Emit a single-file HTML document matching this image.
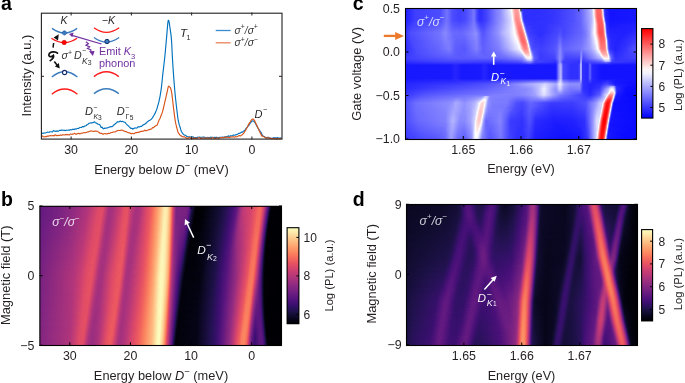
<!DOCTYPE html>
<html><head><meta charset="utf-8"><style>
html,body{margin:0;padding:0;background:#fff;width:685px;height:383px;overflow:hidden}
body{position:relative}
.hm{position:absolute;overflow:hidden}
.hm div{position:absolute;left:0;width:100%}
svg{position:absolute;left:0;top:0;display:block;font-family:'Liberation Sans', sans-serif;will-change:transform}
</style></head><body>
<div class="hm" style="left:40px;top:206px;width:242px;height:139px"><div style="top:0px;height:2px;background:linear-gradient(90deg,#641a80 0.5px,#752181 16.5px,#8c2981 32.5px,#a6317d 43.5px,#b5367a 48.5px,#e04c67 59.5px,#e24d66 62.5px,#de4968 63.5px,#aa337d 68.5px,#a1307e 70.5px,#ad347c 74.5px,#d2426f 81.5px,#e44f64 84.5px,#e85362 87.5px,#d9466b 89.5px,#b2357b 93.5px,#a5317e 96.5px,#ae347b 100.5px,#db476a 106.5px,#eb5760 110.5px,#f97b5d 114.5px,#feb078 119.5px,#fde0a1 123.5px,#fcecae 124.5px,#fcf0b2 125.5px,#fde3a5 127.5px,#febf84 129.5px,#fea36f 130.5px,#fa7e5e 131.5px,#e85362 132.5px,#ca3e72 133.5px,#aa337c 134.5px,#902a81 135.5px,#7e2482 136.5px,#782281 137.5px,#7c2382 145.5px,#6b1d81 148.5px,#60187f 149.5px,#491078 150.5px,#2c115f 151.5px,#19103f 152.5px,#02020c 155.5px,#000004 156.5px,#010106 163.5px,#07061b 170.5px,#160f3b 181.5px,#281159 187.5px,#491079 194.5px,#651a80 197.5px,#872781 199.5px,#a7327d 201.5px,#bd3977 203.5px,#cc3f71 207.5px,#d6446d 211.5px,#ed595f 216.5px,#f4675c 218.5px,#f4695c 220.5px,#e75263 222.5px,#d8456c 223.5px,#c03a76 224.5px,#7f2482 226.5px,#60187f 227.5px,#481078 228.5px,#20114b 229.5px,#0a0821 230.5px,#02020b 231.5px,#000004 232.5px,#000004 241.5px)"></div><div style="top:2px;height:2px;background:linear-gradient(90deg,#641a80 0.5px,#762181 17.5px,#932b80 34.5px,#ad347c 46.5px,#de4a68 58.5px,#e14c66 62.5px,#db486a 63.5px,#af347b 67.5px,#a3307e 69.5px,#a5317e 72.5px,#cc3f71 80.5px,#e24d66 83.5px,#e75263 87.5px,#cc3f71 90.5px,#b0357b 93.5px,#a5317e 96.5px,#aa337d 99.5px,#db486a 106.5px,#f05f5e 111.5px,#fa7c5e 114.5px,#feb179 119.5px,#fcecae 124.5px,#fcf0b2 125.5px,#fde2a4 127.5px,#febc82 129.5px,#fea06e 130.5px,#f97a5d 131.5px,#e65163 132.5px,#c83d73 133.5px,#8e2a81 135.5px,#7c2382 136.5px,#782281 138.5px,#7c2382 145.5px,#691c81 148.5px,#5c167f 149.5px,#410f74 150.5px,#241153 151.5px,#150e38 152.5px,#010108 155.5px,#000004 158.5px,#010108 163.5px,#08071e 171.5px,#19103f 182.5px,#3b0f70 191.5px,#55147d 195.5px,#6a1c81 197.5px,#9f2f7f 200.5px,#c03a76 203.5px,#cc3f71 207.5px,#db476a 212.5px,#ee5b5e 216.5px,#f4675c 218.5px,#f4685c 220.5px,#e55064 222.5px,#d2426f 223.5px,#b73779 224.5px,#752181 226.5px,#57157e 227.5px,#3d0f71 228.5px,#170f3b 229.5px,#060518 230.5px,#010107 231.5px,#000004 241.5px)"></div><div style="top:4px;height:2px;background:linear-gradient(90deg,#641a80 0.5px,#792282 19.5px,#932b80 34.5px,#ae347b 46.5px,#df4a68 58.5px,#e04b67 62.5px,#ad347c 67.5px,#a1307e 69.5px,#a6317d 72.5px,#ce4070 80.5px,#e34e65 83.5px,#e75263 87.5px,#bf3a77 91.5px,#aa337d 94.5px,#a6317d 97.5px,#b2357b 100.5px,#dc4869 106.5px,#ed595f 110.5px,#fa7e5e 114.5px,#feb37a 119.5px,#fceeb0 124.5px,#fdebac 126.5px,#fde2a3 127.5px,#feba80 129.5px,#fe9d6c 130.5px,#f9785d 131.5px,#e55064 132.5px,#c53c74 133.5px,#8c2981 135.5px,#7b2382 136.5px,#792282 142.5px,#7b2382 145.5px,#6f1e81 147.5px,#661b80 148.5px,#56147d 149.5px,#39106d 150.5px,#1e1149 151.5px,#120d31 152.5px,#000004 155.5px,#010106 162.5px,#140e36 179.5px,#271258 186.5px,#430f75 192.5px,#621980 196.5px,#6e1e81 197.5px,#a4317e 200.5px,#bb3878 202.5px,#cc3f71 206.5px,#d3436e 210.5px,#ea5661 215.5px,#f3655c 217.5px,#f4695c 219.5px,#f3665c 220.5px,#e14c66 222.5px,#cc3f71 223.5px,#af347b 224.5px,#8c2981 225.5px,#6b1c81 226.5px,#51127c 227.5px,#2d1161 228.5px,#0f0b2c 229.5px,#030311 230.5px,#000004 231.5px,#000004 241.5px)"></div><div style="top:6px;height:2px;background:linear-gradient(90deg,#651a80 0.5px,#732081 14.5px,#912b81 33.5px,#a5317e 42.5px,#b4367a 47.5px,#e04c67 58.5px,#de4a68 62.5px,#aa337c 67.5px,#a1307e 69.5px,#ad347c 73.5px,#d04170 80.5px,#e44f64 83.5px,#e55064 87.5px,#bc3977 91.5px,#a8327d 94.5px,#a6317d 97.5px,#b4367a 100.5px,#de4968 106.5px,#ed5a5f 110.5px,#f8765c 113.5px,#fea16e 117.5px,#fec085 120.5px,#fceeb0 124.5px,#fde9aa 126.5px,#fde0a1 127.5px,#feb87f 129.5px,#fd9b6b 130.5px,#f8755c 131.5px,#e34e65 132.5px,#c43c75 133.5px,#8b2981 135.5px,#7b2382 136.5px,#792282 145.5px,#6c1d81 147.5px,#611980 148.5px,#4d117a 149.5px,#2e1162 150.5px,#19103f 151.5px,#02020c 154.5px,#000004 155.5px,#010107 162.5px,#07061b 169.5px,#160f3b 180.5px,#311165 188.5px,#52137c 194.5px,#661b80 196.5px,#a7327d 200.5px,#bc3978 202.5px,#ca3e72 206.5px,#d9466b 211.5px,#ec5860 215.5px,#f3665c 217.5px,#f4695c 219.5px,#f3655c 220.5px,#eb5661 221.5px,#dc4869 222.5px,#c43c74 223.5px,#822581 225.5px,#611980 226.5px,#491078 227.5px,#20114b 228.5px,#090720 229.5px,#02010a 230.5px,#000004 231.5px,#000004 241.5px)"></div><div style="top:8px;height:2px;background:linear-gradient(90deg,#651a80 0.5px,#792282 18.5px,#932b80 33.5px,#b2357b 46.5px,#df4a68 57.5px,#e24d66 61.5px,#d1426f 63.5px,#a9327d 67.5px,#a1307e 69.5px,#b3357a 74.5px,#d3426e 80.5px,#e44f64 83.5px,#e85362 86.5px,#e55064 87.5px,#c53c74 90.5px,#ac337c 93.5px,#a5317e 95.5px,#ae347b 99.5px,#de4a68 106.5px,#ee5b5e 110.5px,#f9785d 113.5px,#fea36f 117.5px,#fec186 120.5px,#fcf0b2 124.5px,#fde9aa 126.5px,#fde0a1 127.5px,#feb77e 129.5px,#fd9a6a 130.5px,#f7725c 131.5px,#e14c66 132.5px,#c13b76 133.5px,#a2307e 134.5px,#8b2981 135.5px,#7b2382 136.5px,#772181 145.5px,#5c167f 148.5px,#430f75 149.5px,#251255 150.5px,#150e38 151.5px,#010107 154.5px,#000004 160.5px,#120d31 177.5px,#221150 184.5px,#410f74 191.5px,#5f187f 195.5px,#7b2382 197.5px,#a9327d 200.5px,#bc3978 202.5px,#ca3e72 206.5px,#d5446d 210.5px,#ed595f 215.5px,#f4675c 217.5px,#f4695c 219.5px,#f1615d 220.5px,#e85362 221.5px,#d6456c 222.5px,#bd3977 223.5px,#9b2e7f 224.5px,#59157e 226.5px,#3f0f72 227.5px,#170f3c 228.5px,#060518 229.5px,#010107 230.5px,#000004 240.5px,#000004 241.5px)"></div><div style="top:10px;height:2px;background:linear-gradient(90deg,#661b80 0.5px,#792282 17.5px,#912b81 32.5px,#af347b 45.5px,#e04b67 57.5px,#e04c67 61.5px,#ae347c 66.5px,#a1307e 69.5px,#b83779 75.5px,#dc4869 81.5px,#e75263 84.5px,#e85362 86.5px,#e44e65 87.5px,#b83779 91.5px,#a6317d 94.5px,#aa337c 98.5px,#db476a 105.5px,#ef5d5e 110.5px,#f9795d 113.5px,#fead76 118.5px,#fddd9f 122.5px,#fcf0b2 124.5px,#fde9aa 126.5px,#fddea0 127.5px,#feb67c 129.5px,#fd9869 130.5px,#f66f5c 131.5px,#e04b67 132.5px,#c03a76 133.5px,#a1307e 134.5px,#892881 135.5px,#7b2382 136.5px,#742081 145.5px,#631980 147.5px,#56147d 148.5px,#39106d 149.5px,#20114b 150.5px,#120d31 151.5px,#010005 154.5px,#010106 161.5px,#08071e 170.5px,#1a1042 181.5px,#3e0f72 190.5px,#58157e 194.5px,#6f1e81 196.5px,#9f2f7f 199.5px,#b5367a 201.5px,#c73d73 205.5px,#d6456c 210.5px,#e95462 214.5px,#f4685c 217.5px,#f4695c 219.5px,#e55064 221.5px,#d0416f 222.5px,#b4367a 223.5px,#902a81 224.5px,#52137c 226.5px,#301164 227.5px,#100c2e 228.5px,#030311 229.5px,#000004 230.5px,#000004 241.5px)"></div><div style="top:12px;height:2px;background:linear-gradient(90deg,#671b80 0.5px,#792282 16.5px,#922b80 32.5px,#b1357b 45.5px,#de4968 56.5px,#e24d66 60.5px,#df4a68 61.5px,#ac337c 66.5px,#a1307e 68.5px,#ac337c 72.5px,#d7456c 80.5px,#e55064 83.5px,#e85362 86.5px,#cc3f71 89.5px,#ae347b 92.5px,#a5317e 95.5px,#ab337c 98.5px,#db486a 105.5px,#eb5760 109.5px,#f97a5d 113.5px,#feae77 118.5px,#fddfa1 122.5px,#fdebac 123.5px,#fcf0b2 124.5px,#fde9aa 126.5px,#fddd9f 127.5px,#feb47b 129.5px,#fd9668 130.5px,#f66c5c 131.5px,#de4968 132.5px,#be3977 133.5px,#9f2f7f 134.5px,#882881 135.5px,#7b2382 136.5px,#752181 144.5px,#681c81 146.5px,#5e177f 147.5px,#4d117a 148.5px,#2f1163 149.5px,#1a1041 150.5px,#08061d 152.5px,#02020c 153.5px,#000004 154.5px,#010108 161.5px,#110c30 176.5px,#22114f 183.5px,#3f0f73 190.5px,#5b167f 194.5px,#742081 196.5px,#a2307e 199.5px,#bc3978 202.5px,#d7456c 210.5px,#ea5661 214.5px,#f3665c 216.5px,#f4695c 219.5px,#ee5b5f 220.5px,#e04c67 221.5px,#ca3e72 222.5px,#872781 224.5px,#661b80 225.5px,#4b117a 226.5px,#231150 227.5px,#0a0822 228.5px,#02010a 229.5px,#000004 230.5px,#000004 241.5px)"></div><div style="top:14px;height:2px;background:linear-gradient(90deg,#671b80 0.5px,#862781 25.5px,#b3357a 45.5px,#df4a68 56.5px,#e24d66 60.5px,#d3426e 62.5px,#aa337d 66.5px,#a1307e 68.5px,#ae347c 72.5px,#d9466b 80.5px,#e75263 83.5px,#e75263 86.5px,#be3977 90.5px,#a8327d 93.5px,#a6317d 96.5px,#b4367a 99.5px,#dc4869 105.5px,#ec5860 109.5px,#fa7c5e 113.5px,#feb078 118.5px,#fdecad 123.5px,#fcf2b4 124.5px,#fde9aa 126.5px,#fddc9e 127.5px,#feb27a 129.5px,#fd9467 130.5px,#f56a5c 131.5px,#db486a 132.5px,#bc3978 133.5px,#9d2f7f 134.5px,#882781 135.5px,#7c2382 136.5px,#722081 144.5px,#641a80 146.5px,#59157e 147.5px,#430f75 148.5px,#261156 149.5px,#150e38 150.5px,#010108 153.5px,#000004 156.5px,#02020b 162.5px,#120d31 176.5px,#221150 183.5px,#420f75 190.5px,#5e177f 194.5px,#a4317e 199.5px,#bc3978 202.5px,#dd4969 211.5px,#ec5860 214.5px,#f4675c 216.5px,#f56b5c 218.5px,#f3665c 219.5px,#ec5860 220.5px,#dc4869 221.5px,#c23b75 222.5px,#a1307e 223.5px,#5d177f 225.5px,#430f75 226.5px,#180f3e 227.5px,#06051a 228.5px,#010107 229.5px,#000004 239.5px,#000004 241.5px)"></div><div style="top:16px;height:2px;background:linear-gradient(90deg,#681c81 0.5px,#7a2382 16.5px,#972d80 33.5px,#b4367a 45.5px,#e04c67 56.5px,#e14c66 60.5px,#c43c74 63.5px,#a8327d 66.5px,#a1307e 68.5px,#b4367a 73.5px,#db486a 80.5px,#e75263 83.5px,#e75263 86.5px,#bc3978 90.5px,#a7327d 93.5px,#a8327d 96.5px,#ae347b 98.5px,#dd4969 105.5px,#ed5a5f 109.5px,#fa7e5e 113.5px,#feb27a 118.5px,#fcedaf 123.5px,#fcf2b4 124.5px,#fde7a9 126.5px,#fec88c 128.5px,#feb078 129.5px,#fd9165 130.5px,#f4675c 131.5px,#da476a 132.5px,#ba3878 133.5px,#9c2e7f 134.5px,#872781 135.5px,#7c2382 136.5px,#6f1e81 144.5px,#54137d 147.5px,#3a0f6f 148.5px,#20114b 149.5px,#120d31 150.5px,#010005 153.5px,#010107 160.5px,#060519 167.5px,#180f3d 179.5px,#390f6e 188.5px,#58157e 193.5px,#6e1e81 195.5px,#8f2a81 197.5px,#af347b 200.5px,#c43c75 204.5px,#d9466b 210.5px,#ed595f 214.5px,#f4695c 216.5px,#f56b5c 218.5px,#f3655c 219.5px,#e85362 220.5px,#d6456c 221.5px,#bb3878 222.5px,#972d80 223.5px,#56147d 225.5px,#36106b 226.5px,#120d31 227.5px,#040313 228.5px,#010005 229.5px,#000004 241.5px)"></div><div style="top:18px;height:2px;background:linear-gradient(90deg,#681c81 0.5px,#892881 26.5px,#b2357b 44.5px,#de4a68 55.5px,#e34e65 59.5px,#d7456c 61.5px,#ac337c 65.5px,#a1307e 68.5px,#c03a76 75.5px,#e55064 82.5px,#e95462 85.5px,#e55064 86.5px,#b93878 90.5px,#a6317d 93.5px,#ab337c 97.5px,#de4968 105.5px,#ee5b5f 109.5px,#fa805f 113.5px,#feb37a 118.5px,#fceeb0 123.5px,#fcf2b4 124.5px,#fde7a9 126.5px,#fec68a 128.5px,#feae77 129.5px,#fc8f64 130.5px,#f3655c 131.5px,#d8456c 132.5px,#b73779 133.5px,#9a2e7f 134.5px,#862781 135.5px,#7c2382 136.5px,#6c1d81 144.5px,#5b167f 146.5px,#4d117a 147.5px,#301164 148.5px,#1a1042 149.5px,#0e0b2b 150.5px,#02020c 152.5px,#010005 153.5px,#010108 160.5px,#100b2d 174.5px,#1e1149 181.5px,#400f74 189.5px,#5b167f 193.5px,#722081 195.5px,#9c2e7f 198.5px,#b0357b 200.5px,#c53c74 205.5px,#df4a68 211.5px,#ef5c5e 214.5px,#f56a5c 216.5px,#f56c5c 218.5px,#f1615d 219.5px,#e55064 220.5px,#d0416f 221.5px,#b3357a 222.5px,#8e2a81 223.5px,#6b1d81 224.5px,#4f127b 225.5px,#29115a 226.5px,#0c0926 227.5px,#02020c 228.5px,#000004 229.5px,#000004 241.5px)"></div><div style="top:20px;height:2px;background:linear-gradient(90deg,#691c81 0.5px,#842681 22.5px,#a1307e 36.5px,#b3357a 44.5px,#e04b67 55.5px,#e24d66 59.5px,#d4436d 61.5px,#aa337c 65.5px,#a1307e 67.5px,#ae347c 71.5px,#d9466b 79.5px,#e75263 82.5px,#e95462 85.5px,#da476a 87.5px,#ae347b 91.5px,#a5317e 94.5px,#b2357b 98.5px,#df4a68 105.5px,#ef5c5e 109.5px,#f9785d 112.5px,#fea16e 116.5px,#fec185 119.5px,#fcf0b2 123.5px,#fceeb0 125.5px,#fde7a9 126.5px,#fec589 128.5px,#feac76 129.5px,#fc8d63 130.5px,#f1615d 131.5px,#d6446d 132.5px,#b63779 133.5px,#982d80 134.5px,#842681 135.5px,#722081 140.5px,#6e1e81 143.5px,#611980 145.5px,#56147d 146.5px,#440f76 147.5px,#281159 148.5px,#150e38 149.5px,#050417 151.5px,#010109 152.5px,#010005 156.5px,#02020b 161.5px,#0d0a29 172.5px,#1c1145 180.5px,#3d0f71 188.5px,#55147d 192.5px,#772181 195.5px,#9e2f7f 198.5px,#b5367a 201.5px,#db486a 210.5px,#ea5661 213.5px,#f4675c 215.5px,#f56b5c 218.5px,#ef5e5e 219.5px,#e14c66 220.5px,#c93e72 221.5px,#852781 223.5px,#631980 224.5px,#481078 225.5px,#1e1148 226.5px,#08071e 227.5px,#010109 228.5px,#000004 230.5px,#000004 241.5px)"></div><div style="top:22px;height:2px;background:linear-gradient(90deg,#6a1c81 0.5px,#842681 21.5px,#9c2e7f 34.5px,#b4367a 44.5px,#de4968 54.5px,#e34e65 58.5px,#db486a 60.5px,#b0357b 64.5px,#a1307e 67.5px,#af347b 71.5px,#da476a 79.5px,#e75263 82.5px,#e85362 85.5px,#d7456c 87.5px,#b4367a 90.5px,#a5317e 93.5px,#ae347c 97.5px,#db476a 104.5px,#ef5e5e 109.5px,#fb835f 113.5px,#feb67d 118.5px,#fde8aa 122.5px,#fcf1b3 123.5px,#fcf2b4 124.5px,#fde5a7 126.5px,#fec388 128.5px,#feaa74 129.5px,#fc8a62 130.5px,#f05f5d 131.5px,#d4436d 132.5px,#b3367a 133.5px,#972d80 134.5px,#842681 135.5px,#721f81 140.5px,#6c1d81 143.5px,#51127c 146.5px,#3a0f6f 147.5px,#20114d 148.5px,#120d31 149.5px,#010005 152.5px,#010108 159.5px,#0c0926 171.5px,#1d1147 180.5px,#3f0f72 188.5px,#58157e 192.5px,#6c1d81 194.5px,#952c80 197.5px,#b0357b 200.5px,#d8456c 209.5px,#ec5860 213.5px,#f4695c 215.5px,#f66c5c 217.5px,#f4695c 218.5px,#ed595f 219.5px,#dc4869 220.5px,#c23b75 221.5px,#a1307e 222.5px,#7c2382 223.5px,#5b167e 224.5px,#3f0f73 225.5px,#160f39 226.5px,#050416 227.5px,#010005 228.5px,#000004 241.5px)"></div><div style="top:24px;height:2px;background:linear-gradient(90deg,#6a1c81 0.5px,#922b80 29.5px,#b63779 44.5px,#df4a68 54.5px,#e34e65 58.5px,#d9466b 60.5px,#ae347c 64.5px,#a3307e 66.5px,#a7327d 69.5px,#d6446d 78.5px,#e55064 81.5px,#e85362 85.5px,#c93e72 88.5px,#ab337c 91.5px,#a5317e 93.5px,#ae347b 97.5px,#dc4869 104.5px,#f05f5e 109.5px,#fb8560 113.5px,#feb87f 118.5px,#fdeaab 122.5px,#fcf2b4 123.5px,#fcecae 125.5px,#fde5a7 126.5px,#fec287 128.5px,#fea974 129.5px,#fc8961 130.5px,#ef5c5e 131.5px,#d2426f 132.5px,#b1357b 133.5px,#962c80 134.5px,#842681 135.5px,#701f81 140.5px,#691c81 143.5px,#4b117a 146.5px,#321066 147.5px,#1a1042 148.5px,#0e0b2b 149.5px,#02020c 151.5px,#010005 152.5px,#010109 159.5px,#090720 169.5px,#1c1044 179.5px,#400f74 188.5px,#5b167f 192.5px,#7f2482 195.5px,#a1307e 198.5px,#bf3a77 203.5px,#de4968 210.5px,#ed5a5f 213.5px,#f56b5c 215.5px,#f66d5c 217.5px,#f3665c 218.5px,#e95561 219.5px,#d6456c 220.5px,#bb3878 221.5px,#972d80 222.5px,#732081 223.5px,#54137d 224.5px,#331067 225.5px,#100c2e 226.5px,#030311 227.5px,#000004 228.5px,#000004 241.5px)"></div><div style="top:26px;height:2px;background:linear-gradient(90deg,#6b1d81 0.5px,#802582 17.5px,#9c2e7f 33.5px,#b73779 44.5px,#dd4969 53.5px,#e34e65 58.5px,#d6446d 60.5px,#ab337c 64.5px,#a3307e 66.5px,#a8327d 69.5px,#d8456c 78.5px,#e65163 81.5px,#e75263 85.5px,#ba3878 89.5px,#aa337d 91.5px,#a6317d 94.5px,#b0357b 97.5px,#dd4969 104.5px,#ed595f 108.5px,#fa7c5e 112.5px,#feaf78 117.5px,#fdecad 122.5px,#fcf2b4 123.5px,#fcecae 125.5px,#fde3a5 126.5px,#fec185 128.5px,#fea872 129.5px,#fb8660 130.5px,#ed5a5f 131.5px,#d04170 132.5px,#af347b 133.5px,#942c80 134.5px,#832681 135.5px,#6f1e81 140.5px,#661b80 143.5px,#53137d 145.5px,#440f76 146.5px,#29115a 147.5px,#150e38 148.5px,#050417 150.5px,#010109 151.5px,#010005 155.5px,#08071e 168.5px,#1c1145 179.5px,#3d0f71 187.5px,#5d177f 192.5px,#992d80 197.5px,#b5367a 201.5px,#da476a 209.5px,#e85362 212.5px,#f56c5c 215.5px,#f66e5c 217.5px,#f2635d 218.5px,#e65163 219.5px,#d0416f 220.5px,#b3357a 221.5px,#8d2981 222.5px,#6b1c81 223.5px,#4e117b 224.5px,#271158 225.5px,#0b0924 226.5px,#02020c 227.5px,#000004 228.5px,#000004 241.5px)"></div><div style="top:28px;height:2px;background:linear-gradient(90deg,#6b1d81 0.5px,#922b80 28.5px,#b5367a 43.5px,#de4a68 53.5px,#e44e65 57.5px,#dd4969 59.5px,#b1357b 63.5px,#a5317e 65.5px,#a5317e 68.5px,#da476a 78.5px,#e75263 81.5px,#e95462 84.5px,#e65163 85.5px,#b73779 89.5px,#a9327d 91.5px,#a6317d 94.5px,#b2357b 97.5px,#de4968 104.5px,#ee5b5f 108.5px,#fa7e5e 112.5px,#fea772 116.5px,#feca8d 119.5px,#fcecae 122.5px,#fcf4b6 123.5px,#fcecae 125.5px,#fde3a5 126.5px,#febf84 128.5px,#fea671 129.5px,#fb8460 130.5px,#ec5860 131.5px,#cd4071 132.5px,#ae347c 133.5px,#942b80 134.5px,#832681 135.5px,#6e1e81 140.5px,#631980 143.5px,#4e117b 145.5px,#3b0f70 146.5px,#21114e 147.5px,#120d31 148.5px,#010106 151.5px,#010108 158.5px,#08071e 168.5px,#1d1147 179.5px,#3f0f72 187.5px,#57157e 191.5px,#792282 194.5px,#a3307e 198.5px,#c23b75 204.5px,#e55064 211.5px,#f4685c 214.5px,#f66e5c 216.5px,#f66c5c 217.5px,#f05f5d 218.5px,#e24d66 219.5px,#ca3e72 220.5px,#852781 222.5px,#631980 223.5px,#471078 224.5px,#1c1145 225.5px,#08061d 226.5px,#010109 227.5px,#000004 229.5px,#000004 241.5px)"></div><div style="top:30px;height:2px;background:linear-gradient(90deg,#6c1d81 0.5px,#852781 19.5px,#a1307e 34.5px,#bb3878 44.5px,#dc4869 52.5px,#e34e65 57.5px,#da476a 59.5px,#af347b 63.5px,#a4317e 65.5px,#a6317d 68.5px,#db486a 78.5px,#e75263 81.5px,#e95462 84.5px,#da476a 86.5px,#b5367a 89.5px,#a5317e 92.5px,#ae347c 96.5px,#de4a68 104.5px,#ee5b5e 108.5px,#fa7f5e 112.5px,#feb27a 117.5px,#fceeb0 122.5px,#fcf4b6 123.5px,#fcecae 125.5px,#fed194 127.5px,#febe83 128.5px,#fea470 129.5px,#fa805f 130.5px,#ea5661 131.5px,#cb3f72 132.5px,#ab337c 133.5px,#932b80 134.5px,#832681 135.5px,#6c1d81 140.5px,#5f187f 143.5px,#491078 145.5px,#331067 146.5px,#1c1044 147.5px,#0f0b2c 148.5px,#02020c 150.5px,#010106 151.5px,#020109 158.5px,#09071f 168.5px,#1e1149 179.5px,#400f74 187.5px,#59157e 191.5px,#9b2e7f 197.5px,#ba3878 202.5px,#dc4869 209.5px,#ec5860 212.5px,#f56b5c 214.5px,#f66e5c 216.5px,#f56c5c 217.5px,#ef5c5e 218.5px,#de4968 219.5px,#c43c75 220.5px,#a1307e 221.5px,#5c167f 223.5px,#3f0f73 224.5px,#160f3b 225.5px,#050417 226.5px,#010005 227.5px,#000004 241.5px)"></div><div style="top:32px;height:2px;background:linear-gradient(90deg,#6d1d81 0.5px,#922b80 27.5px,#b83779 43.5px,#de4968 52.5px,#e44f64 56.5px,#e04b67 58.5px,#ac337c 63.5px,#a3307e 65.5px,#a8327d 68.5px,#dd4969 78.5px,#e85362 81.5px,#e95462 84.5px,#d7456c 86.5px,#b3357a 89.5px,#a6317d 91.5px,#aa337c 95.5px,#df4a68 104.5px,#ef5d5e 108.5px,#fa815f 112.5px,#feb47b 117.5px,#fde6a8 121.5px,#fcf0b2 122.5px,#fcf4b6 123.5px,#fdecad 125.5px,#fed093 127.5px,#fea26f 129.5px,#fa7e5e 130.5px,#e85362 131.5px,#c93e72 132.5px,#a9327d 133.5px,#912b81 134.5px,#832681 135.5px,#6b1c81 140.5px,#5b167f 143.5px,#430f75 145.5px,#2a115c 146.5px,#160f3b 147.5px,#0c0925 148.5px,#010109 150.5px,#010108 157.5px,#090720 168.5px,#1c1044 178.5px,#3d0f71 186.5px,#54137d 190.5px,#711f81 193.5px,#932b80 196.5px,#b5367a 201.5px,#de4968 209.5px,#ee5b5f 212.5px,#f66c5c 214.5px,#f7705c 216.5px,#f4695c 217.5px,#eb5760 218.5px,#d8456c 219.5px,#bc3978 220.5px,#982d80 221.5px,#56147d 223.5px,#35106a 224.5px,#110c2f 225.5px,#040313 226.5px,#000004 227.5px,#000004 241.5px)"></div><div style="top:34px;height:2px;background:linear-gradient(90deg,#6d1d81 0.5px,#992d80 30.5px,#ba3878 43.5px,#df4a68 52.5px,#e34e65 57.5px,#d4436d 59.5px,#aa337c 63.5px,#a3307e 66.5px,#b93878 71.5px,#e75263 80.5px,#e85362 84.5px,#d6446d 86.5px,#b1357b 89.5px,#a6317d 91.5px,#ab337c 95.5px,#e04b67 104.5px,#f05f5e 108.5px,#fb835f 112.5px,#feb67c 117.5px,#fde8aa 121.5px,#fcf1b3 122.5px,#fcf4b6 123.5px,#fdebac 125.5px,#fecf92 127.5px,#febb81 128.5px,#fea06e 129.5px,#f97a5d 130.5px,#e65163 131.5px,#c63d74 132.5px,#a7327d 133.5px,#902a81 134.5px,#832681 135.5px,#6c1d81 139.5px,#60187f 142.5px,#4b117a 144.5px,#3b0f70 145.5px,#221150 146.5px,#120d33 147.5px,#010107 150.5px,#010109 157.5px,#08071e 167.5px,#1d1147 178.5px,#3f0f72 186.5px,#56147d 190.5px,#942c80 196.5px,#ba3878 202.5px,#df4a68 209.5px,#ef5c5e 212.5px,#f66d5c 214.5px,#f7705c 216.5px,#f3665c 217.5px,#e85362 218.5px,#d2426f 219.5px,#b5367a 220.5px,#902a81 221.5px,#50127b 223.5px,#2b115d 224.5px,#0d0a29 225.5px,#03020e 226.5px,#000004 227.5px,#000004 241.5px)"></div><div style="top:36px;height:2px;background:linear-gradient(90deg,#6e1e81 0.5px,#982d80 29.5px,#b73779 42.5px,#dd4969 51.5px,#e44f64 56.5px,#db486a 58.5px,#af347b 62.5px,#a3307e 65.5px,#aa337c 68.5px,#e04c67 78.5px,#e95462 82.5px,#e75263 84.5px,#b83779 88.5px,#a9327d 90.5px,#a6317d 93.5px,#b93878 97.5px,#e04c67 104.5px,#f05f5d 108.5px,#fb8460 112.5px,#feac76 116.5px,#fdeaab 121.5px,#fcf2b4 122.5px,#fcf0b2 124.5px,#fdebac 125.5px,#fecd90 127.5px,#feb97f 128.5px,#fe9d6c 129.5px,#f9785d 130.5px,#e55064 131.5px,#c43c74 132.5px,#a5317e 133.5px,#902a81 134.5px,#832681 135.5px,#6b1c81 139.5px,#5d177f 142.5px,#461077 144.5px,#331068 145.5px,#1c1044 146.5px,#0f0b2c 147.5px,#02020d 149.5px,#010106 150.5px,#020109 157.5px,#08071e 167.5px,#1e1148 178.5px,#3b0f70 185.5px,#58157e 190.5px,#942c80 196.5px,#ba3878 202.5px,#e55064 210.5px,#f56a5c 213.5px,#f66f5c 216.5px,#f2635d 217.5px,#e44e65 218.5px,#cc3f71 219.5px,#ad347c 220.5px,#882781 221.5px,#671b80 222.5px,#4a1079 223.5px,#20114d 224.5px,#0a0821 225.5px,#02010a 226.5px,#000004 227.5px,#000004 241.5px)"></div><div style="top:38px;height:2px;background:linear-gradient(90deg,#6e1e81 0.5px,#9b2e7f 30.5px,#bd3977 43.5px,#de4968 51.5px,#e44f64 56.5px,#d9466b 58.5px,#ae347c 62.5px,#a4317e 64.5px,#a7327d 67.5px,#dd4969 77.5px,#e95462 81.5px,#ea5661 83.5px,#e65163 84.5px,#b63779 88.5px,#a8327d 90.5px,#a5317e 92.5px,#b3367a 96.5px,#de4968 103.5px,#ed5a5f 107.5px,#fa7c5e 111.5px,#fea36f 115.5px,#fec78b 118.5px,#fdebac 121.5px,#fcf4b6 122.5px,#fcf0b2 124.5px,#fdebac 125.5px,#fecc90 127.5px,#feb77e 128.5px,#fd9b6b 129.5px,#f8755c 130.5px,#e24d66 131.5px,#c23b75 132.5px,#a3307e 133.5px,#8e2a81 134.5px,#742081 137.5px,#58157e 142.5px,#400f74 144.5px,#2b115d 145.5px,#160f3b 146.5px,#0c0925 147.5px,#02010a 149.5px,#010106 152.5px,#02020d 159.5px,#07061c 166.5px,#1c1044 177.5px,#3d0f71 185.5px,#5a167e 190.5px,#962c80 196.5px,#bf3a77 203.5px,#e65163 210.5px,#f56c5c 213.5px,#f7715c 215.5px,#f66d5c 216.5px,#f05f5d 217.5px,#df4a68 218.5px,#c53c74 219.5px,#802581 221.5px,#5f187f 222.5px,#440f76 223.5px,#1a1042 224.5px,#07061c 225.5px,#010107 226.5px,#000004 236.5px,#000004 241.5px)"></div><div style="top:40px;height:2px;background:linear-gradient(90deg,#6e1e81 0.5px,#9e2f7f 31.5px,#bb3878 42.5px,#df4a68 51.5px,#e44f64 55.5px,#de4a68 57.5px,#ab337c 62.5px,#a3307e 65.5px,#b3367a 69.5px,#e34e65 78.5px,#ea5661 83.5px,#da476a 85.5px,#b3357a 88.5px,#a6317d 90.5px,#ab337c 94.5px,#e24d66 104.5px,#f2635d 108.5px,#fb8761 112.5px,#feaf78 116.5px,#fcecae 121.5px,#fcf4b6 122.5px,#fcf0b2 124.5px,#fddc9e 126.5px,#feb67c 128.5px,#fd9a6a 129.5px,#f7715c 130.5px,#e04b67 131.5px,#c03a76 132.5px,#a1307e 133.5px,#8d2981 134.5px,#6c1d81 138.5px,#55147d 142.5px,#3b0f70 144.5px,#241153 145.5px,#130d34 146.5px,#040313 148.5px,#010108 149.5px,#020109 156.5px,#07061c 166.5px,#1c1145 177.5px,#3e0f72 185.5px,#5d177f 190.5px,#962c80 196.5px,#d2426f 206.5px,#e75263 210.5px,#f66d5c 213.5px,#f7725c 215.5px,#f56c5c 216.5px,#ee5b5f 217.5px,#da476a 218.5px,#bf3a77 219.5px,#9c2e7f 220.5px,#5a167e 222.5px,#3d0f71 223.5px,#150e38 224.5px,#050417 225.5px,#010005 226.5px,#000004 241.5px)"></div><div style="top:42px;height:2px;background:linear-gradient(90deg,#701f81 0.5px,#9b2e7f 29.5px,#bc3977 42.5px,#de4968 50.5px,#e44f64 55.5px,#dc4869 57.5px,#b1357b 61.5px,#a5317e 63.5px,#a5317e 66.5px,#e04c67 77.5px,#e95561 81.5px,#e95462 83.5px,#d7456c 85.5px,#b1357b 88.5px,#a6317d 90.5px,#a9327d 93.5px,#df4a68 103.5px,#ef5c5e 107.5px,#fa7f5e 111.5px,#fea772 115.5px,#fecc8f 118.5px,#fceeb0 121.5px,#fcf5b7 122.5px,#fcf0b2 124.5px,#fde9aa 125.5px,#feca8d 127.5px,#feb57c 128.5px,#fd9869 129.5px,#f66f5c 130.5px,#de4a68 131.5px,#bd3977 132.5px,#a02f7f 133.5px,#8c2981 134.5px,#6b1c81 138.5px,#59157e 141.5px,#440f76 143.5px,#331068 144.5px,#1d1147 145.5px,#0f0b2c 146.5px,#03020e 148.5px,#010108 149.5px,#02020b 157.5px,#06051a 165.5px,#1d1147 177.5px,#3f0f73 185.5px,#56147d 189.5px,#962c80 196.5px,#cc3f71 205.5px,#e85362 210.5px,#f66e5c 213.5px,#f7725c 215.5px,#f4695c 216.5px,#ea5661 217.5px,#d5446d 218.5px,#b83779 219.5px,#942c80 220.5px,#55147d 222.5px,#341069 223.5px,#110c30 224.5px,#040313 225.5px,#000004 226.5px,#000004 241.5px)"></div><div style="top:44px;height:2px;background:linear-gradient(90deg,#701f81 0.5px,#a1307e 31.5px,#bd3977 42.5px,#db486a 49.5px,#e55064 54.5px,#e14c66 56.5px,#d04170 58.5px,#ae347b 61.5px,#a3307e 64.5px,#ac337c 67.5px,#e55064 78.5px,#ea5661 82.5px,#e85362 83.5px,#d5446d 85.5px,#ae347b 88.5px,#a5317e 91.5px,#b3357a 95.5px,#df4a68 103.5px,#ef5e5e 107.5px,#fa815f 111.5px,#fea872 115.5px,#fecd90 118.5px,#fcf0b2 121.5px,#fcf6b8 122.5px,#fcf0b2 124.5px,#fdda9c 126.5px,#feb37a 128.5px,#fd9668 129.5px,#f56c5c 130.5px,#db486a 131.5px,#bb3878 132.5px,#9e2f7f 133.5px,#8c2981 134.5px,#691c81 138.5px,#56147d 141.5px,#3e0f72 143.5px,#2c115f 144.5px,#180f3d 145.5px,#0c0926 146.5px,#02010a 148.5px,#02010a 156.5px,#06051a 165.5px,#120d31 171.5px,#21114e 178.5px,#3c0f70 184.5px,#59157e 189.5px,#902a81 195.5px,#ce4070 205.5px,#ea5661 210.5px,#f56c5c 212.5px,#f7725c 215.5px,#f3665c 216.5px,#e65163 217.5px,#b2357b 219.5px,#8e2a81 220.5px,#50127b 222.5px,#2c115f 223.5px,#0e0a2a 224.5px,#03030f 225.5px,#000004 226.5px,#000004 241.5px)"></div><div style="top:46px;height:2px;background:linear-gradient(90deg,#711f81 0.5px,#a4317e 32.5px,#bf3a77 42.5px,#dd4969 49.5px,#e55064 54.5px,#e04b67 56.5px,#ac337c 61.5px,#a3307e 64.5px,#ae347c 67.5px,#e34e65 77.5px,#ea5661 82.5px,#e75263 83.5px,#d3426e 85.5px,#b63779 87.5px,#a8327d 89.5px,#a5317e 91.5px,#b3367a 95.5px,#e04c67 103.5px,#f05f5e 107.5px,#fb825f 111.5px,#fea974 115.5px,#fed093 118.5px,#fcf1b3 121.5px,#fcf6b8 122.5px,#fcf0b2 124.5px,#fed89a 126.5px,#fec88c 127.5px,#feb179 128.5px,#fd9366 129.5px,#f4685c 130.5px,#da476a 131.5px,#b83779 132.5px,#9c2e7f 133.5px,#8b2981 134.5px,#671b80 138.5px,#52137c 141.5px,#38106c 143.5px,#140e35 145.5px,#040313 147.5px,#010109 148.5px,#020109 155.5px,#060518 164.5px,#120d31 171.5px,#1e1149 177.5px,#39106d 183.5px,#5b167f 189.5px,#962c80 196.5px,#d04170 205.5px,#ec5860 210.5px,#f66d5c 212.5px,#f8735c 214.5px,#f7705c 215.5px,#f2635d 216.5px,#e24d66 217.5px,#ca3e72 218.5px,#862781 220.5px,#4b117a 222.5px,#241153 223.5px,#0c0925 224.5px,#02020c 225.5px,#000004 226.5px,#000004 241.5px)"></div><div style="top:48px;height:2px;background:linear-gradient(90deg,#721f81 0.5px,#a5317e 32.5px,#c03a76 42.5px,#de4a68 49.5px,#e55064 54.5px,#dd4969 56.5px,#b3357a 60.5px,#a5317e 62.5px,#a5317e 65.5px,#e04c67 76.5px,#ea5661 80.5px,#ea5661 82.5px,#e65163 83.5px,#c03a76 86.5px,#aa337c 88.5px,#a5317e 90.5px,#b0357b 94.5px,#e14c66 103.5px,#f1605d 107.5px,#fb8460 111.5px,#feab75 115.5px,#fed295 118.5px,#fcf3b5 121.5px,#fcf4b6 123.5px,#fde6a8 125.5px,#fec68a 127.5px,#feaf78 128.5px,#fd9165 129.5px,#f3655c 130.5px,#d7456c 131.5px,#b63779 132.5px,#9c2e7f 133.5px,#8b2981 134.5px,#651a80 138.5px,#4e117b 141.5px,#410f74 142.5px,#331067 143.5px,#1e1149 144.5px,#100b2d 145.5px,#03020e 147.5px,#010108 148.5px,#02020b 156.5px,#07061c 165.5px,#100b2d 169.5px,#1d1147 176.5px,#3a0f6f 183.5px,#55147d 188.5px,#962c80 196.5px,#d1426f 205.5px,#e75263 209.5px,#f66f5c 212.5px,#f8745c 214.5px,#f66e5c 215.5px,#ef5e5e 216.5px,#de4968 217.5px,#c43c75 218.5px,#802582 220.5px,#601880 221.5px,#461077 222.5px,#1d1147 223.5px,#0a0821 224.5px,#010109 225.5px,#000004 227.5px,#000004 241.5px)"></div><div style="top:50px;height:2px;background:linear-gradient(90deg,#721f81 0.5px,#a3307e 31.5px,#c23b75 42.5px,#dc4869 48.5px,#e55064 53.5px,#e24d66 55.5px,#d1426f 57.5px,#af347b 60.5px,#a5317e 62.5px,#a6317d 65.5px,#e24d66 76.5px,#ea5661 81.5px,#ea5661 82.5px,#d9466b 84.5px,#b1357b 87.5px,#a6317d 89.5px,#aa337d 92.5px,#c33b75 97.5px,#e55064 104.5px,#f56b5c 108.5px,#fc8e64 112.5px,#feb87f 116.5px,#fde1a2 119.5px,#fcf4b6 121.5px,#fcf4b6 123.5px,#fde5a7 125.5px,#fec589 127.5px,#fead76 128.5px,#fc8f64 129.5px,#f1615d 130.5px,#d5446d 131.5px,#b4367a 132.5px,#9b2e7f 133.5px,#802582 135.5px,#631980 138.5px,#491079 141.5px,#3b0f70 142.5px,#2c115f 143.5px,#19103f 144.5px,#0d0a27 145.5px,#02020b 147.5px,#010108 151.5px,#050416 163.5px,#130d34 171.5px,#20114d 177.5px,#3b0f70 183.5px,#56147d 188.5px,#902a81 195.5px,#cc3f71 204.5px,#e85362 209.5px,#f56a5c 211.5px,#f8745c 213.5px,#f8745c 214.5px,#f56c5c 215.5px,#ed595f 216.5px,#d8456c 217.5px,#bd3977 218.5px,#7b2382 220.5px,#5c167f 221.5px,#410f74 222.5px,#19103f 223.5px,#08061d 224.5px,#010106 225.5px,#000004 241.5px)"></div><div style="top:52px;height:2px;background:linear-gradient(90deg,#732081 0.5px,#a6317d 32.5px,#c43c75 42.5px,#de4968 48.5px,#e55064 53.5px,#e04c67 55.5px,#ae347c 60.5px,#a5317e 62.5px,#a8327d 65.5px,#e34e65 76.5px,#eb5760 81.5px,#e95561 82.5px,#d7456c 84.5px,#ae347b 87.5px,#a6317d 89.5px,#aa337d 92.5px,#e24d66 103.5px,#f2645c 107.5px,#fb8761 111.5px,#feae77 115.5px,#fde2a4 119.5px,#fcf5b7 121.5px,#fcf4b6 123.5px,#fde3a5 125.5px,#fec388 127.5px,#feab75 128.5px,#fc8b63 129.5px,#f05f5e 130.5px,#d3426e 131.5px,#b1357b 132.5px,#992d80 133.5px,#681c81 137.5px,#50127b 140.5px,#450f76 141.5px,#36106b 142.5px,#251255 143.5px,#140e36 144.5px,#0a0822 145.5px,#020109 147.5px,#02020b 155.5px,#050416 163.5px,#110c2f 169.5px,#1c1044 175.5px,#3d0f71 183.5px,#59157e 188.5px,#962c80 196.5px,#cd4071 204.5px,#eb5661 209.5px,#f66c5c 211.5px,#f8745c 213.5px,#f8745c 214.5px,#f4685c 215.5px,#e95462 216.5px,#b83779 218.5px,#952c80 219.5px,#58157e 221.5px,#3b0f70 222.5px,#150e38 223.5px,#06051a 224.5px,#010005 225.5px,#000004 241.5px)"></div><div style="top:54px;height:2px;background:linear-gradient(90deg,#732081 0.5px,#aa337d 33.5px,#c63d74 42.5px,#e24d66 49.5px,#e65163 53.5px,#d6456c 56.5px,#b3367a 59.5px,#a6317d 61.5px,#a5317e 64.5px,#e04c67 75.5px,#ea5661 79.5px,#e85362 82.5px,#d3436e 84.5px,#b63779 86.5px,#a8327d 88.5px,#a6317d 90.5px,#b4367a 94.5px,#df4a68 102.5px,#ef5d5e 106.5px,#fa7f5e 110.5px,#fea571 114.5px,#fecb8e 117.5px,#fceeb0 120.5px,#fcf6b8 121.5px,#fcf4b6 123.5px,#fde3a5 125.5px,#fec287 127.5px,#fea974 128.5px,#fc8a62 129.5px,#ef5c5e 130.5px,#d04170 131.5px,#af347b 132.5px,#982d80 133.5px,#661b80 137.5px,#4d117a 140.5px,#3f0f73 141.5px,#301164 142.5px,#110c2f 144.5px,#08061d 145.5px,#020109 147.5px,#02020d 157.5px,#050416 163.5px,#100b2d 168.5px,#1e1149 176.5px,#3e0f72 183.5px,#5a167e 188.5px,#9e2f7f 197.5px,#d5446d 205.5px,#ec5860 209.5px,#f66f5c 211.5px,#f8765c 213.5px,#f7725c 214.5px,#f3665c 215.5px,#e55064 216.5px,#b2357b 218.5px,#6f1e81 220.5px,#53137d 221.5px,#36106b 222.5px,#120d33 223.5px,#050417 224.5px,#000004 225.5px,#000004 241.5px)"></div><div style="top:56px;height:2px;background:linear-gradient(90deg,#742081 0.5px,#a9327d 32.5px,#c33b75 41.5px,#dd4969 47.5px,#e75263 52.5px,#dc4869 55.5px,#b1357b 59.5px,#a5317e 61.5px,#aa337c 65.5px,#d9466b 73.5px,#e95462 78.5px,#eb5760 81.5px,#e75263 82.5px,#b3357a 86.5px,#a6317d 88.5px,#ab337c 92.5px,#e44e65 103.5px,#f3665c 107.5px,#fc8961 111.5px,#feb27a 115.5px,#fde6a8 119.5px,#fcf6b8 121.5px,#fcf4b6 123.5px,#fde2a3 125.5px,#fec185 127.5px,#fea872 128.5px,#fb8660 129.5px,#ed595f 130.5px,#cd4071 131.5px,#ad347c 132.5px,#982d80 133.5px,#641a80 137.5px,#481078 140.5px,#390f6e 141.5px,#2a115c 142.5px,#19103f 143.5px,#0d0a29 144.5px,#02020c 146.5px,#02020b 155.5px,#040414 162.5px,#110c30 169.5px,#20114b 176.5px,#3a0f6f 182.5px,#55147d 187.5px,#902a81 195.5px,#c83e73 203.5px,#e75263 208.5px,#f7715c 211.5px,#f8765c 213.5px,#f7715c 214.5px,#f2635d 215.5px,#e04c67 216.5px,#ab337c 218.5px,#6b1c81 220.5px,#50127b 221.5px,#2f1163 222.5px,#100c2e 223.5px,#040415 224.5px,#000004 225.5px,#000004 241.5px)"></div><div style="top:58px;height:2px;background:linear-gradient(90deg,#752181 0.5px,#ac337c 33.5px,#c43c74 41.5px,#de4a68 47.5px,#e55064 53.5px,#da476a 55.5px,#ae347b 59.5px,#a5317e 61.5px,#a7327d 64.5px,#db476a 73.5px,#ea5661 78.5px,#eb5760 81.5px,#da476a 83.5px,#b1357b 86.5px,#a6317d 88.5px,#aa337d 91.5px,#e04c67 102.5px,#f05f5d 106.5px,#fb825f 110.5px,#fea973 114.5px,#fecf92 117.5px,#fcf2b4 120.5px,#fcf7b9 122.5px,#fcecae 124.5px,#fed295 126.5px,#fea671 128.5px,#fb8460 129.5px,#eb5661 130.5px,#cb3f72 131.5px,#ab337c 132.5px,#962c80 133.5px,#611980 137.5px,#430f75 140.5px,#341069 141.5px,#251254 142.5px,#150e38 143.5px,#0b0823 144.5px,#02010a 146.5px,#02020d 157.5px,#040414 162.5px,#0e0b2b 167.5px,#1d1147 175.5px,#37106c 181.5px,#56147d 187.5px,#982d80 196.5px,#d1426f 204.5px,#e85362 208.5px,#f56c5c 210.5px,#f8765c 212.5px,#f8765c 213.5px,#f66e5c 214.5px,#ef5e5e 215.5px,#dc4869 216.5px,#c43c75 217.5px,#842681 219.5px,#4d117a 221.5px,#29115b 222.5px,#0f0b2c 223.5px,#040313 224.5px,#000004 225.5px,#000004 241.5px)"></div><div style="top:60px;height:2px;background:linear-gradient(90deg,#752181 0.5px,#ad347c 33.5px,#cb3f72 42.5px,#df4a68 47.5px,#e75263 52.5px,#d8456c 55.5px,#b4367a 58.5px,#a6317d 60.5px,#a5317e 63.5px,#dd4969 73.5px,#ea5661 78.5px,#ea5661 81.5px,#d8456c 83.5px,#ae347c 86.5px,#a5317e 89.5px,#b83779 94.5px,#e55064 103.5px,#f4695c 107.5px,#fc8b63 111.5px,#feb67c 115.5px,#fdeaab 119.5px,#fcf7b9 121.5px,#fcf4b6 123.5px,#fde0a1 125.5px,#febe83 127.5px,#fea470 128.5px,#fa805f 129.5px,#e85362 130.5px,#c83d73 131.5px,#aa337d 132.5px,#872781 134.5px,#691c81 136.5px,#4b117a 139.5px,#3e0f72 140.5px,#2e1162 141.5px,#110c30 143.5px,#030311 145.5px,#020109 146.5px,#02020d 157.5px,#050416 162.5px,#110c2f 168.5px,#1e1148 175.5px,#3d0f71 182.5px,#57157e 187.5px,#982d80 196.5px,#d3426e 204.5px,#eb5661 208.5px,#f66d5c 210.5px,#f8765c 212.5px,#f8765c 213.5px,#f56c5c 214.5px,#ec5860 215.5px,#d8456c 216.5px,#bf3a77 217.5px,#7f2482 219.5px,#491079 221.5px,#241153 222.5px,#0d0a29 223.5px,#03030f 224.5px,#000004 225.5px,#000004 241.5px)"></div><div style="top:62px;height:2px;background:linear-gradient(90deg,#762181 0.5px,#ab337c 32.5px,#c83d73 41.5px,#de4968 46.5px,#e75263 52.5px,#d6446d 55.5px,#b2357b 58.5px,#a6317d 60.5px,#a5317e 63.5px,#de4a68 73.5px,#ea5661 78.5px,#e95561 81.5px,#d4436d 83.5px,#b63779 85.5px,#a8327d 87.5px,#a6317d 89.5px,#b93878 94.5px,#e65163 103.5px,#f56b5c 107.5px,#fc8c63 111.5px,#feb77e 115.5px,#fdecad 119.5px,#fcf7b9 121.5px,#fcf3b5 123.5px,#fddfa1 125.5px,#febc82 127.5px,#fea26f 128.5px,#fa7c5e 129.5px,#e65163 130.5px,#c53c74 131.5px,#a8327d 132.5px,#752181 135.5px,#471078 139.5px,#38106c 140.5px,#1a1042 142.5px,#0e0a2a 143.5px,#02020c 145.5px,#02020b 154.5px,#050416 162.5px,#100b2d 167.5px,#1e1149 175.5px,#390f6e 181.5px,#59157e 187.5px,#982d80 196.5px,#d4436d 204.5px,#ec5860 208.5px,#f7715c 210.5px,#f9785d 212.5px,#f8755c 213.5px,#f4695c 214.5px,#e85362 215.5px,#b93878 217.5px,#7a2382 219.5px,#461077 221.5px,#20114d 222.5px,#0c0925 223.5px,#02020d 224.5px,#000004 225.5px,#000004 241.5px)"></div><div style="top:64px;height:2px;background:linear-gradient(90deg,#762181 0.5px,#b2357b 34.5px,#c93e72 41.5px,#df4a68 46.5px,#e65163 52.5px,#d3426e 55.5px,#b73779 57.5px,#a5317e 60.5px,#a6317d 63.5px,#db486a 72.5px,#eb5760 78.5px,#e85362 81.5px,#d1426f 83.5px,#b3357a 85.5px,#a6317d 87.5px,#a9327d 90.5px,#df4a68 101.5px,#ef5c5e 105.5px,#fa7d5e 109.5px,#fea26f 113.5px,#fec78b 116.5px,#fcedaf 119.5px,#fcf8ba 121.5px,#fdebac 124.5px,#fece91 126.5px,#febb81 127.5px,#fea06e 128.5px,#f9785d 129.5px,#e44e65 130.5px,#c33b75 131.5px,#a6317d 132.5px,#722081 135.5px,#4f127b 138.5px,#420f75 139.5px,#331067 140.5px,#241153 141.5px,#0b0823 143.5px,#02020b 145.5px,#02020b 154.5px,#050417 162.5px,#0e0b2b 166.5px,#1c1145 174.5px,#3a0f6f 181.5px,#53137d 186.5px,#902a81 195.5px,#c73d73 202.5px,#e75263 207.5px,#f8735c 210.5px,#f9785d 212.5px,#f8735c 213.5px,#f3665c 214.5px,#e44f64 215.5px,#b4367a 217.5px,#752181 219.5px,#5b167f 220.5px,#430f75 221.5px,#1c1145 222.5px,#0b0924 223.5px,#02020b 224.5px,#000004 225.5px,#000004 241.5px)"></div><div style="top:66px;height:2px;background:linear-gradient(90deg,#772181 0.5px,#b0357b 33.5px,#cb3f72 41.5px,#e04c67 46.5px,#e85362 51.5px,#d9466b 54.5px,#b63779 57.5px,#a7327d 59.5px,#a5317e 62.5px,#dd4969 72.5px,#ea5661 77.5px,#eb5760 80.5px,#db486a 82.5px,#b0357b 85.5px,#a6317d 87.5px,#aa337d 90.5px,#df4a68 101.5px,#ef5e5e 105.5px,#fa7f5e 109.5px,#fea36f 113.5px,#feca8d 116.5px,#fceeb0 119.5px,#fcf9bb 121.5px,#fcf2b4 123.5px,#fddc9e 125.5px,#feb97f 127.5px,#fe9e6c 128.5px,#f8755c 129.5px,#e14c66 130.5px,#c03a76 131.5px,#a5317e 132.5px,#611980 136.5px,#4b117a 138.5px,#3d0f71 139.5px,#1e1149 141.5px,#09071f 143.5px,#030311 144.5px,#020109 145.5px,#030312 160.5px,#08071e 163.5px,#120d31 168.5px,#1d1147 174.5px,#37106c 180.5px,#55147d 186.5px,#982d80 196.5px,#d7456c 204.5px,#e85362 207.5px,#f8745c 210.5px,#f9785d 212.5px,#f7715c 213.5px,#f2635d 214.5px,#e04c67 215.5px,#ae347b 217.5px,#722081 219.5px,#58157e 220.5px,#3f0f73 221.5px,#1a1041 222.5px,#0a0822 223.5px,#02010a 224.5px,#000004 225.5px,#000004 241.5px)"></div><div style="top:68px;height:2px;background:linear-gradient(90deg,#782281 0.5px,#b3367a 34.5px,#cd4071 41.5px,#e34e65 47.5px,#e75263 51.5px,#d7456c 54.5px,#b3357a 57.5px,#a6317d 59.5px,#a5317e 62.5px,#df4a68 72.5px,#eb5760 78.5px,#eb5760 80.5px,#d9466b 82.5px,#ae347c 85.5px,#a5317e 88.5px,#bd3977 94.5px,#e85362 103.5px,#f9785d 108.5px,#fd9b6a 112.5px,#febd82 115.5px,#fde6a8 118.5px,#fcf7b9 120.5px,#fcf6b8 122.5px,#fde9aa 124.5px,#fecc8f 126.5px,#feb77e 127.5px,#fd9c6b 128.5px,#f7715c 129.5px,#df4a68 130.5px,#bd3977 131.5px,#a3307e 132.5px,#5f187f 136.5px,#471078 138.5px,#38106c 139.5px,#1a1042 141.5px,#0e0b2b 142.5px,#03020e 144.5px,#02020d 157.5px,#040414 161.5px,#100b2d 166.5px,#1d1147 174.5px,#38106c 180.5px,#56147d 186.5px,#982d80 196.5px,#d9466b 204.5px,#eb5661 207.5px,#f66f5c 209.5px,#f9785d 211.5px,#f9785d 212.5px,#f66f5c 213.5px,#ef5e5e 214.5px,#dc4869 215.5px,#aa337d 217.5px,#6f1e81 219.5px,#56147d 220.5px,#3c0f70 221.5px,#180f3e 222.5px,#090720 223.5px,#010109 224.5px,#000004 226.5px,#000004 241.5px)"></div><div style="top:70px;height:2px;background:linear-gradient(90deg,#782281 0.5px,#b2357b 33.5px,#c93e72 40.5px,#df4a68 45.5px,#e75263 51.5px,#d4436d 54.5px,#b93878 56.5px,#a5317e 59.5px,#a6317d 62.5px,#e04c67 72.5px,#ec5860 79.5px,#ea5661 80.5px,#d6446d 82.5px,#b63779 84.5px,#ab337c 85.5px,#a5317e 87.5px,#b4367a 92.5px,#e55064 102.5px,#f4695c 106.5px,#fd9266 111.5px,#febf84 115.5px,#fde7a9 118.5px,#fcf7b9 120.5px,#fcf6b8 122.5px,#fcf2b4 123.5px,#fdda9c 125.5px,#fecb8e 126.5px,#fd9969 128.5px,#f66d5c 129.5px,#dc4869 130.5px,#bb3878 131.5px,#a1307e 132.5px,#6b1c81 135.5px,#430f75 138.5px,#331068 139.5px,#160f39 141.5px,#050417 143.5px,#02020b 144.5px,#03030f 159.5px,#0a0821 163.5px,#110c2f 167.5px,#1e1149 174.5px,#390f6e 180.5px,#57157e 186.5px,#912b81 195.5px,#cc3f71 202.5px,#e55064 206.5px,#f7725c 209.5px,#f9795d 211.5px,#f8775c 212.5px,#f56c5c 213.5px,#ec5860 214.5px,#d7456c 215.5px,#a3307e 217.5px,#6b1c81 219.5px,#53137d 220.5px,#390f6e 221.5px,#170f3c 222.5px,#090720 223.5px,#010108 224.5px,#000004 227.5px,#000004 241.5px)"></div><div style="top:72px;height:2px;background:linear-gradient(90deg,#782281 0.5px,#b2357b 33.5px,#d04170 41.5px,#e44f64 47.5px,#e55064 51.5px,#da476a 53.5px,#ae347c 57.5px,#a5317e 59.5px,#a6317d 62.5px,#d8456c 70.5px,#ea5661 76.5px,#ec5860 79.5px,#e04b67 81.5px,#b3357a 84.5px,#a6317d 86.5px,#a9327d 89.5px,#de4968 100.5px,#f2625d 105.5px,#fc8a62 110.5px,#feb47b 114.5px,#fde9aa 118.5px,#fcf9bb 120.5px,#fcf6b8 122.5px,#fde6a8 124.5px,#fec88c 126.5px,#feb27a 127.5px,#fd9567 128.5px,#f4685c 129.5px,#d9466b 130.5px,#b73779 131.5px,#9f2f7f 132.5px,#5b167f 136.5px,#3f0f73 138.5px,#2f1163 139.5px,#140e35 141.5px,#040313 143.5px,#02020b 144.5px,#03030f 159.5px,#100b2d 166.5px,#1c1044 173.5px,#390f6e 180.5px,#59157e 186.5px,#942b80 195.5px,#ce4070 202.5px,#e75263 206.5px,#f8755c 209.5px,#f9795d 211.5px,#f8755c 212.5px,#f4685c 213.5px,#e75263 214.5px,#d0416f 215.5px,#9b2e7f 217.5px,#671b80 219.5px,#52137c 220.5px,#38106c 221.5px,#160f3b 222.5px,#08071e 223.5px,#010107 224.5px,#000004 234.5px,#000004 241.5px)"></div><div style="top:74px;height:2px;background:linear-gradient(90deg,#792282 0.5px,#b2357b 33.5px,#d0416f 41.5px,#e34e65 46.5px,#e55064 51.5px,#d7456c 53.5px,#b3367a 56.5px,#a6317d 58.5px,#a8327d 62.5px,#de4968 71.5px,#eb5760 77.5px,#ec5860 79.5px,#dd4969 81.5px,#bc3977 83.5px,#aa337d 85.5px,#a6317d 88.5px,#d1426f 97.5px,#eb5661 103.5px,#f8745c 107.5px,#fd9668 111.5px,#feb67c 114.5px,#fde9aa 118.5px,#fcf9bb 120.5px,#fcf6b8 122.5px,#fde5a7 124.5px,#fec589 126.5px,#feaf78 127.5px,#fc9065 128.5px,#f2635d 129.5px,#d6446d 130.5px,#b4367a 131.5px,#8c2981 133.5px,#671b80 135.5px,#4d117a 137.5px,#3c0f70 138.5px,#1c1145 140.5px,#100c2e 141.5px,#03030f 143.5px,#02020b 146.5px,#030311 159.5px,#120d31 167.5px,#1d1147 173.5px,#3a0f6f 180.5px,#5a167e 186.5px,#952c80 195.5px,#d1426f 202.5px,#e95561 206.5px,#f8765c 209.5px,#f9795d 211.5px,#f8735c 212.5px,#f3655c 213.5px,#e04c67 214.5px,#af347b 216.5px,#7b2382 218.5px,#50127b 220.5px,#37106c 221.5px,#160f3b 222.5px,#08071e 223.5px,#010106 224.5px,#000004 241.5px)"></div><div style="top:76px;height:2px;background:linear-gradient(90deg,#792282 0.5px,#b5367a 34.5px,#cc3f71 40.5px,#e04c67 45.5px,#e75263 50.5px,#dd4969 52.5px,#c83d73 54.5px,#b93878 55.5px,#a5317e 58.5px,#a5317e 61.5px,#de4968 71.5px,#eb5760 76.5px,#eb5760 79.5px,#d9466b 81.5px,#ae347c 84.5px,#a5317e 87.5px,#bd3977 93.5px,#e85362 102.5px,#f8765c 107.5px,#fd9768 111.5px,#feb67d 114.5px,#fdebac 118.5px,#fcf9bb 120.5px,#fcf6b8 122.5px,#fde3a5 124.5px,#fec388 126.5px,#feab75 127.5px,#fc8b63 128.5px,#ef5e5e 129.5px,#d3426e 130.5px,#b1357b 131.5px,#752181 134.5px,#4a1079 137.5px,#39106d 138.5px,#1a1041 140.5px,#060519 142.5px,#02020c 143.5px,#03030f 158.5px,#09071f 162.5px,#1d1147 173.5px,#37106c 179.5px,#56147d 185.5px,#8f2a81 194.5px,#cb3f72 201.5px,#e55064 205.5px,#f3655c 207.5px,#f7715c 208.5px,#f9795d 210.5px,#f9795d 211.5px,#f7715c 212.5px,#f05f5e 213.5px,#da476a 214.5px,#a8327d 216.5px,#8c2981 217.5px,#4f127b 220.5px,#36106b 221.5px,#160f3b 222.5px,#08061d 223.5px,#010106 224.5px,#000004 241.5px)"></div><div style="top:78px;height:2px;background:linear-gradient(90deg,#792282 0.5px,#b5367a 34.5px,#d3426e 41.5px,#e55064 47.5px,#e65163 50.5px,#d0416f 53.5px,#b63779 55.5px,#a3307e 58.5px,#a5317e 61.5px,#df4a68 71.5px,#ec5860 77.5px,#ea5661 79.5px,#d5446d 81.5px,#ac337c 84.5px,#a5317e 86.5px,#b3367a 91.5px,#e14c66 100.5px,#f05f5d 104.5px,#fb8761 109.5px,#feac76 113.5px,#fdebac 118.5px,#fcf9bb 120.5px,#fcf6b8 122.5px,#fde2a3 124.5px,#fec085 126.5px,#fea872 127.5px,#fb8761 128.5px,#ed5a5f 129.5px,#cf4070 130.5px,#af347b 131.5px,#732081 134.5px,#481078 137.5px,#35106a 138.5px,#160f3b 140.5px,#040415 142.5px,#02020b 143.5px,#030312 159.5px,#110c2f 166.5px,#1e1149 173.5px,#38106c 179.5px,#56147d 185.5px,#902a81 194.5px,#cc3f71 201.5px,#e75263 205.5px,#f8745c 208.5px,#f97b5d 210.5px,#f9785d 211.5px,#f66d5c 212.5px,#ec5860 213.5px,#d3426e 214.5px,#a02f7f 216.5px,#722081 218.5px,#4e127b 220.5px,#341069 221.5px,#160f3b 222.5px,#07061c 223.5px,#010106 224.5px,#000004 241.5px)"></div><div style="top:80px;height:2px;background:linear-gradient(90deg,#792282 0.5px,#b3367a 33.5px,#c83e73 39.5px,#e24d66 45.5px,#e75263 49.5px,#e04b67 51.5px,#cc3f71 53.5px,#b3367a 55.5px,#a5317e 57.5px,#a3307e 60.5px,#c43c74 66.5px,#e34e65 72.5px,#ec5860 78.5px,#e04b67 80.5px,#b4367a 83.5px,#a6317d 85.5px,#a8327d 88.5px,#de4968 99.5px,#f1605d 104.5px,#fa815f 108.5px,#fea470 112.5px,#fec78b 115.5px,#fdecad 118.5px,#fcf6b8 119.5px,#fcf9bb 121.5px,#fcecae 123.5px,#febe83 126.5px,#fea470 127.5px,#fb825f 128.5px,#eb5661 129.5px,#cb3f72 130.5px,#ac337c 131.5px,#711f81 134.5px,#450f76 137.5px,#321066 138.5px,#140e35 140.5px,#030311 142.5px,#02020b 144.5px,#040313 159.5px,#100b2d 165.5px,#1c1044 172.5px,#38106c 179.5px,#58157e 185.5px,#922b80 194.5px,#c63d74 200.5px,#e34e65 204.5px,#ef5e5e 206.5px,#f8775c 208.5px,#f97b5d 210.5px,#f8775c 211.5px,#f4695c 212.5px,#e75263 213.5px,#cc3f71 214.5px,#992d80 216.5px,#6f1e81 218.5px,#4e117b 220.5px,#341069 221.5px,#160f3b 222.5px,#07061c 223.5px,#010106 224.5px,#000004 241.5px)"></div><div style="top:82px;height:2px;background:linear-gradient(90deg,#792282 0.5px,#b3367a 33.5px,#ca3e72 39.5px,#e04b67 44.5px,#e75263 49.5px,#dd4969 51.5px,#b1357b 55.5px,#a4317e 57.5px,#a6317d 61.5px,#e04c67 71.5px,#ec5860 76.5px,#ec5860 78.5px,#dd4969 80.5px,#b1357b 83.5px,#a6317d 85.5px,#aa337d 88.5px,#df4a68 99.5px,#f2625d 104.5px,#fb825f 108.5px,#fea571 112.5px,#fec88c 115.5px,#fcecae 118.5px,#fcf9bb 120.5px,#fcf5b7 122.5px,#fddea0 124.5px,#feba80 126.5px,#fea06e 127.5px,#fa7c5e 128.5px,#e75263 129.5px,#c83d73 130.5px,#aa337d 131.5px,#6e1e81 134.5px,#52137c 136.5px,#410f74 137.5px,#2e1162 138.5px,#100c2e 140.5px,#03020e 142.5px,#02020d 153.5px,#040414 159.5px,#100b2d 165.5px,#1d1147 172.5px,#390f6e 179.5px,#59157e 185.5px,#942b80 194.5px,#c93e72 200.5px,#eb5661 205.5px,#f9785d 208.5px,#f97b5d 210.5px,#f8755c 211.5px,#f3655c 212.5px,#e04c67 213.5px,#c43c75 214.5px,#932b80 216.5px,#6c1d81 218.5px,#4e117b 220.5px,#341069 221.5px,#160f3b 222.5px,#07061c 223.5px,#010106 224.5px,#000004 241.5px)"></div><div style="top:84px;height:2px;background:linear-gradient(90deg,#7b2382 0.5px,#b3367a 33.5px,#d0416f 40.5px,#e34e65 45.5px,#e65163 49.5px,#db476a 51.5px,#ae347c 55.5px,#a1307e 58.5px,#a8327d 61.5px,#e14c66 71.5px,#ec5860 76.5px,#eb5760 78.5px,#d9466b 80.5px,#ae347b 83.5px,#a5317e 85.5px,#b2357b 90.5px,#e04b67 99.5px,#f2645c 104.5px,#fc8b63 109.5px,#feb179 113.5px,#fcedaf 118.5px,#fcf9bb 120.5px,#fcf4b6 122.5px,#fddc9e 124.5px,#fecc90 125.5px,#fd9c6b 127.5px,#f8775c 128.5px,#e44f64 129.5px,#c43c74 130.5px,#a7327d 131.5px,#6c1d81 134.5px,#4e127b 136.5px,#3e0f72 137.5px,#1a1042 139.5px,#0e0a2a 140.5px,#02020b 142.5px,#030312 158.5px,#1d1147 172.5px,#390f6e 179.5px,#5a167e 185.5px,#952c80 194.5px,#cb3f72 200.5px,#e65163 204.5px,#f3665c 206.5px,#f8735c 207.5px,#f97b5d 209.5px,#f97b5d 210.5px,#f8735c 211.5px,#f05f5d 212.5px,#d9466b 213.5px,#bc3978 214.5px,#8c2981 216.5px,#6b1c81 218.5px,#4e117b 220.5px,#341069 221.5px,#170f3c 222.5px,#07061c 223.5px,#010106 224.5px,#000004 241.5px)"></div><div style="top:86px;height:2px;background:linear-gradient(90deg,#7b2382 0.5px,#ae347b 31.5px,#c73d73 38.5px,#e04c67 44.5px,#e55064 49.5px,#d9466b 51.5px,#ac337c 55.5px,#a1307e 57.5px,#a5317e 60.5px,#d9466b 69.5px,#ea5661 74.5px,#ea5661 78.5px,#d5446d 80.5px,#b73779 82.5px,#a8327d 84.5px,#a5317e 86.5px,#be3977 92.5px,#e04c67 99.5px,#f3655c 104.5px,#fc8d63 109.5px,#feb27a 113.5px,#fceeb0 118.5px,#fcf7b9 119.5px,#fcf9bb 121.5px,#fde9aa 123.5px,#feca8d 125.5px,#feb57c 126.5px,#fd9969 127.5px,#f7725c 128.5px,#e14c66 129.5px,#c13b76 130.5px,#a5317e 131.5px,#691c81 134.5px,#4d117a 136.5px,#39106d 137.5px,#170f3c 139.5px,#040415 141.5px,#02020b 142.5px,#040313 158.5px,#1e1149 172.5px,#3a0f6f 179.5px,#5c167f 185.5px,#972d80 194.5px,#ce4070 200.5px,#e85362 204.5px,#f8775c 207.5px,#fa7d5e 209.5px,#f97a5d 210.5px,#f66f5c 211.5px,#ed5a5f 212.5px,#d1426f 213.5px,#9c2e7f 215.5px,#752181 217.5px,#4e117b 220.5px,#341069 221.5px,#180f3d 222.5px,#07061c 223.5px,#010106 224.5px,#000004 241.5px)"></div><div style="top:88px;height:2px;background:linear-gradient(90deg,#7b2382 0.5px,#ae347b 31.5px,#c83d73 38.5px,#e24d66 44.5px,#e75263 48.5px,#de4a68 50.5px,#c93e72 52.5px,#b1357b 54.5px,#a1307e 57.5px,#a5317e 60.5px,#df4a68 70.5px,#ec5860 75.5px,#ec5860 77.5px,#e04b67 79.5px,#b4367a 82.5px,#a6317d 84.5px,#ab337c 88.5px,#e24d66 99.5px,#f05f5d 103.5px,#fa7f5e 107.5px,#fea06e 111.5px,#febf84 114.5px,#fcefb1 118.5px,#fcf7b9 119.5px,#fcf9bb 121.5px,#fde7a9 123.5px,#fec78b 125.5px,#fd9567 127.5px,#f66c5c 128.5px,#de4a68 129.5px,#be3977 130.5px,#a2307e 131.5px,#671b80 134.5px,#491079 136.5px,#35106a 137.5px,#140e35 139.5px,#030311 141.5px,#02020b 143.5px,#040414 158.5px,#1e1149 172.5px,#3b0f70 179.5px,#5d177f 185.5px,#912b81 193.5px,#c73d73 199.5px,#e44f64 203.5px,#f05f5d 205.5px,#f9785d 207.5px,#fa7d5e 209.5px,#f9785d 210.5px,#f56b5c 211.5px,#e85462 212.5px,#c93e72 213.5px,#962c80 215.5px,#802582 216.5px,#4e117b 220.5px,#35106a 221.5px,#19103f 222.5px,#08071e 223.5px,#010106 224.5px,#000004 241.5px)"></div><div style="top:90px;height:2px;background:linear-gradient(90deg,#7b2382 0.5px,#b2357b 32.5px,#c83e73 38.5px,#e24d66 44.5px,#e65163 48.5px,#db486a 50.5px,#ae347c 54.5px,#a2307e 56.5px,#a2307e 59.5px,#c33b75 65.5px,#e44e65 71.5px,#ec5860 76.5px,#ec5860 77.5px,#db486a 79.5px,#b1357b 82.5px,#a6317d 84.5px,#aa337d 87.5px,#c03a76 92.5px,#e34e65 99.5px,#f4685c 104.5px,#fc9065 109.5px,#feb57c 113.5px,#fcf0b2 118.5px,#fcf9bb 120.5px,#fcf2b4 122.5px,#fec589 125.5px,#fead76 126.5px,#fc8f64 127.5px,#f4675c 128.5px,#da476a 129.5px,#bb3878 130.5px,#8c2981 132.5px,#56147d 135.5px,#461077 136.5px,#311165 137.5px,#110c2f 139.5px,#07061b 140.5px,#02020c 141.5px,#03030f 154.5px,#060518 159.5px,#20114b 172.5px,#3b0f70 179.5px,#5d177f 185.5px,#932b80 193.5px,#c93e72 199.5px,#e65163 203.5px,#f3655c 205.5px,#f9795d 207.5px,#fa7d5e 209.5px,#f8775c 210.5px,#f3665c 211.5px,#e24d66 212.5px,#c13b76 213.5px,#902a81 215.5px,#7b2382 216.5px,#4e117b 220.5px,#36106b 221.5px,#1a1041 222.5px,#08071e 223.5px,#010108 224.5px,#000004 227.5px,#000004 241.5px)"></div><div style="top:92px;height:2px;background:linear-gradient(90deg,#7c2382 0.5px,#af347b 31.5px,#c43c75 37.5px,#e04b67 43.5px,#e55064 48.5px,#d9466b 50.5px,#ac337c 54.5px,#a02f7f 57.5px,#ab337c 61.5px,#e04c67 70.5px,#ec5860 75.5px,#eb5760 77.5px,#d9466b 79.5px,#af347b 82.5px,#a5317e 84.5px,#ae347c 88.5px,#e04b67 98.5px,#ef5c5e 102.5px,#fa815f 107.5px,#feac76 112.5px,#fece91 115.5px,#fcf1b3 118.5px,#fcf9bb 120.5px,#fcf0b2 122.5px,#fed597 124.5px,#fea974 126.5px,#fc8b63 127.5px,#f2635d 128.5px,#d7456c 129.5px,#b73779 130.5px,#9d2f7f 131.5px,#631980 134.5px,#410f74 136.5px,#2d1160 137.5px,#0e0a2a 139.5px,#050417 140.5px,#02020b 141.5px,#030312 157.5px,#20114b 172.5px,#38106c 178.5px,#59157e 184.5px,#942c80 193.5px,#cc3f71 199.5px,#e75263 203.5px,#f8755c 206.5px,#fa7d5e 208.5px,#fa7d5e 209.5px,#f8755c 210.5px,#f1615d 211.5px,#da476a 212.5px,#b93878 213.5px,#892881 215.5px,#772181 216.5px,#4e127b 220.5px,#38106c 221.5px,#1b1043 222.5px,#090720 223.5px,#010108 224.5px,#000004 227.5px,#000004 241.5px)"></div><div style="top:94px;height:2px;background:linear-gradient(90deg,#7c2382 0.5px,#b2357b 32.5px,#cb3f72 38.5px,#e34e65 44.5px,#e55064 48.5px,#ca3e72 51.5px,#b1357b 53.5px,#a02f7f 56.5px,#a8327d 60.5px,#dd4969 69.5px,#ec5860 74.5px,#e95561 77.5px,#d4436d 79.5px,#ad347c 82.5px,#a5317e 85.5px,#bd3977 91.5px,#e04c67 98.5px,#f2645c 103.5px,#fc8a62 108.5px,#feb77e 113.5px,#fcf2b4 118.5px,#fcf9bb 120.5px,#fcf7b9 121.5px,#fde2a4 123.5px,#fec085 125.5px,#fb8861 127.5px,#ef5e5e 128.5px,#d4436d 129.5px,#b4367a 130.5px,#721f81 133.5px,#52137c 135.5px,#3e0f72 136.5px,#180f3d 138.5px,#040313 140.5px,#02020b 141.5px,#040414 157.5px,#1e1148 171.5px,#341069 177.5px,#54137d 183.5px,#8e2a81 192.5px,#c43c74 198.5px,#de4968 201.5px,#ef5e5e 204.5px,#f9785d 206.5px,#fa7f5e 208.5px,#fa7c5e 209.5px,#f7715c 210.5px,#ee5c5f 211.5px,#d3426e 212.5px,#b2357b 213.5px,#832681 215.5px,#722081 216.5px,#4f127b 220.5px,#390f6e 221.5px,#1c1145 222.5px,#0a0821 223.5px,#020109 224.5px,#000004 226.5px,#000004 241.5px)"></div><div style="top:96px;height:2px;background:linear-gradient(90deg,#7c2382 0.5px,#b2357b 32.5px,#cc3f71 38.5px,#e34e65 44.5px,#e44e65 48.5px,#c63d74 51.5px,#ae347b 53.5px,#a02f7f 56.5px,#a9327d 60.5px,#de4a68 69.5px,#ec5860 74.5px,#ec5860 76.5px,#e85362 77.5px,#c13b76 80.5px,#ab337c 82.5px,#a5317e 84.5px,#b4367a 89.5px,#de4968 97.5px,#f05f5e 102.5px,#fb8560 107.5px,#feae77 112.5px,#fddd9f 116.5px,#fcf3b5 118.5px,#fcf9bb 120.5px,#fcf7b9 121.5px,#fde1a2 123.5px,#febc82 125.5px,#fea26f 126.5px,#fb825f 127.5px,#ed5a5f 128.5px,#d1426f 129.5px,#b1357b 130.5px,#6f1e81 133.5px,#4e127b 135.5px,#390f6e 136.5px,#140e36 138.5px,#09071f 139.5px,#03020e 140.5px,#02020d 149.5px,#050416 158.5px,#21114e 172.5px,#390f6e 178.5px,#5b167f 184.5px,#902a81 192.5px,#c73d73 198.5px,#e55064 202.5px,#f2625d 204.5px,#f97a5d 206.5px,#fa7f5e 208.5px,#f97a5d 209.5px,#f66d5c 210.5px,#ea5661 211.5px,#cb3f72 212.5px,#aa337d 213.5px,#7d2482 215.5px,#6f1e81 216.5px,#5a167e 219.5px,#4f127b 220.5px,#3b0f70 221.5px,#1e1148 222.5px,#0b0823 223.5px,#02010a 224.5px,#000004 225.5px,#000004 241.5px)"></div><div style="top:98px;height:2px;background:linear-gradient(90deg,#7c2382 0.5px,#b3357a 32.5px,#c73d73 37.5px,#e24d66 43.5px,#e55064 47.5px,#d9466b 49.5px,#ac337c 53.5px,#a1307e 55.5px,#a5317e 59.5px,#ce4070 66.5px,#ea5661 72.5px,#ec5860 76.5px,#db486a 78.5px,#b3357a 81.5px,#a5317e 83.5px,#ad347c 87.5px,#df4a68 97.5px,#f1605d 102.5px,#fb8660 107.5px,#feb078 112.5px,#fddea0 116.5px,#fcf4b6 118.5px,#fcfabc 120.5px,#fcf7b9 121.5px,#fece91 124.5px,#fe9e6c 126.5px,#fa7d5e 127.5px,#eb5661 128.5px,#cd4071 129.5px,#ae347c 130.5px,#6c1d81 133.5px,#4b117a 135.5px,#35106a 136.5px,#20114d 137.5px,#110c30 138.5px,#07061b 139.5px,#02020c 140.5px,#030312 156.5px,#1e1149 171.5px,#390f6e 178.5px,#5c167f 184.5px,#912b81 192.5px,#c93e72 198.5px,#e75263 202.5px,#f3665c 204.5px,#f8755c 205.5px,#fa7f5e 207.5px,#fa7f5e 208.5px,#f9785d 209.5px,#f4685c 210.5px,#e55064 211.5px,#c23b75 212.5px,#a3307e 213.5px,#782281 215.5px,#6b1c81 216.5px,#5a167e 219.5px,#51127c 220.5px,#3d0f71 221.5px,#20114d 222.5px,#0c0925 223.5px,#02020b 224.5px,#000004 225.5px,#000004 241.5px)"></div><div style="top:100px;height:2px;background:linear-gradient(90deg,#7c2382 0.5px,#8f2a81 11.5px,#b0357b 31.5px,#c83e73 37.5px,#e24d66 43.5px,#e55064 47.5px,#d6446d 49.5px,#b1357b 52.5px,#a02f7f 55.5px,#a1307e 58.5px,#bc3978 63.5px,#e55064 70.5px,#ed5a5f 75.5px,#e44e65 77.5px,#bb3878 80.5px,#a9327d 82.5px,#a5317e 84.5px,#b73779 89.5px,#e04b67 97.5px,#f1615d 102.5px,#fb8861 107.5px,#feb179 112.5px,#fddfa1 116.5px,#fcf4b6 118.5px,#fcfbbd 120.5px,#fdebac 122.5px,#fecc8f 124.5px,#feb67d 125.5px,#fd9b6a 126.5px,#f9785d 127.5px,#e75263 128.5px,#c93e72 129.5px,#ab337c 130.5px,#6b1c81 133.5px,#481078 135.5px,#301164 136.5px,#1c1145 137.5px,#0e0a2a 138.5px,#050417 139.5px,#02020b 140.5px,#040415 157.5px,#20114b 171.5px,#3f0f72 179.5px,#641a80 185.5px,#932b80 192.5px,#c13b76 197.5px,#dd4969 200.5px,#ef5c5e 203.5px,#f9785d 205.5px,#fa7f5e 207.5px,#fa7f5e 208.5px,#f8775c 209.5px,#f2645c 210.5px,#de4a68 211.5px,#ba3878 212.5px,#9c2e7f 213.5px,#732081 215.5px,#671b80 216.5px,#5a167e 219.5px,#51127c 220.5px,#3f0f73 221.5px,#22114f 222.5px,#0d0a27 223.5px,#02020d 224.5px,#000004 225.5px,#000004 241.5px)"></div><div style="top:102px;height:2px;background:linear-gradient(90deg,#7e2482 0.5px,#b0357b 31.5px,#c93e72 37.5px,#e24d66 43.5px,#e44f64 47.5px,#c73d73 50.5px,#ae347b 52.5px,#9e2f7f 55.5px,#a6317d 59.5px,#dc4869 68.5px,#eb5760 72.5px,#ed595f 75.5px,#e14c66 77.5px,#b73779 80.5px,#a8327d 82.5px,#a5317e 84.5px,#bd3977 90.5px,#dd4969 96.5px,#ef5c5e 101.5px,#fa815f 106.5px,#fea974 111.5px,#fec88c 114.5px,#fcf6b8 118.5px,#fcfbbd 120.5px,#fcf6b8 121.5px,#fddb9d 123.5px,#feb37a 125.5px,#fd9768 126.5px,#f8735c 127.5px,#e44f64 128.5px,#c63d74 129.5px,#912b81 131.5px,#671b80 133.5px,#430f75 135.5px,#2c115f 136.5px,#0c0925 138.5px,#040313 139.5px,#02020b 140.5px,#050416 157.5px,#20114b 171.5px,#3a0f6f 178.5px,#5e177f 184.5px,#942c80 192.5px,#ce4070 198.5px,#ea5661 202.5px,#f97a5d 205.5px,#fa815f 207.5px,#fa7e5e 208.5px,#f8735c 209.5px,#ef5e5e 210.5px,#d6456c 211.5px,#b2357b 212.5px,#942c80 213.5px,#6e1e81 215.5px,#641a80 216.5px,#5a167e 219.5px,#52137c 220.5px,#410f74 221.5px,#251254 222.5px,#0f0b2c 223.5px,#03030f 224.5px,#000004 225.5px,#000004 241.5px)"></div><div style="top:104px;height:2px;background:linear-gradient(90deg,#7e2482 0.5px,#b0357b 31.5px,#ca3e72 37.5px,#e34e65 43.5px,#e24d66 47.5px,#c33b75 50.5px,#ac337c 52.5px,#a02f7f 54.5px,#a02f7f 57.5px,#b73779 62.5px,#e24d66 69.5px,#ed5a5f 74.5px,#e85362 76.5px,#d04170 78.5px,#ac337c 81.5px,#a5317e 83.5px,#b3367a 88.5px,#de4968 96.5px,#ef5e5e 101.5px,#fb835f 106.5px,#feaa74 111.5px,#fec88c 114.5px,#fcf6b8 118.5px,#fcfbbd 120.5px,#fcf5b7 121.5px,#fdd99b 123.5px,#feaf78 125.5px,#fd9366 126.5px,#f66e5c 127.5px,#e14c66 128.5px,#c33b75 129.5px,#a5317e 130.5px,#661b80 133.5px,#55147d 134.5px,#3f0f72 135.5px,#150e38 137.5px,#090720 138.5px,#03020e 139.5px,#02020d 147.5px,#060518 158.5px,#20114d 171.5px,#400f74 179.5px,#651a80 185.5px,#9e2f7f 193.5px,#da476a 199.5px,#ec5860 202.5px,#fa7c5e 205.5px,#fa815f 207.5px,#fa7c5e 208.5px,#f66f5c 209.5px,#ec5860 210.5px,#ce4070 211.5px,#aa337d 212.5px,#8e2a81 213.5px,#691c81 215.5px,#5a167e 219.5px,#53137d 220.5px,#450f76 221.5px,#281159 222.5px,#100c2e 223.5px,#030311 224.5px,#000004 225.5px,#000004 241.5px)"></div><div style="top:106px;height:2px;background:linear-gradient(90deg,#7e2482 0.5px,#b0357b 31.5px,#e14c66 42.5px,#e55064 46.5px,#d7456c 48.5px,#aa337d 52.5px,#9f2f7f 54.5px,#a02f7f 57.5px,#bf3a77 63.5px,#e44e65 69.5px,#ed5a5f 73.5px,#ec5860 75.5px,#e65163 76.5px,#be3977 79.5px,#aa337c 81.5px,#a5317e 83.5px,#b0357b 87.5px,#df4a68 96.5px,#f05f5e 101.5px,#fb8460 106.5px,#feb47b 112.5px,#fcf6b8 118.5px,#fcfbbd 120.5px,#fcf4b6 121.5px,#fed799 123.5px,#feab75 125.5px,#fc8e64 126.5px,#f4695c 127.5px,#de4a68 128.5px,#c03a76 129.5px,#8c2981 131.5px,#52137c 134.5px,#3a0f6f 135.5px,#231152 136.5px,#120d31 137.5px,#07061b 138.5px,#02020b 139.5px,#050416 157.5px,#21114e 171.5px,#400f74 179.5px,#661b80 185.5px,#982d80 192.5px,#c93e72 197.5px,#e85362 201.5px,#f4685c 203.5px,#f8775c 204.5px,#fa815f 206.5px,#fa815f 207.5px,#f97a5d 208.5px,#f56c5c 209.5px,#e85362 210.5px,#c63d74 211.5px,#a1307e 212.5px,#882781 213.5px,#651a80 215.5px,#5b167f 219.5px,#54137d 220.5px,#461077 221.5px,#29115b 222.5px,#120d33 223.5px,#040414 224.5px,#000004 225.5px,#000004 241.5px)"></div><div style="top:108px;height:2px;background:linear-gradient(90deg,#7e2482 0.5px,#8e2a81 9.5px,#ae347b 30.5px,#c13b76 35.5px,#e24d66 42.5px,#e44f64 46.5px,#d3436e 48.5px,#a7327d 52.5px,#9d2f7f 55.5px,#ad347c 60.5px,#e04c67 68.5px,#ed5a5f 73.5px,#eb5661 75.5px,#e44e65 76.5px,#bb3878 79.5px,#aa337d 81.5px,#a5317e 83.5px,#b63779 88.5px,#e04b67 96.5px,#f1605d 101.5px,#fb8560 106.5px,#feb67c 112.5px,#fde3a5 116.5px,#fcf7b9 118.5px,#fcfbbd 120.5px,#fde5a7 122.5px,#fec186 124.5px,#fc8a62 126.5px,#f3655c 127.5px,#da476a 128.5px,#a1307e 130.5px,#722081 132.5px,#4e127b 134.5px,#35106a 135.5px,#1f114a 136.5px,#0f0b2c 137.5px,#050417 138.5px,#02020b 139.5px,#050416 157.5px,#21114e 171.5px,#3c0f70 178.5px,#601880 184.5px,#992d80 192.5px,#cc3f71 197.5px,#e95561 201.5px,#f66c5c 203.5px,#f97a5d 204.5px,#fb825f 206.5px,#fa815f 207.5px,#f9785d 208.5px,#f3665c 209.5px,#e24d66 210.5px,#bd3977 211.5px,#9b2e7f 212.5px,#812581 213.5px,#611980 215.5px,#5d177f 217.5px,#5c167f 219.5px,#491079 221.5px,#2d1160 222.5px,#150e37 223.5px,#050417 224.5px,#010005 225.5px,#000004 241.5px)"></div><div style="top:110px;height:2px;background:linear-gradient(90deg,#7e2482 0.5px,#8e2a81 9.5px,#ae347b 30.5px,#c23b75 35.5px,#df4a68 41.5px,#e55064 45.5px,#e44e65 46.5px,#c43c75 49.5px,#ac337c 51.5px,#9c2e7f 54.5px,#a5317e 58.5px,#c13b76 63.5px,#e65163 69.5px,#ed5a5f 73.5px,#e95462 75.5px,#c43c74 78.5px,#ae347c 80.5px,#a4317e 82.5px,#ae347c 86.5px,#dd4969 95.5px,#f2625d 101.5px,#fb8761 106.5px,#feb67c 112.5px,#fde3a5 116.5px,#fcf7b9 118.5px,#fcfbbd 120.5px,#fde3a5 122.5px,#febe83 124.5px,#fb8660 126.5px,#f05f5d 127.5px,#d7456c 128.5px,#9d2f7f 130.5px,#701f81 132.5px,#491079 134.5px,#301164 135.5px,#1a1042 136.5px,#0c0925 137.5px,#030311 138.5px,#02020b 140.5px,#060518 157.5px,#1f114a 170.5px,#420f75 179.5px,#681c81 185.5px,#922b80 191.5px,#c43c74 196.5px,#e04b67 199.5px,#eb5760 201.5px,#fa7c5e 204.5px,#fb835f 206.5px,#fa805f 207.5px,#f8755c 208.5px,#f1615d 209.5px,#db486a 210.5px,#b5367a 211.5px,#932b80 212.5px,#6b1c81 214.5px,#5d177f 215.5px,#5c167f 219.5px,#4b117a 221.5px,#301164 222.5px,#170f3c 223.5px,#060519 224.5px,#010005 225.5px,#000004 241.5px)"></div><div style="top:112px;height:2px;background:linear-gradient(90deg,#802582 0.5px,#ae347b 30.5px,#c43c75 35.5px,#e04c67 41.5px,#e55064 45.5px,#d8456c 47.5px,#aa337d 51.5px,#9c2e7f 54.5px,#a1307e 57.5px,#bc3978 62.5px,#e34e65 68.5px,#ed5a5f 72.5px,#ec5860 74.5px,#dd4969 76.5px,#b63779 79.5px,#a6317d 81.5px,#a5317e 83.5px,#be3977 89.5px,#de4a68 95.5px,#f2635d 101.5px,#fc8961 106.5px,#feb77e 112.5px,#fde5a7 116.5px,#fcf7b9 118.5px,#fcf9bb 120.5px,#fde2a3 122.5px,#febb81 124.5px,#fa805f 126.5px,#ee5c5f 127.5px,#d4436d 128.5px,#9a2e7f 130.5px,#6e1e81 132.5px,#451077 134.5px,#2b115d 135.5px,#160f3b 136.5px,#0a0821 137.5px,#02020d 138.5px,#02020d 146.5px,#060518 157.5px,#20114b 170.5px,#3d0f71 178.5px,#5d177f 183.5px,#942b80 191.5px,#c63d74 196.5px,#e14c66 199.5px,#ed595f 201.5px,#fa7e5e 204.5px,#fb835f 206.5px,#fa7e5e 207.5px,#f8735c 208.5px,#ee5c5f 209.5px,#d4436d 210.5px,#ad347c 211.5px,#8c2981 212.5px,#651a80 214.5px,#59157e 215.5px,#5c167f 219.5px,#4e127b 221.5px,#35106a 222.5px,#1a1042 223.5px,#08061d 224.5px,#010108 225.5px,#000004 228.5px,#000004 241.5px)"></div><div style="top:114px;height:2px;background:linear-gradient(90deg,#802582 0.5px,#ae347b 30.5px,#d04170 37.5px,#e34e65 42.5px,#e55064 45.5px,#e04b67 46.5px,#af347b 50.5px,#9c2e7f 53.5px,#a02f7f 56.5px,#b63779 61.5px,#e44f64 68.5px,#ed5a5f 73.5px,#e55064 75.5px,#be3977 78.5px,#a5317e 81.5px,#a8327d 84.5px,#c53c74 90.5px,#df4a68 95.5px,#f05f5e 100.5px,#fb825f 105.5px,#feb078 111.5px,#fecd90 114.5px,#fcf2b4 117.5px,#fcfbbd 119.5px,#fcf9bb 120.5px,#fde0a1 122.5px,#feb87f 124.5px,#fa7c5e 126.5px,#ec5860 127.5px,#d1426f 128.5px,#b3357a 129.5px,#7f2482 131.5px,#59157e 133.5px,#400f74 134.5px,#261256 135.5px,#130d34 136.5px,#07061b 137.5px,#02020b 138.5px,#060518 157.5px,#221150 171.5px,#3e0f72 178.5px,#641a80 184.5px,#9e2f7f 192.5px,#dc4869 198.5px,#ef5c5e 201.5px,#f9785d 203.5px,#fb835f 205.5px,#fb835f 206.5px,#fa7c5e 207.5px,#f66d5c 208.5px,#eb5661 209.5px,#cb3f72 210.5px,#a5317e 211.5px,#862781 212.5px,#601880 214.5px,#56147d 215.5px,#5c167f 219.5px,#50127b 221.5px,#39106d 222.5px,#1e1148 223.5px,#0a0822 224.5px,#020109 225.5px,#000004 227.5px,#000004 241.5px)"></div><div style="top:116px;height:2px;background:linear-gradient(90deg,#802582 0.5px,#8e2a81 8.5px,#ae347b 30.5px,#c53c74 35.5px,#e24d66 41.5px,#e44e65 45.5px,#d1426f 47.5px,#ac337c 50.5px,#9c2e7f 53.5px,#a02f7f 56.5px,#b73779 61.5px,#e55064 68.5px,#ee5b5f 72.5px,#ea5661 74.5px,#d6446d 76.5px,#b0357b 79.5px,#a5317e 81.5px,#ad347c 85.5px,#e04c67 95.5px,#f3655c 101.5px,#fc8a62 106.5px,#feb97f 112.5px,#fcf2b4 117.5px,#fcfcbe 119.5px,#fcf9bb 120.5px,#fecb8e 123.5px,#fd9969 125.5px,#f8775c 126.5px,#e85362 127.5px,#cc3f71 128.5px,#952c80 130.5px,#7c2382 131.5px,#55147d 133.5px,#3b0f70 134.5px,#21114e 135.5px,#100b2d 136.5px,#050417 137.5px,#02020b 138.5px,#060518 157.5px,#231152 171.5px,#3f0f72 178.5px,#651a80 184.5px,#972d80 191.5px,#cc3f71 196.5px,#eb5661 200.5px,#f05f5d 201.5px,#fa7c5e 203.5px,#fb8460 205.5px,#fb835f 206.5px,#f97a5d 207.5px,#f4695c 208.5px,#e75263 209.5px,#c33b75 210.5px,#9c2e7f 211.5px,#802582 212.5px,#5d177f 214.5px,#53137d 215.5px,#5d177f 219.5px,#52137c 221.5px,#3c0f70 222.5px,#22114f 223.5px,#0d0a27 224.5px,#02020c 225.5px,#000004 226.5px,#000004 241.5px)"></div><div style="top:118px;height:2px;background:linear-gradient(90deg,#802582 0.5px,#8e2a81 8.5px,#ad347c 29.5px,#c03a76 34.5px,#df4a68 40.5px,#e55064 44.5px,#e24d66 45.5px,#b4367a 49.5px,#a3307e 51.5px,#9b2e7f 54.5px,#b2357b 60.5px,#e24d66 67.5px,#ed5a5f 71.5px,#e85362 74.5px,#c43c74 77.5px,#ae347b 79.5px,#a3307e 81.5px,#b2357b 86.5px,#de4968 94.5px,#ee5b5e 99.5px,#fa7d5e 104.5px,#feaa74 110.5px,#fec488 113.5px,#fcf4b6 117.5px,#fcfdbf 119.5px,#fcf7b9 120.5px,#fec98c 123.5px,#fd9567 125.5px,#f7725c 126.5px,#e55064 127.5px,#c93e72 128.5px,#922b80 130.5px,#792282 131.5px,#52137c 133.5px,#35106a 134.5px,#1d1147 135.5px,#0d0a27 136.5px,#030311 137.5px,#02020b 139.5px,#060518 157.5px,#271258 172.5px,#3f0f72 178.5px,#5f187f 183.5px,#902a81 190.5px,#c33b75 195.5px,#e04c67 198.5px,#ec5860 200.5px,#fa7e5e 203.5px,#fb8560 205.5px,#f9785d 207.5px,#f2645c 208.5px,#e14c66 209.5px,#bb3878 210.5px,#942c80 211.5px,#7a2382 212.5px,#58157e 214.5px,#50127b 215.5px,#5d177f 219.5px,#55147d 221.5px,#410f74 222.5px,#261256 223.5px,#100b2d 224.5px,#03020e 225.5px,#000004 226.5px,#000004 241.5px)"></div><div style="top:120px;height:2px;background:linear-gradient(90deg,#802582 0.5px,#a6317d 25.5px,#b3367a 31.5px,#e04b67 40.5px,#e44f64 44.5px,#d6446d 46.5px,#a7327d 50.5px,#9b2e7f 53.5px,#ad347c 59.5px,#de4968 66.5px,#ed595f 70.5px,#ec5860 73.5px,#db486a 75.5px,#b63779 78.5px,#a6317d 80.5px,#a5317e 82.5px,#be3977 88.5px,#de4a68 94.5px,#f2625d 100.5px,#fb8761 105.5px,#feba80 112.5px,#fcf4b6 117.5px,#fcfdbf 119.5px,#fcf6b8 120.5px,#fdd99b 122.5px,#fead76 124.5px,#fc8f64 125.5px,#f66d5c 126.5px,#e24d66 127.5px,#c63d74 128.5px,#8f2a81 130.5px,#631980 132.5px,#4d117a 133.5px,#301164 134.5px,#19103f 135.5px,#0a0822 136.5px,#02020d 137.5px,#02020d 144.5px,#060518 157.5px,#241253 171.5px,#390f6e 177.5px,#5a167e 182.5px,#912b81 190.5px,#b93878 194.5px,#db476a 197.5px,#ee5b5f 200.5px,#f8775c 202.5px,#fb8460 204.5px,#fa805f 206.5px,#f8755c 207.5px,#f05f5e 208.5px,#da476a 209.5px,#b3357a 210.5px,#8e2a81 211.5px,#752181 212.5px,#53137d 214.5px,#4d117a 215.5px,#5d177f 219.5px,#56147d 221.5px,#450f76 222.5px,#2b115d 223.5px,#120d33 224.5px,#040313 225.5px,#000004 226.5px,#000004 241.5px)"></div><div style="top:122px;height:2px;background:linear-gradient(90deg,#812581 0.5px,#a6317d 25.5px,#b3367a 31.5px,#e04c67 40.5px,#e44f64 44.5px,#d1426f 46.5px,#ad347c 49.5px,#9b2e7f 52.5px,#a5317e 57.5px,#bc3978 61.5px,#e44f64 67.5px,#ee5b5e 71.5px,#eb5760 73.5px,#d8456c 75.5px,#b3357a 78.5px,#a5317e 80.5px,#a8327d 83.5px,#cb3f72 90.5px,#e24d66 95.5px,#f2645c 100.5px,#fb8861 105.5px,#febb81 112.5px,#fcf5b7 117.5px,#fcfdbf 119.5px,#fcf6b8 120.5px,#fed79a 122.5px,#fea974 124.5px,#fc8b63 125.5px,#f4685c 126.5px,#e04b67 127.5px,#a5317e 129.5px,#742081 131.5px,#481078 133.5px,#2a115c 134.5px,#150e37 135.5px,#07061c 136.5px,#02020b 137.5px,#060518 157.5px,#241253 171.5px,#3a0f6f 177.5px,#5a167e 182.5px,#932b80 190.5px,#bc3977 194.5px,#dd4969 197.5px,#ef5e5e 200.5px,#f97a5d 202.5px,#fb8560 204.5px,#fb8560 205.5px,#fa7e5e 206.5px,#f7715c 207.5px,#ed5a5f 208.5px,#d3426e 209.5px,#aa337c 210.5px,#862781 211.5px,#6e1e81 212.5px,#4f127b 214.5px,#491079 215.5px,#5d177f 219.5px,#58157e 221.5px,#491078 222.5px,#301164 223.5px,#160f39 224.5px,#060518 225.5px,#010005 226.5px,#000004 241.5px)"></div><div style="top:124px;height:2px;background:linear-gradient(90deg,#812581 0.5px,#902a81 9.5px,#a6317d 25.5px,#b3367a 31.5px,#de4968 39.5px,#e44f64 43.5px,#e34e65 44.5px,#aa337c 49.5px,#9b2e7f 52.5px,#a5317e 57.5px,#c43c74 62.5px,#e55064 67.5px,#ee5b5e 71.5px,#e95561 73.5px,#c83d73 76.5px,#a9327d 79.5px,#a3307e 81.5px,#bb3878 87.5px,#e04c67 94.5px,#f3655c 100.5px,#fc8961 105.5px,#febc82 112.5px,#fcf6b8 117.5px,#fcfdbf 119.5px,#fde5a7 121.5px,#fec085 123.5px,#fb8861 125.5px,#f2645c 126.5px,#db486a 127.5px,#a2307e 129.5px,#711f81 131.5px,#5d177f 132.5px,#420f75 133.5px,#251255 134.5px,#110c30 135.5px,#050417 136.5px,#02020b 137.5px,#060518 157.5px,#251255 171.5px,#36106b 176.5px,#56147d 181.5px,#8c2981 189.5px,#b3357a 193.5px,#df4a68 197.5px,#f1615d 200.5px,#fa7e5e 202.5px,#fb8660 204.5px,#fb8560 205.5px,#f66c5c 207.5px,#e95462 208.5px,#ca3e72 209.5px,#a2307e 210.5px,#802582 211.5px,#59157e 213.5px,#4b117a 214.5px,#461077 215.5px,#5d177f 219.5px,#59157e 221.5px,#4d117a 222.5px,#35106a 223.5px,#1a1042 224.5px,#08061d 225.5px,#010108 226.5px,#000004 229.5px,#000004 241.5px)"></div><div style="top:126px;height:2px;background:linear-gradient(90deg,#812581 0.5px,#8e2a81 7.5px,#ad347c 29.5px,#d6446d 37.5px,#e34e65 41.5px,#e14c66 44.5px,#b1357b 48.5px,#a1307e 50.5px,#992d80 52.5px,#aa337d 58.5px,#dc4869 65.5px,#ed595f 69.5px,#ec5860 72.5px,#de4968 74.5px,#ae347b 78.5px,#a3307e 80.5px,#b2357b 85.5px,#e14c66 94.5px,#f3665c 100.5px,#fc8a62 105.5px,#febd82 112.5px,#fcedaf 116.5px,#fcfbbd 118.5px,#fcfdbf 119.5px,#fde3a5 121.5px,#febe83 123.5px,#fb825f 125.5px,#f05f5d 126.5px,#d9466b 127.5px,#9f2f7f 129.5px,#6e1e81 131.5px,#59157e 132.5px,#3d0f71 133.5px,#20114d 134.5px,#0e0a2a 135.5px,#040312 136.5px,#02020b 137.5px,#060518 157.5px,#221150 170.5px,#36106b 176.5px,#56147d 181.5px,#8d2981 189.5px,#b5367a 193.5px,#d9466b 196.5px,#ed595f 199.5px,#f8765c 201.5px,#fa815f 202.5px,#fb8761 204.5px,#f9795d 206.5px,#f4675c 207.5px,#e55064 208.5px,#c23b75 209.5px,#9a2e7f 210.5px,#7b2382 211.5px,#641a80 212.5px,#471078 214.5px,#430f75 215.5px,#5d177f 219.5px,#5a167e 221.5px,#50127b 222.5px,#390f6e 223.5px,#1e1149 224.5px,#0b0924 225.5px,#02010a 226.5px,#000004 227.5px,#000004 241.5px)"></div><div style="top:128px;height:2px;background:linear-gradient(90deg,#812581 0.5px,#8e2a81 7.5px,#b0357b 30.5px,#df4a68 39.5px,#e44f64 43.5px,#d3426e 45.5px,#ae347c 48.5px,#9b2e7f 51.5px,#a02f7f 55.5px,#b1357b 59.5px,#e44e65 66.5px,#ee5b5e 70.5px,#ec5860 72.5px,#e65163 73.5px,#c13b76 76.5px,#a6317d 79.5px,#a5317e 81.5px,#bd3977 87.5px,#de4a68 93.5px,#ef5c5e 98.5px,#fa7d5e 103.5px,#feae77 110.5px,#febd82 112.5px,#fcf7b9 117.5px,#fcfdbf 119.5px,#fde2a3 121.5px,#feba80 123.5px,#fa7e5e 125.5px,#ee5b5f 126.5px,#d6446d 127.5px,#9c2e7f 129.5px,#802582 130.5px,#56147d 132.5px,#36106b 133.5px,#1c1044 134.5px,#0b0823 135.5px,#02020d 136.5px,#02020d 143.5px,#060518 157.5px,#19103f 166.5px,#36106b 176.5px,#57157e 181.5px,#8f2a81 189.5px,#c43c74 194.5px,#db486a 196.5px,#ef5c5e 199.5px,#f97a5d 201.5px,#fb8660 203.5px,#fb825f 205.5px,#f8775c 206.5px,#f2625d 207.5px,#e04c67 208.5px,#b93878 209.5px,#932b80 210.5px,#752181 211.5px,#5f187f 212.5px,#430f75 214.5px,#410f74 215.5px,#5d177f 219.5px,#5c167f 221.5px,#53137d 222.5px,#3f0f72 223.5px,#241153 224.5px,#0e0b2b 225.5px,#03020e 226.5px,#000004 227.5px,#000004 241.5px)"></div><div style="top:130px;height:2px;background:linear-gradient(90deg,#812581 0.5px,#902a81 8.5px,#ae347b 29.5px,#c13b76 33.5px,#e04c67 39.5px,#e44e65 43.5px,#c33b75 46.5px,#aa337c 48.5px,#992d80 51.5px,#a6317d 57.5px,#c93e72 62.5px,#e55064 66.5px,#ee5b5e 70.5px,#eb5661 72.5px,#cb3f72 75.5px,#aa337c 78.5px,#a3307e 80.5px,#b3367a 85.5px,#db486a 92.5px,#ef5d5e 98.5px,#fa7e5e 103.5px,#feb67c 111.5px,#fed799 114.5px,#fcf7b9 117.5px,#fcfdbf 118.5px,#fcfcbe 119.5px,#fecd90 122.5px,#fd9b6a 124.5px,#f9785d 125.5px,#eb5760 126.5px,#d2426f 127.5px,#982d80 129.5px,#7d2482 130.5px,#51127c 132.5px,#311165 133.5px,#170f3c 134.5px,#08071e 135.5px,#02020b 136.5px,#060518 157.5px,#221150 170.5px,#36106b 176.5px,#51127c 180.5px,#902a81 189.5px,#bb3878 193.5px,#dd4969 196.5px,#f05f5d 199.5px,#fa7e5e 201.5px,#fb8761 204.5px,#fa805f 205.5px,#f8735c 206.5px,#ef5d5e 207.5px,#d9466b 208.5px,#b2357b 209.5px,#8b2981 210.5px,#6e1e81 211.5px,#4b117a 213.5px,#3f0f72 214.5px,#3e0f72 215.5px,#5d177f 219.5px,#5d177f 221.5px,#56147d 222.5px,#440f76 223.5px,#2a115c 224.5px,#120d33 225.5px,#040313 226.5px,#000004 227.5px,#000004 241.5px)"></div><div style="top:132px;height:2px;background:linear-gradient(90deg,#832681 0.5px,#ae347b 29.5px,#e04c67 39.5px,#e24d66 43.5px,#b3357a 47.5px,#a1307e 49.5px,#992d80 52.5px,#ad347c 58.5px,#e14c66 65.5px,#ee5b5e 69.5px,#e85362 72.5px,#c83d73 75.5px,#a9327d 78.5px,#a3307e 80.5px,#ba3878 86.5px,#e04c67 93.5px,#f2645c 99.5px,#fb8761 104.5px,#feb67d 111.5px,#fde4a6 115.5px,#fcf8ba 117.5px,#fcfdbf 118.5px,#fcfbbd 119.5px,#fddea0 121.5px,#feb37a 123.5px,#fd9668 124.5px,#f8755c 125.5px,#e85362 126.5px,#ce4070 127.5px,#952c80 129.5px,#7a2382 130.5px,#661b80 131.5px,#4b117a 132.5px,#2a115c 133.5px,#130d34 134.5px,#060518 135.5px,#02020b 136.5px,#050416 156.5px,#221150 170.5px,#3d0f71 177.5px,#5f187f 182.5px,#912b81 189.5px,#bd3977 193.5px,#e04b67 196.5px,#f2635d 199.5px,#fa805f 201.5px,#fb8660 204.5px,#f66f5c 206.5px,#ec5860 207.5px,#d3436e 208.5px,#ab337c 209.5px,#852781 210.5px,#6b1c81 211.5px,#491078 213.5px,#3d0f71 214.5px,#3b0f70 215.5px,#5d177f 219.5px,#59157e 222.5px,#481078 223.5px,#301164 224.5px,#160f3b 225.5px,#060519 226.5px,#010106 227.5px,#000004 241.5px)"></div><div style="top:134px;height:2px;background:linear-gradient(90deg,#832681 0.5px,#902a81 8.5px,#a4317e 23.5px,#b3357a 30.5px,#de4a68 38.5px,#e44f64 42.5px,#e04b67 43.5px,#af347b 47.5px,#a02f7f 49.5px,#992d80 52.5px,#ae347b 58.5px,#e34e65 65.5px,#ee5b5e 69.5px,#ec5860 71.5px,#db486a 73.5px,#ae347c 77.5px,#a3307e 79.5px,#b1357b 84.5px,#de4968 92.5px,#f05f5d 98.5px,#fa815f 103.5px,#feb77e 111.5px,#fdd99b 114.5px,#fcf2b4 116.5px,#fcfdbf 118.5px,#fcf9bb 119.5px,#fddc9e 121.5px,#feb179 123.5px,#fd9366 124.5px,#f7715c 125.5px,#e65163 126.5px,#cc3f71 127.5px,#912b81 129.5px,#621980 131.5px,#451077 132.5px,#251255 133.5px,#100b2d 134.5px,#040313 135.5px,#02020b 136.5px,#050416 156.5px,#180f3d 165.5px,#331067 175.5px,#52137c 180.5px,#8b2981 188.5px,#b3357a 192.5px,#d9466b 195.5px,#ee5b5f 198.5px,#fb825f 201.5px,#fb8761 203.5px,#fb8460 204.5px,#f56c5c 206.5px,#e95462 207.5px,#cd4071 208.5px,#a5317e 209.5px,#812581 210.5px,#681c81 211.5px,#471078 213.5px,#3d0f71 214.5px,#3b0f70 215.5px,#5c167f 219.5px,#5a167e 222.5px,#4b117a 223.5px,#35106a 224.5px,#1a1042 225.5px,#090720 226.5px,#010109 227.5px,#000004 229.5px,#000004 241.5px)"></div><div style="top:136px;height:2px;background:linear-gradient(90deg,#832681 0.5px,#8e2a81 6.5px,#a5317e 23.5px,#b0357b 29.5px,#df4a68 38.5px,#e44f64 42.5px,#d1426f 44.5px,#ac337c 47.5px,#9a2e7f 50.5px,#a02f7f 54.5px,#b1357b 58.5px,#e55064 65.5px,#ee5b5e 69.5px,#eb5661 71.5px,#d8456c 73.5px,#ac337c 77.5px,#a3307e 79.5px,#b2357b 84.5px,#de4a68 92.5px,#f1605d 98.5px,#fb825f 103.5px,#feb97f 111.5px,#fddb9d 114.5px,#fcf3b5 116.5px,#fcfdbf 118.5px,#fcf8ba 119.5px,#fec68a 122.5px,#fc8f64 124.5px,#f66d5c 125.5px,#e44e65 126.5px,#ac337c 128.5px,#742081 130.5px,#5e177f 131.5px,#3f0f72 132.5px,#20114b 133.5px,#0c0926 134.5px,#03020e 135.5px,#02020d 142.5px,#050416 154.5px,#06051a 157.5px,#241253 170.5px,#38106c 176.5px,#53137d 180.5px,#8c2981 188.5px,#b63779 192.5px,#db476a 195.5px,#ef5c5e 198.5px,#f97a5d 200.5px,#fb8761 202.5px,#fb825f 204.5px,#f9785d 205.5px,#f3665c 206.5px,#e55064 207.5px,#c63d74 208.5px,#a02f7f 209.5px,#7d2482 210.5px,#55147d 212.5px,#3d0f71 214.5px,#3b0f70 215.5px,#5c167f 219.5px,#5c167f 222.5px,#4e127b 223.5px,#3a0f6f 224.5px,#20114b 225.5px,#0c0926 226.5px,#02020c 227.5px,#000004 228.5px,#000004 241.5px)"></div><div style="top:138px;height:1px;background:linear-gradient(90deg,#832681 0.5px,#8e2a81 6.5px,#a5317e 23.5px,#b0357b 29.5px,#e04c67 38.5px,#e44f64 42.5px,#b5367a 46.5px,#a3307e 48.5px,#992d80 50.5px,#a3307e 55.5px,#b2357b 58.5px,#e55064 65.5px,#ee5b5e 69.5px,#ea5661 71.5px,#ca3e72 74.5px,#ab337c 77.5px,#a3307e 79.5px,#b83779 85.5px,#df4a68 92.5px,#ee5b5e 97.5px,#f97b5d 102.5px,#feac76 109.5px,#feb97f 111.5px,#fde9aa 115.5px,#fcfbbd 117.5px,#fcfdbf 118.5px,#fcf7b9 119.5px,#fed89a 121.5px,#feaa74 123.5px,#fc8c63 124.5px,#f56b5c 125.5px,#e24d66 126.5px,#aa337d 128.5px,#721f81 130.5px,#5a167e 131.5px,#390f6e 132.5px,#1c1044 133.5px,#0a0822 134.5px,#02020b 135.5px,#060518 156.5px,#241253 170.5px,#38106c 176.5px,#4e117b 179.5px,#842681 187.5px,#b73779 192.5px,#dc4869 195.5px,#f05f5e 198.5px,#fa7d5e 200.5px,#fb8761 202.5px,#fa815f 204.5px,#f8765c 205.5px,#f2645c 206.5px,#e34e65 207.5px,#c23b75 208.5px,#9c2e7f 209.5px,#7b2382 210.5px,#54137d 212.5px,#3d0f71 214.5px,#3b0f70 215.5px,#5c167f 219.5px,#5c167f 222.5px,#51127c 223.5px,#3d0f71 224.5px,#241253 225.5px,#100b2d 226.5px,#030312 227.5px,#000004 228.5px,#000004 241.5px)"></div></div><div class="hm" style="left:406px;top:9px;width:230px;height:130px"><div style="top:0px;height:1px;background:linear-gradient(90deg,#2323ff 0.5px,#3f3fff 9.5px,#4d4dff 34.5px,#7070ff 40.5px,#7070ff 41.5px,#4c4cff 46.5px,#4040ff 53.5px,#4949ff 59.5px,#6666ff 65.5px,#7575ff 67.5px,#6f6fff 68.5px,#3f3fff 71.5px,#2f2fff 73.5px,#3030ff 75.5px,#4444ff 80.5px,#7e7eff 90.5px,#9191ff 94.5px,#c0c0ff 99.5px,#e0e0ff 103.5px,#fffefe 105.5px,#ffbdbd 107.5px,#ffa8a8 108.5px,#ff9d9d 109.5px,#ff9f9f 111.5px,#ffb6b6 112.5px,#ffeaea 113.5px,#c9c9ff 114.5px,#7171ff 115.5px,#3838ff 116.5px,#2f2fff 117.5px,#2f2fff 138.5px,#3e3eff 155.5px,#5353ff 168.5px,#6464ff 174.5px,#b2b2ff 184.5px,#c1c1ff 185.5px,#d7d7ff 186.5px,#fafaff 187.5px,#ffd0d0 188.5px,#ff9b9b 189.5px,#ff7676 190.5px,#ff6767 191.5px,#ff6c6c 194.5px,#ff9292 195.5px,#ffe6e6 196.5px,#a6a6ff 197.5px,#3d3dff 198.5px,#2626ff 199.5px,#1313ff 204.5px,#1818ff 229.5px)"></div><div style="top:1px;height:1px;background:linear-gradient(90deg,#2323ff 0.5px,#3f3fff 9.5px,#4d4dff 34.5px,#7070ff 40.5px,#7070ff 41.5px,#4c4cff 46.5px,#4040ff 53.5px,#4949ff 59.5px,#6666ff 65.5px,#7575ff 67.5px,#6f6fff 68.5px,#3f3fff 71.5px,#2f2fff 73.5px,#3030ff 75.5px,#4444ff 80.5px,#7e7eff 90.5px,#9090ff 94.5px,#c5c5ff 100.5px,#eaeaff 104.5px,#fdfdff 105.5px,#ffbfbf 107.5px,#ffa8a8 108.5px,#ff9b9b 109.5px,#ff9d9d 111.5px,#ffb0b0 112.5px,#ffe1e1 113.5px,#d5d5ff 114.5px,#7d7dff 115.5px,#3c3cff 116.5px,#2f2fff 117.5px,#2e2eff 135.5px,#3838ff 150.5px,#5151ff 167.5px,#6464ff 174.5px,#b2b2ff 184.5px,#c0c0ff 185.5px,#d6d6ff 186.5px,#f8f8ff 187.5px,#ffd2d2 188.5px,#ff9d9d 189.5px,#ff7676 190.5px,#ff6666 191.5px,#ff6a6a 194.5px,#ff8e8e 195.5px,#ffdfdf 196.5px,#adadff 197.5px,#4141ff 198.5px,#2727ff 199.5px,#1313ff 204.5px,#1818ff 229.5px)"></div><div style="top:2px;height:1px;background:linear-gradient(90deg,#2323ff 0.5px,#3f3fff 9.5px,#4d4dff 34.5px,#7070ff 40.5px,#7070ff 41.5px,#4c4cff 46.5px,#4040ff 53.5px,#4949ff 59.5px,#6666ff 65.5px,#7575ff 67.5px,#6f6fff 68.5px,#3f3fff 71.5px,#2f2fff 73.5px,#3030ff 75.5px,#4444ff 80.5px,#7e7eff 90.5px,#9090ff 94.5px,#c4c4ff 100.5px,#e8e8ff 104.5px,#fafaff 105.5px,#ffe4e4 106.5px,#ffc2c2 107.5px,#ffa9a9 108.5px,#ff9a9a 109.5px,#ff9a9a 111.5px,#ffaaaa 112.5px,#ffd7d7 113.5px,#e0e0ff 114.5px,#8989ff 115.5px,#4141ff 116.5px,#3030ff 117.5px,#2e2eff 133.5px,#3737ff 149.5px,#5151ff 167.5px,#6464ff 174.5px,#a9a9ff 183.5px,#bfbfff 185.5px,#d5d5ff 186.5px,#f7f7ff 187.5px,#ffd4d4 188.5px,#ff9e9e 189.5px,#ff7676 190.5px,#ff6565 191.5px,#ff6868 194.5px,#ff8a8a 195.5px,#ffd9d9 196.5px,#b4b4ff 197.5px,#4545ff 198.5px,#2727ff 199.5px,#1313ff 204.5px,#1818ff 229.5px)"></div><div style="top:3px;height:1px;background:linear-gradient(90deg,#2323ff 0.5px,#3f3fff 9.5px,#4d4dff 34.5px,#7070ff 40.5px,#7070ff 41.5px,#4c4cff 46.5px,#4040ff 53.5px,#4949ff 59.5px,#6666ff 65.5px,#7575ff 67.5px,#6f6fff 68.5px,#3f3fff 71.5px,#2f2fff 73.5px,#3030ff 75.5px,#4444ff 80.5px,#7e7eff 90.5px,#9090ff 94.5px,#cacaff 101.5px,#e6e6ff 104.5px,#f7f7ff 105.5px,#ffe8e8 106.5px,#ffc5c5 107.5px,#ffaaaa 108.5px,#ff9999 109.5px,#ff9898 111.5px,#ffa4a4 112.5px,#ffcece 113.5px,#ebebff 114.5px,#4747ff 116.5px,#3030ff 117.5px,#2d2dff 131.5px,#3636ff 148.5px,#5151ff 167.5px,#6464ff 174.5px,#a8a8ff 183.5px,#bebeff 185.5px,#d4d4ff 186.5px,#f5f5ff 187.5px,#ffd6d6 188.5px,#ff9f9f 189.5px,#ff7777 190.5px,#ff6464 191.5px,#ff6767 194.5px,#ff8686 195.5px,#ffd3d3 196.5px,#bcbcff 197.5px,#4949ff 198.5px,#2727ff 199.5px,#1313ff 204.5px,#1818ff 229.5px)"></div><div style="top:4px;height:1px;background:linear-gradient(90deg,#2323ff 0.5px,#3f3fff 9.5px,#4d4dff 34.5px,#7070ff 40.5px,#7070ff 41.5px,#4c4cff 46.5px,#4040ff 53.5px,#4949ff 59.5px,#6666ff 65.5px,#7575ff 67.5px,#6f6fff 68.5px,#3f3fff 71.5px,#2f2fff 73.5px,#3030ff 75.5px,#4444ff 80.5px,#7e7eff 90.5px,#9090ff 94.5px,#e4e4ff 104.5px,#f5f5ff 105.5px,#ffebeb 106.5px,#ffabab 108.5px,#ff9898 109.5px,#ff9696 111.5px,#ff9f9f 112.5px,#ffc6c6 113.5px,#f5f5ff 114.5px,#4e4eff 116.5px,#3131ff 117.5px,#2d2dff 129.5px,#3636ff 148.5px,#5151ff 167.5px,#6464ff 174.5px,#a8a8ff 183.5px,#bdbdff 185.5px,#d2d2ff 186.5px,#f3f3ff 187.5px,#ffd7d7 188.5px,#ffa1a1 189.5px,#ff7777 190.5px,#ff6363 191.5px,#ff6565 194.5px,#ff8282 195.5px,#ffcccc 196.5px,#c3c3ff 197.5px,#4e4eff 198.5px,#2828ff 199.5px,#1313ff 204.5px,#1818ff 229.5px)"></div><div style="top:5px;height:1px;background:linear-gradient(90deg,#2323ff 0.5px,#3f3fff 9.5px,#4d4dff 34.5px,#7070ff 40.5px,#7070ff 41.5px,#4c4cff 46.5px,#4040ff 53.5px,#4949ff 59.5px,#6666ff 65.5px,#7575ff 67.5px,#6f6fff 68.5px,#3f3fff 71.5px,#2f2fff 73.5px,#3030ff 75.5px,#4444ff 80.5px,#7e7eff 90.5px,#9090ff 94.5px,#e2e2ff 104.5px,#f2f2ff 105.5px,#ffefef 106.5px,#ffacac 108.5px,#ff9797 109.5px,#ff9494 111.5px,#ff9b9b 112.5px,#ffbebe 113.5px,#ffffff 114.5px,#aeaeff 115.5px,#5656ff 116.5px,#3232ff 117.5px,#2c2cff 127.5px,#3636ff 148.5px,#5151ff 167.5px,#6464ff 174.5px,#a7a7ff 183.5px,#bcbcff 185.5px,#d1d1ff 186.5px,#f1f1ff 187.5px,#ffd9d9 188.5px,#ffa2a2 189.5px,#ff7777 190.5px,#ff6262 191.5px,#ff6363 194.5px,#ff7e7e 195.5px,#ffc6c6 196.5px,#cacaff 197.5px,#5353ff 198.5px,#2828ff 199.5px,#1313ff 204.5px,#1818ff 229.5px)"></div><div style="top:6px;height:1px;background:linear-gradient(90deg,#2323ff 0.5px,#3f3fff 9.5px,#4d4dff 34.5px,#7070ff 40.5px,#7070ff 41.5px,#4c4cff 46.5px,#4040ff 53.5px,#4949ff 59.5px,#6666ff 65.5px,#7575ff 67.5px,#6f6fff 68.5px,#3f3fff 71.5px,#2f2fff 73.5px,#3030ff 75.5px,#4444ff 80.5px,#7e7eff 90.5px,#9090ff 94.5px,#e0e0ff 104.5px,#efefff 105.5px,#fff3f3 106.5px,#ffadad 108.5px,#ff9797 109.5px,#ff9090 110.5px,#ff9797 112.5px,#ffb6b6 113.5px,#fff3f3 114.5px,#babaff 115.5px,#6060ff 116.5px,#3434ff 117.5px,#2d2dff 120.5px,#3434ff 147.5px,#5151ff 167.5px,#6464ff 174.5px,#a7a7ff 183.5px,#bbbbff 185.5px,#d0d0ff 186.5px,#efefff 187.5px,#ffdbdb 188.5px,#ffa4a4 189.5px,#ff7878 190.5px,#ff6262 191.5px,#ff6262 194.5px,#ff7a7a 195.5px,#ffc0c0 196.5px,#d1d1ff 197.5px,#5858ff 198.5px,#2929ff 199.5px,#1313ff 204.5px,#1818ff 229.5px)"></div><div style="top:7px;height:1px;background:linear-gradient(90deg,#2323ff 0.5px,#3f3fff 9.5px,#4d4dff 34.5px,#7070ff 40.5px,#7070ff 41.5px,#4c4cff 46.5px,#4040ff 53.5px,#4949ff 59.5px,#6666ff 65.5px,#7575ff 67.5px,#6f6fff 68.5px,#3f3fff 71.5px,#2f2fff 73.5px,#3030ff 75.5px,#4444ff 80.5px,#7e7eff 90.5px,#9090ff 94.5px,#dedeff 104.5px,#ededff 105.5px,#fff7f7 106.5px,#ffafaf 108.5px,#ff9696 109.5px,#ff8e8e 110.5px,#ff9393 112.5px,#ffafaf 113.5px,#ffe9e9 114.5px,#c6c6ff 115.5px,#6b6bff 116.5px,#3636ff 117.5px,#2e2eff 119.5px,#3333ff 146.5px,#5151ff 167.5px,#6464ff 174.5px,#9e9eff 182.5px,#babaff 185.5px,#ceceff 186.5px,#ececff 187.5px,#ffe1e1 188.5px,#ffa8a8 189.5px,#ff7b7b 190.5px,#ff6262 191.5px,#ff6161 194.5px,#ff7474 195.5px,#ffb5b5 196.5px,#dfdfff 197.5px,#6464ff 198.5px,#2a2aff 199.5px,#1313ff 204.5px,#1818ff 229.5px)"></div><div style="top:8px;height:1px;background:linear-gradient(90deg,#2323ff 0.5px,#3f3fff 9.5px,#4d4dff 34.5px,#7070ff 40.5px,#7070ff 41.5px,#4c4cff 46.5px,#4040ff 53.5px,#4949ff 59.5px,#6666ff 65.5px,#7575ff 67.5px,#6f6fff 68.5px,#3f3fff 71.5px,#2f2fff 73.5px,#3030ff 75.5px,#4444ff 80.5px,#7e7eff 90.5px,#8f8fff 94.5px,#dcdcff 104.5px,#fffbfb 106.5px,#ffb0b0 108.5px,#ff9696 109.5px,#ff8c8c 110.5px,#ff9090 112.5px,#ffa8a8 113.5px,#ffdede 114.5px,#d2d2ff 115.5px,#7676ff 116.5px,#3939ff 117.5px,#2f2fff 118.5px,#2f2fff 137.5px,#3a3aff 152.5px,#5151ff 167.5px,#6464ff 174.5px,#9d9dff 182.5px,#b8b8ff 185.5px,#ccccff 186.5px,#e8e8ff 187.5px,#ffe8e8 188.5px,#ffb0b0 189.5px,#ff8080 190.5px,#ff6363 191.5px,#ff5f5f 193.5px,#ff6060 194.5px,#ff6d6d 195.5px,#ffa6a6 196.5px,#f2f2ff 197.5px,#7878ff 198.5px,#2d2dff 199.5px,#1e1eff 201.5px,#1414ff 205.5px,#1818ff 229.5px)"></div><div style="top:9px;height:1px;background:linear-gradient(90deg,#2323ff 0.5px,#3f3fff 9.5px,#4d4dff 34.5px,#7070ff 40.5px,#7070ff 41.5px,#4c4cff 46.5px,#4040ff 53.5px,#4949ff 59.5px,#6666ff 65.5px,#7575ff 67.5px,#6f6fff 68.5px,#3f3fff 71.5px,#2f2fff 73.5px,#3030ff 75.5px,#4444ff 80.5px,#7e7eff 90.5px,#9797ff 95.5px,#dadaff 104.5px,#e8e8ff 105.5px,#ffffff 106.5px,#ffb2b2 108.5px,#ff9696 109.5px,#ff8b8b 110.5px,#ff8d8d 112.5px,#ffa1a1 113.5px,#ffd4d4 114.5px,#dedeff 115.5px,#8282ff 116.5px,#3d3dff 117.5px,#2f2fff 118.5px,#2e2eff 135.5px,#3838ff 150.5px,#5151ff 167.5px,#6464ff 174.5px,#9d9dff 182.5px,#b7b7ff 185.5px,#e4e4ff 187.5px,#fff0f0 188.5px,#ff8686 190.5px,#ff6565 191.5px,#ff5d5d 192.5px,#ff5f5f 194.5px,#ff6767 195.5px,#ff9999 196.5px,#fff8f8 197.5px,#8e8eff 198.5px,#3232ff 199.5px,#2323ff 200.5px,#1313ff 204.5px,#1818ff 229.5px)"></div><div style="top:10px;height:1px;background:linear-gradient(90deg,#2323ff 0.5px,#3f3fff 9.5px,#4d4dff 34.5px,#7070ff 40.5px,#7070ff 41.5px,#4c4cff 46.5px,#4040ff 53.5px,#4949ff 59.5px,#6666ff 65.5px,#7575ff 67.5px,#6f6fff 68.5px,#3f3fff 71.5px,#2f2fff 73.5px,#3030ff 75.5px,#4444ff 80.5px,#7e7eff 90.5px,#9696ff 95.5px,#d8d8ff 104.5px,#e5e5ff 105.5px,#fbfbff 106.5px,#ffdddd 107.5px,#ffb4b4 108.5px,#ff9696 109.5px,#ff8989 110.5px,#ff8a8a 112.5px,#ff9b9b 113.5px,#ffcbcb 114.5px,#e9e9ff 115.5px,#8e8eff 116.5px,#4343ff 117.5px,#3030ff 118.5px,#2e2eff 133.5px,#3737ff 149.5px,#5151ff 167.5px,#6464ff 174.5px,#9c9cff 182.5px,#b6b6ff 185.5px,#e1e1ff 187.5px,#fff7f7 188.5px,#ff8c8c 190.5px,#ff6868 191.5px,#ff5c5c 192.5px,#ff6262 195.5px,#ff8c8c 196.5px,#ffe4e4 197.5px,#a4a4ff 198.5px,#3a3aff 199.5px,#2323ff 200.5px,#1313ff 204.5px,#1818ff 229.5px)"></div><div style="top:11px;height:1px;background:linear-gradient(90deg,#2424ff 0.5px,#4040ff 9.5px,#4e4eff 34.5px,#7171ff 40.5px,#6969ff 42.5px,#4d4dff 46.5px,#4141ff 53.5px,#4b4bff 59.5px,#6767ff 65.5px,#7575ff 67.5px,#7070ff 68.5px,#4242ff 71.5px,#3232ff 73.5px,#3131ff 75.5px,#3e3eff 79.5px,#7b7bff 89.5px,#9797ff 95.5px,#d7d7ff 104.5px,#e4e4ff 105.5px,#f7f7ff 106.5px,#ffe3e3 107.5px,#ffb9b9 108.5px,#ff9999 109.5px,#ff8989 110.5px,#ff8888 112.5px,#ff9494 113.5px,#ffbdbd 114.5px,#fafaff 115.5px,#4f4fff 117.5px,#3333ff 118.5px,#2d2dff 128.5px,#3636ff 148.5px,#5151ff 167.5px,#6363ff 174.5px,#9c9cff 182.5px,#b6b6ff 185.5px,#e0e0ff 187.5px,#fffcfc 188.5px,#ff9393 190.5px,#ff6c6c 191.5px,#ff5c5c 192.5px,#ff5e5e 195.5px,#ff8181 196.5px,#ffd1d1 197.5px,#babaff 198.5px,#4646ff 199.5px,#2525ff 200.5px,#1414ff 204.5px,#1919ff 229.5px)"></div><div style="top:12px;height:1px;background:linear-gradient(90deg,#2626ff 0.5px,#4141ff 9.5px,#5151ff 34.5px,#7373ff 40.5px,#6a6aff 42.5px,#4f4fff 46.5px,#4444ff 53.5px,#4e4eff 59.5px,#6969ff 65.5px,#7777ff 67.5px,#7373ff 68.5px,#4747ff 71.5px,#3333ff 74.5px,#4141ff 79.5px,#8080ff 90.5px,#9898ff 95.5px,#d8d8ff 104.5px,#f4f4ff 106.5px,#ffebeb 107.5px,#ffc1c1 108.5px,#ff9e9e 109.5px,#ff8a8a 110.5px,#ff8585 112.5px,#ff8b8b 113.5px,#ffadad 114.5px,#ffecec 115.5px,#bebeff 116.5px,#6464ff 117.5px,#3939ff 118.5px,#3030ff 120.5px,#3131ff 143.5px,#5151ff 167.5px,#6363ff 174.5px,#9b9bff 182.5px,#b7b7ff 185.5px,#e0e0ff 187.5px,#fefeff 188.5px,#ffd1d1 189.5px,#ff9a9a 190.5px,#ff7070 191.5px,#ff5c5c 192.5px,#ff5c5c 195.5px,#ff7777 196.5px,#ffc0c0 197.5px,#cfcfff 198.5px,#5656ff 199.5px,#2727ff 200.5px,#1515ff 204.5px,#1a1aff 229.5px)"></div><div style="top:13px;height:1px;background:linear-gradient(90deg,#2828ff 0.5px,#4343ff 9.5px,#5454ff 34.5px,#7474ff 40.5px,#6c6cff 42.5px,#5151ff 46.5px,#4747ff 53.5px,#5050ff 59.5px,#6b6bff 65.5px,#7878ff 67.5px,#7575ff 68.5px,#4c4cff 71.5px,#3737ff 74.5px,#4343ff 79.5px,#8080ff 90.5px,#9a9aff 95.5px,#d8d8ff 104.5px,#f1f1ff 106.5px,#fff2f2 107.5px,#ffa5a5 109.5px,#ff8d8d 110.5px,#ff8282 111.5px,#ff8585 113.5px,#ff9f9f 114.5px,#ffd6d6 115.5px,#d8d8ff 116.5px,#7d7dff 117.5px,#4242ff 118.5px,#3535ff 119.5px,#2e2eff 129.5px,#3838ff 148.5px,#5252ff 167.5px,#6363ff 174.5px,#9292ff 181.5px,#b8b8ff 185.5px,#e0e0ff 187.5px,#fcfcff 188.5px,#ffd8d8 189.5px,#ffa1a1 190.5px,#ff7474 191.5px,#ff5d5d 192.5px,#ff5b5b 195.5px,#ff6f6f 196.5px,#ffb0b0 197.5px,#e4e4ff 198.5px,#6969ff 199.5px,#2a2aff 200.5px,#1616ff 204.5px,#1c1cff 229.5px)"></div><div style="top:14px;height:1px;background:linear-gradient(90deg,#2929ff 0.5px,#4343ff 8.5px,#5858ff 34.5px,#7676ff 40.5px,#6666ff 43.5px,#5454ff 46.5px,#4a4aff 53.5px,#5353ff 59.5px,#6d6dff 65.5px,#7979ff 67.5px,#7777ff 68.5px,#4848ff 72.5px,#3b3bff 74.5px,#4141ff 78.5px,#8585ff 91.5px,#c9c9ff 102.5px,#efefff 106.5px,#fff9f9 107.5px,#ffacac 109.5px,#ff9090 110.5px,#ff8181 111.5px,#ff8181 113.5px,#ff9292 114.5px,#ffc2c2 115.5px,#f1f1ff 116.5px,#9898ff 117.5px,#4e4eff 118.5px,#3838ff 119.5px,#2f2fff 126.5px,#3333ff 144.5px,#4141ff 156.5px,#5f5fff 173.5px,#8888ff 180.5px,#b9b9ff 185.5px,#e1e1ff 187.5px,#fafaff 188.5px,#ffdede 189.5px,#ff7979 191.5px,#ff5f5f 192.5px,#ff5a5a 194.5px,#ff5a5a 195.5px,#ff6767 196.5px,#ffa1a1 197.5px,#f8f8ff 198.5px,#7d7dff 199.5px,#2e2eff 200.5px,#1f1fff 202.5px,#1717ff 205.5px,#1d1dff 229.5px)"></div><div style="top:15px;height:1px;background:linear-gradient(90deg,#2b2bff 0.5px,#4545ff 8.5px,#5b5bff 34.5px,#7777ff 40.5px,#6161ff 44.5px,#5454ff 47.5px,#4d4dff 53.5px,#5656ff 59.5px,#6f6fff 65.5px,#7b7bff 67.5px,#7979ff 68.5px,#4444ff 73.5px,#3e3eff 76.5px,#4e4eff 80.5px,#9d9dff 95.5px,#dadaff 104.5px,#eeeeff 106.5px,#fffefe 107.5px,#ffb4b4 109.5px,#ff9595 110.5px,#ff8181 111.5px,#ff7f7f 113.5px,#ff8989 114.5px,#ffb0b0 115.5px,#fff5f5 116.5px,#b3b3ff 117.5px,#5f5fff 118.5px,#3c3cff 119.5px,#3131ff 123.5px,#3030ff 138.5px,#4242ff 155.5px,#5555ff 168.5px,#6363ff 174.5px,#8888ff 180.5px,#aeaeff 184.5px,#ceceff 186.5px,#fafaff 188.5px,#ffe3e3 189.5px,#ff7f7f 191.5px,#ff6161 192.5px,#ff5858 193.5px,#ff5959 195.5px,#ff6161 196.5px,#ff9393 197.5px,#fff2f2 198.5px,#9393ff 199.5px,#3535ff 200.5px,#2525ff 201.5px,#1818ff 204.5px,#1e1eff 229.5px)"></div><div style="top:16px;height:1px;background:linear-gradient(90deg,#2d2dff 0.5px,#4444ff 7.5px,#5e5eff 34.5px,#7777ff 39.5px,#7676ff 41.5px,#5858ff 46.5px,#5050ff 53.5px,#5959ff 59.5px,#7070ff 65.5px,#7c7cff 67.5px,#7b7bff 68.5px,#4848ff 73.5px,#4141ff 76.5px,#5151ff 80.5px,#9898ff 94.5px,#dadaff 104.5px,#eeeeff 106.5px,#fdfdff 107.5px,#ffe2e2 108.5px,#ff9b9b 110.5px,#ff8383 111.5px,#ff7b7b 112.5px,#ff8181 114.5px,#ffa0a0 115.5px,#ffdede 116.5px,#cdcdff 117.5px,#7474ff 118.5px,#4242ff 119.5px,#3838ff 120.5px,#2d2dff 132.5px,#3e3eff 151.5px,#4343ff 155.5px,#4d4dff 164.5px,#6363ff 174.5px,#8787ff 180.5px,#aeaeff 184.5px,#cfcfff 186.5px,#fafaff 188.5px,#ffe6e6 189.5px,#ff8282 191.5px,#ff6262 192.5px,#ff5757 193.5px,#ff5d5d 196.5px,#ff8a8a 197.5px,#ffe4e4 198.5px,#a3a3ff 199.5px,#3b3bff 200.5px,#2727ff 201.5px,#1919ff 204.5px,#2020ff 229.5px)"></div><div style="top:17px;height:1px;background:linear-gradient(90deg,#2f2fff 0.5px,#4444ff 6.5px,#6161ff 34.5px,#7979ff 39.5px,#7878ff 41.5px,#5b5bff 46.5px,#5353ff 53.5px,#5f5fff 60.5px,#7878ff 66.5px,#7d7dff 68.5px,#4747ff 74.5px,#4545ff 77.5px,#9999ff 94.5px,#dbdbff 104.5px,#fbfbff 107.5px,#ffe9e9 108.5px,#ffa1a1 110.5px,#ff8686 111.5px,#ff7979 112.5px,#ff7b7b 114.5px,#ff9292 115.5px,#ffc8c8 116.5px,#e7e7ff 117.5px,#8d8dff 118.5px,#4b4bff 119.5px,#3b3bff 120.5px,#2f2fff 129.5px,#3131ff 139.5px,#4242ff 152.5px,#4444ff 155.5px,#4949ff 161.5px,#6363ff 174.5px,#8686ff 180.5px,#aeaeff 184.5px,#e4e4ff 187.5px,#fafaff 188.5px,#ffe6e6 189.5px,#ff8484 191.5px,#ff6363 192.5px,#ff5656 193.5px,#ff5b5b 196.5px,#ff8585 197.5px,#ffdcdc 198.5px,#acacff 199.5px,#4040ff 200.5px,#2828ff 201.5px,#1a1aff 204.5px,#1f1fff 227.5px,#2121ff 229.5px)"></div><div style="top:18px;height:1px;background:linear-gradient(90deg,#3030ff 0.5px,#4444ff 5.5px,#5656ff 22.5px,#6464ff 34.5px,#7c7cff 39.5px,#7373ff 42.5px,#5d5dff 46.5px,#5656ff 53.5px,#6161ff 60.5px,#7f7fff 67.5px,#7a7aff 69.5px,#4b4bff 74.5px,#4747ff 77.5px,#9b9bff 94.5px,#dcdcff 104.5px,#f9f9ff 107.5px,#ffefef 108.5px,#ff8a8a 111.5px,#ff7979 112.5px,#ff7878 114.5px,#ff8787 115.5px,#ffb4b4 116.5px,#ffffff 117.5px,#a7a7ff 118.5px,#5858ff 119.5px,#3d3dff 120.5px,#3131ff 127.5px,#3030ff 137.5px,#4444ff 152.5px,#4545ff 155.5px,#4646ff 159.5px,#6363ff 174.5px,#8686ff 180.5px,#aeaeff 184.5px,#e5e5ff 187.5px,#fbfbff 188.5px,#ffe7e7 189.5px,#ff8686 191.5px,#ff6363 192.5px,#ff5555 193.5px,#ff5959 196.5px,#ff8080 197.5px,#ffd4d4 198.5px,#b4b4ff 199.5px,#4545ff 200.5px,#2a2aff 201.5px,#1b1bff 204.5px,#1f1fff 225.5px,#2323ff 229.5px)"></div><div style="top:19px;height:1px;background:linear-gradient(90deg,#3232ff 0.5px,#4646ff 5.5px,#6868ff 34.5px,#7e7eff 39.5px,#7474ff 42.5px,#5f5fff 46.5px,#5a5aff 54.5px,#6767ff 61.5px,#8181ff 68.5px,#7575ff 70.5px,#4f4fff 74.5px,#4a4aff 77.5px,#9696ff 93.5px,#bbbbff 99.5px,#dcdcff 104.5px,#f8f8ff 107.5px,#fff4f4 108.5px,#ff8f8f 111.5px,#ff7979 112.5px,#ff7575 114.5px,#ff7e7e 115.5px,#ffa3a3 116.5px,#ffe6e6 117.5px,#c2c2ff 118.5px,#6a6aff 119.5px,#4141ff 120.5px,#3333ff 125.5px,#2f2fff 136.5px,#4545ff 152.5px,#4646ff 155.5px,#4747ff 159.5px,#6363ff 174.5px,#7c7cff 179.5px,#aeaeff 184.5px,#fcfcff 188.5px,#ffe7e7 189.5px,#ff8787 191.5px,#ff6464 192.5px,#ff5454 193.5px,#ff5757 196.5px,#ff7b7b 197.5px,#ffcdcd 198.5px,#bdbdff 199.5px,#4a4aff 200.5px,#2b2bff 201.5px,#1d1dff 204.5px,#1f1fff 224.5px,#2424ff 229.5px)"></div><div style="top:20px;height:1px;background:linear-gradient(90deg,#3434ff 0.5px,#4848ff 5.5px,#6b6bff 34.5px,#8181ff 39.5px,#6a6aff 44.5px,#5f5fff 48.5px,#5d5dff 55.5px,#6f6fff 63.5px,#8383ff 68.5px,#7a7aff 70.5px,#5454ff 74.5px,#4c4cff 77.5px,#9797ff 93.5px,#bdbdff 99.5px,#ddddff 104.5px,#f7f7ff 107.5px,#fff7f7 108.5px,#ffdcdc 109.5px,#ff9494 111.5px,#ff7b7b 112.5px,#ff7272 113.5px,#ff7777 115.5px,#ff9494 116.5px,#ffcfcf 117.5px,#dcdcff 118.5px,#8181ff 119.5px,#4747ff 120.5px,#3d3dff 121.5px,#2e2eff 131.5px,#3232ff 139.5px,#4646ff 152.5px,#4a4aff 154.5px,#4343ff 157.5px,#6363ff 174.5px,#7c7cff 179.5px,#aeaeff 184.5px,#fdfdff 188.5px,#ffe7e7 189.5px,#ffbcbc 190.5px,#ff8989 191.5px,#ff6464 192.5px,#ff5353 193.5px,#ff5555 196.5px,#ff7777 197.5px,#ffc5c5 198.5px,#c6c6ff 199.5px,#5050ff 200.5px,#2d2dff 201.5px,#1e1eff 204.5px,#1f1fff 223.5px,#2626ff 229.5px)"></div><div style="top:21px;height:1px;background:linear-gradient(90deg,#3535ff 0.5px,#4a4aff 5.5px,#6e6eff 34.5px,#8383ff 39.5px,#6464ff 46.5px,#6060ff 54.5px,#6f6fff 62.5px,#8585ff 68.5px,#7f7fff 70.5px,#5858ff 74.5px,#4e4eff 77.5px,#9898ff 93.5px,#b9b9ff 98.5px,#d5d5ff 103.5px,#f7f7ff 107.5px,#fffafa 108.5px,#ffe2e2 109.5px,#ff9b9b 111.5px,#ff7e7e 112.5px,#ff7070 113.5px,#ff7272 115.5px,#ff8787 116.5px,#ffbaba 117.5px,#f5f5ff 118.5px,#9a9aff 119.5px,#5151ff 120.5px,#3f3fff 121.5px,#3232ff 128.5px,#2e2eff 135.5px,#4343ff 151.5px,#4c4cff 154.5px,#4444ff 157.5px,#6767ff 175.5px,#7b7bff 179.5px,#a0a0ff 183.5px,#c0c0ff 185.5px,#fefeff 188.5px,#ffe7e7 189.5px,#ffbebe 190.5px,#ff8b8b 191.5px,#ff6565 192.5px,#ff5353 193.5px,#ff5454 196.5px,#ff7272 197.5px,#ffbebe 198.5px,#ceceff 199.5px,#5757ff 200.5px,#2e2eff 201.5px,#1f1fff 204.5px,#1f1fff 223.5px,#2727ff 229.5px)"></div><div style="top:22px;height:1px;background:linear-gradient(90deg,#3737ff 0.5px,#4a4aff 4.5px,#7171ff 34.5px,#8686ff 39.5px,#6666ff 46.5px,#6363ff 55.5px,#7777ff 64.5px,#8989ff 69.5px,#7979ff 71.5px,#5c5cff 74.5px,#5151ff 77.5px,#9393ff 92.5px,#bbbbff 98.5px,#cdcdff 102.5px,#fffcfc 108.5px,#ffe7e7 109.5px,#ff8282 112.5px,#ff7070 113.5px,#ff6f6f 115.5px,#ff7c7c 116.5px,#ffa7a7 117.5px,#ffefef 118.5px,#b6b6ff 119.5px,#6060ff 120.5px,#4242ff 121.5px,#3535ff 126.5px,#2e2eff 135.5px,#4444ff 151.5px,#4d4dff 154.5px,#4444ff 157.5px,#6666ff 175.5px,#7a7aff 179.5px,#9f9fff 183.5px,#c1c1ff 185.5px,#ffffff 188.5px,#ffe7e7 189.5px,#ffbfbf 190.5px,#ff8c8c 191.5px,#ff6666 192.5px,#ff5252 193.5px,#ff5353 196.5px,#ff6e6e 197.5px,#ffb7b7 198.5px,#d7d7ff 199.5px,#5e5eff 200.5px,#3030ff 201.5px,#2020ff 204.5px,#1f1fff 221.5px,#2828ff 229.5px)"></div><div style="top:23px;height:1px;background:linear-gradient(90deg,#3939ff 0.5px,#4d4dff 4.5px,#7474ff 34.5px,#8888ff 38.5px,#7f7fff 41.5px,#6868ff 46.5px,#6666ff 55.5px,#7979ff 64.5px,#8c8cff 69.5px,#7e7eff 71.5px,#5a5aff 75.5px,#5353ff 77.5px,#9494ff 92.5px,#b8b8ff 97.5px,#ceceff 102.5px,#fffdfd 108.5px,#ffebeb 109.5px,#ff8787 112.5px,#ff7171 113.5px,#ff6b6b 114.5px,#ff7373 116.5px,#ff9696 117.5px,#ffd7d7 118.5px,#d1d1ff 119.5px,#7575ff 120.5px,#4747ff 121.5px,#3838ff 124.5px,#2d2dff 135.5px,#4545ff 151.5px,#4f4fff 154.5px,#4444ff 157.5px,#6666ff 175.5px,#7979ff 179.5px,#9f9fff 183.5px,#c2c2ff 185.5px,#fffefe 188.5px,#ffe6e6 189.5px,#ffc1c1 190.5px,#ff8e8e 191.5px,#ff6666 192.5px,#ff5151 193.5px,#ff5151 196.5px,#ff6a6a 197.5px,#ffb0b0 198.5px,#dfdfff 199.5px,#6565ff 200.5px,#3232ff 201.5px,#2121ff 204.5px,#2020ff 220.5px,#2a2aff 229.5px)"></div><div style="top:24px;height:1px;background:linear-gradient(90deg,#3939ff 0.5px,#4d4dff 4.5px,#7575ff 34.5px,#8888ff 38.5px,#7b7bff 42.5px,#6969ff 47.5px,#6868ff 56.5px,#8282ff 66.5px,#8e8eff 69.5px,#8b8bff 70.5px,#6262ff 74.5px,#5555ff 76.5px,#5959ff 78.5px,#9393ff 92.5px,#b8b8ff 97.5px,#cdcdff 102.5px,#ffffff 108.5px,#ffefef 109.5px,#ffd4d4 110.5px,#ff8f8f 112.5px,#ff7474 113.5px,#ff6969 114.5px,#ff6e6e 116.5px,#ff8888 117.5px,#ffc1c1 118.5px,#eaeaff 119.5px,#8e8eff 120.5px,#5050ff 121.5px,#4242ff 122.5px,#3232ff 129.5px,#2e2eff 135.5px,#4747ff 151.5px,#5151ff 154.5px,#4545ff 157.5px,#6767ff 175.5px,#7979ff 179.5px,#9f9fff 183.5px,#c2c2ff 185.5px,#fefeff 188.5px,#ffe9e9 189.5px,#ffc6c6 190.5px,#ff9595 191.5px,#ff6b6b 192.5px,#ff5454 193.5px,#ff5252 196.5px,#ff6666 197.5px,#ffa7a7 198.5px,#ececff 199.5px,#7272ff 200.5px,#3535ff 201.5px,#2222ff 204.5px,#2020ff 219.5px,#2c2cff 229.5px)"></div><div style="top:25px;height:1px;background:linear-gradient(90deg,#3939ff 0.5px,#4c4cff 4.5px,#7575ff 34.5px,#8787ff 39.5px,#6868ff 47.5px,#6767ff 56.5px,#8181ff 66.5px,#8d8dff 69.5px,#8a8aff 70.5px,#5c5cff 75.5px,#5555ff 77.5px,#9292ff 92.5px,#b9b9ff 98.5px,#cbcbff 102.5px,#fbfbff 108.5px,#fff5f5 109.5px,#ffdddd 110.5px,#ff7979 113.5px,#ff6a6a 114.5px,#ff6b6b 116.5px,#ff7d7d 117.5px,#ffaeae 118.5px,#fffcfc 119.5px,#a8a8ff 120.5px,#5e5eff 121.5px,#4747ff 122.5px,#3c3cff 124.5px,#2e2eff 134.5px,#4848ff 151.5px,#5454ff 153.5px,#4e4eff 155.5px,#4747ff 157.5px,#6868ff 175.5px,#7a7aff 179.5px,#9f9fff 183.5px,#c1c1ff 185.5px,#fbfbff 188.5px,#ffefef 189.5px,#ffd0d0 190.5px,#ff7474 192.5px,#ff5959 193.5px,#ff5353 195.5px,#ff5555 196.5px,#ff6262 197.5px,#ff9b9b 198.5px,#fdfdff 199.5px,#8585ff 200.5px,#3b3bff 201.5px,#2727ff 203.5px,#1e1eff 214.5px,#2e2eff 229.5px)"></div><div style="top:26px;height:1px;background:linear-gradient(90deg,#3838ff 0.5px,#4b4bff 4.5px,#7474ff 34.5px,#8686ff 39.5px,#6868ff 47.5px,#6666ff 56.5px,#8080ff 66.5px,#8b8bff 69.5px,#8080ff 71.5px,#5d5dff 75.5px,#5656ff 77.5px,#9090ff 92.5px,#b7b7ff 98.5px,#d1d1ff 103.5px,#f8f8ff 108.5px,#fffafa 109.5px,#ffe6e6 110.5px,#ffc9c9 111.5px,#ff8080 113.5px,#ff6c6c 114.5px,#ff6a6a 116.5px,#ff7575 117.5px,#ff9d9d 118.5px,#ffe3e3 119.5px,#c3c3ff 120.5px,#6f6fff 121.5px,#4c4cff 122.5px,#4141ff 123.5px,#2f2fff 134.5px,#4a4aff 151.5px,#5757ff 153.5px,#5151ff 155.5px,#4949ff 157.5px,#6969ff 175.5px,#7b7bff 179.5px,#9e9eff 183.5px,#d2d2ff 186.5px,#f7f7ff 188.5px,#fff4f4 189.5px,#ffd9d9 190.5px,#ff7d7d 192.5px,#ff5f5f 193.5px,#ff5555 194.5px,#ff5757 196.5px,#ff5f5f 197.5px,#ff9191 198.5px,#ffefef 199.5px,#9898ff 200.5px,#4141ff 201.5px,#3030ff 202.5px,#2424ff 204.5px,#2222ff 218.5px,#3131ff 229.5px)"></div><div style="top:27px;height:1px;background:linear-gradient(90deg,#3737ff 0.5px,#4c4cff 5.5px,#7373ff 34.5px,#8585ff 39.5px,#6666ff 48.5px,#6666ff 58.5px,#8a8aff 69.5px,#7f7fff 71.5px,#5858ff 76.5px,#5f5fff 79.5px,#8f8fff 92.5px,#b4b4ff 98.5px,#cfcfff 103.5px,#ffffff 109.5px,#ffeded 110.5px,#ffd4d4 111.5px,#ff8888 113.5px,#ff6f6f 114.5px,#ff6868 115.5px,#ff6f6f 117.5px,#ff8e8e 118.5px,#ffcccc 119.5px,#ddddff 120.5px,#8585ff 121.5px,#5353ff 122.5px,#4444ff 123.5px,#3030ff 133.5px,#4848ff 150.5px,#5a5aff 153.5px,#5454ff 155.5px,#4b4bff 157.5px,#6a6aff 175.5px,#7c7cff 179.5px,#9e9eff 183.5px,#e1e1ff 187.5px,#f3f3ff 188.5px,#fff9f9 189.5px,#ffe0e0 190.5px,#ff8787 192.5px,#ff6565 193.5px,#ff5858 194.5px,#ff5e5e 197.5px,#ff8888 198.5px,#ffdede 199.5px,#ababff 200.5px,#4949ff 201.5px,#3333ff 202.5px,#2424ff 204.5px,#2121ff 216.5px,#3333ff 229.5px)"></div><div style="top:28px;height:1px;background:linear-gradient(90deg,#3636ff 0.5px,#4b4bff 5.5px,#7272ff 34.5px,#8484ff 39.5px,#6666ff 48.5px,#6565ff 58.5px,#8989ff 69.5px,#7f7fff 71.5px,#5858ff 76.5px,#5f5fff 79.5px,#8d8dff 92.5px,#b6b6ff 99.5px,#d5d5ff 104.5px,#fcfcff 109.5px,#fff3f3 110.5px,#ffdede 111.5px,#ff9191 113.5px,#ff7474 114.5px,#ff6868 115.5px,#ff6a6a 117.5px,#ff8282 118.5px,#ffb8b8 119.5px,#f5f5ff 120.5px,#9c9cff 121.5px,#5d5dff 122.5px,#4646ff 123.5px,#3434ff 131.5px,#3535ff 137.5px,#4e4eff 151.5px,#5d5dff 153.5px,#5d5dff 154.5px,#4c4cff 157.5px,#6b6bff 175.5px,#7d7dff 179.5px,#9e9eff 183.5px,#dedeff 187.5px,#fffefe 189.5px,#ffe8e8 190.5px,#ff9191 192.5px,#ff6c6c 193.5px,#ff5b5b 194.5px,#ff5e5e 197.5px,#ff8080 198.5px,#ffcfcf 199.5px,#bebeff 200.5px,#5454ff 201.5px,#3535ff 202.5px,#2525ff 204.5px,#2121ff 215.5px,#3535ff 229.5px)"></div><div style="top:29px;height:1px;background:linear-gradient(90deg,#3636ff 0.5px,#4a4aff 5.5px,#7272ff 34.5px,#8383ff 39.5px,#7373ff 44.5px,#6363ff 50.5px,#6464ff 58.5px,#8888ff 69.5px,#7f7fff 71.5px,#5959ff 76.5px,#6060ff 79.5px,#8c8cff 92.5px,#b9b9ff 100.5px,#efefff 108.5px,#f8f8ff 109.5px,#fff9f9 110.5px,#ffe7e7 111.5px,#ffc6c6 112.5px,#ff9c9c 113.5px,#ff7a7a 114.5px,#ff6969 115.5px,#ff6969 117.5px,#ff7878 118.5px,#ffa6a6 119.5px,#fff1f1 120.5px,#b5b5ff 121.5px,#6969ff 122.5px,#4a4aff 123.5px,#3838ff 129.5px,#3434ff 135.5px,#4b4bff 150.5px,#6060ff 153.5px,#6060ff 154.5px,#4e4eff 157.5px,#6d6dff 175.5px,#7e7eff 179.5px,#aaaaff 184.5px,#fcfcff 189.5px,#ffeeee 190.5px,#ffc9c9 191.5px,#ff7474 193.5px,#ff5f5f 194.5px,#ff6060 197.5px,#ff7a7a 198.5px,#ffc1c1 199.5px,#d1d1ff 200.5px,#6161ff 201.5px,#3838ff 202.5px,#2626ff 204.5px,#2121ff 213.5px,#3131ff 225.5px,#3838ff 229.5px)"></div><div style="top:30px;height:1px;background:linear-gradient(90deg,#3535ff 0.5px,#4949ff 5.5px,#7171ff 34.5px,#8181ff 39.5px,#7474ff 44.5px,#6262ff 50.5px,#6363ff 58.5px,#8787ff 69.5px,#7f7fff 71.5px,#5a5aff 76.5px,#6060ff 79.5px,#8a8aff 92.5px,#d0d0ff 104.5px,#fffefe 110.5px,#fff0f0 111.5px,#ffd2d2 112.5px,#ff8181 114.5px,#ff6c6c 115.5px,#ff6868 117.5px,#ff7070 118.5px,#ff9696 119.5px,#ffd9d9 120.5px,#ceceff 121.5px,#7a7aff 122.5px,#4e4eff 123.5px,#3c3cff 127.5px,#3535ff 135.5px,#4c4cff 150.5px,#6363ff 153.5px,#6363ff 154.5px,#5050ff 157.5px,#6e6eff 175.5px,#8787ff 180.5px,#aaaaff 184.5px,#f8f8ff 189.5px,#fff4f4 190.5px,#ffd3d3 191.5px,#ff7c7c 193.5px,#ff6464 194.5px,#ff6262 197.5px,#ff7575 198.5px,#ffb4b4 199.5px,#e2e2ff 200.5px,#7070ff 201.5px,#3b3bff 202.5px,#2d2dff 203.5px,#2424ff 206.5px,#2323ff 215.5px,#3a3aff 229.5px)"></div><div style="top:31px;height:1px;background:linear-gradient(90deg,#3434ff 0.5px,#4848ff 5.5px,#7070ff 34.5px,#8080ff 39.5px,#7979ff 43.5px,#6262ff 49.5px,#6161ff 58.5px,#8585ff 70.5px,#5a5aff 76.5px,#6060ff 79.5px,#8989ff 92.5px,#ceceff 104.5px,#fbfbff 110.5px,#fff7f7 111.5px,#ffdede 112.5px,#ff8a8a 114.5px,#ff7070 115.5px,#ff6767 116.5px,#ff6a6a 118.5px,#ff8787 119.5px,#ffc2c2 120.5px,#e8e8ff 121.5px,#8f8fff 122.5px,#5454ff 123.5px,#4444ff 125.5px,#3535ff 134.5px,#4e4eff 150.5px,#6666ff 153.5px,#6666ff 154.5px,#5252ff 157.5px,#6f6fff 175.5px,#8888ff 180.5px,#a9a9ff 184.5px,#f5f5ff 189.5px,#fff8f8 190.5px,#ffdada 191.5px,#ff8383 193.5px,#ff6969 194.5px,#ff6363 195.5px,#ff6565 197.5px,#ff7272 198.5px,#ffacac 199.5px,#eeeeff 200.5px,#7c7cff 201.5px,#3e3eff 202.5px,#2f2fff 203.5px,#2626ff 205.5px,#2222ff 212.5px,#3131ff 223.5px,#3d3dff 229.5px)"></div><div style="top:32px;height:1px;background:linear-gradient(90deg,#3333ff 0.5px,#4949ff 6.5px,#6f6fff 34.5px,#7f7fff 39.5px,#7979ff 43.5px,#6262ff 49.5px,#6060ff 58.5px,#8484ff 70.5px,#5b5bff 76.5px,#6161ff 79.5px,#8787ff 92.5px,#cbcbff 104.5px,#fffefe 111.5px,#ffe9e9 112.5px,#ff9494 114.5px,#ff7575 115.5px,#ff6767 116.5px,#ff6767 118.5px,#ff7b7b 119.5px,#ffaeae 120.5px,#fffdfd 121.5px,#a8a8ff 122.5px,#5e5eff 123.5px,#4b4bff 124.5px,#3c3cff 129.5px,#3737ff 135.5px,#4f4fff 150.5px,#6969ff 153.5px,#6969ff 154.5px,#5757ff 156.5px,#5555ff 158.5px,#7070ff 175.5px,#8888ff 180.5px,#a8a8ff 184.5px,#fffcfc 190.5px,#ffe0e0 191.5px,#ff8989 193.5px,#ff6d6d 194.5px,#ff6565 195.5px,#ff6868 197.5px,#ff7272 198.5px,#ffa8a8 199.5px,#f6f6ff 200.5px,#8484ff 201.5px,#4141ff 202.5px,#3030ff 203.5px,#2727ff 205.5px,#2222ff 212.5px,#3131ff 222.5px,#3f3fff 229.5px)"></div><div style="top:33px;height:1px;background:linear-gradient(90deg,#3333ff 0.5px,#4949ff 6.5px,#6e6eff 34.5px,#7e7eff 39.5px,#7a7aff 43.5px,#6161ff 49.5px,#5f5fff 58.5px,#8383ff 70.5px,#5c5cff 76.5px,#6464ff 80.5px,#8686ff 92.5px,#c9c9ff 104.5px,#fbfbff 111.5px,#fff3f3 112.5px,#ffcece 113.5px,#ffa1a1 114.5px,#ff7e7e 115.5px,#ff6b6b 116.5px,#ff6868 118.5px,#ff7474 119.5px,#ff9e9e 120.5px,#ffe5e5 121.5px,#c1c1ff 122.5px,#6c6cff 123.5px,#4f4fff 124.5px,#3e3eff 128.5px,#3838ff 135.5px,#4e4eff 149.5px,#5757ff 151.5px,#6c6cff 153.5px,#6c6cff 154.5px,#5959ff 156.5px,#5757ff 158.5px,#7171ff 175.5px,#8989ff 180.5px,#a7a7ff 184.5px,#fefeff 190.5px,#ffe5e5 191.5px,#ff8f8f 193.5px,#ff7171 194.5px,#ff6868 195.5px,#ff6a6a 197.5px,#ff7272 198.5px,#ffa4a4 199.5px,#fdfdff 200.5px,#8d8dff 201.5px,#4545ff 202.5px,#3131ff 203.5px,#2727ff 205.5px,#2222ff 211.5px,#3030ff 221.5px,#4141ff 229.5px)"></div><div style="top:34px;height:1px;background:linear-gradient(90deg,#3232ff 0.5px,#4a4aff 7.5px,#6e6eff 34.5px,#7d7dff 40.5px,#7a7aff 43.5px,#6161ff 49.5px,#5d5dff 58.5px,#8383ff 70.5px,#5d5dff 76.5px,#6464ff 80.5px,#8484ff 92.5px,#c7c7ff 104.5px,#fffcfc 112.5px,#ffdddd 113.5px,#ff8b8b 115.5px,#ff7373 116.5px,#ff6c6c 117.5px,#ff7272 119.5px,#ff9393 120.5px,#ffd2d2 121.5px,#d7d7ff 122.5px,#7e7eff 123.5px,#5353ff 124.5px,#4141ff 127.5px,#3a3aff 135.5px,#4d4dff 148.5px,#5959ff 151.5px,#6f6fff 153.5px,#6f6fff 154.5px,#5b5bff 156.5px,#5959ff 158.5px,#7373ff 175.5px,#9090ff 181.5px,#a7a7ff 184.5px,#ebebff 189.5px,#fbfbff 190.5px,#ffeaea 191.5px,#ff9595 193.5px,#ff7575 194.5px,#ff6a6a 195.5px,#ff7373 198.5px,#ffa0a0 199.5px,#fffafa 200.5px,#9595ff 201.5px,#4848ff 202.5px,#3333ff 203.5px,#2828ff 205.5px,#2222ff 210.5px,#2f2fff 220.5px,#4444ff 229.5px)"></div><div style="top:35px;height:1px;background:linear-gradient(90deg,#3131ff 0.5px,#4949ff 7.5px,#6a6aff 33.5px,#7c7cff 40.5px,#7b7bff 43.5px,#6060ff 49.5px,#5c5cff 58.5px,#8282ff 70.5px,#5d5dff 76.5px,#6767ff 81.5px,#8383ff 92.5px,#cbcbff 105.5px,#fbfbff 112.5px,#ffeaea 113.5px,#ff9999 115.5px,#ff7d7d 116.5px,#ff7171 117.5px,#ff7373 119.5px,#ff8b8b 120.5px,#ffc2c2 121.5px,#ececff 122.5px,#9292ff 123.5px,#5959ff 124.5px,#4c4cff 125.5px,#3f3fff 129.5px,#3b3bff 135.5px,#4c4cff 147.5px,#5353ff 150.5px,#7272ff 153.5px,#7373ff 154.5px,#5d5dff 156.5px,#5a5aff 158.5px,#7474ff 175.5px,#9797ff 182.5px,#b2b2ff 185.5px,#e7e7ff 189.5px,#f7f7ff 190.5px,#ffefef 191.5px,#ffc9c9 192.5px,#ff9b9b 193.5px,#ff7a7a 194.5px,#ff6d6d 195.5px,#ff7373 198.5px,#ff9d9d 199.5px,#fff3f3 200.5px,#9e9eff 201.5px,#4c4cff 202.5px,#3434ff 203.5px,#2929ff 205.5px,#2222ff 210.5px,#3030ff 220.5px,#4545ff 228.5px,#4646ff 229.5px)"></div><div style="top:36px;height:1px;background:linear-gradient(90deg,#3030ff 0.5px,#4b4bff 8.5px,#6a6aff 33.5px,#7d7dff 42.5px,#5f5fff 49.5px,#5b5bff 58.5px,#8181ff 70.5px,#5e5eff 76.5px,#6767ff 81.5px,#8181ff 92.5px,#c8c8ff 105.5px,#f7f7ff 112.5px,#fff4f4 113.5px,#ffa7a7 115.5px,#ff8787 116.5px,#ff7676 117.5px,#ff7575 119.5px,#ff8686 120.5px,#ffb4b4 121.5px,#fffefe 122.5px,#a8a8ff 123.5px,#6363ff 124.5px,#4e4eff 125.5px,#4242ff 128.5px,#3c3cff 135.5px,#4e4eff 147.5px,#5555ff 150.5px,#7575ff 153.5px,#7676ff 154.5px,#5f5fff 156.5px,#5c5cff 158.5px,#7575ff 175.5px,#9797ff 182.5px,#b1b1ff 185.5px,#d4d4ff 188.5px,#f4f4ff 190.5px,#fff4f4 191.5px,#ffcfcf 192.5px,#ffa1a1 193.5px,#ff7e7e 194.5px,#ff7070 195.5px,#ff7474 198.5px,#ff9a9a 199.5px,#ffecec 200.5px,#a6a6ff 201.5px,#5050ff 202.5px,#3535ff 203.5px,#2c2cff 204.5px,#2323ff 210.5px,#3131ff 220.5px,#4747ff 228.5px,#4949ff 229.5px)"></div><div style="top:37px;height:1px;background:linear-gradient(90deg,#3030ff 0.5px,#4d4dff 9.5px,#6969ff 33.5px,#7e7eff 42.5px,#5f5fff 49.5px,#5959ff 58.5px,#8080ff 70.5px,#5d5dff 77.5px,#8080ff 92.5px,#c0c0ff 104.5px,#f3f3ff 112.5px,#fffcfc 113.5px,#ffdcdc 114.5px,#ff9393 116.5px,#ff7d7d 117.5px,#ff7979 119.5px,#ff8383 120.5px,#ffa8a8 121.5px,#ffebeb 122.5px,#bebeff 123.5px,#7070ff 124.5px,#5151ff 125.5px,#4545ff 127.5px,#3d3dff 135.5px,#4f4fff 147.5px,#5656ff 150.5px,#7878ff 153.5px,#7979ff 154.5px,#6262ff 156.5px,#5e5eff 158.5px,#7676ff 175.5px,#9d9dff 183.5px,#d1d1ff 188.5px,#f1f1ff 190.5px,#fff9f9 191.5px,#ffd5d5 192.5px,#ffa7a7 193.5px,#ff8383 194.5px,#ff7373 195.5px,#ff7676 198.5px,#ff9797 199.5px,#ffe6e6 200.5px,#aeaeff 201.5px,#5555ff 202.5px,#3737ff 203.5px,#2d2dff 204.5px,#2222ff 209.5px,#3333ff 220.5px,#4949ff 227.5px,#4b4bff 229.5px)"></div><div style="top:38px;height:1px;background:linear-gradient(90deg,#2f2fff 0.5px,#4c4cff 9.5px,#6666ff 32.5px,#7e7eff 42.5px,#5e5eff 49.5px,#5858ff 58.5px,#7f7fff 70.5px,#5e5eff 77.5px,#7e7eff 92.5px,#b7b7ff 103.5px,#f1f1ff 112.5px,#fdfdff 113.5px,#ffe7e7 114.5px,#ff9e9e 116.5px,#ff8585 117.5px,#ff7c7c 118.5px,#ff8282 120.5px,#ff9f9f 121.5px,#ffd9d9 122.5px,#d4d4ff 123.5px,#8080ff 124.5px,#5555ff 125.5px,#4646ff 127.5px,#3e3eff 135.5px,#4d4dff 146.5px,#5858ff 150.5px,#6d6dff 152.5px,#7b7bff 153.5px,#7c7cff 154.5px,#6464ff 156.5px,#6060ff 158.5px,#7777ff 175.5px,#9d9dff 183.5px,#ceceff 188.5px,#fffdfd 191.5px,#ffdbdb 192.5px,#ffadad 193.5px,#ff8888 194.5px,#ff7676 195.5px,#ff7878 198.5px,#ff9595 199.5px,#ffdfdf 200.5px,#b6b6ff 201.5px,#5a5aff 202.5px,#3838ff 203.5px,#2d2dff 204.5px,#2222ff 209.5px,#3434ff 220.5px,#4b4bff 227.5px,#4e4eff 229.5px)"></div><div style="top:39px;height:1px;background:linear-gradient(90deg,#2e2eff 0.5px,#4c4cff 10.5px,#6565ff 32.5px,#7e7eff 42.5px,#5e5eff 49.5px,#5757ff 58.5px,#7f7fff 70.5px,#5f5fff 77.5px,#7d7dff 92.5px,#a9a9ff 101.5px,#eeeeff 112.5px,#f9f9ff 113.5px,#ffefef 114.5px,#ffaaaa 116.5px,#ff8e8e 117.5px,#ff8080 118.5px,#ff8383 120.5px,#ff9898 121.5px,#ffcaca 122.5px,#e8e8ff 123.5px,#9494ff 124.5px,#5b5bff 125.5px,#4c4cff 126.5px,#3f3fff 135.5px,#4e4eff 146.5px,#5959ff 150.5px,#7070ff 152.5px,#7e7eff 153.5px,#7f7fff 154.5px,#6666ff 156.5px,#6161ff 158.5px,#7575ff 174.5px,#a3a3ff 184.5px,#cacaff 188.5px,#fdfdff 191.5px,#ffe1e1 192.5px,#ffb3b3 193.5px,#ff8d8d 194.5px,#ff7979 195.5px,#ff7a7a 198.5px,#ff9393 199.5px,#ffdada 200.5px,#bebeff 201.5px,#5f5fff 202.5px,#3a3aff 203.5px,#2e2eff 204.5px,#2222ff 209.5px,#3636ff 220.5px,#4e4eff 227.5px,#5050ff 229.5px)"></div><div style="top:40px;height:1px;background:linear-gradient(90deg,#2f2fff 0.5px,#4c4cff 10.5px,#6464ff 32.5px,#7b7bff 43.5px,#5d5dff 49.5px,#5656ff 58.5px,#7c7cff 70.5px,#5f5fff 77.5px,#7b7bff 92.5px,#9f9fff 100.5px,#e8e8ff 112.5px,#fffcfc 114.5px,#ff9b9b 117.5px,#ff8989 118.5px,#ff8a8a 120.5px,#ff9696 121.5px,#ffbebe 122.5px,#fafaff 123.5px,#aaaaff 124.5px,#6868ff 125.5px,#5151ff 126.5px,#4646ff 129.5px,#4040ff 135.5px,#4e4eff 146.5px,#5a5aff 150.5px,#7272ff 152.5px,#8080ff 153.5px,#8181ff 154.5px,#6767ff 156.5px,#6161ff 158.5px,#7171ff 173.5px,#9a9aff 183.5px,#c5c5ff 188.5px,#f5f5ff 191.5px,#ffeeee 192.5px,#ff9999 194.5px,#ff8181 195.5px,#ff8080 198.5px,#ff9191 199.5px,#ffd0d0 200.5px,#cdcdff 201.5px,#6b6bff 202.5px,#3f3fff 203.5px,#3232ff 204.5px,#2323ff 209.5px,#3737ff 220.5px,#4e4eff 227.5px,#5050ff 229.5px)"></div><div style="top:41px;height:1px;background:linear-gradient(90deg,#3131ff 0.5px,#4b4bff 10.5px,#6464ff 33.5px,#7777ff 43.5px,#5d5dff 49.5px,#5757ff 58.5px,#7979ff 70.5px,#5f5fff 77.5px,#7878ff 92.5px,#9f9fff 101.5px,#dcdcff 112.5px,#f2f2ff 114.5px,#fff4f4 115.5px,#ffafaf 117.5px,#ff9797 118.5px,#ff9191 119.5px,#ff9898 121.5px,#ffb7b7 122.5px,#fff4f4 123.5px,#bfbfff 124.5px,#7a7aff 125.5px,#5a5aff 126.5px,#4a4aff 128.5px,#3f3fff 135.5px,#4f4fff 147.5px,#5a5aff 150.5px,#8181ff 153.5px,#8282ff 154.5px,#6767ff 156.5px,#5e5eff 158.5px,#6c6cff 173.5px,#7d7dff 175.5px,#7878ff 177.5px,#9b9bff 184.5px,#bfbfff 188.5px,#eaeaff 191.5px,#fefeff 192.5px,#ffadad 194.5px,#ff9090 195.5px,#ff8787 196.5px,#ff8989 198.5px,#ff9292 199.5px,#ffc4c4 200.5px,#e2e2ff 201.5px,#8080ff 202.5px,#4949ff 203.5px,#3a3aff 204.5px,#2525ff 209.5px,#3737ff 220.5px,#4d4dff 227.5px,#4f4fff 229.5px)"></div><div style="top:42px;height:1px;background:linear-gradient(90deg,#3333ff 0.5px,#4c4cff 11.5px,#6666ff 35.5px,#7373ff 43.5px,#5b5bff 50.5px,#5858ff 58.5px,#7676ff 70.5px,#5f5fff 77.5px,#7878ff 93.5px,#a2a2ff 103.5px,#d1d1ff 112.5px,#e3e3ff 114.5px,#f6f6ff 115.5px,#ffe8e8 116.5px,#ffc4c4 117.5px,#ffa7a7 118.5px,#ff9b9b 119.5px,#ff9e9e 121.5px,#ffb3b3 122.5px,#ffe6e6 123.5px,#d3d3ff 124.5px,#8d8dff 125.5px,#6464ff 126.5px,#5353ff 127.5px,#4141ff 132.5px,#4040ff 137.5px,#5050ff 148.5px,#6565ff 151.5px,#8282ff 153.5px,#8383ff 154.5px,#5f5fff 157.5px,#5d5dff 161.5px,#6767ff 173.5px,#8080ff 175.5px,#7575ff 176.5px,#7272ff 177.5px,#9e9eff 185.5px,#b8b8ff 188.5px,#f0f0ff 192.5px,#ffeded 193.5px,#ffc1c1 194.5px,#ffa0a0 195.5px,#ff9191 196.5px,#ff9696 199.5px,#ffbbbb 200.5px,#f4f4ff 201.5px,#9595ff 202.5px,#5555ff 203.5px,#4141ff 204.5px,#2626ff 209.5px,#3838ff 220.5px,#4c4cff 228.5px,#4d4dff 229.5px)"></div><div style="top:43px;height:1px;background:linear-gradient(90deg,#3434ff 0.5px,#4b4bff 11.5px,#6565ff 36.5px,#7070ff 43.5px,#5b5bff 50.5px,#5858ff 58.5px,#7272ff 70.5px,#5f5fff 77.5px,#7575ff 93.5px,#a3a3ff 105.5px,#ccccff 113.5px,#e4e4ff 115.5px,#ffffff 116.5px,#ffb9b9 118.5px,#ffa7a7 119.5px,#ffa6a6 121.5px,#ffb2b2 122.5px,#ffdbdb 123.5px,#e4e4ff 124.5px,#a0a0ff 125.5px,#6f6fff 126.5px,#5959ff 127.5px,#4c4cff 129.5px,#3d3dff 134.5px,#4e4eff 148.5px,#6565ff 151.5px,#8383ff 153.5px,#8484ff 154.5px,#5e5eff 157.5px,#5858ff 160.5px,#6262ff 173.5px,#7777ff 174.5px,#8282ff 175.5px,#7272ff 176.5px,#6c6cff 177.5px,#9999ff 185.5px,#b1b1ff 188.5px,#e3e3ff 192.5px,#fdfdff 193.5px,#ffb1b1 195.5px,#ff9c9c 196.5px,#ff9d9d 199.5px,#ffb6b6 200.5px,#fffafa 201.5px,#aaaaff 202.5px,#6161ff 203.5px,#4949ff 204.5px,#2b2bff 208.5px,#2d2dff 213.5px,#3e3eff 222.5px,#4c4cff 229.5px)"></div><div style="top:44px;height:1px;background:linear-gradient(90deg,#3636ff 0.5px,#4c4cff 12.5px,#6666ff 38.5px,#6c6cff 43.5px,#5959ff 51.5px,#5b5bff 59.5px,#6f6fff 70.5px,#6060ff 77.5px,#7575ff 94.5px,#ababff 109.5px,#c7c7ff 114.5px,#d2d2ff 115.5px,#e8e8ff 116.5px,#fff4f4 117.5px,#ffd0d0 118.5px,#ffb9b9 119.5px,#ffb2b2 120.5px,#ffb8b8 122.5px,#ffd6d6 123.5px,#f2f2ff 124.5px,#b2b2ff 125.5px,#7b7bff 126.5px,#5e5eff 127.5px,#5252ff 128.5px,#3d3dff 134.5px,#4c4cff 148.5px,#6666ff 151.5px,#8484ff 153.5px,#8484ff 154.5px,#5e5eff 157.5px,#5454ff 159.5px,#5e5eff 173.5px,#7777ff 174.5px,#8585ff 175.5px,#6f6fff 176.5px,#6666ff 177.5px,#9b9bff 186.5px,#ccccff 191.5px,#d6d6ff 192.5px,#ebebff 193.5px,#ffefef 194.5px,#ffc6c6 195.5px,#ffabab 196.5px,#ffa4a4 197.5px,#ffa6a6 199.5px,#ffb2b2 200.5px,#ffe8e8 201.5px,#c3c3ff 202.5px,#7272ff 203.5px,#5151ff 204.5px,#2d2dff 208.5px,#2c2cff 211.5px,#4040ff 223.5px,#4a4aff 229.5px)"></div><div style="top:45px;height:1px;background:linear-gradient(90deg,#3838ff 0.5px,#4d4dff 14.5px,#6868ff 43.5px,#5858ff 52.5px,#5b5bff 59.5px,#6c6cff 70.5px,#6060ff 78.5px,#7171ff 94.5px,#a6a6ff 110.5px,#c2c2ff 115.5px,#d2d2ff 116.5px,#eeeeff 117.5px,#ffeded 118.5px,#ffd1d1 119.5px,#ffc3c3 120.5px,#ffc4c4 122.5px,#ffd8d8 123.5px,#fafaff 124.5px,#8888ff 126.5px,#6464ff 127.5px,#5454ff 128.5px,#3c3cff 134.5px,#4a4aff 148.5px,#5a5aff 150.5px,#8585ff 153.5px,#8585ff 154.5px,#5d5dff 157.5px,#5050ff 159.5px,#5959ff 173.5px,#7777ff 174.5px,#8787ff 175.5px,#6b6bff 176.5px,#6060ff 177.5px,#9c9cff 187.5px,#cbcbff 192.5px,#dadaff 193.5px,#f6f6ff 194.5px,#ffdfdf 195.5px,#ffbdbd 196.5px,#ffaeae 197.5px,#ffb2b2 200.5px,#ffd6d6 201.5px,#dfdfff 202.5px,#8989ff 203.5px,#5a5aff 204.5px,#2f2fff 208.5px,#2c2cff 210.5px,#4848ff 229.5px)"></div><div style="top:46px;height:1px;background:linear-gradient(90deg,#3a3aff 0.5px,#4f4fff 17.5px,#6363ff 44.5px,#5757ff 54.5px,#6868ff 71.5px,#6161ff 79.5px,#7272ff 96.5px,#a3a3ff 112.5px,#b2b2ff 115.5px,#bebeff 116.5px,#d6d6ff 117.5px,#f6f6ff 118.5px,#ffeaea 119.5px,#ffd7d7 120.5px,#ffd3d3 122.5px,#ffdddd 123.5px,#fffefe 124.5px,#cfcfff 125.5px,#9595ff 126.5px,#6a6aff 127.5px,#5757ff 128.5px,#3b3bff 134.5px,#4848ff 148.5px,#5a5aff 150.5px,#8686ff 153.5px,#8686ff 154.5px,#5252ff 158.5px,#4d4dff 160.5px,#5454ff 173.5px,#7777ff 174.5px,#8a8aff 175.5px,#6868ff 176.5px,#5a5aff 177.5px,#9e9eff 188.5px,#ccccff 193.5px,#e0e0ff 194.5px,#fffdfd 195.5px,#ffd6d6 196.5px,#ffbfbf 197.5px,#ffbebe 200.5px,#ffd1d1 201.5px,#f1f1ff 202.5px,#a1a1ff 203.5px,#6565ff 204.5px,#4848ff 206.5px,#3232ff 208.5px,#2e2eff 210.5px,#4747ff 229.5px)"></div><div style="top:47px;height:1px;background:linear-gradient(90deg,#3c3cff 0.5px,#5555ff 27.5px,#6060ff 44.5px,#5858ff 56.5px,#6565ff 71.5px,#6262ff 82.5px,#7171ff 98.5px,#9b9bff 113.5px,#adadff 116.5px,#c0c0ff 117.5px,#fbfbff 119.5px,#ffebeb 120.5px,#ffe1e1 121.5px,#ffe5e5 123.5px,#fffbfb 124.5px,#dadaff 125.5px,#7272ff 127.5px,#5a5aff 128.5px,#3b3bff 134.5px,#4646ff 148.5px,#5a5aff 150.5px,#8787ff 153.5px,#8787ff 154.5px,#4f4fff 158.5px,#4949ff 160.5px,#4f4fff 173.5px,#7878ff 174.5px,#8c8cff 175.5px,#6565ff 176.5px,#5454ff 177.5px,#9f9fff 189.5px,#c0c0ff 193.5px,#cdcdff 194.5px,#e6e6ff 195.5px,#fff5f5 196.5px,#ffd9d9 197.5px,#ffcfcf 198.5px,#ffd0d0 200.5px,#ffd8d8 201.5px,#fafaff 202.5px,#7272ff 204.5px,#5a5aff 205.5px,#3434ff 208.5px,#2f2fff 210.5px,#4545ff 229.5px)"></div><div style="top:48px;height:1px;background:linear-gradient(90deg,#3e3eff 0.5px,#5d5dff 43.5px,#5959ff 56.5px,#6262ff 71.5px,#6666ff 93.5px,#8181ff 108.5px,#9696ff 115.5px,#9e9eff 116.5px,#adadff 117.5px,#f9f9ff 120.5px,#fff4f4 122.5px,#fff5f5 123.5px,#fdfdff 124.5px,#dcdcff 125.5px,#7878ff 127.5px,#5d5dff 128.5px,#3a3aff 134.5px,#4444ff 148.5px,#5a5aff 150.5px,#8888ff 153.5px,#8888ff 154.5px,#4c4cff 158.5px,#4545ff 159.5px,#4a4aff 173.5px,#7878ff 174.5px,#8f8fff 175.5px,#6262ff 176.5px,#4e4eff 177.5px,#a7a7ff 191.5px,#c0c0ff 194.5px,#d1d1ff 195.5px,#eeeeff 196.5px,#fff3f3 197.5px,#ffe2e2 198.5px,#ffe4e4 201.5px,#fdfdff 202.5px,#c3c3ff 203.5px,#8181ff 204.5px,#6161ff 205.5px,#3636ff 208.5px,#3030ff 209.5px,#4444ff 229.5px)"></div><div style="top:49px;height:1px;background:linear-gradient(90deg,#3d3dff 0.5px,#5858ff 43.5px,#5757ff 57.5px,#5c5cff 76.5px,#6565ff 99.5px,#8888ff 115.5px,#9b9bff 117.5px,#c5c5ff 119.5px,#ddddff 120.5px,#eeeeff 121.5px,#f3f3ff 123.5px,#eeeeff 124.5px,#d4d4ff 125.5px,#7878ff 127.5px,#5c5cff 128.5px,#3b3bff 134.5px,#4141ff 148.5px,#4848ff 149.5px,#8888ff 153.5px,#8888ff 154.5px,#4949ff 158.5px,#4242ff 160.5px,#4545ff 173.5px,#7c7cff 174.5px,#9191ff 175.5px,#5a5aff 176.5px,#4848ff 177.5px,#a6a6ff 193.5px,#bbbbff 195.5px,#efefff 197.5px,#fffafa 198.5px,#fff2f2 200.5px,#f9f9ff 202.5px,#ccccff 203.5px,#8b8bff 204.5px,#6262ff 205.5px,#3838ff 208.5px,#3232ff 210.5px,#4141ff 229.5px)"></div><div style="top:50px;height:1px;background:linear-gradient(90deg,#3a3aff 0.5px,#5252ff 43.5px,#5252ff 60.5px,#5757ff 95.5px,#7373ff 113.5px,#8181ff 116.5px,#9898ff 118.5px,#d2d2ff 121.5px,#dbdbff 123.5px,#d9d9ff 124.5px,#c3c3ff 125.5px,#7373ff 127.5px,#5858ff 128.5px,#3e3eff 133.5px,#3c3cff 148.5px,#4141ff 149.5px,#7474ff 152.5px,#8787ff 153.5px,#8686ff 154.5px,#5d5dff 156.5px,#4444ff 158.5px,#3f3fff 161.5px,#3f3fff 173.5px,#8484ff 174.5px,#9393ff 175.5px,#4e4eff 176.5px,#4242ff 177.5px,#9595ff 194.5px,#9f9fff 195.5px,#b1b1ff 196.5px,#e4e4ff 198.5px,#f0f0ff 199.5px,#eeeeff 201.5px,#e7e7ff 202.5px,#c7c7ff 203.5px,#8d8dff 204.5px,#5d5dff 205.5px,#4b4bff 206.5px,#3333ff 209.5px,#3c3cff 229.5px)"></div><div style="top:51px;height:1px;background:linear-gradient(90deg,#3636ff 0.5px,#4c4cff 42.5px,#4b4bff 92.5px,#5e5eff 110.5px,#6c6cff 115.5px,#8585ff 118.5px,#b7b7ff 121.5px,#c1c1ff 122.5px,#c2c2ff 124.5px,#b1b1ff 125.5px,#6d6dff 127.5px,#5454ff 128.5px,#4747ff 130.5px,#3c3cff 136.5px,#3b3bff 149.5px,#4848ff 150.5px,#8686ff 153.5px,#8484ff 154.5px,#5555ff 156.5px,#4646ff 157.5px,#3c3cff 160.5px,#3939ff 173.5px,#8b8bff 174.5px,#9494ff 175.5px,#4242ff 176.5px,#3c3cff 177.5px,#7d7dff 194.5px,#9191ff 196.5px,#c0c0ff 198.5px,#d0d0ff 199.5px,#d1d1ff 201.5px,#ccccff 202.5px,#b8b8ff 203.5px,#5858ff 205.5px,#4444ff 206.5px,#3535ff 209.5px,#3737ff 229.5px)"></div><div style="top:52px;height:1px;background:linear-gradient(90deg,#3232ff 0.5px,#4646ff 41.5px,#4141ff 91.5px,#5353ff 112.5px,#5e5eff 115.5px,#9595ff 123.5px,#9191ff 124.5px,#4d4dff 128.5px,#4444ff 130.5px,#3434ff 149.5px,#4040ff 150.5px,#8585ff 153.5px,#8383ff 154.5px,#4c4cff 156.5px,#3e3eff 157.5px,#3333ff 173.5px,#9393ff 174.5px,#9696ff 175.5px,#3636ff 176.5px,#6565ff 194.5px,#7474ff 196.5px,#afafff 199.5px,#b6b6ff 200.5px,#b0b0ff 202.5px,#a5a5ff 203.5px,#8080ff 204.5px,#5353ff 205.5px,#3e3eff 206.5px,#3737ff 212.5px,#3333ff 229.5px)"></div><div style="top:53px;height:1px;background:linear-gradient(90deg,#2c2cff 0.5px,#3d3dff 48.5px,#3636ff 91.5px,#4747ff 114.5px,#7979ff 123.5px,#7676ff 124.5px,#4343ff 128.5px,#3b3bff 130.5px,#2c2cff 149.5px,#3939ff 150.5px,#8888ff 153.5px,#8989ff 154.5px,#4d4dff 156.5px,#3c3cff 157.5px,#3232ff 172.5px,#3434ff 173.5px,#9b9bff 174.5px,#9999ff 175.5px,#3030ff 176.5px,#3c3cff 182.5px,#4545ff 184.5px,#4242ff 187.5px,#5151ff 195.5px,#6565ff 200.5px,#6262ff 201.5px,#3939ff 205.5px,#3232ff 208.5px,#2b2bff 229.5px)"></div><div style="top:54px;height:1px;background:linear-gradient(90deg,#2424ff 0.5px,#3232ff 47.5px,#2b2bff 69.5px,#2e2eff 79.5px,#2a2aff 88.5px,#3434ff 114.5px,#5353ff 123.5px,#4949ff 125.5px,#2d2dff 129.5px,#2424ff 149.5px,#3434ff 150.5px,#8f8fff 153.5px,#9898ff 154.5px,#8080ff 155.5px,#5656ff 156.5px,#4040ff 157.5px,#3232ff 166.5px,#3434ff 172.5px,#3c3cff 173.5px,#a3a3ff 174.5px,#9f9fff 175.5px,#3030ff 176.5px,#3131ff 181.5px,#3a3aff 182.5px,#4a4aff 183.5px,#4c4cff 184.5px,#3d3dff 185.5px,#3636ff 186.5px,#3939ff 195.5px,#4545ff 200.5px,#2626ff 206.5px,#2222ff 229.5px)"></div><div style="top:55px;height:1px;background:linear-gradient(90deg,#1c1cff 0.5px,#2323ff 45.5px,#2a2aff 49.5px,#1f1fff 56.5px,#2020ff 74.5px,#2828ff 78.5px,#1e1eff 83.5px,#2525ff 117.5px,#2b2bff 124.5px,#1f1fff 131.5px,#1c1cff 149.5px,#2f2fff 150.5px,#7a7aff 152.5px,#9696ff 153.5px,#a6a6ff 154.5px,#9292ff 155.5px,#5f5fff 156.5px,#4444ff 157.5px,#3131ff 165.5px,#3030ff 171.5px,#4444ff 173.5px,#ababff 174.5px,#a4a4ff 175.5px,#3030ff 176.5px,#2b2bff 181.5px,#3737ff 182.5px,#5252ff 183.5px,#5252ff 184.5px,#3838ff 185.5px,#2b2bff 186.5px,#2020ff 195.5px,#2121ff 202.5px,#1919ff 209.5px,#1818ff 229.5px)"></div><div style="top:56px;height:1px;background:linear-gradient(90deg,#1818ff 0.5px,#1a1aff 44.5px,#2525ff 49.5px,#1818ff 55.5px,#1a1aff 74.5px,#2525ff 78.5px,#1818ff 83.5px,#1818ff 149.5px,#2c2cff 150.5px,#7c7cff 152.5px,#9a9aff 153.5px,#adadff 154.5px,#9b9bff 155.5px,#6464ff 156.5px,#4646ff 157.5px,#3030ff 164.5px,#3030ff 171.5px,#3838ff 172.5px,#4848ff 173.5px,#afafff 174.5px,#a7a7ff 175.5px,#3030ff 176.5px,#2727ff 181.5px,#3636ff 182.5px,#5555ff 183.5px,#5555ff 184.5px,#3636ff 185.5px,#2525ff 186.5px,#1313ff 195.5px,#1313ff 229.5px)"></div><div style="top:57px;height:1px;background:linear-gradient(90deg,#1818ff 0.5px,#1919ff 44.5px,#2525ff 49.5px,#1818ff 55.5px,#1a1aff 74.5px,#2525ff 78.5px,#1818ff 83.5px,#1818ff 149.5px,#2c2cff 150.5px,#7c7cff 152.5px,#9a9aff 153.5px,#aeaeff 154.5px,#9c9cff 155.5px,#6464ff 156.5px,#4646ff 157.5px,#3030ff 164.5px,#3030ff 171.5px,#3838ff 172.5px,#4848ff 173.5px,#afafff 174.5px,#a7a7ff 175.5px,#3030ff 176.5px,#2727ff 181.5px,#3636ff 182.5px,#5555ff 183.5px,#5555ff 184.5px,#3636ff 185.5px,#2525ff 186.5px,#1313ff 195.5px,#1313ff 229.5px)"></div><div style="top:58px;height:1px;background:linear-gradient(90deg,#1818ff 0.5px,#1a1aff 44.5px,#2525ff 49.5px,#1818ff 55.5px,#1a1aff 74.5px,#2525ff 78.5px,#1818ff 83.5px,#1818ff 149.5px,#2c2cff 150.5px,#7c7cff 152.5px,#9a9aff 153.5px,#afafff 154.5px,#9d9dff 155.5px,#6464ff 156.5px,#4646ff 157.5px,#3030ff 164.5px,#3030ff 171.5px,#3838ff 172.5px,#4848ff 173.5px,#afafff 174.5px,#a7a7ff 175.5px,#3030ff 176.5px,#2727ff 181.5px,#3636ff 182.5px,#5555ff 183.5px,#5555ff 184.5px,#3636ff 185.5px,#2525ff 186.5px,#1313ff 195.5px,#1313ff 229.5px)"></div><div style="top:59px;height:1px;background:linear-gradient(90deg,#1818ff 0.5px,#1a1aff 44.5px,#2525ff 49.5px,#1818ff 55.5px,#1a1aff 74.5px,#2525ff 78.5px,#1818ff 83.5px,#1818ff 149.5px,#2c2cff 150.5px,#7c7cff 152.5px,#9b9bff 153.5px,#afafff 154.5px,#9d9dff 155.5px,#6464ff 156.5px,#4646ff 157.5px,#3030ff 164.5px,#3030ff 171.5px,#3838ff 172.5px,#4848ff 173.5px,#afafff 174.5px,#a7a7ff 175.5px,#3030ff 176.5px,#2727ff 181.5px,#3636ff 182.5px,#5555ff 183.5px,#5555ff 184.5px,#3636ff 185.5px,#2525ff 186.5px,#1313ff 195.5px,#1313ff 229.5px)"></div><div style="top:60px;height:1px;background:linear-gradient(90deg,#1818ff 0.5px,#1a1aff 44.5px,#2525ff 49.5px,#1818ff 55.5px,#1a1aff 74.5px,#2525ff 78.5px,#1818ff 83.5px,#1818ff 149.5px,#2c2cff 150.5px,#7c7cff 152.5px,#9b9bff 153.5px,#b0b0ff 154.5px,#9e9eff 155.5px,#6565ff 156.5px,#4646ff 157.5px,#3030ff 164.5px,#3030ff 171.5px,#3838ff 172.5px,#4848ff 173.5px,#afafff 174.5px,#a7a7ff 175.5px,#3030ff 176.5px,#2727ff 181.5px,#3636ff 182.5px,#5555ff 183.5px,#5555ff 184.5px,#3636ff 185.5px,#2525ff 186.5px,#1313ff 195.5px,#1313ff 229.5px)"></div><div style="top:61px;height:1px;background:linear-gradient(90deg,#1818ff 0.5px,#1a1aff 44.5px,#2525ff 49.5px,#1818ff 55.5px,#1a1aff 74.5px,#2525ff 78.5px,#1818ff 83.5px,#1818ff 149.5px,#2c2cff 150.5px,#7c7cff 152.5px,#9b9bff 153.5px,#b0b0ff 154.5px,#9e9eff 155.5px,#6565ff 156.5px,#4646ff 157.5px,#3030ff 164.5px,#3030ff 171.5px,#3838ff 172.5px,#4848ff 173.5px,#afafff 174.5px,#a7a7ff 175.5px,#3030ff 176.5px,#2727ff 181.5px,#3636ff 182.5px,#5555ff 183.5px,#5555ff 184.5px,#3636ff 185.5px,#2525ff 186.5px,#1313ff 195.5px,#1313ff 229.5px)"></div><div style="top:62px;height:1px;background:linear-gradient(90deg,#1818ff 0.5px,#1a1aff 44.5px,#2525ff 49.5px,#1818ff 55.5px,#1a1aff 74.5px,#2525ff 78.5px,#1818ff 83.5px,#1818ff 149.5px,#2c2cff 150.5px,#7c7cff 152.5px,#9b9bff 153.5px,#b1b1ff 154.5px,#9f9fff 155.5px,#6565ff 156.5px,#4646ff 157.5px,#3030ff 164.5px,#3030ff 171.5px,#3838ff 172.5px,#4848ff 173.5px,#afafff 174.5px,#a7a7ff 175.5px,#3030ff 176.5px,#2727ff 181.5px,#3636ff 182.5px,#5555ff 183.5px,#5555ff 184.5px,#3636ff 185.5px,#2525ff 186.5px,#1313ff 195.5px,#1313ff 229.5px)"></div><div style="top:63px;height:1px;background:linear-gradient(90deg,#1818ff 0.5px,#1a1aff 44.5px,#2525ff 49.5px,#1818ff 55.5px,#1a1aff 74.5px,#2525ff 78.5px,#1818ff 83.5px,#1818ff 149.5px,#2c2cff 150.5px,#7c7cff 152.5px,#9b9bff 153.5px,#b1b1ff 154.5px,#9f9fff 155.5px,#6565ff 156.5px,#4646ff 157.5px,#3030ff 164.5px,#3030ff 171.5px,#3838ff 172.5px,#4848ff 173.5px,#afafff 174.5px,#a7a7ff 175.5px,#3030ff 176.5px,#2727ff 181.5px,#3636ff 182.5px,#5555ff 183.5px,#5555ff 184.5px,#3636ff 185.5px,#2525ff 186.5px,#1313ff 195.5px,#1313ff 229.5px)"></div><div style="top:64px;height:1px;background:linear-gradient(90deg,#1818ff 0.5px,#1a1aff 44.5px,#2525ff 49.5px,#1818ff 55.5px,#1a1aff 74.5px,#2525ff 78.5px,#1818ff 83.5px,#1818ff 149.5px,#2c2cff 150.5px,#7c7cff 152.5px,#9b9bff 153.5px,#b2b2ff 154.5px,#a0a0ff 155.5px,#6565ff 156.5px,#4646ff 157.5px,#3030ff 164.5px,#3030ff 171.5px,#3838ff 172.5px,#4848ff 173.5px,#afafff 174.5px,#a7a7ff 175.5px,#3030ff 176.5px,#2727ff 181.5px,#3636ff 182.5px,#5555ff 183.5px,#5555ff 184.5px,#3636ff 185.5px,#2525ff 186.5px,#1313ff 195.5px,#1313ff 229.5px)"></div><div style="top:65px;height:1px;background:linear-gradient(90deg,#1818ff 0.5px,#1a1aff 44.5px,#2525ff 49.5px,#1818ff 55.5px,#1a1aff 74.5px,#2525ff 78.5px,#1818ff 83.5px,#1818ff 149.5px,#2c2cff 150.5px,#7c7cff 152.5px,#9c9cff 153.5px,#b2b2ff 154.5px,#a0a0ff 155.5px,#6666ff 156.5px,#4646ff 157.5px,#3030ff 164.5px,#3030ff 171.5px,#3838ff 172.5px,#4848ff 173.5px,#afafff 174.5px,#a7a7ff 175.5px,#3030ff 176.5px,#2727ff 181.5px,#3636ff 182.5px,#5555ff 183.5px,#5555ff 184.5px,#3636ff 185.5px,#2525ff 186.5px,#1313ff 195.5px,#1313ff 229.5px)"></div><div style="top:66px;height:1px;background:linear-gradient(90deg,#1818ff 0.5px,#1a1aff 44.5px,#2525ff 49.5px,#1818ff 55.5px,#1a1aff 74.5px,#2525ff 78.5px,#1818ff 83.5px,#1818ff 149.5px,#2c2cff 150.5px,#7c7cff 152.5px,#9c9cff 153.5px,#b3b3ff 154.5px,#a1a1ff 155.5px,#6666ff 156.5px,#4646ff 157.5px,#3030ff 164.5px,#3030ff 171.5px,#3838ff 172.5px,#4848ff 173.5px,#afafff 174.5px,#a7a7ff 175.5px,#3030ff 176.5px,#2727ff 181.5px,#3636ff 182.5px,#5555ff 183.5px,#5555ff 184.5px,#3636ff 185.5px,#2525ff 186.5px,#1313ff 195.5px,#1313ff 229.5px)"></div><div style="top:67px;height:1px;background:linear-gradient(90deg,#1818ff 0.5px,#1a1aff 44.5px,#2525ff 49.5px,#1818ff 55.5px,#1a1aff 74.5px,#2525ff 78.5px,#1818ff 83.5px,#1818ff 149.5px,#2c2cff 150.5px,#7c7cff 152.5px,#9c9cff 153.5px,#b3b3ff 154.5px,#a1a1ff 155.5px,#6666ff 156.5px,#4646ff 157.5px,#3030ff 164.5px,#3030ff 171.5px,#3838ff 172.5px,#4848ff 173.5px,#afafff 174.5px,#a7a7ff 175.5px,#3030ff 176.5px,#2727ff 181.5px,#3636ff 182.5px,#5555ff 183.5px,#5555ff 184.5px,#3636ff 185.5px,#2525ff 186.5px,#1313ff 195.5px,#1313ff 229.5px)"></div><div style="top:68px;height:1px;background:linear-gradient(90deg,#1818ff 0.5px,#1a1aff 44.5px,#2525ff 49.5px,#1818ff 55.5px,#1a1aff 74.5px,#2525ff 78.5px,#1818ff 83.5px,#1818ff 149.5px,#2c2cff 150.5px,#7c7cff 152.5px,#9c9cff 153.5px,#b4b4ff 154.5px,#a2a2ff 155.5px,#6666ff 156.5px,#4646ff 157.5px,#3030ff 164.5px,#3030ff 171.5px,#3838ff 172.5px,#4848ff 173.5px,#afafff 174.5px,#a7a7ff 175.5px,#3030ff 176.5px,#2727ff 181.5px,#3636ff 182.5px,#5555ff 183.5px,#5555ff 184.5px,#3636ff 185.5px,#2525ff 186.5px,#1313ff 195.5px,#1313ff 229.5px)"></div><div style="top:69px;height:1px;background:linear-gradient(90deg,#1818ff 0.5px,#1a1aff 44.5px,#2525ff 49.5px,#1818ff 55.5px,#1a1aff 74.5px,#2525ff 78.5px,#1818ff 83.5px,#1818ff 149.5px,#2c2cff 150.5px,#7c7cff 152.5px,#9c9cff 153.5px,#b4b4ff 154.5px,#a2a2ff 155.5px,#6666ff 156.5px,#4646ff 157.5px,#3030ff 164.5px,#3030ff 171.5px,#3838ff 172.5px,#4848ff 173.5px,#afafff 174.5px,#a7a7ff 175.5px,#3030ff 176.5px,#2727ff 181.5px,#3636ff 182.5px,#5555ff 183.5px,#5555ff 184.5px,#3636ff 185.5px,#2525ff 186.5px,#1313ff 195.5px,#1313ff 229.5px)"></div><div style="top:70px;height:1px;background:linear-gradient(90deg,#1b1bff 0.5px,#2121ff 45.5px,#2929ff 49.5px,#1f1fff 56.5px,#2222ff 74.5px,#2c2cff 78.5px,#2323ff 83.5px,#3939ff 141.5px,#3333ff 149.5px,#4444ff 150.5px,#8d8dff 152.5px,#aaaaff 153.5px,#bebeff 154.5px,#acacff 155.5px,#7777ff 156.5px,#5a5aff 157.5px,#4242ff 164.5px,#4242ff 171.5px,#5555ff 173.5px,#a6a6ff 174.5px,#9a9aff 175.5px,#3333ff 176.5px,#2727ff 181.5px,#3333ff 182.5px,#4c4cff 183.5px,#4c4cff 184.5px,#3333ff 185.5px,#2525ff 186.5px,#1818ff 195.5px,#1a1aff 203.5px,#1313ff 219.5px,#1212ff 229.5px)"></div><div style="top:71px;height:1px;background:linear-gradient(90deg,#1d1dff 0.5px,#2626ff 45.5px,#2b2bff 50.5px,#2626ff 58.5px,#2e2eff 75.5px,#3232ff 79.5px,#2f2fff 86.5px,#5b5bff 137.5px,#5656ff 143.5px,#4d4dff 149.5px,#5d5dff 150.5px,#b8b8ff 153.5px,#c7c7ff 154.5px,#b5b5ff 155.5px,#8888ff 156.5px,#6d6dff 157.5px,#5353ff 164.5px,#5353ff 171.5px,#6262ff 173.5px,#9e9eff 174.5px,#8d8dff 175.5px,#3636ff 176.5px,#2d2dff 178.5px,#2727ff 181.5px,#3030ff 182.5px,#4343ff 183.5px,#4343ff 184.5px,#2f2fff 185.5px,#2424ff 186.5px,#1b1bff 194.5px,#2525ff 201.5px,#1515ff 210.5px,#1212ff 229.5px)"></div><div style="top:72px;height:1px;background:linear-gradient(90deg,#2020ff 0.5px,#2b2bff 45.5px,#2e2eff 51.5px,#3636ff 75.5px,#3939ff 80.5px,#4747ff 99.5px,#7a7aff 136.5px,#8080ff 139.5px,#6868ff 149.5px,#7575ff 150.5px,#c5c5ff 153.5px,#d0d0ff 154.5px,#bebeff 155.5px,#9999ff 156.5px,#8181ff 157.5px,#6666ff 163.5px,#6868ff 172.5px,#7070ff 173.5px,#9595ff 174.5px,#8080ff 175.5px,#3939ff 176.5px,#2f2fff 177.5px,#2727ff 181.5px,#2d2dff 182.5px,#3a3aff 183.5px,#3939ff 184.5px,#2424ff 186.5px,#1f1fff 194.5px,#2e2eff 201.5px,#1616ff 209.5px,#1111ff 229.5px)"></div><div style="top:73px;height:1px;background:linear-gradient(90deg,#2323ff 0.5px,#3131ff 46.5px,#4040ff 76.5px,#5353ff 97.5px,#9898ff 135.5px,#a2a2ff 139.5px,#8282ff 149.5px,#8d8dff 150.5px,#d3d3ff 153.5px,#dadaff 154.5px,#c8c8ff 155.5px,#aaaaff 156.5px,#9494ff 157.5px,#8484ff 160.5px,#7676ff 165.5px,#7878ff 172.5px,#7d7dff 173.5px,#8d8dff 174.5px,#7373ff 175.5px,#3c3cff 176.5px,#2f2fff 177.5px,#2727ff 181.5px,#3131ff 183.5px,#3030ff 184.5px,#2424ff 186.5px,#2323ff 194.5px,#3838ff 201.5px,#1717ff 209.5px,#1010ff 229.5px)"></div><div style="top:74px;height:1px;background:linear-gradient(90deg,#2525ff 0.5px,#3636ff 47.5px,#4c4cff 81.5px,#6161ff 97.5px,#b8b8ff 135.5px,#c5c5ff 139.5px,#9d9dff 149.5px,#a5a5ff 150.5px,#e1e1ff 153.5px,#e3e3ff 154.5px,#a8a8ff 157.5px,#9999ff 159.5px,#8888ff 164.5px,#8a8aff 173.5px,#8585ff 174.5px,#6767ff 175.5px,#3f3fff 176.5px,#2f2fff 177.5px,#2323ff 187.5px,#2727ff 194.5px,#4141ff 200.5px,#3636ff 203.5px,#1717ff 209.5px,#0f0fff 229.5px)"></div><div style="top:75px;height:1px;background:linear-gradient(90deg,#2727ff 0.5px,#3f3fff 55.5px,#5555ff 83.5px,#6c6cff 98.5px,#c0c0ff 133.5px,#d8d8ff 138.5px,#c2c2ff 143.5px,#a8a8ff 149.5px,#afafff 150.5px,#e5e5ff 153.5px,#e5e5ff 154.5px,#afafff 157.5px,#a0a0ff 159.5px,#8e8eff 164.5px,#8e8eff 173.5px,#7f7fff 174.5px,#4040ff 176.5px,#2f2fff 177.5px,#2323ff 185.5px,#2b2bff 194.5px,#4e4eff 200.5px,#4747ff 203.5px,#2f2fff 207.5px,#1d1dff 209.5px,#0e0eff 229.5px)"></div><div style="top:76px;height:1px;background:linear-gradient(90deg,#2828ff 0.5px,#4e4eff 73.5px,#6d6dff 98.5px,#acacff 127.5px,#c6c6ff 134.5px,#ddddff 138.5px,#a4a4ff 149.5px,#aaaaff 150.5px,#dfdfff 153.5px,#dfdfff 154.5px,#aaaaff 157.5px,#9b9bff 159.5px,#8989ff 164.5px,#8a8aff 173.5px,#7b7bff 174.5px,#3f3fff 176.5px,#2f2fff 177.5px,#2222ff 184.5px,#3030ff 194.5px,#6363ff 201.5px,#5f5fff 205.5px,#4a4aff 207.5px,#2626ff 209.5px,#1d1dff 211.5px,#0f0fff 226.5px,#0d0dff 229.5px)"></div><div style="top:77px;height:1px;background:linear-gradient(90deg,#2929ff 0.5px,#5656ff 77.5px,#7676ff 102.5px,#a2a2ff 125.5px,#c2c2ff 133.5px,#dfdfff 137.5px,#e1e1ff 138.5px,#a4a4ff 148.5px,#9f9fff 149.5px,#a5a5ff 150.5px,#d9d9ff 153.5px,#d9d9ff 154.5px,#a5a5ff 157.5px,#9696ff 159.5px,#8484ff 164.5px,#8787ff 173.5px,#7878ff 174.5px,#3f3fff 176.5px,#2f2fff 177.5px,#2222ff 184.5px,#2f2fff 193.5px,#5d5dff 198.5px,#7f7fff 202.5px,#b0b0ff 205.5px,#afafff 206.5px,#a8a8ff 207.5px,#8787ff 208.5px,#5151ff 209.5px,#2929ff 210.5px,#1f1fff 212.5px,#0f0fff 222.5px,#0c0cff 229.5px)"></div><div style="top:78px;height:1px;background:linear-gradient(90deg,#2a2aff 0.5px,#5a5aff 78.5px,#8585ff 112.5px,#9e9eff 125.5px,#bcbcff 132.5px,#e4e4ff 137.5px,#e5e5ff 138.5px,#ababff 146.5px,#9a9aff 149.5px,#a0a0ff 150.5px,#d4d4ff 153.5px,#d4d4ff 154.5px,#a0a0ff 157.5px,#9292ff 159.5px,#8080ff 164.5px,#8383ff 173.5px,#7575ff 174.5px,#3e3eff 176.5px,#2f2fff 177.5px,#2323ff 184.5px,#3333ff 193.5px,#5252ff 196.5px,#9797ff 202.5px,#c0c0ff 204.5px,#ccccff 205.5px,#cacaff 206.5px,#bfbfff 207.5px,#9a9aff 208.5px,#5e5eff 209.5px,#2f2fff 210.5px,#2222ff 212.5px,#0f0fff 220.5px,#0b0bff 229.5px)"></div><div style="top:79px;height:1px;background:linear-gradient(90deg,#2b2bff 0.5px,#3f3fff 29.5px,#5f5fff 79.5px,#9292ff 123.5px,#bcbcff 132.5px,#e9e9ff 137.5px,#eaeaff 138.5px,#afafff 145.5px,#9696ff 149.5px,#9b9bff 150.5px,#ceceff 153.5px,#ceceff 154.5px,#9b9bff 157.5px,#8d8dff 159.5px,#7b7bff 164.5px,#7f7fff 173.5px,#7272ff 174.5px,#3d3dff 176.5px,#2f2fff 177.5px,#2323ff 184.5px,#3737ff 193.5px,#4d4dff 195.5px,#b0b0ff 202.5px,#ddddff 204.5px,#e9e9ff 205.5px,#e5e5ff 206.5px,#d7d7ff 207.5px,#aeaeff 208.5px,#6c6cff 209.5px,#3535ff 210.5px,#2929ff 211.5px,#0f0fff 219.5px,#0a0aff 229.5px)"></div><div style="top:80px;height:1px;background:linear-gradient(90deg,#2d2dff 0.5px,#4141ff 24.5px,#6161ff 77.5px,#8c8cff 120.5px,#9797ff 125.5px,#bbbbff 132.5px,#ebebff 137.5px,#ebebff 138.5px,#adadff 145.5px,#9393ff 149.5px,#9898ff 150.5px,#c5c5ff 153.5px,#c4c4ff 154.5px,#9595ff 157.5px,#8888ff 159.5px,#7676ff 164.5px,#7979ff 173.5px,#6d6dff 174.5px,#3d3dff 176.5px,#3030ff 177.5px,#2323ff 184.5px,#3c3cff 193.5px,#5454ff 195.5px,#c0c0ff 202.5px,#f0f0ff 204.5px,#fbfbff 205.5px,#f7f7ff 206.5px,#e9e9ff 207.5px,#bdbdff 208.5px,#7676ff 209.5px,#3838ff 210.5px,#2929ff 211.5px,#0e0eff 219.5px,#0a0aff 229.5px)"></div><div style="top:81px;height:1px;background:linear-gradient(90deg,#3030ff 0.5px,#4444ff 22.5px,#6767ff 79.5px,#8989ff 118.5px,#9797ff 125.5px,#bbbbff 132.5px,#e8e8ff 137.5px,#e8e8ff 138.5px,#acacff 145.5px,#9393ff 149.5px,#9696ff 150.5px,#b7b7ff 153.5px,#b6b6ff 154.5px,#8f8fff 157.5px,#7f7fff 160.5px,#7272ff 165.5px,#7070ff 173.5px,#6666ff 174.5px,#3e3eff 176.5px,#3232ff 177.5px,#2525ff 184.5px,#4242ff 193.5px,#5c5cff 195.5px,#9d9dff 199.5px,#b6b6ff 201.5px,#e3e3ff 203.5px,#fcfcff 204.5px,#fff5f5 205.5px,#f8f8ff 207.5px,#cbcbff 208.5px,#3838ff 210.5px,#2626ff 211.5px,#0d0dff 219.5px,#0a0aff 229.5px)"></div><div style="top:82px;height:1px;background:linear-gradient(90deg,#3232ff 0.5px,#4848ff 21.5px,#7171ff 86.5px,#8585ff 115.5px,#9797ff 125.5px,#b3b3ff 131.5px,#e6e6ff 137.5px,#e6e6ff 138.5px,#acacff 145.5px,#9393ff 149.5px,#9b9bff 151.5px,#aaaaff 153.5px,#a8a8ff 154.5px,#8181ff 158.5px,#6d6dff 165.5px,#6767ff 173.5px,#5f5fff 174.5px,#3e3eff 176.5px,#3232ff 178.5px,#2626ff 184.5px,#4848ff 193.5px,#6464ff 195.5px,#a7a7ff 199.5px,#bfbfff 201.5px,#d4d4ff 202.5px,#f2f2ff 203.5px,#ffefef 204.5px,#ffe1e1 205.5px,#ffe3e3 206.5px,#fff2f2 207.5px,#dbdbff 208.5px,#3a3aff 210.5px,#2323ff 211.5px,#0c0cff 220.5px,#0a0aff 229.5px)"></div><div style="top:83px;height:1px;background:linear-gradient(90deg,#3434ff 0.5px,#4c4cff 20.5px,#7c7cff 103.5px,#8989ff 119.5px,#a1a1ff 128.5px,#cbcbff 134.5px,#e4e4ff 137.5px,#e4e4ff 138.5px,#a5a5ff 146.5px,#9393ff 149.5px,#9999ff 152.5px,#9a9aff 154.5px,#7b7bff 158.5px,#6767ff 166.5px,#5f5fff 173.5px,#4b4bff 175.5px,#3737ff 177.5px,#2727ff 184.5px,#4e4eff 193.5px,#5a5aff 194.5px,#a4a4ff 198.5px,#c7c7ff 201.5px,#fff9f9 203.5px,#ffd7d7 204.5px,#ffc9c9 205.5px,#ffcaca 206.5px,#ffdbdb 207.5px,#ececff 208.5px,#3d3dff 210.5px,#2020ff 211.5px,#0b0bff 220.5px,#0a0aff 229.5px)"></div><div style="top:84px;height:1px;background:linear-gradient(90deg,#3737ff 0.5px,#4f4fff 19.5px,#7d7dff 99.5px,#8282ff 113.5px,#9494ff 124.5px,#a5a5ff 129.5px,#e2e2ff 137.5px,#e2e2ff 138.5px,#a5a5ff 146.5px,#9090ff 150.5px,#8c8cff 154.5px,#7373ff 159.5px,#5151ff 174.5px,#3939ff 177.5px,#2828ff 184.5px,#5454ff 193.5px,#6060ff 194.5px,#afafff 198.5px,#c5c5ff 200.5px,#d7d7ff 201.5px,#fdfdff 202.5px,#ffd4d4 203.5px,#ffb6b6 204.5px,#ffafaf 205.5px,#ffb1b1 206.5px,#ffcfcf 207.5px,#e9e9ff 208.5px,#8989ff 209.5px,#3131ff 210.5px,#1c1cff 211.5px,#0b0bff 220.5px,#0a0aff 229.5px)"></div><div style="top:85px;height:1px;background:linear-gradient(90deg,#3939ff 0.5px,#5353ff 18.5px,#8080ff 96.5px,#8181ff 112.5px,#9191ff 123.5px,#a3a3ff 129.5px,#e0e0ff 137.5px,#dfdfff 138.5px,#9f9fff 147.5px,#7a7aff 155.5px,#4a4aff 174.5px,#2828ff 183.5px,#3939ff 187.5px,#5a5aff 193.5px,#6767ff 194.5px,#babaff 198.5px,#d2d2ff 200.5px,#f1f1ff 201.5px,#ffd8d8 202.5px,#ffacac 203.5px,#ff9696 204.5px,#ff9595 205.5px,#ff9d9d 206.5px,#ffcdcd 207.5px,#dcdcff 208.5px,#7171ff 209.5px,#2323ff 210.5px,#1919ff 211.5px,#0a0aff 221.5px,#0a0aff 229.5px)"></div><div style="top:86px;height:1px;background:linear-gradient(90deg,#3c3cff 0.5px,#5757ff 18.5px,#7b7bff 70.5px,#7e7eff 81.5px,#7e7eff 103.5px,#7e7eff 113.5px,#8c8cff 122.5px,#9e9eff 129.5px,#d5d5ff 137.5px,#d5d5ff 138.5px,#9898ff 147.5px,#7373ff 154.5px,#3737ff 179.5px,#2e2eff 184.5px,#6464ff 193.5px,#7171ff 194.5px,#c0c0ff 198.5px,#e1e1ff 200.5px,#ffeaea 201.5px,#ffafaf 202.5px,#ff8a8a 203.5px,#ff7e7e 204.5px,#ff7e7e 205.5px,#ff9595 206.5px,#ffd6d6 207.5px,#c6c6ff 208.5px,#5353ff 209.5px,#1b1bff 210.5px,#0a0aff 220.5px,#0a0aff 229.5px)"></div><div style="top:87px;height:1px;background:linear-gradient(90deg,#3f3fff 0.5px,#5b5bff 17.5px,#7474ff 53.5px,#7c7cff 65.5px,#8e8eff 75.5px,#9696ff 76.5px,#b8b8ff 78.5px,#c2c2ff 79.5px,#c3c3ff 80.5px,#babaff 81.5px,#8f8fff 83.5px,#8383ff 84.5px,#7f7fff 90.5px,#7b7bff 104.5px,#7777ff 113.5px,#8383ff 121.5px,#9595ff 129.5px,#c2c2ff 137.5px,#bbbbff 139.5px,#8c8cff 147.5px,#6a6aff 155.5px,#3535ff 183.5px,#5c5cff 190.5px,#7171ff 193.5px,#8f8fff 195.5px,#d1d1ff 199.5px,#f9f9ff 200.5px,#ff8c8c 202.5px,#ff6f6f 203.5px,#ff6c6c 204.5px,#ff7070 205.5px,#ff9898 206.5px,#ffeaea 207.5px,#a6a6ff 208.5px,#3636ff 209.5px,#1717ff 210.5px,#0a0aff 221.5px,#0a0aff 229.5px)"></div><div style="top:88px;height:1px;background:linear-gradient(90deg,#4242ff 0.5px,#5e5eff 15.5px,#7777ff 47.5px,#7c7cff 52.5px,#7b7bff 60.5px,#9292ff 71.5px,#9f9fff 75.5px,#d0d0ff 78.5px,#d3d3ff 79.5px,#cfcfff 80.5px,#bdbdff 81.5px,#8b8bff 83.5px,#7f7fff 85.5px,#7c7cff 102.5px,#7070ff 111.5px,#7575ff 118.5px,#8787ff 126.5px,#9595ff 131.5px,#b0b0ff 137.5px,#a3a3ff 140.5px,#7b7bff 148.5px,#6262ff 155.5px,#3e3eff 181.5px,#4040ff 184.5px,#7e7eff 193.5px,#c4c4ff 198.5px,#e1e1ff 199.5px,#ffdddd 200.5px,#ff9999 201.5px,#ff6b6b 202.5px,#ff5959 203.5px,#ff5959 204.5px,#ff6969 205.5px,#ffa2a2 206.5px,#fafaff 207.5px,#8282ff 208.5px,#2323ff 209.5px,#1515ff 210.5px,#0a0aff 222.5px,#0a0aff 229.5px)"></div><div style="top:89px;height:1px;background:linear-gradient(90deg,#4545ff 0.5px,#6161ff 14.5px,#7a7aff 46.5px,#8686ff 50.5px,#7f7fff 59.5px,#9494ff 69.5px,#a8a8ff 74.5px,#b3b3ff 75.5px,#dbdbff 77.5px,#e4e4ff 78.5px,#e3e3ff 79.5px,#d7d7ff 80.5px,#9b9bff 82.5px,#8888ff 83.5px,#7e7eff 86.5px,#7c7cff 101.5px,#6969ff 111.5px,#6b6bff 117.5px,#8080ff 125.5px,#8686ff 130.5px,#9d9dff 137.5px,#8787ff 142.5px,#5c5cff 154.5px,#4242ff 180.5px,#4949ff 184.5px,#7a7aff 191.5px,#9696ff 194.5px,#ceceff 198.5px,#fffcfc 199.5px,#ffaeae 200.5px,#ff7171 201.5px,#ff4e4e 202.5px,#ff4747 203.5px,#ff4848 204.5px,#ff6969 205.5px,#ffb3b3 206.5px,#dcdcff 207.5px,#5c5cff 208.5px,#1919ff 209.5px,#0e0eff 215.5px,#0a0aff 229.5px)"></div><div style="top:90px;height:1px;background:linear-gradient(90deg,#4848ff 0.5px,#6363ff 12.5px,#8080ff 46.5px,#8e8eff 50.5px,#8282ff 58.5px,#9898ff 68.5px,#bbbbff 74.5px,#f2f2ff 77.5px,#f5f5ff 78.5px,#efefff 79.5px,#d9d9ff 80.5px,#9595ff 82.5px,#8686ff 83.5px,#7d7dff 87.5px,#7b7bff 101.5px,#6464ff 110.5px,#6161ff 116.5px,#7979ff 124.5px,#7e7eff 131.5px,#8989ff 138.5px,#6868ff 146.5px,#5151ff 157.5px,#4545ff 179.5px,#5252ff 184.5px,#7c7cff 190.5px,#aeaeff 195.5px,#c4c4ff 197.5px,#e6e6ff 198.5px,#ffcccc 199.5px,#ff8080 200.5px,#ff4d4d 201.5px,#ff3636 202.5px,#ff3535 203.5px,#ff3e3e 204.5px,#ff6f6f 205.5px,#ffcbcb 206.5px,#b9b9ff 207.5px,#3a3aff 208.5px,#1414ff 209.5px,#0a0aff 223.5px,#0a0aff 229.5px)"></div><div style="top:91px;height:1px;background:linear-gradient(90deg,#4b4bff 0.5px,#6666ff 11.5px,#8686ff 46.5px,#9696ff 50.5px,#8686ff 58.5px,#9d9dff 67.5px,#bbbbff 72.5px,#d1d1ff 74.5px,#fcfcff 76.5px,#fff9f9 77.5px,#fffbfb 78.5px,#f4f4ff 79.5px,#d5d5ff 80.5px,#adadff 81.5px,#9090ff 82.5px,#8282ff 84.5px,#7b7bff 93.5px,#7a7aff 101.5px,#5e5eff 110.5px,#5959ff 116.5px,#7373ff 124.5px,#7676ff 134.5px,#7676ff 138.5px,#5b5bff 146.5px,#4949ff 159.5px,#4848ff 179.5px,#6262ff 185.5px,#8787ff 190.5px,#c3c3ff 196.5px,#d3d3ff 197.5px,#fff3f3 198.5px,#ff9e9e 199.5px,#ff5b5b 200.5px,#ff3333 201.5px,#ff2727 202.5px,#ff2727 203.5px,#ff3f3f 204.5px,#ff8282 205.5px,#ffeeee 206.5px,#8d8dff 207.5px,#2121ff 208.5px,#1212ff 209.5px,#0a0aff 226.5px,#0a0aff 229.5px)"></div><div style="top:92px;height:1px;background:linear-gradient(90deg,#4d4dff 0.5px,#6969ff 10.5px,#8888ff 45.5px,#9f9fff 50.5px,#8b8bff 58.5px,#a0a0ff 66.5px,#b6b6ff 70.5px,#d6d6ff 73.5px,#fffdfd 75.5px,#ffeded 76.5px,#ffeaea 77.5px,#fff3f3 78.5px,#f2f2ff 79.5px,#a5a5ff 81.5px,#8e8eff 82.5px,#7d7dff 86.5px,#7c7cff 100.5px,#5858ff 110.5px,#5151ff 116.5px,#6d6dff 124.5px,#6363ff 138.5px,#4e4eff 146.5px,#4242ff 165.5px,#4b4bff 179.5px,#7f7fff 188.5px,#cdcdff 196.5px,#eaeaff 197.5px,#ffc7c7 198.5px,#ff7676 199.5px,#ff3e3e 200.5px,#ff2121 201.5px,#ff1e1e 202.5px,#ff2323 203.5px,#ff4c4c 204.5px,#ffa0a0 205.5px,#e4e4ff 206.5px,#5c5cff 207.5px,#1414ff 208.5px,#0a0aff 219.5px,#0a0aff 229.5px)"></div><div style="top:93px;height:1px;background:linear-gradient(90deg,#5050ff 0.5px,#6e6eff 10.5px,#8d8dff 45.5px,#a5a5ff 49.5px,#a0a0ff 52.5px,#8f8fff 58.5px,#a3a3ff 65.5px,#b7b7ff 69.5px,#dadaff 72.5px,#ededff 73.5px,#fff9f9 74.5px,#ffe4e4 75.5px,#ffdcdc 76.5px,#ffdede 77.5px,#fff0f0 78.5px,#ececff 79.5px,#a1a1ff 81.5px,#8e8eff 82.5px,#7d7dff 86.5px,#7c7cff 98.5px,#7575ff 102.5px,#5252ff 110.5px,#4949ff 116.5px,#6767ff 124.5px,#4848ff 141.5px,#4040ff 148.5px,#3f3fff 166.5px,#4f4fff 179.5px,#9191ff 189.5px,#c6c6ff 194.5px,#cdcdff 195.5px,#dcdcff 196.5px,#fff1f1 197.5px,#ff9b9b 198.5px,#ff5353 199.5px,#ff2626 200.5px,#ff1515 201.5px,#ff1515 202.5px,#ff2626 203.5px,#ff6060 204.5px,#ffc5c5 205.5px,#b5b5ff 206.5px,#3232ff 207.5px,#1010ff 208.5px,#0a0aff 229.5px)"></div><div style="top:94px;height:1px;background:linear-gradient(90deg,#5252ff 0.5px,#7070ff 10.5px,#8d8dff 43.5px,#9595ff 46.5px,#a9a9ff 49.5px,#a4a4ff 52.5px,#9191ff 58.5px,#a6a6ff 65.5px,#bdbdff 69.5px,#d3d3ff 71.5px,#fdfdff 73.5px,#ffd7d7 75.5px,#ffd4d4 76.5px,#ffdada 77.5px,#fff4f4 78.5px,#e6e6ff 79.5px,#9f9fff 81.5px,#8d8dff 82.5px,#7c7cff 86.5px,#7a7aff 100.5px,#4e4eff 110.5px,#4545ff 116.5px,#6363ff 124.5px,#3939ff 145.5px,#3c3cff 166.5px,#5050ff 179.5px,#9797ff 189.5px,#cdcdff 194.5px,#d3d3ff 195.5px,#e8e8ff 196.5px,#ffd3d3 197.5px,#ff7e7e 198.5px,#ff3e3e 199.5px,#ff1919 200.5px,#ff1010 201.5px,#ff1111 202.5px,#ff2e2e 203.5px,#ff7575 204.5px,#ffe7e7 205.5px,#8e8eff 206.5px,#1d1dff 207.5px,#0e0eff 208.5px,#0a0aff 229.5px)"></div><div style="top:95px;height:1px;background:linear-gradient(90deg,#5252ff 0.5px,#6f6fff 10.5px,#8c8cff 42.5px,#9797ff 46.5px,#a9a9ff 49.5px,#a2a2ff 52.5px,#9191ff 58.5px,#a7a7ff 65.5px,#bfbfff 69.5px,#d6d6ff 71.5px,#fffbfb 73.5px,#ffe2e2 74.5px,#ffd4d4 75.5px,#ffd3d3 76.5px,#ffdddd 77.5px,#fffafa 78.5px,#dfdfff 79.5px,#9b9bff 81.5px,#8b8bff 82.5px,#7c7cff 86.5px,#7878ff 100.5px,#4d4dff 110.5px,#4444ff 116.5px,#6262ff 124.5px,#3737ff 145.5px,#3b3bff 166.5px,#4e4eff 179.5px,#9a9aff 189.5px,#cdcdff 194.5px,#d3d3ff 195.5px,#f0f0ff 196.5px,#ffc1c1 197.5px,#ff6f6f 198.5px,#ff3333 199.5px,#ff1414 200.5px,#ff0f0f 201.5px,#ff1212 202.5px,#ff3838 203.5px,#ff8787 204.5px,#fefeff 205.5px,#7373ff 206.5px,#1616ff 207.5px,#0e0eff 208.5px,#0a0aff 229.5px)"></div><div style="top:96px;height:1px;background:linear-gradient(90deg,#5151ff 0.5px,#6f6fff 10.5px,#8b8bff 41.5px,#9898ff 46.5px,#a9a9ff 49.5px,#9d9dff 53.5px,#9090ff 58.5px,#a7a7ff 65.5px,#c0c0ff 69.5px,#dadaff 71.5px,#efefff 72.5px,#fff4f4 73.5px,#ffdcdc 74.5px,#ffd1d1 75.5px,#ffd2d2 76.5px,#ffe0e0 77.5px,#fefeff 78.5px,#b3b3ff 80.5px,#9797ff 81.5px,#8989ff 82.5px,#7b7bff 86.5px,#7676ff 100.5px,#4b4bff 110.5px,#4343ff 116.5px,#6161ff 124.5px,#3636ff 145.5px,#3939ff 166.5px,#4d4dff 179.5px,#9d9dff 189.5px,#c7c7ff 193.5px,#d4d4ff 195.5px,#fbfbff 196.5px,#ff6060 198.5px,#ff2a2a 199.5px,#ff1010 200.5px,#ff0e0e 201.5px,#ff1515 202.5px,#ff4343 203.5px,#ff9b9b 204.5px,#e5e5ff 205.5px,#5a5aff 206.5px,#1212ff 207.5px,#0a0aff 227.5px,#0a0aff 229.5px)"></div><div style="top:97px;height:1px;background:linear-gradient(90deg,#5151ff 0.5px,#6e6eff 10.5px,#8888ff 40.5px,#9a9aff 46.5px,#a8a8ff 49.5px,#9090ff 58.5px,#a8a8ff 65.5px,#c2c2ff 69.5px,#dedeff 71.5px,#f5f5ff 72.5px,#ffeded 73.5px,#ffd6d6 74.5px,#ffcfcf 75.5px,#ffd2d2 76.5px,#ffe4e4 77.5px,#f7f7ff 78.5px,#adadff 80.5px,#9393ff 81.5px,#8787ff 82.5px,#7a7aff 87.5px,#7777ff 99.5px,#4a4aff 110.5px,#4242ff 116.5px,#6060ff 124.5px,#3535ff 143.5px,#3737ff 166.5px,#4b4bff 179.5px,#9595ff 188.5px,#c9c9ff 193.5px,#d7d7ff 195.5px,#fff5f5 196.5px,#ff9d9d 197.5px,#ff5353 198.5px,#ff2222 199.5px,#ff0e0e 200.5px,#ff0d0d 201.5px,#ff1a1a 202.5px,#ff5050 203.5px,#ffb0b0 204.5px,#ccccff 205.5px,#4343ff 206.5px,#1010ff 207.5px,#0a0aff 229.5px)"></div><div style="top:98px;height:1px;background:linear-gradient(90deg,#5151ff 0.5px,#6e6eff 10.5px,#8888ff 40.5px,#9c9cff 46.5px,#a7a7ff 50.5px,#8f8fff 57.5px,#a2a2ff 64.5px,#c4c4ff 69.5px,#e2e2ff 71.5px,#fbfbff 72.5px,#ffd1d1 74.5px,#ffcdcd 75.5px,#ffd2d2 76.5px,#ffe9e9 77.5px,#f0f0ff 78.5px,#c7c7ff 79.5px,#a7a7ff 80.5px,#9090ff 81.5px,#8585ff 82.5px,#7a7aff 87.5px,#7777ff 98.5px,#5656ff 106.5px,#4545ff 112.5px,#4141ff 116.5px,#5f5fff 124.5px,#4848ff 133.5px,#3333ff 145.5px,#3636ff 166.5px,#4a4aff 179.5px,#9797ff 188.5px,#c2c2ff 192.5px,#ceceff 194.5px,#dcdcff 195.5px,#ffe4e4 196.5px,#ff8c8c 197.5px,#ff4646 198.5px,#ff1b1b 199.5px,#ff0c0c 200.5px,#ff0c0c 201.5px,#ff2020 202.5px,#ff5e5e 203.5px,#ffc6c6 204.5px,#b2b2ff 205.5px,#3131ff 206.5px,#1010ff 207.5px,#0a0aff 229.5px)"></div><div style="top:99px;height:1px;background:linear-gradient(90deg,#5151ff 0.5px,#6d6dff 10.5px,#8888ff 40.5px,#a8a8ff 49.5px,#8f8fff 57.5px,#a2a2ff 64.5px,#c7c7ff 69.5px,#e7e7ff 71.5px,#fffcfc 72.5px,#ffdfdf 73.5px,#ffcdcd 74.5px,#ffcbcb 75.5px,#ffd3d3 76.5px,#ffeeee 77.5px,#e9e9ff 78.5px,#bfbfff 79.5px,#a1a1ff 80.5px,#8d8dff 81.5px,#8383ff 82.5px,#7979ff 87.5px,#7979ff 96.5px,#6b6bff 101.5px,#4848ff 109.5px,#4040ff 116.5px,#5d5dff 124.5px,#4949ff 131.5px,#3131ff 145.5px,#3434ff 166.5px,#4848ff 179.5px,#9999ff 188.5px,#bdbdff 191.5px,#cfcfff 194.5px,#e3e3ff 195.5px,#ffd2d2 196.5px,#ff7c7c 197.5px,#ff3b3b 198.5px,#ff1515 199.5px,#ff0b0b 200.5px,#ff0c0c 201.5px,#ff2828 202.5px,#ff6e6e 203.5px,#ffdede 204.5px,#9797ff 205.5px,#2424ff 206.5px,#1010ff 207.5px,#0a0aff 229.5px)"></div><div style="top:100px;height:1px;background:linear-gradient(90deg,#5151ff 0.5px,#6d6dff 10.5px,#8585ff 39.5px,#a7a7ff 49.5px,#8e8eff 57.5px,#a2a2ff 64.5px,#c9c9ff 69.5px,#ededff 71.5px,#fff4f4 72.5px,#ffd8d8 73.5px,#ffc9c9 74.5px,#ffc9c9 75.5px,#ffd5d5 76.5px,#fff4f4 77.5px,#e1e1ff 78.5px,#b8b8ff 79.5px,#9c9cff 80.5px,#8a8aff 81.5px,#7e7eff 83.5px,#7a7aff 88.5px,#7b7bff 95.5px,#6f6fff 100.5px,#4747ff 109.5px,#3f3fff 116.5px,#5c5cff 123.5px,#4545ff 132.5px,#2f2fff 145.5px,#3333ff 166.5px,#4747ff 179.5px,#9090ff 187.5px,#c0c0ff 191.5px,#d1d1ff 194.5px,#ececff 195.5px,#ffc0c0 196.5px,#ff6c6c 197.5px,#ff3030 198.5px,#ff1010 199.5px,#ff0a0a 200.5px,#ff0d0d 201.5px,#ff3232 202.5px,#ff8080 203.5px,#fff8f8 204.5px,#7c7cff 205.5px,#1c1cff 206.5px,#1010ff 207.5px,#0a0aff 229.5px)"></div><div style="top:101px;height:1px;background:linear-gradient(90deg,#5050ff 0.5px,#6c6cff 10.5px,#8585ff 39.5px,#a6a6ff 48.5px,#a0a0ff 51.5px,#8d8dff 57.5px,#a2a2ff 64.5px,#cbcbff 69.5px,#f3f3ff 71.5px,#ffeded 72.5px,#ffd2d2 73.5px,#ffc6c6 74.5px,#ffc7c7 75.5px,#ffd8d8 76.5px,#fffbfb 77.5px,#b0b0ff 79.5px,#9696ff 80.5px,#8787ff 81.5px,#7c7cff 83.5px,#7979ff 88.5px,#7b7bff 95.5px,#6d6dff 100.5px,#4c4cff 107.5px,#3d3dff 116.5px,#5b5bff 123.5px,#4444ff 131.5px,#2e2eff 146.5px,#3131ff 166.5px,#4040ff 178.5px,#7c7cff 185.5px,#c3c3ff 191.5px,#d4d4ff 194.5px,#f9f9ff 195.5px,#ff5d5d 197.5px,#ff2727 198.5px,#ff0c0c 199.5px,#ff0909 200.5px,#ff1010 201.5px,#ff3d3d 202.5px,#ff9393 203.5px,#ededff 204.5px,#6262ff 205.5px,#1717ff 206.5px,#1010ff 207.5px,#0a0aff 229.5px)"></div><div style="top:102px;height:1px;background:linear-gradient(90deg,#5050ff 0.5px,#6c6cff 10.5px,#8484ff 39.5px,#a6a6ff 47.5px,#a4a4ff 50.5px,#9191ff 55.5px,#8d8dff 58.5px,#a3a3ff 64.5px,#ceceff 69.5px,#fafaff 71.5px,#ffcdcd 73.5px,#ffc3c3 74.5px,#ffc7c7 75.5px,#ffdbdb 76.5px,#fcfcff 77.5px,#a9a9ff 79.5px,#9191ff 80.5px,#7d7dff 82.5px,#7878ff 87.5px,#7e7eff 94.5px,#6b6bff 100.5px,#4d4dff 106.5px,#3b3bff 115.5px,#5a5aff 123.5px,#4c4cff 127.5px,#3b3bff 135.5px,#2c2cff 146.5px,#2f2fff 166.5px,#3f3fff 178.5px,#7c7cff 185.5px,#c5c5ff 191.5px,#d7d7ff 194.5px,#fff6f6 195.5px,#ff9c9c 196.5px,#ff5050 197.5px,#ff1f1f 198.5px,#ff0909 199.5px,#ff0909 200.5px,#ff1414 201.5px,#ff4949 202.5px,#ffa8a8 203.5px,#d4d4ff 204.5px,#4b4bff 205.5px,#1515ff 206.5px,#0f0fff 209.5px,#0a0aff 229.5px)"></div><div style="top:103px;height:1px;background:linear-gradient(90deg,#5050ff 0.5px,#6b6bff 10.5px,#8484ff 39.5px,#a8a8ff 47.5px,#9e9eff 51.5px,#8e8eff 56.5px,#9090ff 59.5px,#a3a3ff 64.5px,#c4c4ff 68.5px,#d1d1ff 69.5px,#fffefe 71.5px,#ffdfdf 72.5px,#ffc9c9 73.5px,#ffc3c3 74.5px,#ffc8c8 75.5px,#ffe1e1 76.5px,#f4f4ff 77.5px,#a1a1ff 79.5px,#8c8cff 80.5px,#7a7aff 82.5px,#7979ff 88.5px,#7f7fff 94.5px,#6969ff 100.5px,#4e4eff 105.5px,#3b3bff 114.5px,#4040ff 117.5px,#5959ff 123.5px,#4949ff 127.5px,#3d3dff 132.5px,#2a2aff 146.5px,#2e2eff 166.5px,#3d3dff 178.5px,#6969ff 183.5px,#a2a2ff 188.5px,#c8c8ff 191.5px,#d1d1ff 193.5px,#ddddff 194.5px,#ffe4e4 195.5px,#ff8a8a 196.5px,#ff4343 197.5px,#ff1717 198.5px,#ff0808 199.5px,#ff0808 200.5px,#ff1b1b 201.5px,#ff5757 202.5px,#ffbebe 203.5px,#babaff 204.5px,#3838ff 205.5px,#1414ff 206.5px,#0a0aff 228.5px,#0a0aff 229.5px)"></div><div style="top:104px;height:1px;background:linear-gradient(90deg,#5050ff 0.5px,#6a6aff 10.5px,#8383ff 39.5px,#a9a9ff 47.5px,#9898ff 52.5px,#8b8bff 57.5px,#a3a3ff 64.5px,#c6c6ff 68.5px,#d3d3ff 69.5px,#eaeaff 70.5px,#fff8f8 71.5px,#ffdada 72.5px,#ffc7c7 73.5px,#ffc4c4 74.5px,#ffcccc 75.5px,#ffe9e9 76.5px,#eaeaff 77.5px,#bdbdff 78.5px,#9a9aff 79.5px,#8787ff 80.5px,#7878ff 82.5px,#7878ff 88.5px,#7f7fff 94.5px,#6767ff 100.5px,#4b4bff 105.5px,#3939ff 115.5px,#5858ff 123.5px,#4d4dff 126.5px,#3d3dff 130.5px,#2929ff 146.5px,#2c2cff 166.5px,#3c3cff 178.5px,#6969ff 183.5px,#a4a4ff 188.5px,#c2c2ff 190.5px,#ceceff 192.5px,#d3d3ff 193.5px,#e5e5ff 194.5px,#ffd2d2 195.5px,#ff7979 196.5px,#ff3838 197.5px,#ff1111 198.5px,#ff0707 199.5px,#ff0707 200.5px,#ff2222 201.5px,#ff6767 202.5px,#ffd6d6 203.5px,#9f9fff 204.5px,#2a2aff 205.5px,#1313ff 206.5px,#0a0aff 229.5px)"></div><div style="top:105px;height:1px;background:linear-gradient(90deg,#5050ff 0.5px,#6a6aff 10.5px,#8383ff 39.5px,#aaaaff 47.5px,#8d8dff 55.5px,#8c8cff 58.5px,#a3a3ff 64.5px,#c7c7ff 68.5px,#d7d7ff 69.5px,#efefff 70.5px,#fff2f2 71.5px,#ffd6d6 72.5px,#ffc6c6 73.5px,#ffc5c5 74.5px,#ffd0d0 75.5px,#fff2f2 76.5px,#e0e0ff 77.5px,#b4b4ff 78.5px,#9393ff 79.5px,#8383ff 80.5px,#7676ff 82.5px,#7878ff 88.5px,#8080ff 94.5px,#6565ff 100.5px,#4c4cff 104.5px,#3838ff 115.5px,#5757ff 123.5px,#4b4bff 126.5px,#3b3bff 130.5px,#2727ff 146.5px,#2a2aff 166.5px,#3a3aff 178.5px,#5f5fff 182.5px,#9898ff 187.5px,#c5c5ff 190.5px,#d0d0ff 192.5px,#d5d5ff 193.5px,#efefff 194.5px,#ffbfbf 195.5px,#ff6a6a 196.5px,#ff2d2d 197.5px,#ff0c0c 198.5px,#ff0606 199.5px,#ff0808 200.5px,#ff2b2b 201.5px,#ff7979 202.5px,#fff0f0 203.5px,#8484ff 204.5px,#2121ff 205.5px,#1313ff 206.5px,#0a0aff 229.5px)"></div><div style="top:106px;height:1px;background:linear-gradient(90deg,#4f4fff 0.5px,#6a6aff 11.5px,#8383ff 39.5px,#acacff 47.5px,#8e8eff 54.5px,#8b8bff 58.5px,#a3a3ff 64.5px,#c9c9ff 68.5px,#dadaff 69.5px,#f4f4ff 70.5px,#ffecec 71.5px,#ffd2d2 72.5px,#ffc6c6 73.5px,#ffc5c5 74.5px,#ffd5d5 75.5px,#fffbfb 76.5px,#ababff 78.5px,#8d8dff 79.5px,#7e7eff 80.5px,#7474ff 83.5px,#7c7cff 90.5px,#8080ff 94.5px,#6363ff 100.5px,#4949ff 104.5px,#3737ff 115.5px,#5656ff 123.5px,#4949ff 126.5px,#3939ff 129.5px,#2626ff 146.5px,#2929ff 166.5px,#3838ff 178.5px,#5454ff 181.5px,#8b8bff 186.5px,#c8c8ff 190.5px,#d1d1ff 191.5px,#d8d8ff 193.5px,#fbfbff 194.5px,#ff5b5b 196.5px,#ff2323 197.5px,#ff0808 198.5px,#ff0505 199.5px,#ff0b0b 200.5px,#ff3636 201.5px,#ff8c8c 202.5px,#f5f5ff 203.5px,#6969ff 204.5px,#1b1bff 205.5px,#1111ff 207.5px,#0a0aff 229.5px)"></div><div style="top:107px;height:1px;background:linear-gradient(90deg,#4f4fff 0.5px,#6a6aff 11.5px,#8282ff 39.5px,#ababff 46.5px,#a9a9ff 48.5px,#8c8cff 54.5px,#8b8bff 58.5px,#a3a3ff 64.5px,#ccccff 68.5px,#dedeff 69.5px,#f9f9ff 70.5px,#ffcfcf 72.5px,#ffc6c6 73.5px,#ffc7c7 74.5px,#ffdbdb 75.5px,#fbfbff 76.5px,#a3a3ff 78.5px,#8787ff 79.5px,#7a7aff 80.5px,#7272ff 83.5px,#7e7eff 91.5px,#8181ff 94.5px,#6161ff 100.5px,#4646ff 104.5px,#3535ff 115.5px,#5454ff 123.5px,#4747ff 126.5px,#3737ff 129.5px,#2424ff 147.5px,#2727ff 166.5px,#3737ff 178.5px,#5353ff 181.5px,#8c8cff 186.5px,#cbcbff 190.5px,#d4d4ff 191.5px,#d5d5ff 192.5px,#ddddff 193.5px,#fff3f3 194.5px,#ff9a9a 195.5px,#ff4d4d 196.5px,#ff1b1b 197.5px,#ff0505 198.5px,#ff0404 199.5px,#ff0f0f 200.5px,#ff4343 201.5px,#ffa0a0 202.5px,#dcdcff 203.5px,#5151ff 204.5px,#1818ff 205.5px,#1010ff 209.5px,#0a0aff 229.5px)"></div><div style="top:108px;height:1px;background:linear-gradient(90deg,#4f4fff 0.5px,#6969ff 11.5px,#8282ff 39.5px,#adadff 46.5px,#a9a9ff 48.5px,#8b8bff 54.5px,#8a8aff 58.5px,#a4a4ff 64.5px,#ceceff 68.5px,#e2e2ff 69.5px,#fefeff 70.5px,#ffe1e1 71.5px,#ffcdcd 72.5px,#ffc6c6 73.5px,#ffcaca 74.5px,#ffe1e1 75.5px,#f2f2ff 76.5px,#c2c2ff 77.5px,#9c9cff 78.5px,#8282ff 79.5px,#7575ff 80.5px,#7171ff 85.5px,#8282ff 94.5px,#5f5fff 100.5px,#4343ff 104.5px,#3636ff 116.5px,#5353ff 123.5px,#4c4cff 125.5px,#3434ff 129.5px,#2222ff 147.5px,#2626ff 166.5px,#3535ff 178.5px,#5252ff 181.5px,#8d8dff 186.5px,#ceceff 190.5px,#d7d7ff 191.5px,#d7d7ff 192.5px,#e3e3ff 193.5px,#ffe2e2 194.5px,#ff8888 195.5px,#ff4040 196.5px,#ff1414 197.5px,#ff0303 198.5px,#ff0303 199.5px,#ff1515 200.5px,#ff5151 201.5px,#ffb6b6 202.5px,#c1c1ff 203.5px,#3c3cff 204.5px,#1616ff 205.5px,#0d0dff 215.5px,#0a0aff 229.5px)"></div><div style="top:109px;height:1px;background:linear-gradient(90deg,#4f4fff 0.5px,#6969ff 11.5px,#8181ff 39.5px,#afafff 46.5px,#aaaaff 48.5px,#8a8aff 54.5px,#8a8aff 58.5px,#a4a4ff 64.5px,#d0d0ff 68.5px,#fffafa 70.5px,#ffdcdc 71.5px,#ffcbcb 72.5px,#ffc7c7 73.5px,#ffcdcd 74.5px,#ffe8e8 75.5px,#e9e9ff 76.5px,#b9b9ff 77.5px,#9494ff 78.5px,#7c7cff 79.5px,#7171ff 80.5px,#7272ff 86.5px,#8282ff 94.5px,#5d5dff 100.5px,#4040ff 104.5px,#3535ff 116.5px,#5252ff 123.5px,#4a4aff 125.5px,#3131ff 129.5px,#2121ff 147.5px,#2424ff 166.5px,#3333ff 178.5px,#5151ff 181.5px,#8e8eff 186.5px,#d1d1ff 190.5px,#d9d9ff 191.5px,#dadaff 192.5px,#eaeaff 193.5px,#ffcfcf 194.5px,#ff7777 195.5px,#ff3434 196.5px,#ff0d0d 197.5px,#ff0202 198.5px,#ff0303 199.5px,#ff1c1c 200.5px,#ff6060 201.5px,#ffcece 202.5px,#a6a6ff 203.5px,#2c2cff 204.5px,#1515ff 205.5px,#0a0aff 229.5px)"></div><div style="top:110px;height:1px;background:linear-gradient(90deg,#4f4fff 0.5px,#6868ff 11.5px,#8181ff 39.5px,#b0b0ff 46.5px,#b1b1ff 47.5px,#8989ff 54.5px,#8989ff 58.5px,#a4a4ff 64.5px,#c4c4ff 67.5px,#d3d3ff 68.5px,#ebebff 69.5px,#fff4f4 70.5px,#ffd8d8 71.5px,#ffc9c9 72.5px,#ffc8c8 73.5px,#ffd0d0 74.5px,#ffefef 75.5px,#e0e0ff 76.5px,#b0b0ff 77.5px,#8e8eff 78.5px,#7777ff 79.5px,#6c6cff 80.5px,#7777ff 88.5px,#8383ff 94.5px,#5b5bff 100.5px,#3e3eff 104.5px,#3434ff 116.5px,#5151ff 123.5px,#4949ff 125.5px,#2f2fff 129.5px,#1f1fff 147.5px,#2222ff 166.5px,#3232ff 178.5px,#4444ff 180.5px,#8e8eff 186.5px,#d4d4ff 190.5px,#dcdcff 191.5px,#ddddff 192.5px,#f4f4ff 193.5px,#ffbcbc 194.5px,#ff6767 195.5px,#ff2a2a 196.5px,#ff0808 197.5px,#ff0101 198.5px,#ff0303 199.5px,#ff2525 200.5px,#ff7272 201.5px,#ffe7e7 202.5px,#8b8bff 203.5px,#2121ff 204.5px,#1414ff 205.5px,#0a0aff 229.5px)"></div><div style="top:111px;height:1px;background:linear-gradient(90deg,#4e4eff 0.5px,#6868ff 11.5px,#8181ff 39.5px,#b2b2ff 46.5px,#b2b2ff 47.5px,#8a8aff 53.5px,#8989ff 58.5px,#a4a4ff 64.5px,#c5c5ff 67.5px,#d6d6ff 68.5px,#f0f0ff 69.5px,#ffeeee 70.5px,#ffd4d4 71.5px,#ffc9c9 72.5px,#ffc9c9 73.5px,#ffd4d4 74.5px,#fff6f6 75.5px,#d7d7ff 76.5px,#a7a7ff 77.5px,#8888ff 78.5px,#7272ff 79.5px,#6868ff 80.5px,#7979ff 89.5px,#8383ff 94.5px,#5a5aff 100.5px,#3b3bff 104.5px,#3333ff 116.5px,#5050ff 123.5px,#4747ff 125.5px,#2c2cff 129.5px,#1e1eff 148.5px,#2121ff 166.5px,#3030ff 178.5px,#4343ff 180.5px,#8f8fff 186.5px,#d7d7ff 190.5px,#e0e0ff 192.5px,#fffefe 193.5px,#ff5858 195.5px,#ff2020 196.5px,#ff0404 197.5px,#ff0000 198.5px,#ff0606 199.5px,#ff3030 200.5px,#ff8484 201.5px,#fcfcff 202.5px,#6f6fff 203.5px,#1a1aff 204.5px,#1212ff 206.5px,#0a0aff 229.5px)"></div><div style="top:112px;height:1px;background:linear-gradient(90deg,#4e4eff 0.5px,#6767ff 11.5px,#8080ff 39.5px,#b2b2ff 46.5px,#b2b2ff 47.5px,#8989ff 53.5px,#8787ff 58.5px,#a3a3ff 64.5px,#c6c6ff 67.5px,#d8d8ff 68.5px,#f3f3ff 69.5px,#ffebeb 70.5px,#ffd3d3 71.5px,#ffcaca 72.5px,#ffcccc 73.5px,#ffdbdb 74.5px,#ffffff 75.5px,#a0a0ff 77.5px,#8484ff 78.5px,#6f6fff 79.5px,#6666ff 80.5px,#7979ff 89.5px,#8585ff 93.5px,#7171ff 97.5px,#3a3aff 104.5px,#3232ff 116.5px,#4f4fff 123.5px,#4646ff 125.5px,#2a2aff 129.5px,#1d1dff 148.5px,#2121ff 167.5px,#2f2fff 178.5px,#4242ff 180.5px,#9090ff 186.5px,#d9d9ff 190.5px,#e3e3ff 192.5px,#fff1f1 193.5px,#ff9a9a 194.5px,#ff4d4d 195.5px,#ff1919 196.5px,#ff0202 197.5px,#ff0101 198.5px,#ff0a0a 199.5px,#ff3c3c 200.5px,#ff9898 201.5px,#e5e5ff 202.5px,#5757ff 203.5px,#1616ff 204.5px,#0a0aff 229.5px)"></div><div style="top:113px;height:1px;background:linear-gradient(90deg,#4d4dff 0.5px,#6565ff 11.5px,#7f7fff 39.5px,#b0b0ff 46.5px,#afafff 47.5px,#8787ff 53.5px,#8585ff 58.5px,#a2a2ff 64.5px,#c5c5ff 67.5px,#dadaff 68.5px,#f6f6ff 69.5px,#ffe9e9 70.5px,#ffd4d4 71.5px,#ffcece 72.5px,#ffd2d2 73.5px,#ffe4e4 74.5px,#f5f5ff 75.5px,#9b9bff 77.5px,#6e6eff 79.5px,#6666ff 80.5px,#7474ff 88.5px,#8383ff 94.5px,#5858ff 100.5px,#3a3aff 104.5px,#3232ff 116.5px,#4e4eff 123.5px,#4444ff 125.5px,#2a2aff 129.5px,#1c1cff 149.5px,#2020ff 167.5px,#2f2fff 178.5px,#4d4dff 181.5px,#9090ff 186.5px,#d8d8ff 190.5px,#e5e5ff 192.5px,#ffe5e5 193.5px,#ff8d8d 194.5px,#ff4444 195.5px,#ff1515 196.5px,#ff0202 197.5px,#ff0202 198.5px,#ff1010 199.5px,#ff4949 200.5px,#ffabab 201.5px,#ceceff 202.5px,#4343ff 203.5px,#1414ff 204.5px,#0a0aff 229.5px)"></div><div style="top:114px;height:1px;background:linear-gradient(90deg,#4c4cff 0.5px,#6464ff 12.5px,#7d7dff 39.5px,#aeaeff 46.5px,#a5a5ff 48.5px,#8585ff 53.5px,#8383ff 58.5px,#a0a0ff 64.5px,#c5c5ff 67.5px,#dbdbff 68.5px,#f8f8ff 69.5px,#ffd5d5 71.5px,#ffd2d2 72.5px,#ffd8d8 73.5px,#ffeded 74.5px,#ececff 75.5px,#bcbcff 76.5px,#9696ff 77.5px,#6e6eff 79.5px,#6666ff 80.5px,#7070ff 87.5px,#8282ff 94.5px,#5757ff 100.5px,#3a3aff 104.5px,#3232ff 116.5px,#4d4dff 123.5px,#3c3cff 126.5px,#2929ff 129.5px,#1b1bff 149.5px,#1f1fff 167.5px,#2f2fff 178.5px,#4c4cff 181.5px,#9090ff 186.5px,#d8d8ff 190.5px,#e9e9ff 192.5px,#ffd9d9 193.5px,#ff8181 194.5px,#ff3c3c 195.5px,#ff1111 196.5px,#ff0303 197.5px,#ff0303 198.5px,#ff1818 199.5px,#ff5656 200.5px,#ffbfbf 201.5px,#b7b7ff 202.5px,#3333ff 203.5px,#1414ff 204.5px,#0a0aff 229.5px)"></div><div style="top:115px;height:1px;background:linear-gradient(90deg,#4a4aff 0.5px,#6363ff 12.5px,#7c7cff 39.5px,#adadff 46.5px,#a3a3ff 48.5px,#8383ff 53.5px,#8080ff 58.5px,#9e9eff 64.5px,#c5c5ff 67.5px,#fafaff 69.5px,#ffd7d7 71.5px,#ffd6d6 72.5px,#ffdede 73.5px,#fff6f6 74.5px,#e3e3ff 75.5px,#b5b5ff 76.5px,#9393ff 77.5px,#6e6eff 79.5px,#6666ff 80.5px,#6c6cff 86.5px,#8181ff 94.5px,#5757ff 100.5px,#3b3bff 104.5px,#3131ff 116.5px,#4c4cff 123.5px,#3b3bff 126.5px,#2828ff 129.5px,#1a1aff 150.5px,#1e1eff 167.5px,#2e2eff 178.5px,#4a4aff 181.5px,#9090ff 186.5px,#d8d8ff 190.5px,#ededff 192.5px,#ffcccc 193.5px,#ff7676 194.5px,#ff3434 195.5px,#ff0e0e 196.5px,#ff0404 197.5px,#ff0505 198.5px,#ff2020 199.5px,#ff6565 200.5px,#ffd5d5 201.5px,#9f9fff 202.5px,#2727ff 203.5px,#1313ff 204.5px,#0a0aff 229.5px)"></div><div style="top:116px;height:1px;background:linear-gradient(90deg,#4949ff 0.5px,#6161ff 12.5px,#7b7bff 39.5px,#ababff 46.5px,#a1a1ff 48.5px,#8181ff 53.5px,#7e7eff 58.5px,#9c9cff 64.5px,#b3b3ff 66.5px,#c5c5ff 67.5px,#fcfcff 69.5px,#ffe8e8 70.5px,#ffdada 71.5px,#ffdada 72.5px,#ffe6e6 73.5px,#fefeff 74.5px,#dadaff 75.5px,#aeaeff 76.5px,#9090ff 77.5px,#6e6eff 79.5px,#6666ff 80.5px,#6b6bff 86.5px,#8080ff 94.5px,#5757ff 100.5px,#3b3bff 104.5px,#3131ff 116.5px,#4b4bff 123.5px,#3232ff 127.5px,#2626ff 130.5px,#1a1aff 151.5px,#1e1eff 168.5px,#2e2eff 178.5px,#4949ff 181.5px,#9090ff 186.5px,#d7d7ff 190.5px,#e0e0ff 191.5px,#f3f3ff 192.5px,#ffbfbf 193.5px,#ff6b6b 194.5px,#ff2e2e 195.5px,#ff0c0c 196.5px,#ff0505 197.5px,#ff0707 198.5px,#ff2929 199.5px,#ff7575 200.5px,#ffebeb 201.5px,#8787ff 202.5px,#1f1fff 203.5px,#1313ff 204.5px,#0a0aff 229.5px)"></div><div style="top:117px;height:1px;background:linear-gradient(90deg,#4848ff 0.5px,#6060ff 13.5px,#7a7aff 39.5px,#a6a6ff 45.5px,#a7a7ff 47.5px,#8585ff 52.5px,#7b7bff 56.5px,#7f7fff 59.5px,#9b9bff 64.5px,#b2b2ff 66.5px,#c5c5ff 67.5px,#fefeff 69.5px,#ffe8e8 70.5px,#ffdddd 71.5px,#ffdfdf 72.5px,#ffeded 73.5px,#f6f6ff 74.5px,#a8a8ff 76.5px,#8d8dff 77.5px,#6d6dff 79.5px,#6666ff 80.5px,#6767ff 85.5px,#8080ff 94.5px,#5656ff 100.5px,#3b3bff 104.5px,#3131ff 116.5px,#4949ff 123.5px,#2626ff 129.5px,#1919ff 152.5px,#1e1eff 169.5px,#2d2dff 178.5px,#5454ff 182.5px,#9090ff 186.5px,#d7d7ff 190.5px,#e0e0ff 191.5px,#fafaff 192.5px,#ffb2b2 193.5px,#ff6161 194.5px,#ff2828 195.5px,#ff0a0a 196.5px,#ff0606 197.5px,#ff0b0b 198.5px,#ff3434 199.5px,#ff8686 200.5px,#fcfcff 201.5px,#7070ff 202.5px,#1a1aff 203.5px,#1212ff 205.5px,#0a0aff 229.5px)"></div><div style="top:118px;height:1px;background:linear-gradient(90deg,#4747ff 0.5px,#5f5fff 13.5px,#7474ff 38.5px,#a5a5ff 45.5px,#a4a4ff 47.5px,#8282ff 52.5px,#7878ff 57.5px,#8787ff 61.5px,#a3a3ff 65.5px,#c6c6ff 67.5px,#ffffff 69.5px,#ffe8e8 70.5px,#ffe0e0 71.5px,#ffe3e3 72.5px,#fff5f5 73.5px,#ededff 74.5px,#a3a3ff 76.5px,#8b8bff 77.5px,#6d6dff 79.5px,#6565ff 81.5px,#6868ff 86.5px,#7f7fff 94.5px,#5656ff 100.5px,#3c3cff 104.5px,#2f2fff 115.5px,#4848ff 123.5px,#2626ff 129.5px,#1818ff 153.5px,#1f1fff 171.5px,#2d2dff 178.5px,#5353ff 182.5px,#a3a3ff 187.5px,#d7d7ff 190.5px,#e1e1ff 191.5px,#fffafa 192.5px,#ffa5a5 193.5px,#ff5757 194.5px,#ff2222 195.5px,#ff0909 196.5px,#ff0808 197.5px,#ff1010 198.5px,#ff3f3f 199.5px,#ff9898 200.5px,#e6e6ff 201.5px,#5a5aff 202.5px,#1717ff 203.5px,#0c0cff 217.5px,#0a0aff 229.5px)"></div><div style="top:119px;height:1px;background:linear-gradient(90deg,#4646ff 0.5px,#5e5eff 14.5px,#7373ff 38.5px,#a4a4ff 45.5px,#a2a2ff 47.5px,#8080ff 52.5px,#7676ff 57.5px,#7f7fff 60.5px,#9797ff 64.5px,#b0b0ff 66.5px,#e3e3ff 68.5px,#fffdfd 69.5px,#ffe9e9 70.5px,#ffe3e3 71.5px,#ffe8e8 72.5px,#fffdfd 73.5px,#e5e5ff 74.5px,#9e9eff 76.5px,#8888ff 77.5px,#6d6dff 79.5px,#6464ff 81.5px,#6464ff 85.5px,#7e7eff 94.5px,#3c3cff 104.5px,#2e2eff 115.5px,#4747ff 122.5px,#3d3dff 125.5px,#2525ff 129.5px,#1717ff 154.5px,#2020ff 173.5px,#3333ff 179.5px,#5151ff 182.5px,#a3a3ff 187.5px,#e3e3ff 191.5px,#ffefef 192.5px,#ff9999 193.5px,#ff4e4e 194.5px,#ff1e1e 195.5px,#ff0909 196.5px,#ff0909 197.5px,#ff1515 198.5px,#ff4b4b 199.5px,#ffabab 200.5px,#d0d0ff 201.5px,#4646ff 202.5px,#1616ff 203.5px,#0b0bff 222.5px,#0a0aff 229.5px)"></div><div style="top:120px;height:1px;background:linear-gradient(90deg,#4545ff 0.5px,#5d5dff 14.5px,#7171ff 38.5px,#a3a3ff 45.5px,#a0a0ff 47.5px,#7e7eff 52.5px,#7474ff 57.5px,#7d7dff 60.5px,#9696ff 64.5px,#afafff 66.5px,#fffcfc 69.5px,#ffebeb 70.5px,#ffe7e7 71.5px,#ffeeee 72.5px,#f9f9ff 73.5px,#9a9aff 76.5px,#7979ff 78.5px,#6565ff 80.5px,#6161ff 84.5px,#7d7dff 94.5px,#3d3dff 104.5px,#2e2eff 115.5px,#4646ff 122.5px,#3c3cff 125.5px,#2424ff 129.5px,#1616ff 155.5px,#1f1fff 173.5px,#3232ff 179.5px,#5050ff 182.5px,#e6e6ff 191.5px,#ffe4e4 192.5px,#ff8c8c 193.5px,#ff4646 194.5px,#ff1a1a 195.5px,#ff0a0a 196.5px,#ff0a0a 197.5px,#ff1c1c 198.5px,#ff5959 199.5px,#ffbfbf 200.5px,#b9b9ff 201.5px,#3636ff 202.5px,#1515ff 203.5px,#0b0bff 223.5px,#0a0aff 229.5px)"></div><div style="top:121px;height:1px;background:linear-gradient(90deg,#4444ff 0.5px,#5c5cff 15.5px,#7070ff 38.5px,#a2a2ff 45.5px,#9e9eff 47.5px,#8080ff 51.5px,#7373ff 56.5px,#7575ff 59.5px,#9494ff 64.5px,#aeaeff 66.5px,#e6e6ff 68.5px,#fffcfc 69.5px,#ffeded 70.5px,#ffebeb 71.5px,#fff4f4 72.5px,#f2f2ff 73.5px,#9696ff 76.5px,#7878ff 78.5px,#6565ff 80.5px,#5f5fff 84.5px,#7d7dff 94.5px,#3d3dff 104.5px,#2f2fff 114.5px,#3434ff 117.5px,#4646ff 122.5px,#3b3bff 125.5px,#2323ff 129.5px,#1515ff 155.5px,#1f1fff 174.5px,#3232ff 179.5px,#4f4fff 182.5px,#d6d6ff 190.5px,#e9e9ff 191.5px,#ffd7d7 192.5px,#ff8181 193.5px,#ff3e3e 194.5px,#ff1717 195.5px,#ff0b0b 196.5px,#ff0b0b 197.5px,#ff2424 198.5px,#ff6767 199.5px,#ffd4d4 200.5px,#a2a2ff 201.5px,#2a2aff 202.5px,#1515ff 203.5px,#0b0bff 223.5px,#0a0aff 229.5px)"></div><div style="top:122px;height:1px;background:linear-gradient(90deg,#4343ff 0.5px,#5a5aff 15.5px,#6c6cff 36.5px,#7373ff 39.5px,#9e9eff 44.5px,#a0a0ff 46.5px,#7a7aff 52.5px,#6f6fff 58.5px,#9292ff 64.5px,#9c9cff 65.5px,#adadff 66.5px,#e7e7ff 68.5px,#fffcfc 69.5px,#fff1f1 70.5px,#ffefef 71.5px,#fffbfb 72.5px,#eaeaff 73.5px,#9292ff 76.5px,#6c6cff 79.5px,#5e5eff 83.5px,#7c7cff 94.5px,#3d3dff 104.5px,#2f2fff 113.5px,#2f2fff 116.5px,#4545ff 122.5px,#3939ff 125.5px,#2323ff 129.5px,#1515ff 156.5px,#1e1eff 174.5px,#3131ff 179.5px,#4d4dff 182.5px,#d6d6ff 190.5px,#eeeeff 191.5px,#ffcaca 192.5px,#ff7676 193.5px,#ff3737 194.5px,#ff1414 195.5px,#ff0c0c 196.5px,#ff0d0d 197.5px,#ff2d2d 198.5px,#ff7777 199.5px,#ffeaea 200.5px,#8b8bff 201.5px,#2121ff 202.5px,#1515ff 203.5px,#0b0bff 222.5px,#0a0aff 229.5px)"></div><div style="top:123px;height:1px;background:linear-gradient(90deg,#4242ff 0.5px,#5959ff 16.5px,#6969ff 35.5px,#7272ff 39.5px,#9d9dff 44.5px,#9e9eff 46.5px,#7878ff 52.5px,#6d6dff 58.5px,#9090ff 64.5px,#9a9aff 65.5px,#adadff 66.5px,#e8e8ff 68.5px,#fffdfd 69.5px,#fff4f4 70.5px,#fff4f4 71.5px,#fcfcff 72.5px,#8f8fff 76.5px,#6c6cff 79.5px,#5c5cff 83.5px,#7b7bff 94.5px,#3e3eff 104.5px,#3030ff 112.5px,#2f2fff 116.5px,#4545ff 122.5px,#3232ff 126.5px,#2222ff 129.5px,#1414ff 157.5px,#1d1dff 174.5px,#3131ff 179.5px,#4c4cff 182.5px,#d7d7ff 190.5px,#f5f5ff 191.5px,#ffbdbd 192.5px,#ff6b6b 193.5px,#ff3131 194.5px,#ff1212 195.5px,#ff0d0d 196.5px,#ff1111 197.5px,#ff3737 198.5px,#ff8787 199.5px,#fdfdff 200.5px,#7474ff 201.5px,#1c1cff 202.5px,#1313ff 204.5px,#0a0aff 224.5px,#0a0aff 229.5px)"></div><div style="top:124px;height:1px;background:linear-gradient(90deg,#4141ff 0.5px,#5858ff 17.5px,#6666ff 34.5px,#7171ff 39.5px,#9d9dff 44.5px,#9d9dff 46.5px,#7a7aff 51.5px,#6a6aff 58.5px,#8f8fff 64.5px,#9999ff 65.5px,#adadff 66.5px,#e8e8ff 68.5px,#ffffff 69.5px,#fff8f8 70.5px,#fff9f9 71.5px,#f6f6ff 72.5px,#a2a2ff 75.5px,#8b8bff 76.5px,#6565ff 80.5px,#5b5bff 84.5px,#7b7bff 94.5px,#4242ff 103.5px,#3131ff 110.5px,#2f2fff 116.5px,#4444ff 122.5px,#2b2bff 127.5px,#2020ff 130.5px,#1414ff 158.5px,#1c1cff 174.5px,#3737ff 180.5px,#4b4bff 182.5px,#d8d8ff 190.5px,#fdfdff 191.5px,#ff6262 193.5px,#ff2b2b 194.5px,#ff1111 195.5px,#ff0e0e 196.5px,#ff1515 197.5px,#ff4242 198.5px,#ff9999 199.5px,#e8e8ff 200.5px,#5e5eff 201.5px,#1919ff 202.5px,#0c0cff 213.5px,#0a0aff 229.5px)"></div><div style="top:125px;height:1px;background:linear-gradient(90deg,#3f3fff 0.5px,#5656ff 17.5px,#6262ff 33.5px,#7070ff 39.5px,#9c9cff 44.5px,#9b9bff 46.5px,#7878ff 51.5px,#6868ff 58.5px,#8d8dff 64.5px,#9898ff 65.5px,#acacff 66.5px,#e8e8ff 68.5px,#fefeff 69.5px,#fffefe 71.5px,#efefff 72.5px,#9d9dff 75.5px,#8888ff 76.5px,#6565ff 80.5px,#5a5aff 84.5px,#7a7aff 94.5px,#5a5aff 99.5px,#3f3fff 104.5px,#3030ff 111.5px,#2f2fff 116.5px,#4343ff 122.5px,#2020ff 129.5px,#1313ff 159.5px,#1b1bff 174.5px,#3737ff 180.5px,#4949ff 182.5px,#c4c4ff 189.5px,#dadaff 190.5px,#fff8f8 191.5px,#ffa4a4 192.5px,#ff5959 193.5px,#ff2727 194.5px,#ff1111 195.5px,#ff1010 196.5px,#ff1b1b 197.5px,#ff4e4e 198.5px,#ffabab 199.5px,#d2d2ff 200.5px,#4a4aff 201.5px,#1818ff 202.5px,#0a0aff 218.5px,#0a0aff 229.5px)"></div><div style="top:126px;height:1px;background:linear-gradient(90deg,#3e3eff 0.5px,#5454ff 17.5px,#5f5fff 32.5px,#6e6eff 39.5px,#9c9cff 44.5px,#9e9eff 45.5px,#7575ff 51.5px,#6565ff 58.5px,#8484ff 63.5px,#9696ff 65.5px,#acacff 66.5px,#e8e8ff 68.5px,#fdfdff 69.5px,#fcfcff 71.5px,#eaeaff 72.5px,#9999ff 75.5px,#8585ff 76.5px,#6565ff 80.5px,#5858ff 84.5px,#7979ff 94.5px,#6161ff 98.5px,#4343ff 103.5px,#3030ff 110.5px,#2e2eff 116.5px,#4343ff 122.5px,#1f1fff 129.5px,#1212ff 159.5px,#1a1aff 174.5px,#3c3cff 181.5px,#5a5aff 183.5px,#c4c4ff 189.5px,#dcdcff 190.5px,#ffeeee 191.5px,#ff9999 192.5px,#ff5151 193.5px,#ff2323 194.5px,#ff1111 195.5px,#ff1111 196.5px,#ff2020 197.5px,#ff5a5a 198.5px,#ffbdbd 199.5px,#bebeff 200.5px,#3b3bff 201.5px,#1717ff 202.5px,#0a0aff 218.5px,#0a0aff 229.5px)"></div><div style="top:127px;height:1px;background:linear-gradient(90deg,#3d3dff 0.5px,#5252ff 17.5px,#5d5dff 32.5px,#6d6dff 39.5px,#9b9bff 44.5px,#9d9dff 45.5px,#7373ff 51.5px,#6363ff 58.5px,#8282ff 63.5px,#9595ff 65.5px,#acacff 66.5px,#e8e8ff 68.5px,#fcfcff 69.5px,#f8f8ff 71.5px,#e6e6ff 72.5px,#9494ff 75.5px,#8282ff 76.5px,#6060ff 81.5px,#5757ff 84.5px,#7878ff 94.5px,#6868ff 97.5px,#4747ff 102.5px,#3030ff 110.5px,#2e2eff 116.5px,#4242ff 122.5px,#1f1fff 129.5px,#1212ff 159.5px,#1919ff 174.5px,#3b3bff 181.5px,#5959ff 183.5px,#c5c5ff 189.5px,#dfdfff 190.5px,#ffe5e5 191.5px,#ff9191 192.5px,#ff4b4b 193.5px,#ff2020 194.5px,#ff1212 195.5px,#ff1212 196.5px,#ff2626 197.5px,#ff6464 198.5px,#ffcdcd 199.5px,#acacff 200.5px,#3131ff 201.5px,#1616ff 202.5px,#0a0aff 218.5px,#0a0aff 229.5px)"></div><div style="top:128px;height:1px;background:linear-gradient(90deg,#3c3cff 0.5px,#5151ff 18.5px,#5a5aff 31.5px,#6c6cff 39.5px,#9b9bff 44.5px,#9c9cff 45.5px,#7171ff 51.5px,#6060ff 58.5px,#7979ff 62.5px,#9494ff 65.5px,#acacff 66.5px,#e7e7ff 68.5px,#fafaff 69.5px,#f5f5ff 71.5px,#e1e1ff 72.5px,#9090ff 75.5px,#7f7fff 76.5px,#5656ff 83.5px,#6767ff 89.5px,#7878ff 94.5px,#6767ff 97.5px,#4848ff 102.5px,#3030ff 110.5px,#2e2eff 116.5px,#4242ff 121.5px,#3838ff 124.5px,#1e1eff 129.5px,#1111ff 158.5px,#1717ff 174.5px,#3939ff 181.5px,#5858ff 183.5px,#c5c5ff 189.5px,#e2e2ff 190.5px,#ffdcdc 191.5px,#ff8888 192.5px,#ff4646 193.5px,#ff1e1e 194.5px,#ff1313 195.5px,#ff1313 196.5px,#ff2c2c 197.5px,#ff7070 198.5px,#ffdddd 199.5px,#9a9aff 200.5px,#2828ff 201.5px,#1616ff 202.5px,#0a0aff 218.5px,#0a0aff 229.5px)"></div><div style="top:129px;height:1px;background:linear-gradient(90deg,#3b3bff 0.5px,#4f4fff 18.5px,#5858ff 31.5px,#6a6aff 39.5px,#9a9aff 44.5px,#9b9bff 45.5px,#6f6fff 51.5px,#5e5eff 58.5px,#6f6fff 61.5px,#9393ff 65.5px,#acacff 66.5px,#e7e7ff 68.5px,#f9f9ff 69.5px,#f1f1ff 71.5px,#ddddff 72.5px,#8b8bff 75.5px,#7c7cff 76.5px,#5555ff 83.5px,#6262ff 88.5px,#7777ff 94.5px,#6767ff 97.5px,#4848ff 102.5px,#2f2fff 110.5px,#2d2dff 116.5px,#4242ff 121.5px,#3636ff 124.5px,#1d1dff 129.5px,#1010ff 158.5px,#1616ff 174.5px,#3838ff 181.5px,#4444ff 182.5px,#c5c5ff 189.5px,#e6e6ff 190.5px,#ffd3d3 191.5px,#ff8080 192.5px,#ff4141 193.5px,#ff1d1d 194.5px,#ff1414 195.5px,#ff1515 196.5px,#ff3333 197.5px,#ff7c7c 198.5px,#ffeeee 199.5px,#8888ff 200.5px,#2222ff 201.5px,#1616ff 202.5px,#0a0aff 218.5px,#0a0aff 229.5px)"></div></div><div class="hm" style="left:407px;top:205px;width:230px;height:140px"><div style="top:0px;height:1px;background:linear-gradient(90deg,#090720 0.5px,#0d0a29 37.5px,#150e38 50.5px,#1a1042 52.5px,#390f6e 56.5px,#4e117b 59.5px,#4f127b 62.5px,#3d0f71 65.5px,#241253 69.5px,#20114b 72.5px,#21114e 75.5px,#36106b 79.5px,#4e117b 83.5px,#4a1079 86.5px,#341069 89.5px,#140e36 93.5px,#0b0924 97.5px,#140e36 105.5px,#311165 113.5px,#51127c 119.5px,#6a1c81 121.5px,#902a81 123.5px,#9c2e7f 124.5px,#a02f7f 126.5px,#982d80 127.5px,#732081 129.5px,#59157e 130.5px,#390f6e 131.5px,#20114b 132.5px,#130d34 133.5px,#0c0926 135.5px,#08071e 158.5px,#150e38 167.5px,#20114b 169.5px,#331067 171.5px,#451077 174.5px,#56147d 179.5px,#641a80 180.5px,#962c80 182.5px,#ca3e72 184.5px,#e24d66 186.5px,#dc4869 188.5px,#cd4071 189.5px,#962c80 191.5px,#721f81 192.5px,#4e117b 193.5px,#2f1163 194.5px,#21114e 195.5px,#150e38 198.5px,#140e36 210.5px,#19103f 211.5px,#331067 213.5px,#420f75 214.5px,#4f127b 216.5px,#4a1079 217.5px,#3d0f71 218.5px,#2c115f 219.5px,#100b2d 221.5px,#08071e 222.5px,#020109 227.5px,#010106 229.5px)"></div><div style="top:1px;height:1px;background:linear-gradient(90deg,#090720 0.5px,#0d0a29 37.5px,#150e38 50.5px,#1a1042 52.5px,#390f6e 56.5px,#4f127b 59.5px,#51127c 62.5px,#36106b 66.5px,#21114e 70.5px,#21114e 75.5px,#38106c 79.5px,#4f127b 83.5px,#451077 87.5px,#331067 89.5px,#19103f 92.5px,#0e0b2b 95.5px,#0c0926 98.5px,#160f3b 106.5px,#3b0f70 115.5px,#52137c 119.5px,#6b1d81 121.5px,#912b81 123.5px,#a3307e 125.5px,#982d80 127.5px,#721f81 129.5px,#57157e 130.5px,#390f6e 131.5px,#20114b 132.5px,#130d34 133.5px,#0c0926 135.5px,#08071e 158.5px,#150e38 167.5px,#19103f 168.5px,#331067 171.5px,#451077 174.5px,#54137d 179.5px,#601880 180.5px,#752181 181.5px,#ae347b 183.5px,#c73d73 184.5px,#d8456c 185.5px,#e24d66 186.5px,#de4968 188.5px,#d2426f 189.5px,#bc3978 190.5px,#792282 192.5px,#56147d 193.5px,#36106b 194.5px,#241253 195.5px,#19103f 197.5px,#150e38 200.5px,#150e38 210.5px,#1a1042 211.5px,#251255 212.5px,#38106c 213.5px,#4f127b 215.5px,#491078 217.5px,#390f6e 218.5px,#19103f 220.5px,#0e0b2b 221.5px,#050416 223.5px,#010106 229.5px)"></div><div style="top:2px;height:1px;background:linear-gradient(90deg,#090720 0.5px,#0e0b2b 39.5px,#160f3b 51.5px,#251255 54.5px,#390f6e 56.5px,#4f127b 59.5px,#51127c 62.5px,#400f74 65.5px,#241253 69.5px,#20114b 72.5px,#251255 76.5px,#400f74 80.5px,#4f127b 83.5px,#4a1079 86.5px,#3b0f70 88.5px,#19103f 92.5px,#0e0b2b 95.5px,#0d0a29 99.5px,#1a1042 107.5px,#3d0f71 115.5px,#52137c 119.5px,#6d1d81 121.5px,#932b80 123.5px,#a3307e 125.5px,#a1307e 126.5px,#882781 128.5px,#57157e 130.5px,#390f6e 131.5px,#20114b 132.5px,#130d34 133.5px,#0c0926 135.5px,#08071e 158.5px,#150e38 167.5px,#2a115c 170.5px,#3b0f70 172.5px,#52137c 179.5px,#5d177f 180.5px,#701f81 181.5px,#aa337d 183.5px,#c43c75 184.5px,#d6456c 185.5px,#e44f64 187.5px,#e04c67 188.5px,#d5446d 189.5px,#c03a76 190.5px,#a5317e 191.5px,#5d177f 193.5px,#3b0f70 194.5px,#251255 195.5px,#1a1042 197.5px,#150e38 202.5px,#140e36 209.5px,#160f3b 210.5px,#1d1147 211.5px,#3b0f70 213.5px,#4f127b 215.5px,#4f127b 216.5px,#451077 217.5px,#36106b 218.5px,#150e38 220.5px,#0c0926 221.5px,#050416 223.5px,#010106 229.5px)"></div><div style="top:3px;height:1px;background:linear-gradient(90deg,#090720 0.5px,#0e0b2b 38.5px,#160f3b 51.5px,#251255 54.5px,#420f75 57.5px,#52137c 60.5px,#4f127b 63.5px,#390f6e 66.5px,#21114e 70.5px,#21114e 74.5px,#2c115f 77.5px,#440f76 80.5px,#51127c 84.5px,#440f76 87.5px,#271258 90.5px,#180f3d 92.5px,#0e0b2b 95.5px,#0e0b2b 99.5px,#180f3d 106.5px,#3d0f71 115.5px,#52137c 119.5px,#6d1d81 121.5px,#932b80 123.5px,#a02f7f 124.5px,#a5317e 125.5px,#982d80 127.5px,#721f81 129.5px,#57157e 130.5px,#38106c 131.5px,#1e1149 132.5px,#130d34 133.5px,#0c0926 135.5px,#08071e 158.5px,#150e38 167.5px,#341069 171.5px,#440f76 174.5px,#51127c 179.5px,#5a167e 180.5px,#862781 182.5px,#bf3a77 184.5px,#d3436e 185.5px,#e04c67 186.5px,#e24d66 188.5px,#d9466b 189.5px,#c73d73 190.5px,#892881 192.5px,#651a80 193.5px,#420f75 194.5px,#2a115c 195.5px,#20114b 196.5px,#160f3b 199.5px,#140e36 209.5px,#180f3d 210.5px,#20114b 211.5px,#400f74 213.5px,#51127c 215.5px,#440f76 217.5px,#331067 218.5px,#20114b 219.5px,#0b0924 221.5px,#030312 224.5px,#010106 229.5px)"></div><div style="top:4px;height:1px;background:linear-gradient(90deg,#090720 0.5px,#0e0b2b 37.5px,#150e38 50.5px,#1e1149 53.5px,#420f75 57.5px,#52137c 60.5px,#4f127b 63.5px,#390f6e 66.5px,#251255 69.5px,#21114e 72.5px,#241253 75.5px,#451077 80.5px,#51127c 83.5px,#491078 86.5px,#390f6e 88.5px,#180f3d 92.5px,#100b2d 95.5px,#0e0b2b 99.5px,#19103f 106.5px,#3f0f72 115.5px,#54137d 119.5px,#5d177f 120.5px,#942c80 123.5px,#a5317e 125.5px,#982d80 127.5px,#721f81 129.5px,#57157e 130.5px,#38106c 131.5px,#1e1149 132.5px,#120d31 133.5px,#0c0926 135.5px,#08071e 158.5px,#150e38 167.5px,#341069 171.5px,#440f76 174.5px,#51127c 179.5px,#59157e 180.5px,#681c81 181.5px,#9e2f7f 183.5px,#d0416f 185.5px,#df4a68 186.5px,#e44f64 188.5px,#dc4869 189.5px,#cc3f71 190.5px,#912b81 192.5px,#6d1d81 193.5px,#4a1079 194.5px,#2d1161 195.5px,#21114e 196.5px,#19103f 198.5px,#150e38 209.5px,#19103f 210.5px,#341069 212.5px,#440f76 213.5px,#4f127b 214.5px,#4c117a 216.5px,#400f74 217.5px,#2d1161 218.5px,#120d31 220.5px,#06051a 222.5px,#010106 229.5px)"></div><div style="top:5px;height:1px;background:linear-gradient(90deg,#0a0822 0.5px,#0e0b2b 37.5px,#150e38 50.5px,#1e1149 53.5px,#38106c 56.5px,#4f127b 59.5px,#54137d 62.5px,#3b0f70 66.5px,#221150 70.5px,#221150 74.5px,#38106c 78.5px,#4c117a 81.5px,#51127c 84.5px,#400f74 87.5px,#2d1161 89.5px,#180f3d 92.5px,#0e0b2b 96.5px,#150e38 104.5px,#20114b 108.5px,#390f6e 114.5px,#54137d 119.5px,#6e1e81 121.5px,#962c80 123.5px,#a6317d 125.5px,#992d80 127.5px,#721f81 129.5px,#56147d 130.5px,#38106c 131.5px,#1e1149 132.5px,#120d31 133.5px,#0c0926 135.5px,#08071e 158.5px,#130d34 166.5px,#1c1044 168.5px,#36106b 171.5px,#440f76 175.5px,#4f127b 179.5px,#651a80 181.5px,#992d80 183.5px,#cd4071 185.5px,#de4968 186.5px,#e55064 188.5px,#df4a68 189.5px,#d0416f 190.5px,#b83779 191.5px,#752181 193.5px,#51127c 194.5px,#331067 195.5px,#221150 196.5px,#1a1042 198.5px,#150e38 209.5px,#1c1044 210.5px,#271258 211.5px,#390f6e 212.5px,#491078 213.5px,#52137c 215.5px,#4a1079 216.5px,#3b0f70 217.5px,#1a1042 219.5px,#100b2d 220.5px,#06051a 222.5px,#010106 229.5px)"></div><div style="top:6px;height:1px;background:linear-gradient(90deg,#0a0822 0.5px,#0e0b2b 36.5px,#150e38 49.5px,#1a1042 52.5px,#2d1161 55.5px,#400f74 57.5px,#54137d 60.5px,#51127c 63.5px,#3d0f71 66.5px,#271258 69.5px,#21114e 71.5px,#271258 75.5px,#491078 80.5px,#52137c 83.5px,#471078 86.5px,#36106b 88.5px,#180f3d 92.5px,#110c2f 95.5px,#100b2d 99.5px,#1a1042 106.5px,#400f74 115.5px,#54137d 119.5px,#701f81 121.5px,#962c80 123.5px,#a3307e 124.5px,#a3307e 126.5px,#992d80 127.5px,#721f81 129.5px,#56147d 130.5px,#36106b 131.5px,#1d1147 132.5px,#120d31 133.5px,#0c0926 135.5px,#08071e 158.5px,#130d34 166.5px,#1d1147 168.5px,#36106b 171.5px,#491078 177.5px,#56147d 180.5px,#621980 181.5px,#942c80 183.5px,#ca3e72 185.5px,#db476a 186.5px,#e44f64 187.5px,#e24d66 189.5px,#d5446d 190.5px,#bf3a77 191.5px,#a1307e 192.5px,#59157e 194.5px,#38106c 195.5px,#251255 196.5px,#1a1042 198.5px,#150e38 208.5px,#160f3b 209.5px,#1e1149 210.5px,#3d0f71 212.5px,#4c117a 213.5px,#52137c 214.5px,#491078 216.5px,#38106c 217.5px,#160f3b 219.5px,#090720 221.5px,#020109 227.5px,#010106 229.5px)"></div><div style="top:7px;height:1px;background:linear-gradient(90deg,#0a0822 0.5px,#0e0b2b 35.5px,#160f3b 50.5px,#1e1149 53.5px,#400f74 57.5px,#54137d 60.5px,#52137c 63.5px,#3f0f72 66.5px,#271258 69.5px,#221150 72.5px,#271258 75.5px,#440f76 79.5px,#52137c 82.5px,#4e117b 85.5px,#36106b 88.5px,#1c1044 91.5px,#120d31 94.5px,#100b2d 98.5px,#1a1042 106.5px,#3d0f71 114.5px,#56147d 119.5px,#721f81 121.5px,#982d80 123.5px,#a8327d 125.5px,#992d80 127.5px,#701f81 129.5px,#56147d 130.5px,#36106b 131.5px,#1d1147 132.5px,#120d31 133.5px,#0c0926 135.5px,#08071e 158.5px,#130d34 166.5px,#1d1147 168.5px,#38106c 171.5px,#4e117b 179.5px,#5f187f 181.5px,#8e2a81 183.5px,#c73d73 185.5px,#d9466b 186.5px,#e44f64 187.5px,#e34e65 189.5px,#d9466b 190.5px,#c53c74 191.5px,#862781 193.5px,#601880 194.5px,#3f0f72 195.5px,#29115a 196.5px,#20114b 197.5px,#1a1042 199.5px,#150e38 208.5px,#19103f 209.5px,#21114e 210.5px,#311165 211.5px,#420f75 212.5px,#4f127b 213.5px,#54137d 214.5px,#51127c 215.5px,#451077 216.5px,#341069 217.5px,#21114e 218.5px,#0d0a29 220.5px,#040414 223.5px,#010106 229.5px)"></div><div style="top:8px;height:1px;background:linear-gradient(90deg,#0a0822 0.5px,#100b2d 38.5px,#180f3d 51.5px,#2d1161 55.5px,#491078 58.5px,#56147d 61.5px,#491078 65.5px,#241253 70.5px,#221150 73.5px,#2f1163 76.5px,#4c117a 80.5px,#52137c 83.5px,#3f0f72 87.5px,#1c1044 91.5px,#120d31 94.5px,#110c2f 99.5px,#1c1044 106.5px,#3d0f71 114.5px,#56147d 119.5px,#721f81 121.5px,#992d80 123.5px,#a5317e 124.5px,#a5317e 126.5px,#882781 128.5px,#54137d 130.5px,#36106b 131.5px,#1d1147 132.5px,#120d31 133.5px,#0c0926 135.5px,#08071e 157.5px,#120d31 165.5px,#180f3d 167.5px,#311165 170.5px,#3f0f72 173.5px,#4e117b 179.5px,#5c167f 181.5px,#6e1e81 182.5px,#a6317d 184.5px,#c23b75 185.5px,#d6456c 186.5px,#e34e65 187.5px,#e85362 188.5px,#dc4869 190.5px,#ca3e72 191.5px,#b0357b 192.5px,#681c81 194.5px,#451077 195.5px,#2c115f 196.5px,#21114e 197.5px,#1a1042 199.5px,#160f3b 208.5px,#1a1042 209.5px,#36106b 211.5px,#471078 212.5px,#54137d 214.5px,#4f127b 215.5px,#420f75 216.5px,#2f1163 217.5px,#1d1147 218.5px,#0c0926 220.5px,#040414 223.5px,#010106 229.5px)"></div><div style="top:9px;height:1px;background:linear-gradient(90deg,#0a0822 0.5px,#100b2d 37.5px,#160f3b 50.5px,#20114b 53.5px,#400f74 57.5px,#52137c 60.5px,#54137d 63.5px,#390f6e 67.5px,#251255 70.5px,#241253 73.5px,#2a115c 75.5px,#471078 79.5px,#54137d 82.5px,#4c117a 85.5px,#3d0f71 87.5px,#21114e 90.5px,#140e36 93.5px,#110c2f 98.5px,#1c1044 106.5px,#3f0f72 114.5px,#56147d 119.5px,#732081 121.5px,#9b2e7f 123.5px,#a8327d 125.5px,#a5317e 126.5px,#882781 128.5px,#54137d 130.5px,#341069 131.5px,#1d1147 132.5px,#120d31 133.5px,#0c0926 135.5px,#08071e 157.5px,#120d31 165.5px,#180f3d 167.5px,#311165 170.5px,#3d0f71 173.5px,#51127c 180.5px,#5a167e 181.5px,#832681 183.5px,#bd3977 185.5px,#d5446d 186.5px,#e85362 188.5px,#df4a68 190.5px,#d0416f 191.5px,#b73779 192.5px,#701f81 194.5px,#4e117b 195.5px,#311165 196.5px,#221150 197.5px,#1c1044 199.5px,#160f3b 207.5px,#180f3d 208.5px,#1d1147 209.5px,#3b0f70 211.5px,#54137d 213.5px,#4e117b 215.5px,#3f0f72 216.5px,#1a1042 218.5px,#110c2f 219.5px,#060518 222.5px,#010106 229.5px)"></div><div style="top:10px;height:1px;background:linear-gradient(90deg,#0a0822 0.5px,#110c2f 39.5px,#180f3d 50.5px,#20114b 53.5px,#400f74 57.5px,#56147d 61.5px,#51127c 64.5px,#331067 68.5px,#241253 71.5px,#271258 74.5px,#491078 79.5px,#54137d 82.5px,#4c117a 85.5px,#3b0f70 87.5px,#1a1042 91.5px,#130d34 94.5px,#120d31 99.5px,#1d1147 106.5px,#3f0f72 114.5px,#57157e 119.5px,#752181 121.5px,#9c2e7f 123.5px,#aa337d 125.5px,#992d80 127.5px,#701f81 129.5px,#52137c 130.5px,#331067 131.5px,#1c1044 132.5px,#110c2f 133.5px,#0b0924 136.5px,#08071e 157.5px,#120d31 165.5px,#19103f 167.5px,#331067 170.5px,#3d0f71 173.5px,#4c117a 179.5px,#59157e 181.5px,#671b80 182.5px,#7e2482 183.5px,#ba3878 185.5px,#d2426f 186.5px,#e85362 188.5px,#e24d66 190.5px,#d5446d 191.5px,#bd3977 192.5px,#782281 194.5px,#54137d 195.5px,#36106b 196.5px,#251255 197.5px,#1e1149 198.5px,#160f3b 207.5px,#180f3d 208.5px,#2d1161 210.5px,#400f74 211.5px,#56147d 213.5px,#54137d 214.5px,#3b0f70 216.5px,#180f3d 218.5px,#100b2d 219.5px,#040414 223.5px,#010106 229.5px)"></div><div style="top:11px;height:1px;background:linear-gradient(90deg,#0a0822 0.5px,#110c2f 38.5px,#19103f 51.5px,#2f1163 55.5px,#471078 58.5px,#54137d 61.5px,#51127c 64.5px,#341069 68.5px,#271258 70.5px,#251255 73.5px,#420f75 78.5px,#52137c 81.5px,#4f127b 84.5px,#3b0f70 87.5px,#20114b 90.5px,#160f3b 92.5px,#120d31 97.5px,#1d1147 106.5px,#3b0f70 113.5px,#59157e 119.5px,#782281 121.5px,#9e2f7f 123.5px,#aa337d 124.5px,#a6317d 126.5px,#882781 128.5px,#51127c 130.5px,#331067 131.5px,#1a1042 132.5px,#110c2f 133.5px,#0b0924 136.5px,#08071e 157.5px,#120d31 165.5px,#19103f 167.5px,#331067 170.5px,#3b0f70 172.5px,#400f74 176.5px,#57157e 181.5px,#792282 183.5px,#b5367a 185.5px,#cf4070 186.5px,#df4a68 187.5px,#e85362 188.5px,#e44f64 190.5px,#d8456c 191.5px,#c23b75 192.5px,#802582 194.5px,#5a167e 195.5px,#3b0f70 196.5px,#271258 197.5px,#20114b 198.5px,#160f3b 207.5px,#19103f 208.5px,#21114e 209.5px,#440f76 211.5px,#51127c 212.5px,#54137d 214.5px,#491078 215.5px,#38106c 216.5px,#150e38 218.5px,#0e0b2b 219.5px,#040414 223.5px,#010106 229.5px)"></div><div style="top:12px;height:1px;background:linear-gradient(90deg,#0a0822 0.5px,#110c2f 38.5px,#180f3d 50.5px,#221150 53.5px,#400f74 57.5px,#54137d 61.5px,#51127c 64.5px,#36106b 68.5px,#251255 71.5px,#29115a 74.5px,#440f76 78.5px,#54137d 82.5px,#4a1079 85.5px,#390f6e 87.5px,#1a1042 91.5px,#130d34 95.5px,#140e36 100.5px,#1e1149 106.5px,#3b0f70 113.5px,#59157e 119.5px,#792282 121.5px,#a02f7f 123.5px,#ab337c 124.5px,#ad347c 125.5px,#992d80 127.5px,#6d1d81 129.5px,#51127c 130.5px,#311165 131.5px,#1a1042 132.5px,#110c2f 133.5px,#0b0924 136.5px,#08071e 157.5px,#120d31 165.5px,#1a1042 167.5px,#341069 170.5px,#3b0f70 174.5px,#4f127b 180.5px,#621980 182.5px,#912b81 184.5px,#cc3f71 186.5px,#de4968 187.5px,#ea5661 189.5px,#e75263 190.5px,#dc4869 191.5px,#ab337c 193.5px,#621980 195.5px,#400f74 196.5px,#2a115c 197.5px,#21114e 198.5px,#180f3d 207.5px,#1c1044 208.5px,#241253 209.5px,#36106b 210.5px,#471078 211.5px,#57157e 213.5px,#54137d 214.5px,#471078 215.5px,#341069 216.5px,#140e36 218.5px,#0d0a29 219.5px,#040414 223.5px,#010106 229.5px)"></div><div style="top:13px;height:1px;background:linear-gradient(90deg,#0b0924 0.5px,#110c2f 37.5px,#19103f 50.5px,#241253 53.5px,#400f74 57.5px,#52137c 61.5px,#4c117a 65.5px,#311165 69.5px,#271258 71.5px,#2a115c 74.5px,#451077 78.5px,#54137d 81.5px,#4f127b 84.5px,#38106c 87.5px,#1e1149 90.5px,#140e36 94.5px,#140e36 99.5px,#1d1147 105.5px,#3d0f71 113.5px,#5a167e 119.5px,#7c2382 121.5px,#a3307e 123.5px,#ad347c 124.5px,#a8327d 126.5px,#862781 128.5px,#4f127b 130.5px,#2f1163 131.5px,#19103f 132.5px,#110c2f 133.5px,#0b0924 136.5px,#08071e 157.5px,#120d31 165.5px,#221150 168.5px,#341069 170.5px,#390f6e 173.5px,#440f76 177.5px,#54137d 181.5px,#5f187f 182.5px,#721f81 183.5px,#ad347c 185.5px,#c83e73 186.5px,#dc4869 187.5px,#e75263 188.5px,#e85362 190.5px,#df4a68 191.5px,#cd4071 192.5px,#8e2a81 194.5px,#681c81 195.5px,#451077 196.5px,#2d1161 197.5px,#221150 198.5px,#180f3d 206.5px,#1d1147 208.5px,#390f6e 210.5px,#4a1079 211.5px,#56147d 212.5px,#59157e 213.5px,#451077 215.5px,#311165 216.5px,#1e1149 217.5px,#130d34 218.5px,#07061c 221.5px,#020109 227.5px,#010106 229.5px)"></div><div style="top:14px;height:1px;background:linear-gradient(90deg,#0b0924 0.5px,#110c2f 37.5px,#19103f 50.5px,#241253 53.5px,#420f75 57.5px,#52137c 62.5px,#471078 66.5px,#29115a 71.5px,#29115a 73.5px,#38106c 76.5px,#4e117b 79.5px,#54137d 82.5px,#491078 85.5px,#38106c 87.5px,#1e1149 90.5px,#160f3b 93.5px,#140e36 98.5px,#1d1147 105.5px,#3f0f72 113.5px,#5c167f 119.5px,#a5317e 123.5px,#ae347b 124.5px,#a8327d 126.5px,#862781 128.5px,#4e117b 130.5px,#2d1161 131.5px,#19103f 132.5px,#100b2d 133.5px,#0a0822 139.5px,#090720 158.5px,#100b2d 164.5px,#1c1044 167.5px,#2d1161 169.5px,#390f6e 171.5px,#390f6e 175.5px,#54137d 181.5px,#5d177f 182.5px,#6e1e81 183.5px,#882781 184.5px,#c53c74 186.5px,#db476a 187.5px,#e75263 188.5px,#eb5760 189.5px,#e24d66 191.5px,#d2426f 192.5px,#962c80 194.5px,#701f81 195.5px,#4c117a 196.5px,#311165 197.5px,#241253 198.5px,#19103f 206.5px,#19103f 207.5px,#1e1149 208.5px,#3f0f72 210.5px,#4f127b 211.5px,#59157e 213.5px,#420f75 215.5px,#2d1161 216.5px,#1c1044 217.5px,#110c2f 218.5px,#050416 222.5px,#010106 229.5px)"></div><div style="top:15px;height:1px;background:linear-gradient(90deg,#0b0924 0.5px,#120d31 39.5px,#180f3d 49.5px,#251255 53.5px,#3b0f70 56.5px,#4f127b 60.5px,#4f127b 64.5px,#3b0f70 68.5px,#2a115c 71.5px,#2a115c 73.5px,#400f74 77.5px,#54137d 81.5px,#4e117b 84.5px,#400f74 86.5px,#1e1149 90.5px,#160f3b 93.5px,#150e38 99.5px,#1e1149 105.5px,#3f0f72 113.5px,#54137d 118.5px,#6d1d81 120.5px,#a8327d 123.5px,#b0357b 124.5px,#b0357b 125.5px,#992d80 127.5px,#6a1c81 129.5px,#4c117a 130.5px,#2c115f 131.5px,#180f3d 132.5px,#100b2d 133.5px,#0a0822 139.5px,#090720 158.5px,#100b2d 164.5px,#1d1147 167.5px,#2f1163 169.5px,#390f6e 171.5px,#38106c 175.5px,#52137c 181.5px,#6a1c81 183.5px,#832681 184.5px,#c03a76 186.5px,#d8456c 187.5px,#e55064 188.5px,#eb5760 189.5px,#e44f64 191.5px,#d6456c 192.5px,#bd3977 193.5px,#782281 195.5px,#52137c 196.5px,#36106b 197.5px,#271258 198.5px,#21114e 199.5px,#19103f 206.5px,#1a1042 207.5px,#21114e 208.5px,#420f75 210.5px,#59157e 212.5px,#59157e 213.5px,#51127c 214.5px,#400f74 215.5px,#19103f 217.5px,#100b2d 218.5px,#050416 222.5px,#010106 229.5px)"></div><div style="top:16px;height:1px;background:linear-gradient(90deg,#0b0924 0.5px,#120d31 38.5px,#19103f 49.5px,#221150 52.5px,#3d0f71 56.5px,#51127c 62.5px,#491078 66.5px,#2c115f 71.5px,#2d1161 74.5px,#491078 78.5px,#56147d 81.5px,#4e117b 84.5px,#36106b 87.5px,#1e1149 90.5px,#160f3b 93.5px,#150e38 98.5px,#1e1149 105.5px,#400f74 113.5px,#56147d 118.5px,#6e1e81 120.5px,#aa337d 123.5px,#b2357b 124.5px,#b2357b 125.5px,#aa337d 126.5px,#842681 128.5px,#4a1079 130.5px,#2a115c 131.5px,#180f3d 132.5px,#100b2d 133.5px,#0a0822 138.5px,#090720 158.5px,#130d34 165.5px,#36106b 170.5px,#38106c 175.5px,#5a167e 182.5px,#671b80 183.5px,#7e2482 184.5px,#bd3977 186.5px,#d5446d 187.5px,#e44f64 188.5px,#eb5760 189.5px,#e75263 191.5px,#d9466b 192.5px,#c43c75 193.5px,#7e2482 195.5px,#5a167e 196.5px,#3b0f70 197.5px,#29115a 198.5px,#221150 199.5px,#1a1042 206.5px,#1c1044 207.5px,#241253 208.5px,#341069 209.5px,#471078 210.5px,#5a167e 212.5px,#59157e 213.5px,#4f127b 214.5px,#3d0f71 215.5px,#160f3b 217.5px,#0e0b2b 218.5px,#03030f 224.5px,#010106 229.5px)"></div><div style="top:17px;height:1px;background:linear-gradient(90deg,#0b0924 0.5px,#120d31 37.5px,#19103f 49.5px,#241253 52.5px,#3d0f71 56.5px,#4e117b 61.5px,#4c117a 65.5px,#3f0f72 68.5px,#2c115f 72.5px,#2f1163 74.5px,#4a1079 78.5px,#56147d 81.5px,#4e117b 84.5px,#341069 87.5px,#1a1042 91.5px,#150e38 98.5px,#20114b 105.5px,#400f74 113.5px,#57157e 118.5px,#601880 119.5px,#9c2e7f 122.5px,#b3367a 124.5px,#aa337d 126.5px,#832681 128.5px,#681c81 129.5px,#491078 130.5px,#29115a 131.5px,#160f3b 132.5px,#100b2d 133.5px,#0a0822 138.5px,#090720 158.5px,#110c2f 164.5px,#20114b 167.5px,#311165 169.5px,#38106c 172.5px,#36106b 175.5px,#59157e 182.5px,#641a80 183.5px,#792282 184.5px,#b83779 186.5px,#d2426f 187.5px,#e34e65 188.5px,#eb5760 189.5px,#e95462 191.5px,#de4968 192.5px,#c83e73 193.5px,#ab337c 194.5px,#601880 196.5px,#400f74 197.5px,#2c115f 198.5px,#241253 199.5px,#1a1042 206.5px,#1d1147 207.5px,#271258 208.5px,#390f6e 209.5px,#57157e 211.5px,#5c167f 212.5px,#59157e 213.5px,#4c117a 214.5px,#390f6e 215.5px,#150e38 217.5px,#0d0a29 218.5px,#03030f 224.5px,#010106 229.5px)"></div><div style="top:18px;height:1px;background:linear-gradient(90deg,#0b0924 0.5px,#130d34 40.5px,#180f3d 48.5px,#20114b 51.5px,#390f6e 55.5px,#4a1079 60.5px,#4a1079 66.5px,#2d1161 72.5px,#311165 74.5px,#4c117a 78.5px,#56147d 81.5px,#451077 85.5px,#2a115c 88.5px,#1e1149 90.5px,#180f3d 93.5px,#180f3d 99.5px,#20114b 105.5px,#3d0f71 112.5px,#57157e 118.5px,#621980 119.5px,#a02f7f 122.5px,#ae347b 123.5px,#b5367a 124.5px,#b3367a 125.5px,#992d80 127.5px,#671b80 129.5px,#471078 130.5px,#271258 131.5px,#160f3b 132.5px,#100b2d 133.5px,#0c0926 135.5px,#08071e 152.5px,#0a0822 159.5px,#110c2f 164.5px,#19103f 166.5px,#2a115c 168.5px,#36106b 170.5px,#331067 174.5px,#4c117a 180.5px,#601880 183.5px,#752181 184.5px,#b3367a 186.5px,#cf4070 187.5px,#e24d66 188.5px,#ed5a5f 190.5px,#e04c67 192.5px,#cd4071 193.5px,#b2357b 194.5px,#681c81 196.5px,#451077 197.5px,#2f1163 198.5px,#251255 199.5px,#1c1044 206.5px,#20114b 207.5px,#2a115c 208.5px,#3d0f71 209.5px,#4f127b 210.5px,#5a167e 211.5px,#5d177f 212.5px,#4a1079 214.5px,#36106b 215.5px,#130d34 217.5px,#0c0926 218.5px,#02020d 225.5px,#010106 229.5px)"></div><div style="top:19px;height:1px;background:linear-gradient(90deg,#0b0924 0.5px,#130d34 39.5px,#1a1042 49.5px,#2d1161 53.5px,#440f76 57.5px,#4c117a 64.5px,#420f75 68.5px,#2f1163 72.5px,#390f6e 75.5px,#52137c 79.5px,#54137d 82.5px,#440f76 85.5px,#2a115c 88.5px,#1e1149 90.5px,#19103f 93.5px,#160f3b 98.5px,#21114e 105.5px,#420f75 113.5px,#59157e 118.5px,#641a80 119.5px,#a1307e 122.5px,#b0357b 123.5px,#b73779 124.5px,#aa337d 126.5px,#992d80 127.5px,#651a80 129.5px,#451077 130.5px,#251255 131.5px,#150e38 132.5px,#0e0b2b 133.5px,#0a0822 139.5px,#090720 158.5px,#110c2f 164.5px,#1a1042 166.5px,#331067 169.5px,#38106c 171.5px,#311165 174.5px,#4c117a 180.5px,#5f187f 183.5px,#721f81 184.5px,#b0357b 186.5px,#e04c67 188.5px,#ed5a5f 190.5px,#e44f64 192.5px,#d2426f 193.5px,#b83779 194.5px,#6e1e81 196.5px,#4c117a 197.5px,#331067 198.5px,#271258 199.5px,#1c1044 205.5px,#21114e 207.5px,#420f75 209.5px,#5c167f 211.5px,#5d177f 212.5px,#57157e 213.5px,#491078 214.5px,#331067 215.5px,#1e1149 216.5px,#120d31 217.5px,#0a0822 219.5px,#02020d 225.5px,#010106 229.5px)"></div><div style="top:20px;height:1px;background:linear-gradient(90deg,#0b0924 0.5px,#130d34 38.5px,#19103f 48.5px,#221150 51.5px,#3b0f70 55.5px,#491078 59.5px,#471078 67.5px,#331067 72.5px,#341069 74.5px,#4e117b 78.5px,#56147d 81.5px,#4a1079 84.5px,#3b0f70 86.5px,#221150 89.5px,#1a1042 92.5px,#180f3d 98.5px,#21114e 105.5px,#3f0f72 112.5px,#5a167e 118.5px,#792282 120.5px,#a5317e 122.5px,#b83779 124.5px,#ab337c 126.5px,#812581 128.5px,#641a80 129.5px,#440f76 130.5px,#251255 131.5px,#150e38 132.5px,#0e0b2b 133.5px,#0a0822 138.5px,#090720 158.5px,#0e0b2b 163.5px,#1c1044 166.5px,#331067 169.5px,#38106c 171.5px,#2f1163 174.5px,#471078 179.5px,#5c167f 183.5px,#6d1d81 184.5px,#ab337c 186.5px,#c83e73 187.5px,#de4968 188.5px,#ee5b5e 190.5px,#e75263 192.5px,#d6456c 193.5px,#bd3977 194.5px,#762181 196.5px,#52137c 197.5px,#36106b 198.5px,#29115a 199.5px,#1d1147 205.5px,#1d1147 206.5px,#241253 207.5px,#471078 209.5px,#5d177f 211.5px,#5d177f 212.5px,#56147d 213.5px,#451077 214.5px,#2f1163 215.5px,#1c1044 216.5px,#100b2d 217.5px,#090720 219.5px,#020109 227.5px,#010106 229.5px)"></div><div style="top:21px;height:1px;background:linear-gradient(90deg,#0c0926 0.5px,#130d34 38.5px,#1a1042 48.5px,#241253 51.5px,#3d0f71 55.5px,#471078 59.5px,#491078 67.5px,#341069 73.5px,#54137d 79.5px,#54137d 82.5px,#420f75 85.5px,#221150 89.5px,#1a1042 92.5px,#19103f 99.5px,#251255 106.5px,#400f74 112.5px,#5c167f 118.5px,#681c81 119.5px,#a8327d 122.5px,#b5367a 123.5px,#ba3878 124.5px,#ab337c 126.5px,#802582 128.5px,#621980 129.5px,#420f75 130.5px,#241253 131.5px,#140e36 132.5px,#0c0926 134.5px,#08071e 151.5px,#0a0822 159.5px,#120d31 164.5px,#341069 169.5px,#36106b 171.5px,#2f1163 174.5px,#471078 179.5px,#5a167e 183.5px,#6a1c81 184.5px,#842681 185.5px,#c53c74 187.5px,#dc4869 188.5px,#e95462 189.5px,#ee5b5e 190.5px,#ee5b5e 191.5px,#e95462 192.5px,#db476a 193.5px,#c43c75 194.5px,#7e2482 196.5px,#59157e 197.5px,#3b0f70 198.5px,#2c115f 199.5px,#241253 201.5px,#1d1147 205.5px,#20114b 206.5px,#271258 207.5px,#38106c 208.5px,#4a1079 209.5px,#59157e 210.5px,#5f187f 211.5px,#5d177f 212.5px,#54137d 213.5px,#420f75 214.5px,#2c115f 215.5px,#19103f 216.5px,#0e0b2b 217.5px,#090720 219.5px,#02020d 225.5px,#010106 229.5px)"></div><div style="top:22px;height:1px;background:linear-gradient(90deg,#0c0926 0.5px,#130d34 37.5px,#1a1042 48.5px,#331067 53.5px,#451077 57.5px,#491078 67.5px,#36106b 73.5px,#54137d 79.5px,#54137d 82.5px,#420f75 85.5px,#221150 89.5px,#1a1042 92.5px,#1a1042 99.5px,#221150 105.5px,#400f74 112.5px,#5d177f 118.5px,#6a1c81 119.5px,#aa337d 122.5px,#b73779 123.5px,#b73779 125.5px,#ab337c 126.5px,#7e2482 128.5px,#601880 129.5px,#400f74 130.5px,#221150 131.5px,#140e36 132.5px,#0c0926 134.5px,#08071e 151.5px,#0a0822 159.5px,#120d31 164.5px,#2f1163 168.5px,#36106b 171.5px,#2d1161 174.5px,#451077 179.5px,#59157e 183.5px,#651a80 184.5px,#802582 185.5px,#c03a76 187.5px,#d9466b 188.5px,#e85362 189.5px,#ee5b5e 190.5px,#ef5d5e 191.5px,#df4a68 193.5px,#ca3e72 194.5px,#862781 196.5px,#601880 197.5px,#400f74 198.5px,#2d1161 199.5px,#251255 201.5px,#1e1149 204.5px,#21114e 206.5px,#2a115c 207.5px,#3d0f71 208.5px,#5c167f 210.5px,#601880 211.5px,#5d177f 212.5px,#52137c 213.5px,#3f0f72 214.5px,#271258 215.5px,#160f3b 216.5px,#0d0a29 217.5px,#03030f 224.5px,#010106 229.5px)"></div><div style="top:23px;height:1px;background:linear-gradient(90deg,#0c0926 0.5px,#140e36 39.5px,#19103f 47.5px,#21114e 50.5px,#3b0f70 54.5px,#471078 58.5px,#440f76 63.5px,#491078 68.5px,#390f6e 73.5px,#56147d 80.5px,#4f127b 83.5px,#38106c 86.5px,#221150 89.5px,#1c1044 92.5px,#1a1042 99.5px,#271258 106.5px,#420f75 112.5px,#5f187f 118.5px,#812581 120.5px,#ad347c 122.5px,#b83779 123.5px,#bc3978 124.5px,#ab337c 126.5px,#7e2482 128.5px,#5f187f 129.5px,#3f0f72 130.5px,#21114e 131.5px,#130d34 132.5px,#0c0926 134.5px,#08071e 151.5px,#0a0822 159.5px,#100b2d 163.5px,#180f3d 165.5px,#2f1163 168.5px,#36106b 170.5px,#2c115f 174.5px,#420f75 178.5px,#57157e 183.5px,#621980 184.5px,#7b2382 185.5px,#bc3978 187.5px,#d6456c 188.5px,#e75263 189.5px,#ee5b5e 190.5px,#ec5860 192.5px,#e34e65 193.5px,#cf4070 194.5px,#b2357b 195.5px,#671b80 197.5px,#451077 198.5px,#311165 199.5px,#251255 201.5px,#1e1149 205.5px,#221150 206.5px,#420f75 208.5px,#5d177f 210.5px,#621980 211.5px,#5d177f 212.5px,#51127c 213.5px,#3b0f70 214.5px,#241253 215.5px,#140e36 216.5px,#0c0926 217.5px,#020109 226.5px,#010106 229.5px)"></div><div style="top:24px;height:1px;background:linear-gradient(90deg,#0c0926 0.5px,#140e36 39.5px,#1c1044 48.5px,#2f1163 52.5px,#400f74 55.5px,#471078 58.5px,#400f74 62.5px,#491078 68.5px,#3b0f70 73.5px,#57157e 80.5px,#471078 84.5px,#271258 88.5px,#1d1147 91.5px,#1a1042 98.5px,#241253 105.5px,#3f0f72 111.5px,#601880 118.5px,#6e1e81 119.5px,#ae347b 122.5px,#ba3878 123.5px,#bd3977 124.5px,#b83779 125.5px,#982d80 127.5px,#5d177f 129.5px,#3d0f71 130.5px,#20114b 131.5px,#130d34 132.5px,#0c0926 134.5px,#08071e 148.5px,#0a0822 159.5px,#100b2d 163.5px,#19103f 165.5px,#311165 168.5px,#36106b 170.5px,#2a115c 174.5px,#400f74 178.5px,#56147d 183.5px,#601880 184.5px,#762181 185.5px,#b83779 187.5px,#d3436e 188.5px,#e55064 189.5px,#f05f5e 191.5px,#ee5b5e 192.5px,#e55064 193.5px,#d3436e 194.5px,#b83779 195.5px,#6e1e81 197.5px,#4c117a 198.5px,#341069 199.5px,#2a115c 200.5px,#20114b 204.5px,#20114b 205.5px,#251255 206.5px,#451077 208.5px,#601880 210.5px,#621980 211.5px,#5c167f 212.5px,#4e117b 213.5px,#38106c 214.5px,#21114e 215.5px,#130d34 216.5px,#0b0924 217.5px,#020109 227.5px,#010106 229.5px)"></div><div style="top:25px;height:1px;background:linear-gradient(90deg,#0c0926 0.5px,#140e36 38.5px,#1a1042 47.5px,#241253 50.5px,#3d0f71 54.5px,#471078 57.5px,#3f0f72 63.5px,#4a1079 68.5px,#3f0f72 73.5px,#57157e 80.5px,#471078 84.5px,#271258 88.5px,#1d1147 91.5px,#1c1044 99.5px,#29115a 106.5px,#440f76 112.5px,#621980 118.5px,#882781 120.5px,#b2357b 122.5px,#bd3977 123.5px,#bf3a77 124.5px,#ab337c 126.5px,#7b2382 128.5px,#5c167f 129.5px,#3b0f70 130.5px,#20114b 131.5px,#130d34 132.5px,#0c0926 134.5px,#08071e 148.5px,#0a0822 159.5px,#100b2d 163.5px,#311165 168.5px,#36106b 170.5px,#2a115c 173.5px,#2d1161 175.5px,#400f74 178.5px,#5d177f 184.5px,#721f81 185.5px,#b3367a 187.5px,#d0416f 188.5px,#e34e65 189.5px,#ed5a5f 190.5px,#ef5d5e 192.5px,#e85362 193.5px,#d8456c 194.5px,#bf3a77 195.5px,#752181 197.5px,#51127c 198.5px,#38106c 199.5px,#2c115f 200.5px,#21114e 204.5px,#21114e 205.5px,#29115a 206.5px,#4a1079 208.5px,#5a167e 209.5px,#621980 210.5px,#621980 211.5px,#5a167e 212.5px,#4a1079 213.5px,#341069 214.5px,#1e1149 215.5px,#110c2f 216.5px,#08071e 218.5px,#010108 228.5px,#010106 229.5px)"></div><div style="top:26px;height:1px;background:linear-gradient(90deg,#0c0926 0.5px,#150e38 40.5px,#19103f 46.5px,#21114e 49.5px,#3f0f72 54.5px,#451077 58.5px,#3d0f71 63.5px,#4a1079 68.5px,#420f75 74.5px,#56147d 79.5px,#52137c 82.5px,#3d0f71 85.5px,#221150 89.5px,#1c1044 94.5px,#1e1149 100.5px,#251255 105.5px,#400f74 111.5px,#641a80 118.5px,#8b2981 120.5px,#b3367a 122.5px,#bf3a77 123.5px,#c03a76 124.5px,#ba3878 125.5px,#962c80 127.5px,#5a167e 129.5px,#390f6e 130.5px,#1e1149 131.5px,#120d31 132.5px,#0b0924 135.5px,#08071e 155.5px,#0d0a29 162.5px,#1c1044 165.5px,#331067 168.5px,#341069 170.5px,#29115a 173.5px,#2d1161 175.5px,#400f74 178.5px,#5c167f 184.5px,#6e1e81 185.5px,#ae347b 187.5px,#cc3f71 188.5px,#e24d66 189.5px,#f1605d 191.5px,#f05f5e 192.5px,#ea5661 193.5px,#dc4869 194.5px,#c43c75 195.5px,#7c2382 197.5px,#59157e 198.5px,#3b0f70 199.5px,#2d1161 200.5px,#21114e 204.5px,#221150 205.5px,#3b0f70 207.5px,#4f127b 208.5px,#5d177f 209.5px,#641a80 211.5px,#5a167e 212.5px,#491078 213.5px,#311165 214.5px,#1c1044 215.5px,#100b2d 216.5px,#08071e 218.5px,#010108 228.5px,#010106 229.5px)"></div><div style="top:27px;height:1px;background:linear-gradient(90deg,#0c0926 0.5px,#120d31 28.5px,#19103f 45.5px,#1e1149 48.5px,#3b0f70 53.5px,#471078 57.5px,#390f6e 62.5px,#4a1079 69.5px,#440f76 74.5px,#57157e 80.5px,#451077 84.5px,#271258 88.5px,#1e1149 91.5px,#1d1147 98.5px,#271258 105.5px,#451077 112.5px,#651a80 118.5px,#8e2a81 120.5px,#b73779 122.5px,#c03a76 123.5px,#ba3878 125.5px,#ab337c 126.5px,#792282 128.5px,#59157e 129.5px,#38106c 130.5px,#1d1147 131.5px,#120d31 132.5px,#0c0926 134.5px,#090720 142.5px,#090720 158.5px,#110c2f 163.5px,#1d1147 165.5px,#2d1161 167.5px,#36106b 169.5px,#311165 171.5px,#271258 173.5px,#2c115f 175.5px,#390f6e 177.5px,#59157e 184.5px,#6a1c81 185.5px,#862781 186.5px,#c83e73 188.5px,#df4a68 189.5px,#f1605d 191.5px,#f1605d 192.5px,#ec5860 193.5px,#e04c67 194.5px,#ca3e72 195.5px,#842681 197.5px,#5f187f 198.5px,#400f74 199.5px,#311165 200.5px,#251255 202.5px,#221150 204.5px,#251255 205.5px,#2f1163 206.5px,#400f74 207.5px,#601880 209.5px,#641a80 211.5px,#451077 213.5px,#2c115f 214.5px,#180f3d 215.5px,#0d0a29 216.5px,#08071e 218.5px,#010108 228.5px,#010106 229.5px)"></div><div style="top:28px;height:1px;background:linear-gradient(90deg,#0c0926 0.5px,#120d31 25.5px,#19103f 45.5px,#241253 49.5px,#3d0f71 53.5px,#471078 57.5px,#38106c 63.5px,#4c117a 69.5px,#471078 74.5px,#57157e 79.5px,#51127c 82.5px,#3b0f70 85.5px,#221150 89.5px,#1e1149 92.5px,#1e1149 99.5px,#271258 105.5px,#420f75 111.5px,#671b80 118.5px,#a8327d 121.5px,#c23b75 123.5px,#c23b75 124.5px,#ab337c 126.5px,#782281 128.5px,#57157e 129.5px,#36106b 130.5px,#1d1147 131.5px,#120d31 132.5px,#0c0926 134.5px,#090720 142.5px,#090720 158.5px,#0e0b2b 162.5px,#160f3b 164.5px,#341069 168.5px,#341069 170.5px,#251255 173.5px,#2c115f 175.5px,#3f0f72 178.5px,#57157e 184.5px,#671b80 185.5px,#812581 186.5px,#c43c75 188.5px,#dc4869 189.5px,#eb5760 190.5px,#f1605d 191.5px,#f2625d 192.5px,#e44f64 194.5px,#d0416f 195.5px,#8c2981 197.5px,#651a80 198.5px,#451077 199.5px,#331067 200.5px,#241253 203.5px,#271258 205.5px,#331067 206.5px,#451077 207.5px,#621980 209.5px,#671b80 210.5px,#621980 211.5px,#56147d 212.5px,#420f75 213.5px,#29115a 214.5px,#160f3b 215.5px,#0c0926 216.5px,#07061c 218.5px,#010106 229.5px)"></div><div style="top:29px;height:1px;background:linear-gradient(90deg,#0d0a29 0.5px,#150e38 38.5px,#1c1044 46.5px,#20114b 48.5px,#3f0f72 53.5px,#471078 57.5px,#36106b 62.5px,#4c117a 69.5px,#4c117a 75.5px,#57157e 79.5px,#4a1079 83.5px,#331067 86.5px,#221150 89.5px,#1e1149 94.5px,#21114e 101.5px,#2c115f 106.5px,#471078 112.5px,#601880 117.5px,#6a1c81 118.5px,#ab337c 121.5px,#bc3978 122.5px,#c43c75 123.5px,#c43c75 124.5px,#ab337c 126.5px,#942c80 127.5px,#56147d 129.5px,#341069 130.5px,#1c1044 131.5px,#120d31 132.5px,#0c0926 134.5px,#090720 142.5px,#090720 158.5px,#0e0b2b 162.5px,#180f3d 164.5px,#2f1163 167.5px,#36106b 169.5px,#241253 173.5px,#2c115f 175.5px,#3f0f72 178.5px,#56147d 184.5px,#641a80 185.5px,#7c2382 186.5px,#c03a76 188.5px,#d9466b 189.5px,#e95462 190.5px,#f1605d 191.5px,#f2645c 192.5px,#f05f5e 193.5px,#e75263 194.5px,#d5446d 195.5px,#b83779 196.5px,#932b80 197.5px,#6d1d81 198.5px,#4c117a 199.5px,#36106b 200.5px,#2c115f 201.5px,#241253 204.5px,#2a115c 205.5px,#4a1079 207.5px,#651a80 209.5px,#681c81 210.5px,#621980 211.5px,#54137d 212.5px,#3d0f71 213.5px,#241253 214.5px,#140e36 215.5px,#0b0924 216.5px,#07061c 218.5px,#010106 229.5px)"></div><div style="top:30px;height:1px;background:linear-gradient(90deg,#0d0a29 0.5px,#160f3b 40.5px,#1c1044 46.5px,#2c115f 50.5px,#400f74 53.5px,#471078 57.5px,#341069 62.5px,#3b0f70 65.5px,#4c117a 69.5px,#4e117b 75.5px,#57157e 79.5px,#4a1079 83.5px,#271258 88.5px,#20114b 91.5px,#20114b 99.5px,#29115a 105.5px,#440f76 111.5px,#621980 117.5px,#6b1d81 118.5px,#ae347b 121.5px,#c53c74 123.5px,#bc3978 125.5px,#ab337c 126.5px,#752181 128.5px,#54137d 129.5px,#331067 130.5px,#1a1042 131.5px,#110c2f 132.5px,#0a0822 136.5px,#090720 158.5px,#0e0b2b 162.5px,#311165 167.5px,#341069 169.5px,#241253 173.5px,#2a115c 175.5px,#3d0f71 178.5px,#56147d 184.5px,#601880 185.5px,#782281 186.5px,#bc3978 188.5px,#d6456c 189.5px,#e85362 190.5px,#f2645c 192.5px,#f1605d 193.5px,#ea5661 194.5px,#d9466b 195.5px,#bf3a77 196.5px,#752181 198.5px,#51127c 199.5px,#390f6e 200.5px,#2d1161 201.5px,#251255 203.5px,#251255 204.5px,#2c115f 205.5px,#4f127b 207.5px,#671b80 209.5px,#681c81 210.5px,#601880 211.5px,#51127c 212.5px,#390f6e 213.5px,#21114e 214.5px,#120d31 215.5px,#0a0822 216.5px,#010108 228.5px,#010106 229.5px)"></div><div style="top:31px;height:1px;background:linear-gradient(90deg,#0d0a29 0.5px,#160f3b 40.5px,#1e1149 47.5px,#420f75 53.5px,#451077 57.5px,#331067 62.5px,#390f6e 65.5px,#4c117a 69.5px,#52137c 76.5px,#57157e 80.5px,#400f74 84.5px,#271258 88.5px,#21114e 91.5px,#21114e 100.5px,#2d1161 106.5px,#491078 112.5px,#641a80 117.5px,#6e1e81 118.5px,#b2357b 121.5px,#c03a76 122.5px,#c73d73 123.5px,#c53c74 124.5px,#bc3978 125.5px,#912b81 127.5px,#52137c 129.5px,#2f1163 130.5px,#1a1042 131.5px,#110c2f 132.5px,#0a0822 136.5px,#090720 157.5px,#0d0a29 161.5px,#130d34 163.5px,#2a115c 166.5px,#341069 168.5px,#311165 170.5px,#221150 173.5px,#241253 174.5px,#3d0f71 178.5px,#54137d 184.5px,#5d177f 185.5px,#732081 186.5px,#b73779 188.5px,#d3436e 189.5px,#e75263 190.5px,#f3655c 192.5px,#ec5860 194.5px,#de4968 195.5px,#c53c74 196.5px,#7c2382 198.5px,#57157e 199.5px,#3d0f71 200.5px,#2f1163 201.5px,#271258 203.5px,#2f1163 205.5px,#400f74 206.5px,#621980 208.5px,#681c81 210.5px,#5f187f 211.5px,#4e117b 212.5px,#36106b 213.5px,#1e1149 214.5px,#100b2d 215.5px,#07061c 217.5px,#010106 229.5px)"></div><div style="top:32px;height:1px;background:linear-gradient(90deg,#0d0a29 0.5px,#180f3d 42.5px,#20114b 47.5px,#3d0f71 52.5px,#471078 56.5px,#38106c 60.5px,#2f1163 63.5px,#491078 68.5px,#4f127b 72.5px,#59157e 79.5px,#4e117b 82.5px,#38106c 85.5px,#271258 88.5px,#21114e 92.5px,#21114e 99.5px,#2a115c 105.5px,#451077 111.5px,#651a80 117.5px,#701f81 118.5px,#b3367a 121.5px,#c23b75 122.5px,#c83e73 123.5px,#bc3978 125.5px,#912b81 127.5px,#51127c 129.5px,#2d1161 130.5px,#19103f 131.5px,#110c2f 132.5px,#0a0822 136.5px,#090720 157.5px,#0d0a29 161.5px,#140e36 163.5px,#2c115f 166.5px,#36106b 168.5px,#2f1163 170.5px,#21114e 173.5px,#221150 174.5px,#38106c 177.5px,#54137d 184.5px,#5c167f 185.5px,#701f81 186.5px,#b2357b 188.5px,#d0416f 189.5px,#e44f64 190.5px,#f3655c 192.5px,#ee5b5e 194.5px,#e24d66 195.5px,#ca3e72 196.5px,#832681 198.5px,#5d177f 199.5px,#420f75 200.5px,#331067 201.5px,#2a115c 202.5px,#2a115c 204.5px,#451077 206.5px,#641a80 208.5px,#6a1c81 209.5px,#681c81 210.5px,#4c117a 212.5px,#311165 213.5px,#1a1042 214.5px,#0e0b2b 215.5px,#07061c 217.5px,#010106 229.5px)"></div><div style="top:33px;height:1px;background:linear-gradient(90deg,#0d0a29 0.5px,#180f3d 41.5px,#1e1149 46.5px,#331067 50.5px,#471078 54.5px,#400f74 58.5px,#2f1163 62.5px,#311165 64.5px,#491078 68.5px,#59157e 78.5px,#52137c 81.5px,#38106c 85.5px,#271258 88.5px,#21114e 93.5px,#241253 101.5px,#2c115f 105.5px,#4a1079 112.5px,#671b80 117.5px,#732081 118.5px,#b73779 121.5px,#ca3e72 123.5px,#c73d73 124.5px,#aa337d 126.5px,#721f81 128.5px,#4f127b 129.5px,#2c115f 130.5px,#180f3d 131.5px,#110c2f 132.5px,#0a0822 136.5px,#090720 156.5px,#0d0a29 161.5px,#1c1044 164.5px,#2d1161 166.5px,#36106b 168.5px,#20114b 173.5px,#3d0f71 178.5px,#52137c 184.5px,#5a167e 185.5px,#6b1d81 186.5px,#ad347c 188.5px,#cc3f71 189.5px,#e34e65 190.5px,#f3655c 192.5px,#f05f5e 194.5px,#e55064 195.5px,#d0416f 196.5px,#8b2981 198.5px,#651a80 199.5px,#471078 200.5px,#341069 201.5px,#2c115f 202.5px,#2c115f 204.5px,#4a1079 206.5px,#671b80 208.5px,#6b1d81 209.5px,#681c81 210.5px,#5c167f 211.5px,#471078 212.5px,#2d1161 213.5px,#180f3d 214.5px,#0c0926 215.5px,#07061c 217.5px,#010106 229.5px)"></div><div style="top:34px;height:1px;background:linear-gradient(90deg,#0d0a29 0.5px,#130d34 24.5px,#1a1042 44.5px,#221150 47.5px,#400f74 52.5px,#471078 56.5px,#311165 61.5px,#2d1161 63.5px,#4c117a 69.5px,#5a167e 78.5px,#4e117b 82.5px,#36106b 85.5px,#241253 89.5px,#221150 99.5px,#2c115f 105.5px,#471078 111.5px,#681c81 117.5px,#752181 118.5px,#ba3878 121.5px,#c73d73 122.5px,#cc3f71 123.5px,#bc3978 125.5px,#aa337d 126.5px,#701f81 128.5px,#4e117b 129.5px,#2c115f 130.5px,#180f3d 131.5px,#100b2d 132.5px,#090720 138.5px,#090720 157.5px,#0d0a29 161.5px,#1d1147 164.5px,#2f1163 166.5px,#36106b 168.5px,#271258 171.5px,#21114e 172.5px,#21114e 174.5px,#36106b 177.5px,#4f127b 183.5px,#59157e 185.5px,#681c81 186.5px,#842681 187.5px,#c83e73 189.5px,#e04c67 190.5px,#f3655c 192.5px,#f4675c 193.5px,#e85362 195.5px,#d5446d 196.5px,#b83779 197.5px,#932b80 198.5px,#6b1d81 199.5px,#4c117a 200.5px,#38106c 201.5px,#2d1161 202.5px,#2a115c 203.5px,#2f1163 204.5px,#4e117b 206.5px,#6a1c81 208.5px,#6d1d81 209.5px,#681c81 210.5px,#5a167e 211.5px,#440f76 212.5px,#29115a 213.5px,#150e38 214.5px,#0b0924 215.5px,#06051a 217.5px,#010106 229.5px)"></div><div style="top:35px;height:1px;background:linear-gradient(90deg,#0d0a29 0.5px,#19103f 42.5px,#221150 47.5px,#3d0f71 51.5px,#491078 55.5px,#390f6e 59.5px,#2c115f 62.5px,#331067 65.5px,#4c117a 69.5px,#5a167e 78.5px,#52137c 81.5px,#36106b 85.5px,#271258 88.5px,#221150 93.5px,#251255 101.5px,#2d1161 105.5px,#4c117a 112.5px,#621980 116.5px,#782281 118.5px,#bc3978 121.5px,#c83e73 122.5px,#c83e73 124.5px,#a8327d 126.5px,#6e1e81 128.5px,#4c117a 129.5px,#2a115c 130.5px,#160f3b 131.5px,#100b2d 132.5px,#090720 138.5px,#090720 157.5px,#0e0b2b 161.5px,#180f3d 163.5px,#29115a 165.5px,#341069 167.5px,#2c115f 170.5px,#20114b 172.5px,#1e1149 173.5px,#2d1161 176.5px,#3b0f70 178.5px,#57157e 185.5px,#651a80 186.5px,#802582 187.5px,#c43c75 189.5px,#de4968 190.5px,#ec5860 191.5px,#f3655c 192.5px,#f4695c 193.5px,#f2645c 194.5px,#eb5760 195.5px,#db476a 196.5px,#bf3a77 197.5px,#732081 199.5px,#51127c 200.5px,#390f6e 201.5px,#2c115f 203.5px,#331067 204.5px,#52137c 206.5px,#6b1d81 208.5px,#6d1d81 209.5px,#671b80 210.5px,#57157e 211.5px,#400f74 212.5px,#251255 213.5px,#130d34 214.5px,#0a0822 215.5px,#060518 218.5px,#010106 229.5px)"></div><div style="top:36px;height:1px;background:linear-gradient(90deg,#0d0a29 0.5px,#130d34 21.5px,#1a1042 43.5px,#21114e 46.5px,#3f0f72 51.5px,#491078 55.5px,#38106c 59.5px,#2c115f 62.5px,#2c115f 64.5px,#4a1079 69.5px,#59157e 73.5px,#59157e 79.5px,#440f76 83.5px,#271258 88.5px,#221150 97.5px,#2d1161 105.5px,#491078 111.5px,#641a80 116.5px,#6b1d81 117.5px,#7b2382 118.5px,#bf3a77 121.5px,#ca3e72 122.5px,#cd4071 123.5px,#c83e73 124.5px,#a8327d 126.5px,#6d1d81 128.5px,#4a1079 129.5px,#29115a 130.5px,#160f3b 131.5px,#100b2d 132.5px,#090720 138.5px,#090720 157.5px,#0e0b2b 161.5px,#180f3d 163.5px,#2a115c 165.5px,#341069 167.5px,#311165 169.5px,#1d1147 173.5px,#20114b 174.5px,#3b0f70 178.5px,#56147d 185.5px,#621980 186.5px,#7b2382 187.5px,#bf3a77 189.5px,#db476a 190.5px,#eb5760 191.5px,#f2645c 192.5px,#f4695c 193.5px,#f3655c 194.5px,#ed5a5f 195.5px,#df4a68 196.5px,#c53c74 197.5px,#7b2382 199.5px,#57157e 200.5px,#3f0f72 201.5px,#311165 202.5px,#2f1163 203.5px,#36106b 204.5px,#57157e 206.5px,#6e1e81 208.5px,#6e1e81 209.5px,#651a80 210.5px,#54137d 211.5px,#3d0f71 212.5px,#21114e 213.5px,#110c2f 214.5px,#090720 215.5px,#010108 227.5px,#010106 229.5px)"></div><div style="top:37px;height:1px;background:linear-gradient(90deg,#0e0b2b 0.5px,#19103f 41.5px,#21114e 46.5px,#400f74 51.5px,#491078 54.5px,#420f75 57.5px,#2a115c 62.5px,#2a115c 64.5px,#4a1079 69.5px,#5c167f 74.5px,#5a167e 79.5px,#440f76 83.5px,#2a115c 87.5px,#241253 92.5px,#251255 99.5px,#2c115f 104.5px,#4e117b 112.5px,#6d1d81 117.5px,#962c80 119.5px,#c23b75 121.5px,#cf4070 123.5px,#ca3e72 124.5px,#a8327d 126.5px,#6b1d81 128.5px,#491078 129.5px,#271258 130.5px,#150e38 131.5px,#0d0a29 133.5px,#090720 139.5px,#090720 157.5px,#0e0b2b 161.5px,#19103f 163.5px,#2c115f 165.5px,#341069 167.5px,#2f1163 169.5px,#1e1149 172.5px,#1d1147 173.5px,#251255 175.5px,#390f6e 178.5px,#56147d 185.5px,#601880 186.5px,#762181 187.5px,#ba3878 189.5px,#d6456c 190.5px,#e95462 191.5px,#f2645c 192.5px,#f56b5c 193.5px,#f4695c 194.5px,#e34e65 196.5px,#cc3f71 197.5px,#832681 199.5px,#5d177f 200.5px,#420f75 201.5px,#331067 202.5px,#311165 203.5px,#390f6e 204.5px,#5c167f 206.5px,#6a1c81 207.5px,#701f81 208.5px,#6e1e81 209.5px,#52137c 211.5px,#38106c 212.5px,#1e1149 213.5px,#100b2d 214.5px,#06051a 216.5px,#010106 229.5px)"></div><div style="top:38px;height:1px;background:linear-gradient(90deg,#0e0b2b 0.5px,#19103f 40.5px,#20114b 45.5px,#341069 49.5px,#451077 52.5px,#491078 55.5px,#36106b 59.5px,#2a115c 62.5px,#2a115c 64.5px,#390f6e 67.5px,#54137d 71.5px,#5f187f 76.5px,#56147d 80.5px,#3b0f70 84.5px,#29115a 88.5px,#251255 91.5px,#271258 100.5px,#2f1163 105.5px,#4a1079 111.5px,#651a80 116.5px,#812581 118.5px,#b2357b 120.5px,#cf4070 122.5px,#d0416f 123.5px,#ca3e72 124.5px,#a6317d 126.5px,#6a1c81 128.5px,#451077 129.5px,#251255 130.5px,#150e38 131.5px,#0d0a29 133.5px,#08071e 141.5px,#0a0822 158.5px,#100b2d 161.5px,#1a1042 163.5px,#2c115f 165.5px,#341069 167.5px,#2d1161 169.5px,#1d1147 172.5px,#1c1044 173.5px,#1e1149 174.5px,#341069 177.5px,#4c117a 182.5px,#54137d 185.5px,#5d177f 186.5px,#732081 187.5px,#b5367a 189.5px,#d3436e 190.5px,#e85362 191.5px,#f56b5c 193.5px,#f56b5c 194.5px,#e75263 196.5px,#d0416f 197.5px,#8b2981 199.5px,#641a80 200.5px,#471078 201.5px,#36106b 202.5px,#341069 203.5px,#3d0f71 204.5px,#5f187f 206.5px,#721f81 208.5px,#6e1e81 209.5px,#4f127b 211.5px,#331067 212.5px,#1a1042 213.5px,#0d0a29 214.5px,#06051a 216.5px,#010106 229.5px)"></div><div style="top:39px;height:1px;background:linear-gradient(90deg,#0e0b2b 0.5px,#1a1042 42.5px,#20114b 45.5px,#3d0f71 50.5px,#4a1079 54.5px,#3b0f70 58.5px,#29115a 62.5px,#2c115f 65.5px,#491078 69.5px,#5f187f 74.5px,#5a167e 79.5px,#420f75 83.5px,#2a115c 87.5px,#251255 92.5px,#271258 99.5px,#2d1161 104.5px,#51127c 112.5px,#671b80 116.5px,#721f81 117.5px,#9c2e7f 119.5px,#c73d73 121.5px,#d0416f 122.5px,#ca3e72 124.5px,#a6317d 126.5px,#681c81 128.5px,#440f76 129.5px,#241253 130.5px,#150e38 131.5px,#0d0a29 133.5px,#08071e 141.5px,#0a0822 158.5px,#100b2d 161.5px,#2d1161 165.5px,#341069 166.5px,#331067 168.5px,#1c1044 172.5px,#1e1149 174.5px,#390f6e 178.5px,#54137d 185.5px,#5c167f 186.5px,#6e1e81 187.5px,#b0357b 189.5px,#cf4070 190.5px,#e55064 191.5px,#f1605d 192.5px,#f56b5c 193.5px,#f66c5c 194.5px,#ea5661 196.5px,#d6456c 197.5px,#b83779 198.5px,#912b81 199.5px,#6b1d81 200.5px,#4c117a 201.5px,#390f6e 202.5px,#36106b 203.5px,#52137c 205.5px,#6e1e81 207.5px,#732081 208.5px,#601880 210.5px,#4a1079 211.5px,#2f1163 212.5px,#180f3d 213.5px,#0c0926 214.5px,#07061c 215.5px,#010106 229.5px)"></div><div style="top:40px;height:1px;background:linear-gradient(90deg,#0e0b2b 0.5px,#1a1042 41.5px,#21114e 45.5px,#3f0f72 50.5px,#4a1079 53.5px,#400f74 57.5px,#29115a 62.5px,#29115a 64.5px,#3f0f72 68.5px,#5a167e 72.5px,#621980 76.5px,#56147d 80.5px,#390f6e 84.5px,#2a115c 87.5px,#271258 94.5px,#2c115f 103.5px,#4c117a 111.5px,#681c81 116.5px,#882781 118.5px,#b83779 120.5px,#d2426f 122.5px,#cc3f71 124.5px,#a5317e 126.5px,#671b80 128.5px,#420f75 129.5px,#221150 130.5px,#140e36 131.5px,#0d0a29 133.5px,#08071e 140.5px,#0a0822 158.5px,#110c2f 161.5px,#2f1163 165.5px,#341069 167.5px,#241253 170.5px,#1c1044 172.5px,#1a1042 173.5px,#1d1147 174.5px,#331067 177.5px,#4a1079 182.5px,#5c167f 186.5px,#6b1d81 187.5px,#882781 188.5px,#cc3f71 190.5px,#e34e65 191.5px,#f05f5e 192.5px,#f56b5c 193.5px,#f66c5c 194.5px,#f4675c 195.5px,#ec5860 196.5px,#db476a 197.5px,#bf3a77 198.5px,#992d80 199.5px,#732081 200.5px,#51127c 201.5px,#3d0f71 202.5px,#390f6e 203.5px,#57157e 205.5px,#721f81 207.5px,#732081 208.5px,#6d1d81 209.5px,#471078 211.5px,#2a115c 212.5px,#150e38 213.5px,#0a0822 214.5px,#060518 217.5px,#010106 229.5px)"></div><div style="top:41px;height:1px;background:linear-gradient(90deg,#0e0b2b 0.5px,#150e38 27.5px,#1c1044 42.5px,#271258 46.5px,#400f74 50.5px,#4a1079 54.5px,#390f6e 58.5px,#2a115c 61.5px,#29115a 64.5px,#36106b 67.5px,#56147d 71.5px,#641a80 75.5px,#5a167e 79.5px,#400f74 83.5px,#2d1161 86.5px,#271258 91.5px,#29115a 99.5px,#2f1163 104.5px,#4e117b 111.5px,#601880 115.5px,#762181 117.5px,#bc3978 120.5px,#cc3f71 121.5px,#d3436e 122.5px,#d3436e 123.5px,#cc3f71 124.5px,#a5317e 126.5px,#651a80 128.5px,#400f74 129.5px,#21114e 130.5px,#140e36 131.5px,#0d0a29 133.5px,#08071e 140.5px,#0a0822 158.5px,#110c2f 161.5px,#311165 165.5px,#341069 167.5px,#1a1042 172.5px,#1d1147 174.5px,#331067 177.5px,#4e117b 183.5px,#5a167e 186.5px,#681c81 187.5px,#832681 188.5px,#c73d73 190.5px,#e04c67 191.5px,#ef5d5e 192.5px,#f56b5c 193.5px,#f66e5c 194.5px,#ef5d5e 196.5px,#e04c67 197.5px,#c53c74 198.5px,#a1307e 199.5px,#792282 200.5px,#57157e 201.5px,#400f74 202.5px,#3d0f71 203.5px,#6b1d81 206.5px,#732081 207.5px,#732081 208.5px,#6b1d81 209.5px,#5c167f 210.5px,#440f76 211.5px,#251255 212.5px,#130d34 213.5px,#090720 214.5px,#050416 217.5px,#010106 229.5px)"></div><div style="top:42px;height:1px;background:linear-gradient(90deg,#0e0b2b 0.5px,#140e36 20.5px,#1c1044 42.5px,#221150 45.5px,#420f75 50.5px,#4a1079 53.5px,#3d0f71 57.5px,#271258 62.5px,#2a115c 65.5px,#3b0f70 68.5px,#54137d 71.5px,#641a80 74.5px,#601880 78.5px,#400f74 83.5px,#2d1161 86.5px,#29115a 92.5px,#2c115f 102.5px,#38106c 106.5px,#57157e 113.5px,#6b1d81 116.5px,#8e2a81 118.5px,#bf3a77 120.5px,#d5446d 122.5px,#cc3f71 124.5px,#bc3978 125.5px,#862781 127.5px,#641a80 128.5px,#3f0f72 129.5px,#20114b 130.5px,#140e36 131.5px,#0d0a29 133.5px,#08071e 140.5px,#0a0822 158.5px,#120d31 161.5px,#2a115c 164.5px,#341069 166.5px,#2f1163 168.5px,#1c1044 171.5px,#19103f 173.5px,#38106c 178.5px,#54137d 185.5px,#59157e 186.5px,#671b80 187.5px,#802582 188.5px,#c23b75 190.5px,#de4968 191.5px,#ee5b5e 192.5px,#f7705c 194.5px,#f66c5c 195.5px,#f1605d 196.5px,#e44f64 197.5px,#cc3f71 198.5px,#a8327d 199.5px,#5d177f 201.5px,#451077 202.5px,#420f75 203.5px,#6e1e81 206.5px,#752181 208.5px,#59157e 210.5px,#3f0f72 211.5px,#221150 212.5px,#110c2f 213.5px,#08071e 214.5px,#010108 227.5px,#010106 229.5px)"></div><div style="top:43px;height:1px;background:linear-gradient(90deg,#0e0b2b 0.5px,#140e36 18.5px,#1c1044 41.5px,#241253 45.5px,#440f76 50.5px,#4a1079 54.5px,#36106b 58.5px,#271258 62.5px,#29115a 65.5px,#3b0f70 68.5px,#5c167f 72.5px,#671b80 76.5px,#4f127b 81.5px,#2d1161 86.5px,#29115a 92.5px,#2d1161 103.5px,#4f127b 111.5px,#641a80 115.5px,#7c2382 117.5px,#c03a76 120.5px,#d0416f 121.5px,#d6456c 122.5px,#d5446d 123.5px,#bc3978 125.5px,#842681 127.5px,#601880 128.5px,#3d0f71 129.5px,#20114b 130.5px,#130d34 131.5px,#0d0a29 133.5px,#08071e 140.5px,#0a0822 158.5px,#130d34 161.5px,#2c115f 164.5px,#341069 166.5px,#2d1161 168.5px,#1a1042 171.5px,#19103f 173.5px,#1c1044 174.5px,#311165 177.5px,#451077 181.5px,#59157e 186.5px,#641a80 187.5px,#7b2382 188.5px,#bd3977 190.5px,#db476a 191.5px,#ec5860 192.5px,#f7705c 194.5px,#f66e5c 195.5px,#e85362 197.5px,#d2426f 198.5px,#892881 200.5px,#641a80 201.5px,#4a1079 202.5px,#451077 203.5px,#721f81 206.5px,#752181 208.5px,#56147d 210.5px,#3b0f70 211.5px,#1e1149 212.5px,#0e0b2b 213.5px,#060518 215.5px,#010106 229.5px)"></div><div style="top:44px;height:1px;background:linear-gradient(90deg,#0e0b2b 0.5px,#140e36 16.5px,#1c1044 41.5px,#21114e 44.5px,#3f0f72 49.5px,#4a1079 52.5px,#400f74 56.5px,#29115a 61.5px,#29115a 65.5px,#420f75 69.5px,#601880 73.5px,#671b80 76.5px,#5c167f 79.5px,#3f0f72 83.5px,#2c115f 87.5px,#2a115c 93.5px,#2f1163 103.5px,#4f127b 111.5px,#651a80 115.5px,#7e2482 117.5px,#c43c75 120.5px,#d2426f 121.5px,#d8456c 122.5px,#d6456c 123.5px,#bc3978 125.5px,#832681 127.5px,#5f187f 128.5px,#3b0f70 129.5px,#1e1149 130.5px,#130d34 131.5px,#0d0a29 133.5px,#08071e 140.5px,#0a0822 158.5px,#140e36 161.5px,#2d1161 164.5px,#341069 166.5px,#2c115f 168.5px,#1a1042 171.5px,#180f3d 173.5px,#36106b 178.5px,#4f127b 184.5px,#621980 187.5px,#782281 188.5px,#b83779 190.5px,#d6456c 191.5px,#ea5661 192.5px,#f4675c 193.5px,#f7705c 194.5px,#f7705c 195.5px,#f4675c 196.5px,#eb5760 197.5px,#d6456c 198.5px,#912b81 200.5px,#6b1d81 201.5px,#4f127b 202.5px,#4a1079 203.5px,#732081 206.5px,#782281 207.5px,#732081 208.5px,#671b80 209.5px,#52137c 210.5px,#36106b 211.5px,#1c1044 212.5px,#0c0926 213.5px,#060518 215.5px,#010106 229.5px)"></div><div style="top:45px;height:1px;background:linear-gradient(90deg,#100b2d 0.5px,#1c1044 40.5px,#221150 44.5px,#400f74 49.5px,#4c117a 52.5px,#400f74 56.5px,#29115a 61.5px,#29115a 65.5px,#38106c 68.5px,#54137d 71.5px,#651a80 74.5px,#671b80 77.5px,#4e117b 81.5px,#331067 85.5px,#2a115c 89.5px,#2d1161 101.5px,#36106b 105.5px,#56147d 112.5px,#651a80 115.5px,#812581 117.5px,#c73d73 120.5px,#d5446d 121.5px,#d9466b 122.5px,#d6456c 123.5px,#ba3878 125.5px,#a1307e 126.5px,#5d177f 128.5px,#38106c 129.5px,#1d1147 130.5px,#130d34 131.5px,#0d0a29 133.5px,#08071e 140.5px,#0a0822 157.5px,#100b2d 160.5px,#2f1163 164.5px,#341069 166.5px,#2a115c 168.5px,#19103f 171.5px,#180f3d 173.5px,#1a1042 174.5px,#2f1163 177.5px,#440f76 181.5px,#57157e 186.5px,#601880 187.5px,#732081 188.5px,#b3367a 190.5px,#d3436e 191.5px,#e95462 192.5px,#f7705c 194.5px,#f7725c 195.5px,#f56b5c 196.5px,#ed5a5f 197.5px,#dc4869 198.5px,#bf3a77 199.5px,#992d80 200.5px,#721f81 201.5px,#56147d 202.5px,#4f127b 203.5px,#762181 206.5px,#792282 207.5px,#732081 208.5px,#651a80 209.5px,#4e117b 210.5px,#311165 211.5px,#180f3d 212.5px,#0b0924 213.5px,#06051a 214.5px,#010106 229.5px)"></div><div style="top:46px;height:1px;background:linear-gradient(90deg,#100b2d 0.5px,#1d1147 41.5px,#29115a 45.5px,#420f75 49.5px,#4c117a 52.5px,#3f0f72 56.5px,#2a115c 60.5px,#271258 64.5px,#311165 67.5px,#54137d 71.5px,#671b80 74.5px,#671b80 77.5px,#4e117b 81.5px,#331067 85.5px,#2a115c 91.5px,#311165 103.5px,#52137c 111.5px,#671b80 115.5px,#842681 117.5px,#ca3e72 120.5px,#d6456c 121.5px,#db476a 122.5px,#d8456c 123.5px,#cd4071 124.5px,#a02f7f 126.5px,#5c167f 128.5px,#36106b 129.5px,#1d1147 130.5px,#120d31 131.5px,#0b0924 135.5px,#08071e 141.5px,#0a0822 157.5px,#110c2f 160.5px,#2f1163 164.5px,#341069 166.5px,#311165 167.5px,#180f3d 171.5px,#160f3b 173.5px,#36106b 178.5px,#4f127b 184.5px,#57157e 186.5px,#701f81 188.5px,#ae347b 190.5px,#cf4070 191.5px,#e75263 192.5px,#f2645c 193.5px,#f7705c 194.5px,#f8745c 195.5px,#f05f5e 197.5px,#e04c67 198.5px,#c53c74 199.5px,#a02f7f 200.5px,#792282 201.5px,#5c167f 202.5px,#56147d 203.5px,#792282 206.5px,#792282 207.5px,#721f81 208.5px,#621980 209.5px,#4a1079 210.5px,#2c115f 211.5px,#150e38 212.5px,#0a0822 213.5px,#050416 215.5px,#010106 229.5px)"></div><div style="top:47px;height:1px;background:linear-gradient(90deg,#100b2d 0.5px,#160f3b 24.5px,#1d1147 41.5px,#251255 44.5px,#3f0f72 48.5px,#4c117a 52.5px,#3f0f72 56.5px,#2a115c 60.5px,#271258 64.5px,#2f1163 67.5px,#491078 70.5px,#621980 73.5px,#6a1c81 76.5px,#57157e 80.5px,#331067 85.5px,#2c115f 90.5px,#2f1163 101.5px,#38106c 105.5px,#5c167f 113.5px,#681c81 115.5px,#882781 117.5px,#cd4071 120.5px,#dc4869 122.5px,#cd4071 124.5px,#ba3878 125.5px,#7e2482 127.5px,#5a167e 128.5px,#341069 129.5px,#1c1044 130.5px,#120d31 131.5px,#0b0924 135.5px,#08071e 139.5px,#090720 156.5px,#110c2f 160.5px,#311165 164.5px,#341069 166.5px,#271258 168.5px,#1a1042 170.5px,#160f3b 173.5px,#341069 178.5px,#4c117a 183.5px,#5f187f 187.5px,#6e1e81 188.5px,#882781 189.5px,#ca3e72 191.5px,#e44f64 192.5px,#f2625d 193.5px,#f8745c 195.5px,#f7705c 196.5px,#e55064 198.5px,#cc3f71 199.5px,#a8327d 200.5px,#812581 201.5px,#621980 202.5px,#5a167e 203.5px,#7b2382 206.5px,#721f81 208.5px,#471078 210.5px,#29115a 211.5px,#130d34 212.5px,#08071e 213.5px,#040414 216.5px,#010106 229.5px)"></div><div style="top:48px;height:1px;background:linear-gradient(90deg,#100b2d 0.5px,#150e38 18.5px,#1d1147 40.5px,#251255 44.5px,#400f74 48.5px,#4c117a 51.5px,#420f75 55.5px,#2a115c 60.5px,#271258 64.5px,#36106b 68.5px,#52137c 71.5px,#671b80 74.5px,#6b1d81 76.5px,#5f187f 79.5px,#38106c 84.5px,#2d1161 87.5px,#2f1163 100.5px,#390f6e 105.5px,#621980 114.5px,#782281 116.5px,#a3307e 118.5px,#cf4070 120.5px,#db476a 121.5px,#de4968 122.5px,#cd4071 124.5px,#9c2e7f 126.5px,#59157e 128.5px,#331067 129.5px,#1a1042 130.5px,#120d31 131.5px,#08071e 137.5px,#090720 156.5px,#0d0a29 159.5px,#19103f 161.5px,#331067 164.5px,#331067 166.5px,#251255 168.5px,#19103f 170.5px,#150e38 172.5px,#19103f 174.5px,#341069 178.5px,#4f127b 184.5px,#5f187f 187.5px,#6b1d81 188.5px,#832681 189.5px,#c53c74 191.5px,#e04c67 192.5px,#f05f5e 193.5px,#f66e5c 194.5px,#f8765c 195.5px,#f7725c 196.5px,#e95462 198.5px,#d2426f 199.5px,#892881 201.5px,#681c81 202.5px,#601880 203.5px,#7c2382 206.5px,#701f81 208.5px,#5c167f 209.5px,#420f75 210.5px,#241253 211.5px,#110c2f 212.5px,#07061c 213.5px,#020109 224.5px,#010106 229.5px)"></div><div style="top:49px;height:1px;background:linear-gradient(90deg,#100b2d 0.5px,#150e38 16.5px,#1d1147 40.5px,#241253 43.5px,#420f75 48.5px,#4c117a 52.5px,#3b0f70 56.5px,#271258 61.5px,#29115a 65.5px,#36106b 68.5px,#52137c 71.5px,#6b1d81 75.5px,#651a80 78.5px,#3f0f72 83.5px,#2d1161 87.5px,#311165 101.5px,#390f6e 105.5px,#5d177f 113.5px,#6b1d81 115.5px,#8e2a81 117.5px,#bf3a77 119.5px,#d2426f 120.5px,#dc4869 121.5px,#d9466b 123.5px,#cd4071 124.5px,#9c2e7f 126.5px,#56147d 128.5px,#311165 129.5px,#1a1042 130.5px,#120d31 131.5px,#08071e 137.5px,#090720 156.5px,#0e0b2b 159.5px,#1a1042 161.5px,#2c115f 163.5px,#341069 165.5px,#2c115f 167.5px,#180f3d 170.5px,#150e38 173.5px,#341069 178.5px,#54137d 185.5px,#5f187f 187.5px,#6a1c81 188.5px,#7e2482 189.5px,#c03a76 191.5px,#de4968 192.5px,#ef5d5e 193.5px,#f8765c 195.5px,#f8745c 196.5px,#f56b5c 197.5px,#ec5860 198.5px,#d8456c 199.5px,#912b81 201.5px,#701f81 202.5px,#651a80 203.5px,#792282 205.5px,#7e2482 206.5px,#792282 207.5px,#6d1d81 208.5px,#59157e 209.5px,#3d0f71 210.5px,#21114e 211.5px,#0e0b2b 212.5px,#07061c 213.5px,#040414 216.5px,#010106 229.5px)"></div><div style="top:50px;height:1px;background:linear-gradient(90deg,#100b2d 0.5px,#150e38 16.5px,#1d1147 40.5px,#29115a 44.5px,#440f76 48.5px,#4c117a 51.5px,#451077 54.5px,#29115a 60.5px,#29115a 65.5px,#36106b 68.5px,#52137c 71.5px,#6b1d81 75.5px,#671b80 78.5px,#3f0f72 83.5px,#311165 86.5px,#2d1161 92.5px,#36106b 104.5px,#56147d 111.5px,#6d1d81 115.5px,#912b81 117.5px,#c23b75 119.5px,#d5446d 120.5px,#de4968 121.5px,#d9466b 123.5px,#cd4071 124.5px,#b83779 125.5px,#792282 127.5px,#54137d 128.5px,#2f1163 129.5px,#19103f 130.5px,#120d31 131.5px,#08071e 137.5px,#090720 156.5px,#0e0b2b 159.5px,#2d1161 163.5px,#341069 164.5px,#311165 166.5px,#180f3d 170.5px,#140e36 172.5px,#180f3d 174.5px,#2d1161 177.5px,#471078 182.5px,#5d177f 187.5px,#681c81 188.5px,#7b2382 189.5px,#bc3978 191.5px,#db476a 192.5px,#ed5a5f 193.5px,#f66c5c 194.5px,#f8765c 195.5px,#f8765c 196.5px,#f66c5c 197.5px,#ee5b5e 198.5px,#dc4869 199.5px,#bf3a77 200.5px,#992d80 201.5px,#782281 202.5px,#6b1d81 203.5px,#7c2382 205.5px,#802582 206.5px,#792282 207.5px,#6b1d81 208.5px,#56147d 209.5px,#390f6e 210.5px,#1d1147 211.5px,#0d0a29 212.5px,#06051a 213.5px,#010108 226.5px,#010106 229.5px)"></div><div style="top:51px;height:1px;background:linear-gradient(90deg,#100b2d 0.5px,#150e38 14.5px,#1d1147 39.5px,#251255 43.5px,#451077 48.5px,#4c117a 52.5px,#390f6e 56.5px,#271258 61.5px,#2c115f 66.5px,#3f0f72 69.5px,#621980 73.5px,#6b1d81 76.5px,#601880 79.5px,#3f0f72 83.5px,#2f1163 87.5px,#341069 103.5px,#56147d 111.5px,#6e1e81 115.5px,#942c80 117.5px,#c53c74 119.5px,#d6456c 120.5px,#df4a68 121.5px,#db476a 123.5px,#cd4071 124.5px,#992d80 126.5px,#782281 127.5px,#52137c 128.5px,#2d1161 129.5px,#19103f 130.5px,#110c2f 131.5px,#08071e 138.5px,#090720 156.5px,#100b2d 159.5px,#2f1163 163.5px,#341069 165.5px,#311165 166.5px,#160f3b 170.5px,#140e36 173.5px,#331067 178.5px,#4a1079 183.5px,#5d177f 187.5px,#782281 189.5px,#932b80 190.5px,#d6456c 192.5px,#eb5760 193.5px,#f56b5c 194.5px,#f8765c 195.5px,#f9785d 196.5px,#f7705c 197.5px,#f1605d 198.5px,#e24d66 199.5px,#c53c74 200.5px,#a1307e 201.5px,#802582 202.5px,#721f81 203.5px,#802582 206.5px,#792282 207.5px,#6a1c81 208.5px,#52137c 209.5px,#341069 210.5px,#1a1042 211.5px,#0b0924 212.5px,#060518 213.5px,#010106 229.5px)"></div><div style="top:52px;height:1px;background:linear-gradient(90deg,#100b2d 0.5px,#150e38 14.5px,#1e1149 40.5px,#2c115f 44.5px,#471078 48.5px,#4c117a 52.5px,#38106c 56.5px,#29115a 60.5px,#29115a 64.5px,#311165 67.5px,#51127c 71.5px,#671b80 74.5px,#6b1d81 77.5px,#5a167e 80.5px,#341069 85.5px,#2f1163 89.5px,#38106c 104.5px,#5c167f 112.5px,#701f81 115.5px,#982d80 117.5px,#c83e73 119.5px,#d9466b 120.5px,#e04c67 122.5px,#db476a 123.5px,#cd4071 124.5px,#b73779 125.5px,#752181 127.5px,#51127c 128.5px,#2c115f 129.5px,#180f3d 130.5px,#110c2f 131.5px,#08071e 138.5px,#090720 155.5px,#0c0926 158.5px,#1e1149 161.5px,#311165 163.5px,#341069 165.5px,#271258 167.5px,#150e38 170.5px,#140e36 173.5px,#241253 176.5px,#38106c 179.5px,#59157e 186.5px,#671b80 188.5px,#752181 189.5px,#8e2a81 190.5px,#d2426f 192.5px,#e95462 193.5px,#f4695c 194.5px,#f8765c 195.5px,#f9795d 196.5px,#f8745c 197.5px,#f3655c 198.5px,#e55064 199.5px,#cc3f71 200.5px,#a8327d 201.5px,#862781 202.5px,#782281 203.5px,#812581 205.5px,#782281 207.5px,#671b80 208.5px,#4e117b 209.5px,#2f1163 210.5px,#160f3b 211.5px,#0a0822 212.5px,#040414 214.5px,#010106 229.5px)"></div><div style="top:53px;height:1px;background:linear-gradient(90deg,#110c2f 0.5px,#1e1149 39.5px,#241253 42.5px,#420f75 47.5px,#4e117b 50.5px,#440f76 54.5px,#2d1161 58.5px,#271258 62.5px,#311165 67.5px,#52137c 71.5px,#6b1d81 75.5px,#671b80 78.5px,#491078 82.5px,#341069 85.5px,#311165 91.5px,#390f6e 104.5px,#621980 113.5px,#721f81 115.5px,#9b2e7f 117.5px,#cc3f71 119.5px,#db476a 120.5px,#e24d66 122.5px,#db476a 123.5px,#cc3f71 124.5px,#b5367a 125.5px,#732081 127.5px,#4e117b 128.5px,#2a115c 129.5px,#160f3b 130.5px,#110c2f 131.5px,#08071e 137.5px,#090720 155.5px,#0d0a29 158.5px,#180f3d 160.5px,#2a115c 162.5px,#341069 164.5px,#341069 165.5px,#271258 167.5px,#19103f 169.5px,#140e36 171.5px,#140e36 173.5px,#241253 176.5px,#38106c 179.5px,#59157e 186.5px,#651a80 188.5px,#721f81 189.5px,#892881 190.5px,#cd4071 192.5px,#e55064 193.5px,#f3655c 194.5px,#f8745c 195.5px,#f9795d 196.5px,#f8765c 197.5px,#ea5661 199.5px,#d3436e 200.5px,#902a81 202.5px,#7e2482 203.5px,#812581 206.5px,#762181 207.5px,#641a80 208.5px,#491078 209.5px,#2a115c 210.5px,#140e36 211.5px,#090720 212.5px,#050416 213.5px,#010106 229.5px)"></div><div style="top:54px;height:1px;background:linear-gradient(90deg,#110c2f 0.5px,#160f3b 16.5px,#1e1149 39.5px,#2a115c 43.5px,#451077 47.5px,#4e117b 51.5px,#3b0f70 55.5px,#29115a 60.5px,#2a115c 65.5px,#400f74 69.5px,#621980 73.5px,#6b1d81 77.5px,#52137c 81.5px,#36106b 85.5px,#311165 90.5px,#3b0f70 104.5px,#621980 113.5px,#732081 115.5px,#9e2f7f 117.5px,#cf4070 119.5px,#de4968 120.5px,#e34e65 122.5px,#cc3f71 124.5px,#942c80 126.5px,#701f81 127.5px,#4a1079 128.5px,#271258 129.5px,#160f3b 130.5px,#110c2f 131.5px,#08071e 137.5px,#090720 155.5px,#0e0b2b 158.5px,#19103f 160.5px,#2c115f 162.5px,#36106b 164.5px,#2d1161 166.5px,#180f3d 169.5px,#140e36 172.5px,#140e36 173.5px,#331067 178.5px,#54137d 185.5px,#651a80 188.5px,#6e1e81 189.5px,#812581 190.5px,#c53c74 192.5px,#e24d66 193.5px,#f1605d 194.5px,#f7725c 195.5px,#f9795d 196.5px,#f9785d 197.5px,#f66c5c 198.5px,#ed5a5f 199.5px,#d9466b 200.5px,#992d80 202.5px,#862781 203.5px,#862781 205.5px,#732081 207.5px,#5f187f 208.5px,#420f75 209.5px,#241253 210.5px,#120d31 211.5px,#08071e 212.5px,#040414 214.5px,#010106 229.5px)"></div><div style="top:55px;height:1px;background:linear-gradient(90deg,#110c2f 0.5px,#180f3d 19.5px,#20114b 39.5px,#271258 42.5px,#471078 47.5px,#4e117b 51.5px,#3b0f70 55.5px,#2c115f 58.5px,#29115a 63.5px,#331067 67.5px,#52137c 71.5px,#6a1c81 75.5px,#671b80 78.5px,#440f76 83.5px,#331067 87.5px,#36106b 100.5px,#400f74 105.5px,#6a1c81 114.5px,#752181 115.5px,#a1307e 117.5px,#bd3977 118.5px,#d2426f 119.5px,#df4a68 120.5px,#e34e65 122.5px,#db476a 123.5px,#ca3e72 124.5px,#b2357b 125.5px,#6e1e81 127.5px,#491078 128.5px,#251255 129.5px,#150e38 130.5px,#100b2d 131.5px,#07061c 139.5px,#0a0822 156.5px,#0e0b2b 158.5px,#2d1161 162.5px,#36106b 164.5px,#2c115f 166.5px,#180f3d 169.5px,#140e36 172.5px,#180f3d 174.5px,#331067 178.5px,#54137d 185.5px,#6b1d81 189.5px,#7c2382 190.5px,#bd3977 192.5px,#dc4869 193.5px,#ee5b5e 194.5px,#f66e5c 195.5px,#f9795d 196.5px,#f9795d 197.5px,#f7705c 198.5px,#f05f5e 199.5px,#df4a68 200.5px,#a3307e 202.5px,#8e2a81 203.5px,#802582 206.5px,#701f81 207.5px,#59157e 208.5px,#3b0f70 209.5px,#20114b 210.5px,#100b2d 211.5px,#07061c 212.5px,#040414 215.5px,#010106 229.5px)"></div><div style="top:56px;height:1px;background:linear-gradient(90deg,#110c2f 0.5px,#160f3b 14.5px,#20114b 39.5px,#2d1161 43.5px,#491078 47.5px,#4f127b 50.5px,#3f0f72 54.5px,#2c115f 58.5px,#29115a 63.5px,#341069 67.5px,#5a167e 72.5px,#6a1c81 75.5px,#671b80 78.5px,#451077 83.5px,#341069 86.5px,#36106b 99.5px,#3d0f71 104.5px,#6b1d81 114.5px,#782281 115.5px,#a6317d 117.5px,#d5446d 119.5px,#e24d66 120.5px,#e34e65 122.5px,#db476a 123.5px,#ca3e72 124.5px,#902a81 126.5px,#6b1d81 127.5px,#451077 128.5px,#241253 129.5px,#140e36 130.5px,#0d0a29 132.5px,#07061c 140.5px,#0a0822 155.5px,#100b2d 158.5px,#2f1163 162.5px,#36106b 164.5px,#331067 165.5px,#160f3b 169.5px,#150e38 173.5px,#38106c 179.5px,#59157e 186.5px,#681c81 189.5px,#762181 190.5px,#932b80 191.5px,#d6456c 193.5px,#eb5760 194.5px,#f9785d 196.5px,#f9795d 197.5px,#f8745c 198.5px,#f2645c 199.5px,#e44f64 200.5px,#ad347c 202.5px,#962c80 203.5px,#7e2482 206.5px,#6d1d81 207.5px,#54137d 208.5px,#36106b 209.5px,#1c1044 210.5px,#0e0b2b 211.5px,#07061c 212.5px,#040414 215.5px,#010106 229.5px)"></div><div style="top:57px;height:1px;background:linear-gradient(90deg,#110c2f 0.5px,#180f3d 17.5px,#21114e 39.5px,#2a115c 42.5px,#451077 46.5px,#4f127b 50.5px,#38106c 55.5px,#2c115f 58.5px,#29115a 63.5px,#341069 67.5px,#54137d 71.5px,#681c81 75.5px,#671b80 78.5px,#471078 83.5px,#36106b 86.5px,#341069 95.5px,#3f0f72 104.5px,#6d1d81 114.5px,#792282 115.5px,#aa337d 117.5px,#d8456c 119.5px,#e34e65 120.5px,#e44f64 122.5px,#db476a 123.5px,#c83e73 124.5px,#ae347b 125.5px,#681c81 127.5px,#420f75 128.5px,#221150 129.5px,#140e36 130.5px,#0d0a29 132.5px,#07061c 140.5px,#0a0822 155.5px,#110c2f 158.5px,#311165 162.5px,#36106b 164.5px,#2a115c 166.5px,#1a1042 168.5px,#140e36 171.5px,#150e38 173.5px,#38106c 179.5px,#59157e 186.5px,#671b80 189.5px,#721f81 190.5px,#8b2981 191.5px,#d0416f 193.5px,#e85362 194.5px,#f4675c 195.5px,#f8765c 196.5px,#f97b5d 197.5px,#f8765c 198.5px,#e95462 200.5px,#b5367a 202.5px,#9e2f7f 203.5px,#7c2382 206.5px,#4e117b 208.5px,#2f1163 209.5px,#180f3d 210.5px,#0d0a29 211.5px,#050416 213.5px,#010106 229.5px)"></div><div style="top:58px;height:1px;background:linear-gradient(90deg,#110c2f 0.5px,#180f3d 15.5px,#21114e 39.5px,#331067 43.5px,#4c117a 47.5px,#4c117a 51.5px,#36106b 55.5px,#29115a 59.5px,#2d1161 65.5px,#451077 69.5px,#651a80 74.5px,#671b80 78.5px,#491078 83.5px,#341069 87.5px,#3d0f71 103.5px,#671b80 113.5px,#7b2382 115.5px,#ae347b 117.5px,#db476a 119.5px,#e55064 120.5px,#e44f64 122.5px,#db476a 123.5px,#ad347c 125.5px,#651a80 127.5px,#3f0f72 128.5px,#20114b 129.5px,#130d34 130.5px,#0b0924 134.5px,#07061c 140.5px,#0a0822 155.5px,#0d0a29 157.5px,#20114b 160.5px,#2a115c 161.5px,#36106b 163.5px,#2f1163 165.5px,#160f3b 169.5px,#160f3b 173.5px,#19103f 174.5px,#331067 178.5px,#4f127b 184.5px,#6d1d81 190.5px,#842681 191.5px,#c83e73 193.5px,#e44f64 194.5px,#f2645c 195.5px,#f8745c 196.5px,#f9795d 197.5px,#f9785d 198.5px,#f66c5c 199.5px,#ec5860 200.5px,#d9466b 201.5px,#a6317d 203.5px,#792282 206.5px,#491078 208.5px,#2a115c 209.5px,#150e38 210.5px,#0c0926 211.5px,#050416 213.5px,#010106 229.5px)"></div><div style="top:59px;height:1px;background:linear-gradient(90deg,#120d31 0.5px,#1a1042 22.5px,#21114e 38.5px,#2d1161 42.5px,#491078 46.5px,#4f127b 50.5px,#36106b 55.5px,#29115a 59.5px,#2d1161 65.5px,#56147d 71.5px,#681c81 76.5px,#5d177f 80.5px,#390f6e 86.5px,#341069 92.5px,#400f74 104.5px,#701f81 114.5px,#7e2482 115.5px,#b2357b 117.5px,#cc3f71 118.5px,#de4968 119.5px,#e95462 121.5px,#d9466b 123.5px,#c73d73 124.5px,#ab337c 125.5px,#621980 127.5px,#3d0f71 128.5px,#1e1149 129.5px,#130d34 130.5px,#0d0a29 132.5px,#07061c 140.5px,#0a0822 154.5px,#0e0b2b 157.5px,#19103f 159.5px,#2c115f 161.5px,#36106b 163.5px,#2f1163 165.5px,#19103f 168.5px,#150e38 171.5px,#160f3b 173.5px,#331067 178.5px,#4f127b 184.5px,#6a1c81 190.5px,#7e2482 191.5px,#c23b75 193.5px,#df4a68 194.5px,#f05f5e 195.5px,#f7705c 196.5px,#f9795d 197.5px,#f9795d 198.5px,#f7705c 199.5px,#f05f5e 200.5px,#df4a68 201.5px,#ad347c 203.5px,#762181 206.5px,#5f187f 207.5px,#420f75 208.5px,#241253 209.5px,#140e36 210.5px,#0b0924 211.5px,#060518 213.5px,#010108 226.5px,#010106 229.5px)"></div><div style="top:60px;height:1px;background:linear-gradient(90deg,#120d31 0.5px,#1e1149 32.5px,#241253 39.5px,#2a115c 41.5px,#451077 45.5px,#51127c 49.5px,#390f6e 54.5px,#2a115c 58.5px,#2c115f 64.5px,#390f6e 67.5px,#5c167f 72.5px,#671b80 77.5px,#52137c 82.5px,#3b0f70 86.5px,#341069 91.5px,#420f75 104.5px,#721f81 114.5px,#802582 115.5px,#b5367a 117.5px,#cf4070 118.5px,#df4a68 119.5px,#e85362 120.5px,#e55064 122.5px,#d9466b 123.5px,#c53c74 124.5px,#862781 126.5px,#5f187f 127.5px,#390f6e 128.5px,#1d1147 129.5px,#120d31 130.5px,#0b0924 134.5px,#07061c 140.5px,#0a0822 154.5px,#100b2d 157.5px,#1c1044 159.5px,#2d1161 161.5px,#36106b 163.5px,#2d1161 165.5px,#19103f 168.5px,#150e38 171.5px,#160f3b 173.5px,#331067 178.5px,#4f127b 184.5px,#681c81 190.5px,#782281 191.5px,#ba3878 193.5px,#d9466b 194.5px,#ed5a5f 195.5px,#f9795d 197.5px,#f97b5d 198.5px,#f8745c 199.5px,#f2645c 200.5px,#e44f64 201.5px,#b3367a 203.5px,#732081 206.5px,#5a167e 207.5px,#3b0f70 208.5px,#21114e 209.5px,#120d31 210.5px,#07061c 212.5px,#02020b 221.5px,#010106 229.5px)"></div><div style="top:61px;height:1px;background:linear-gradient(90deg,#120d31 0.5px,#1a1042 19.5px,#221150 38.5px,#2c115f 41.5px,#471078 45.5px,#51127c 49.5px,#3f0f72 53.5px,#2c115f 57.5px,#29115a 61.5px,#341069 66.5px,#51127c 70.5px,#621980 74.5px,#641a80 78.5px,#471078 84.5px,#36106b 89.5px,#400f74 103.5px,#732081 114.5px,#832681 115.5px,#ba3878 117.5px,#d2426f 118.5px,#e24d66 119.5px,#ea5661 121.5px,#e55064 122.5px,#d9466b 123.5px,#c43c75 124.5px,#832681 126.5px,#5d177f 127.5px,#36106b 128.5px,#1c1044 129.5px,#120d31 130.5px,#0b0924 134.5px,#07061c 140.5px,#0b0924 155.5px,#100b2d 157.5px,#2f1163 161.5px,#36106b 163.5px,#2c115f 165.5px,#180f3d 168.5px,#150e38 171.5px,#1a1042 174.5px,#331067 178.5px,#4f127b 184.5px,#651a80 190.5px,#732081 191.5px,#8e2a81 192.5px,#d3436e 194.5px,#ea5661 195.5px,#f9785d 197.5px,#f97b5d 198.5px,#f8765c 199.5px,#e95462 201.5px,#bc3978 203.5px,#701f81 206.5px,#54137d 207.5px,#36106b 208.5px,#1d1147 209.5px,#120d31 210.5px,#07061c 212.5px,#02020d 219.5px,#010106 229.5px)"></div><div style="top:62px;height:1px;background:linear-gradient(90deg,#120d31 0.5px,#1c1044 22.5px,#221150 38.5px,#341069 42.5px,#491078 45.5px,#51127c 48.5px,#440f76 52.5px,#2c115f 57.5px,#2a115c 62.5px,#36106b 66.5px,#57157e 71.5px,#641a80 75.5px,#5a167e 81.5px,#38106c 88.5px,#3f0f72 101.5px,#56147d 108.5px,#752181 114.5px,#862781 115.5px,#bd3977 117.5px,#d5446d 118.5px,#e44f64 119.5px,#ea5661 121.5px,#e55064 122.5px,#d8456c 123.5px,#c23b75 124.5px,#a5317e 125.5px,#5a167e 127.5px,#331067 128.5px,#1a1042 129.5px,#110c2f 130.5px,#090720 136.5px,#08071e 142.5px,#0a0822 154.5px,#110c2f 157.5px,#311165 161.5px,#36106b 163.5px,#2c115f 165.5px,#1c1044 167.5px,#150e38 170.5px,#180f3d 173.5px,#331067 178.5px,#4f127b 184.5px,#621980 189.5px,#641a80 190.5px,#6e1e81 191.5px,#862781 192.5px,#cc3f71 194.5px,#e75263 195.5px,#f3655c 196.5px,#f8765c 197.5px,#f97b5d 198.5px,#f9785d 199.5px,#f66c5c 200.5px,#ed5a5f 201.5px,#c23b75 203.5px,#8b2981 205.5px,#4f127b 207.5px,#311165 208.5px,#1c1044 209.5px,#110c2f 210.5px,#07061c 212.5px,#02020d 219.5px,#010106 229.5px)"></div><div style="top:63px;height:1px;background:linear-gradient(90deg,#120d31 0.5px,#19103f 14.5px,#241253 38.5px,#311165 41.5px,#4a1079 45.5px,#51127c 49.5px,#3b0f70 53.5px,#2c115f 57.5px,#2c115f 63.5px,#451077 68.5px,#5d177f 72.5px,#621980 77.5px,#57157e 82.5px,#390f6e 88.5px,#3d0f71 98.5px,#4a1079 105.5px,#6e1e81 113.5px,#762181 114.5px,#892881 115.5px,#c23b75 117.5px,#d8456c 118.5px,#e55064 119.5px,#eb5760 121.5px,#e55064 122.5px,#d8456c 123.5px,#c03a76 124.5px,#7e2482 126.5px,#57157e 127.5px,#311165 128.5px,#19103f 129.5px,#110c2f 130.5px,#07061c 137.5px,#0b0924 154.5px,#120d31 157.5px,#331067 161.5px,#36106b 163.5px,#2a115c 165.5px,#1c1044 167.5px,#160f3b 169.5px,#19103f 173.5px,#271258 176.5px,#3d0f71 180.5px,#601880 188.5px,#621980 190.5px,#6a1c81 191.5px,#802582 192.5px,#a1307e 193.5px,#c53c74 194.5px,#e24d66 195.5px,#f2625d 196.5px,#f97b5d 198.5px,#f9795d 199.5px,#f7705c 200.5px,#f05f5e 201.5px,#e04c67 202.5px,#ab337c 204.5px,#6b1d81 206.5px,#4c117a 207.5px,#2c115f 208.5px,#19103f 209.5px,#0b0924 211.5px,#060518 213.5px,#020109 223.5px,#010106 229.5px)"></div><div style="top:64px;height:1px;background:linear-gradient(90deg,#120d31 0.5px,#19103f 13.5px,#241253 37.5px,#331067 41.5px,#4c117a 45.5px,#52137c 48.5px,#3b0f70 53.5px,#2d1161 56.5px,#2a115c 60.5px,#331067 65.5px,#4e117b 69.5px,#5f187f 73.5px,#5d177f 80.5px,#390f6e 89.5px,#440f76 103.5px,#701f81 113.5px,#792282 114.5px,#8c2981 115.5px,#c53c74 117.5px,#db476a 118.5px,#e85362 119.5px,#ec5860 121.5px,#e55064 122.5px,#d6456c 123.5px,#bf3a77 124.5px,#7b2382 126.5px,#54137d 127.5px,#2d1161 128.5px,#180f3d 129.5px,#110c2f 130.5px,#0a0822 134.5px,#07061c 140.5px,#0b0924 154.5px,#0e0b2b 156.5px,#19103f 158.5px,#2c115f 160.5px,#38106c 162.5px,#311165 164.5px,#1a1042 167.5px,#160f3b 170.5px,#1c1044 174.5px,#331067 178.5px,#4e117b 184.5px,#621980 189.5px,#681c81 191.5px,#792282 192.5px,#bd3977 194.5px,#dc4869 195.5px,#ef5d5e 196.5px,#f7705c 197.5px,#f9795d 198.5px,#f97b5d 199.5px,#f8745c 200.5px,#f2645c 201.5px,#e55064 202.5px,#cf4070 203.5px,#8e2a81 205.5px,#6a1c81 206.5px,#471078 207.5px,#29115a 208.5px,#180f3d 209.5px,#0b0924 211.5px,#050416 214.5px,#020109 224.5px,#010106 229.5px)"></div><div style="top:65px;height:1px;background:linear-gradient(90deg,#120d31 0.5px,#1a1042 16.5px,#241253 37.5px,#341069 41.5px,#491078 44.5px,#52137c 48.5px,#400f74 52.5px,#2c115f 56.5px,#2c115f 62.5px,#390f6e 66.5px,#56147d 70.5px,#601880 74.5px,#59157e 82.5px,#390f6e 89.5px,#451077 103.5px,#721f81 113.5px,#7b2382 114.5px,#902a81 115.5px,#c83e73 117.5px,#de4968 118.5px,#ea5661 119.5px,#ec5860 121.5px,#e55064 122.5px,#d6456c 123.5px,#9e2f7f 125.5px,#782281 126.5px,#51127c 127.5px,#2c115f 128.5px,#160f3b 129.5px,#100b2d 130.5px,#07061c 138.5px,#0b0924 154.5px,#140e36 157.5px,#2d1161 160.5px,#38106c 162.5px,#2f1163 164.5px,#1a1042 167.5px,#160f3b 170.5px,#19103f 173.5px,#38106c 179.5px,#57157e 186.5px,#651a80 191.5px,#752181 192.5px,#912b81 193.5px,#d6456c 195.5px,#ec5860 196.5px,#f66c5c 197.5px,#f9795d 198.5px,#fa7d5e 199.5px,#f9785d 200.5px,#ea5661 202.5px,#d5446d 203.5px,#902a81 205.5px,#6a1c81 206.5px,#451077 207.5px,#271258 208.5px,#180f3d 209.5px,#0b0924 211.5px,#050416 214.5px,#020109 224.5px,#010106 229.5px)"></div><div style="top:66px;height:1px;background:linear-gradient(90deg,#130d34 0.5px,#221150 34.5px,#271258 38.5px,#451077 43.5px,#52137c 47.5px,#4a1079 50.5px,#2c115f 56.5px,#2c115f 62.5px,#3b0f70 66.5px,#57157e 70.5px,#5f187f 74.5px,#56147d 83.5px,#390f6e 90.5px,#4a1079 104.5px,#732081 113.5px,#7e2482 114.5px,#942c80 115.5px,#cd4071 117.5px,#e04c67 118.5px,#eb5760 119.5px,#ee5b5e 120.5px,#e55064 122.5px,#d5446d 123.5px,#bc3978 124.5px,#752181 126.5px,#4e117b 127.5px,#29115a 128.5px,#160f3b 129.5px,#100b2d 130.5px,#07061c 138.5px,#0b0924 153.5px,#110c2f 156.5px,#1d1147 158.5px,#2f1163 160.5px,#38106c 162.5px,#2d1161 164.5px,#19103f 167.5px,#160f3b 170.5px,#1d1147 174.5px,#38106c 179.5px,#57157e 186.5px,#641a80 191.5px,#701f81 192.5px,#892881 193.5px,#ad347c 194.5px,#d0416f 195.5px,#e85362 196.5px,#f4695c 197.5px,#f9785d 198.5px,#fa7d5e 199.5px,#f9795d 200.5px,#ed5a5f 202.5px,#d9466b 203.5px,#942c80 205.5px,#6b1d81 206.5px,#451077 207.5px,#271258 208.5px,#180f3d 209.5px,#08071e 212.5px,#02020d 218.5px,#010106 229.5px)"></div><div style="top:67px;height:1px;background:linear-gradient(90deg,#130d34 0.5px,#251255 37.5px,#400f74 42.5px,#51127c 45.5px,#51127c 48.5px,#3d0f71 52.5px,#2d1161 55.5px,#2a115c 60.5px,#38106c 65.5px,#57157e 70.5px,#5f187f 74.5px,#57157e 83.5px,#3b0f70 90.5px,#491078 103.5px,#752181 113.5px,#802582 114.5px,#b5367a 116.5px,#d0416f 117.5px,#e34e65 118.5px,#ef5d5e 120.5px,#e55064 122.5px,#d5446d 123.5px,#992d80 125.5px,#721f81 126.5px,#4a1079 127.5px,#271258 128.5px,#150e38 129.5px,#0d0a29 131.5px,#07061c 139.5px,#0b0924 153.5px,#110c2f 156.5px,#311165 160.5px,#38106c 162.5px,#2d1161 164.5px,#1d1147 166.5px,#160f3b 168.5px,#1a1042 173.5px,#38106c 179.5px,#57157e 186.5px,#621980 191.5px,#6b1d81 192.5px,#832681 193.5px,#a5317e 194.5px,#c83e73 195.5px,#e44f64 196.5px,#f2645c 197.5px,#f8765c 198.5px,#fa7d5e 199.5px,#f97b5d 200.5px,#f7725c 201.5px,#f05f5e 202.5px,#df4a68 203.5px,#c03a76 204.5px,#992d80 205.5px,#701f81 206.5px,#471078 207.5px,#271258 208.5px,#180f3d 209.5px,#08071e 212.5px,#02020d 218.5px,#010106 229.5px)"></div><div style="top:68px;height:1px;background:linear-gradient(90deg,#130d34 0.5px,#1d1147 19.5px,#271258 37.5px,#440f76 42.5px,#54137d 46.5px,#491078 50.5px,#2d1161 55.5px,#2a115c 59.5px,#341069 64.5px,#54137d 69.5px,#5f187f 73.5px,#57157e 78.5px,#59157e 83.5px,#3d0f71 90.5px,#471078 102.5px,#6a1c81 111.5px,#762181 113.5px,#832681 114.5px,#9b2e7f 115.5px,#d3436e 117.5px,#e55064 118.5px,#ee5b5e 119.5px,#f05f5e 120.5px,#e44f64 122.5px,#d3436e 123.5px,#b83779 124.5px,#6e1e81 126.5px,#471078 127.5px,#241253 128.5px,#140e36 129.5px,#0e0b2b 130.5px,#07061c 139.5px,#0b0924 153.5px,#120d31 156.5px,#331067 160.5px,#38106c 162.5px,#2c115f 164.5px,#1d1147 166.5px,#160f3b 168.5px,#1a1042 173.5px,#341069 178.5px,#57157e 186.5px,#601880 190.5px,#601880 191.5px,#681c81 192.5px,#7c2382 193.5px,#9c2e7f 194.5px,#c23b75 195.5px,#df4a68 196.5px,#f1605d 197.5px,#fa7d5e 199.5px,#fa7d5e 200.5px,#f8765c 201.5px,#f2645c 202.5px,#e34e65 203.5px,#c73d73 204.5px,#a02f7f 205.5px,#752181 206.5px,#4a1079 207.5px,#29115a 208.5px,#180f3d 209.5px,#08071e 212.5px,#02020b 220.5px,#010106 229.5px)"></div><div style="top:69px;height:1px;background:linear-gradient(90deg,#130d34 0.5px,#1d1147 18.5px,#271258 36.5px,#311165 39.5px,#4c117a 43.5px,#54137d 46.5px,#471078 50.5px,#2d1161 55.5px,#2a115c 59.5px,#341069 64.5px,#56147d 69.5px,#5f187f 73.5px,#56147d 78.5px,#59157e 83.5px,#3f0f72 90.5px,#420f75 97.5px,#51127c 105.5px,#782281 113.5px,#862781 114.5px,#bd3977 116.5px,#d8456c 117.5px,#e85362 118.5px,#ef5d5e 119.5px,#f1605d 120.5px,#e44f64 122.5px,#d2426f 123.5px,#b73779 124.5px,#6d1d81 126.5px,#440f76 127.5px,#221150 128.5px,#140e36 129.5px,#0e0b2b 130.5px,#07061c 139.5px,#0b0924 153.5px,#130d34 156.5px,#341069 160.5px,#38106c 162.5px,#2a115c 164.5px,#180f3d 167.5px,#180f3d 170.5px,#1e1149 174.5px,#341069 178.5px,#57157e 186.5px,#601880 189.5px,#651a80 192.5px,#762181 193.5px,#942c80 194.5px,#d9466b 196.5px,#ee5b5e 197.5px,#f7705c 198.5px,#f97b5d 199.5px,#fa7f5e 200.5px,#f9785d 201.5px,#f4695c 202.5px,#e85362 203.5px,#cd4071 204.5px,#a6317d 205.5px,#7b2382 206.5px,#51127c 207.5px,#2c115f 208.5px,#19103f 209.5px,#110c2f 210.5px,#06051a 213.5px,#020109 222.5px,#010106 229.5px)"></div><div style="top:70px;height:1px;background:linear-gradient(90deg,#130d34 0.5px,#1e1149 20.5px,#271258 36.5px,#390f6e 40.5px,#52137c 44.5px,#51127c 48.5px,#2f1163 54.5px,#2a115c 58.5px,#36106b 64.5px,#56147d 69.5px,#5f187f 72.5px,#54137d 79.5px,#59157e 84.5px,#400f74 90.5px,#440f76 98.5px,#52137c 105.5px,#732081 112.5px,#892881 114.5px,#c23b75 116.5px,#db476a 117.5px,#ea5661 118.5px,#f05f5e 119.5px,#f1605d 120.5px,#e44f64 122.5px,#d2426f 123.5px,#b5367a 124.5px,#6a1c81 126.5px,#400f74 127.5px,#21114e 128.5px,#130d34 129.5px,#0c0926 131.5px,#07061c 139.5px,#0b0924 153.5px,#140e36 156.5px,#2d1161 159.5px,#38106c 161.5px,#311165 163.5px,#180f3d 167.5px,#1a1042 172.5px,#1e1149 174.5px,#341069 178.5px,#57157e 186.5px,#601880 189.5px,#641a80 192.5px,#721f81 193.5px,#8e2a81 194.5px,#d3436e 196.5px,#eb5760 197.5px,#f97b5d 199.5px,#fa7f5e 200.5px,#f97b5d 201.5px,#eb5760 203.5px,#d3436e 204.5px,#ae347b 205.5px,#832681 206.5px,#57157e 207.5px,#311165 208.5px,#1a1042 209.5px,#120d31 210.5px,#06051a 213.5px,#020109 222.5px,#010106 229.5px)"></div><div style="top:71px;height:1px;background:linear-gradient(90deg,#130d34 0.5px,#1c1044 14.5px,#29115a 36.5px,#36106b 39.5px,#4f127b 43.5px,#56147d 46.5px,#440f76 50.5px,#2c115f 55.5px,#2d1161 61.5px,#3d0f71 65.5px,#5c167f 70.5px,#5c167f 74.5px,#51127c 78.5px,#5a167e 83.5px,#400f74 91.5px,#4c117a 103.5px,#752181 112.5px,#7c2382 113.5px,#8c2981 114.5px,#c53c74 116.5px,#de4968 117.5px,#eb5760 118.5px,#f1605d 119.5px,#f2625d 120.5px,#ee5b5e 121.5px,#e34e65 122.5px,#d0416f 123.5px,#8e2a81 125.5px,#671b80 126.5px,#3f0f72 127.5px,#1e1149 128.5px,#120d31 129.5px,#0a0822 133.5px,#07061c 141.5px,#0c0926 153.5px,#110c2f 155.5px,#1d1147 157.5px,#2f1163 159.5px,#38106c 161.5px,#2f1163 163.5px,#1a1042 166.5px,#180f3d 169.5px,#1e1149 174.5px,#341069 178.5px,#52137c 185.5px,#601880 189.5px,#621980 192.5px,#6d1d81 193.5px,#862781 194.5px,#aa337d 195.5px,#cd4071 196.5px,#e85362 197.5px,#f4695c 198.5px,#f9795d 199.5px,#fa7f5e 200.5px,#fa7d5e 201.5px,#f7705c 202.5px,#ee5b5e 203.5px,#d9466b 204.5px,#b73779 205.5px,#8b2981 206.5px,#5f187f 207.5px,#38106c 208.5px,#1d1147 209.5px,#120d31 210.5px,#06051a 213.5px,#020109 222.5px,#010106 229.5px)"></div><div style="top:72px;height:1px;background:linear-gradient(90deg,#140e36 0.5px,#29115a 35.5px,#38106c 39.5px,#51127c 43.5px,#56147d 46.5px,#420f75 50.5px,#2d1161 54.5px,#2d1161 61.5px,#3f0f72 65.5px,#59157e 69.5px,#5f187f 72.5px,#4f127b 78.5px,#5a167e 84.5px,#400f74 91.5px,#4e117b 103.5px,#701f81 111.5px,#802582 113.5px,#902a81 114.5px,#ca3e72 116.5px,#e04c67 117.5px,#ed5a5f 118.5px,#f2625d 119.5px,#ee5b5e 121.5px,#e34e65 122.5px,#cf4070 123.5px,#8b2981 125.5px,#641a80 126.5px,#3b0f70 127.5px,#1d1147 128.5px,#120d31 129.5px,#0c0926 131.5px,#07061c 139.5px,#0c0926 153.5px,#160f3b 156.5px,#311165 159.5px,#38106c 160.5px,#36106b 162.5px,#1a1042 166.5px,#180f3d 169.5px,#20114b 174.5px,#341069 178.5px,#52137c 185.5px,#5f187f 190.5px,#621980 192.5px,#6a1c81 193.5px,#802582 194.5px,#a3307e 195.5px,#e44f64 197.5px,#f3655c 198.5px,#f9785d 199.5px,#fa7f5e 200.5px,#fa7f5e 201.5px,#f8745c 202.5px,#f1605d 203.5px,#df4a68 204.5px,#bd3977 205.5px,#942c80 206.5px,#681c81 207.5px,#3f0f72 208.5px,#20114b 209.5px,#130d34 210.5px,#06051a 213.5px,#02020b 220.5px,#010106 229.5px)"></div><div style="top:73px;height:1px;background:linear-gradient(90deg,#140e36 0.5px,#29115a 35.5px,#3b0f70 39.5px,#56147d 44.5px,#52137c 47.5px,#311165 53.5px,#2c115f 57.5px,#341069 63.5px,#56147d 68.5px,#5f187f 72.5px,#4e117b 78.5px,#5a167e 84.5px,#420f75 92.5px,#4f127b 103.5px,#721f81 111.5px,#812581 113.5px,#942c80 114.5px,#cf4070 116.5px,#e34e65 117.5px,#ef5d5e 118.5px,#f3655c 119.5px,#ee5b5e 121.5px,#e34e65 122.5px,#cd4071 123.5px,#ae347b 124.5px,#882781 125.5px,#601880 126.5px,#38106c 127.5px,#1c1044 128.5px,#110c2f 129.5px,#0a0822 133.5px,#07061c 141.5px,#0c0926 153.5px,#120d31 155.5px,#331067 159.5px,#38106c 161.5px,#2d1161 163.5px,#19103f 166.5px,#19103f 170.5px,#20114b 174.5px,#341069 178.5px,#52137c 185.5px,#5f187f 190.5px,#601880 192.5px,#671b80 193.5px,#7b2382 194.5px,#9b2e7f 195.5px,#e04c67 197.5px,#f1605d 198.5px,#f8745c 199.5px,#fa7f5e 200.5px,#fa7f5e 201.5px,#f8765c 202.5px,#f2645c 203.5px,#e34e65 204.5px,#c53c74 205.5px,#9e2f7f 206.5px,#721f81 207.5px,#471078 208.5px,#241253 209.5px,#140e36 210.5px,#090720 212.5px,#02020b 219.5px,#010106 229.5px)"></div><div style="top:74px;height:1px;background:linear-gradient(90deg,#140e36 0.5px,#241253 27.5px,#2c115f 36.5px,#4a1079 41.5px,#57157e 45.5px,#400f74 50.5px,#2d1161 54.5px,#2d1161 60.5px,#3b0f70 64.5px,#5a167e 69.5px,#5f187f 72.5px,#4a1079 78.5px,#5c167f 84.5px,#420f75 92.5px,#51127c 103.5px,#721f81 111.5px,#842681 113.5px,#982d80 114.5px,#d2426f 116.5px,#e75263 117.5px,#f4675c 119.5px,#ee5b5e 121.5px,#e24d66 122.5px,#cc3f71 123.5px,#862781 125.5px,#5d177f 126.5px,#341069 127.5px,#1a1042 128.5px,#110c2f 129.5px,#0a0822 133.5px,#07061c 139.5px,#0b0924 152.5px,#130d34 155.5px,#341069 159.5px,#38106c 161.5px,#2c115f 163.5px,#19103f 166.5px,#1a1042 171.5px,#20114b 174.5px,#341069 178.5px,#52137c 185.5px,#5f187f 190.5px,#651a80 193.5px,#762181 194.5px,#bc3978 196.5px,#db476a 197.5px,#ef5d5e 198.5px,#f7725c 199.5px,#fa7d5e 200.5px,#fa7f5e 201.5px,#f9795d 202.5px,#f4695c 203.5px,#e85362 204.5px,#cd4071 205.5px,#a6317d 206.5px,#7b2382 207.5px,#4f127b 208.5px,#29115a 209.5px,#150e38 210.5px,#0a0822 212.5px,#03030f 217.5px,#010106 229.5px)"></div><div style="top:75px;height:1px;background:linear-gradient(90deg,#140e36 0.5px,#241253 26.5px,#2c115f 35.5px,#3f0f72 39.5px,#56147d 43.5px,#54137d 46.5px,#3f0f72 50.5px,#2d1161 54.5px,#2f1163 61.5px,#51127c 67.5px,#5f187f 70.5px,#5c167f 73.5px,#491078 78.5px,#5c167f 84.5px,#440f76 92.5px,#54137d 104.5px,#7b2382 112.5px,#862781 113.5px,#9b2e7f 114.5px,#d5446d 116.5px,#e85362 117.5px,#f2625d 118.5px,#f3655c 120.5px,#ee5b5e 121.5px,#e24d66 122.5px,#ca3e72 123.5px,#832681 125.5px,#59157e 126.5px,#311165 127.5px,#19103f 128.5px,#100b2d 129.5px,#06051a 138.5px,#0c0926 152.5px,#100b2d 154.5px,#1c1044 156.5px,#36106b 159.5px,#38106c 161.5px,#2a115c 163.5px,#1c1044 165.5px,#180f3d 168.5px,#21114e 174.5px,#38106c 179.5px,#56147d 186.5px,#5f187f 190.5px,#641a80 193.5px,#732081 194.5px,#902a81 195.5px,#d6456c 197.5px,#ec5860 198.5px,#f66e5c 199.5px,#f97b5d 200.5px,#fa815f 201.5px,#f97b5d 202.5px,#eb5760 204.5px,#d5446d 205.5px,#b0357b 206.5px,#862781 207.5px,#59157e 208.5px,#2f1163 209.5px,#180f3d 210.5px,#0e0b2b 211.5px,#060518 214.5px,#020109 222.5px,#010106 229.5px)"></div><div style="top:76px;height:1px;background:linear-gradient(90deg,#140e36 0.5px,#21114e 20.5px,#2c115f 35.5px,#4f127b 41.5px,#57157e 44.5px,#4a1079 48.5px,#331067 52.5px,#2c115f 57.5px,#38106c 63.5px,#59157e 68.5px,#5f187f 72.5px,#471078 78.5px,#5c167f 85.5px,#451077 92.5px,#51127c 102.5px,#752181 111.5px,#892881 113.5px,#bd3977 115.5px,#d9466b 116.5px,#ea5661 117.5px,#f2645c 118.5px,#f4695c 119.5px,#f3655c 120.5px,#e04c67 122.5px,#c83e73 123.5px,#802582 125.5px,#56147d 126.5px,#2d1161 127.5px,#180f3d 128.5px,#100b2d 129.5px,#0b0924 131.5px,#07061c 139.5px,#0c0926 152.5px,#110c2f 154.5px,#1d1147 156.5px,#2f1163 158.5px,#390f6e 160.5px,#311165 162.5px,#1c1044 165.5px,#180f3d 167.5px,#21114e 174.5px,#38106c 179.5px,#56147d 186.5px,#5f187f 190.5px,#641a80 193.5px,#701f81 194.5px,#8c2981 195.5px,#d2426f 197.5px,#ea5661 198.5px,#f56b5c 199.5px,#f9795d 200.5px,#fa7f5e 201.5px,#fa7d5e 202.5px,#ef5d5e 204.5px,#db476a 205.5px,#ba3878 206.5px,#902a81 207.5px,#621980 208.5px,#38106c 209.5px,#1a1042 210.5px,#100b2d 211.5px,#07061c 213.5px,#02020b 220.5px,#010106 229.5px)"></div><div style="top:77px;height:1px;background:linear-gradient(90deg,#140e36 0.5px,#241253 24.5px,#2d1161 35.5px,#51127c 41.5px,#57157e 45.5px,#3b0f70 50.5px,#2c115f 54.5px,#311165 61.5px,#54137d 67.5px,#601880 71.5px,#451077 78.5px,#5c167f 85.5px,#451077 93.5px,#57157e 104.5px,#762181 111.5px,#8c2981 113.5px,#c03a76 115.5px,#dc4869 116.5px,#ec5860 117.5px,#f3655c 118.5px,#f56b5c 119.5px,#ed5a5f 121.5px,#df4a68 122.5px,#c53c74 123.5px,#7b2382 125.5px,#52137c 126.5px,#2c115f 127.5px,#160f3b 128.5px,#100b2d 129.5px,#0a0822 132.5px,#07061c 139.5px,#0c0926 152.5px,#160f3b 155.5px,#311165 158.5px,#390f6e 160.5px,#2f1163 162.5px,#1a1042 165.5px,#19103f 168.5px,#21114e 174.5px,#390f6e 179.5px,#59157e 187.5px,#641a80 193.5px,#701f81 194.5px,#892881 195.5px,#cd4071 197.5px,#e75263 198.5px,#f3655c 199.5px,#fa7f5e 201.5px,#fa7d5e 202.5px,#f8745c 203.5px,#f2625d 204.5px,#e04c67 205.5px,#c23b75 206.5px,#992d80 207.5px,#6d1d81 208.5px,#400f74 209.5px,#1e1149 210.5px,#110c2f 211.5px,#07061c 213.5px,#02020b 220.5px,#010106 229.5px)"></div><div style="top:78px;height:1px;background:linear-gradient(90deg,#140e36 0.5px,#1c1044 9.5px,#2c115f 33.5px,#390f6e 37.5px,#57157e 42.5px,#57157e 45.5px,#390f6e 50.5px,#2c115f 54.5px,#2f1163 60.5px,#491078 65.5px,#601880 70.5px,#56147d 74.5px,#440f76 78.5px,#5d177f 85.5px,#471078 94.5px,#59157e 104.5px,#782281 111.5px,#902a81 113.5px,#a6317d 114.5px,#df4a68 116.5px,#ee5b5e 117.5px,#f4675c 118.5px,#f56b5c 119.5px,#f3655c 120.5px,#ec5860 121.5px,#de4968 122.5px,#c43c75 123.5px,#782281 125.5px,#4f127b 126.5px,#29115a 127.5px,#150e38 128.5px,#0e0b2b 129.5px,#06051a 138.5px,#0c0926 152.5px,#120d31 154.5px,#331067 158.5px,#390f6e 160.5px,#2f1163 162.5px,#1e1149 164.5px,#180f3d 167.5px,#221150 174.5px,#3d0f71 180.5px,#5f187f 189.5px,#641a80 193.5px,#701f81 194.5px,#882781 195.5px,#ca3e72 197.5px,#e34e65 198.5px,#f2625d 199.5px,#f8745c 200.5px,#fa7d5e 201.5px,#fa7f5e 202.5px,#f9785d 203.5px,#f3655c 204.5px,#e55064 205.5px,#ca3e72 206.5px,#a3307e 207.5px,#762181 208.5px,#4a1079 209.5px,#221150 210.5px,#120d31 211.5px,#07061c 213.5px,#02020b 220.5px,#010106 229.5px)"></div><div style="top:79px;height:1px;background:linear-gradient(90deg,#150e38 0.5px,#2d1161 34.5px,#4f127b 40.5px,#59157e 44.5px,#451077 48.5px,#2f1163 52.5px,#2c115f 56.5px,#38106c 62.5px,#57157e 67.5px,#601880 70.5px,#54137d 74.5px,#420f75 78.5px,#5d177f 85.5px,#51127c 90.5px,#491078 95.5px,#59157e 104.5px,#792282 111.5px,#932b80 113.5px,#c83e73 115.5px,#e24d66 116.5px,#ef5d5e 117.5px,#f4695c 118.5px,#f66c5c 119.5px,#ec5860 121.5px,#dc4869 122.5px,#c03a76 123.5px,#752181 125.5px,#4c117a 126.5px,#251255 127.5px,#140e36 128.5px,#0c0926 130.5px,#06051a 138.5px,#0c0926 151.5px,#130d34 154.5px,#341069 158.5px,#390f6e 160.5px,#2d1161 162.5px,#1e1149 164.5px,#19103f 166.5px,#20114b 173.5px,#3d0f71 180.5px,#5f187f 189.5px,#651a80 193.5px,#721f81 194.5px,#882781 195.5px,#c53c74 197.5px,#df4a68 198.5px,#ef5d5e 199.5px,#f7705c 200.5px,#f97b5d 201.5px,#fa7f5e 202.5px,#f9795d 203.5px,#f56b5c 204.5px,#ea5661 205.5px,#d2426f 206.5px,#ad347c 207.5px,#812581 208.5px,#54137d 209.5px,#29115a 210.5px,#140e36 211.5px,#0b0924 212.5px,#02020b 218.5px,#010106 229.5px)"></div><div style="top:80px;height:1px;background:linear-gradient(90deg,#150e38 0.5px,#2f1163 34.5px,#51127c 40.5px,#5a167e 43.5px,#4a1079 47.5px,#2f1163 52.5px,#2c115f 56.5px,#38106c 62.5px,#59157e 67.5px,#5f187f 71.5px,#400f74 78.5px,#56147d 83.5px,#5d177f 86.5px,#4a1079 94.5px,#5a167e 104.5px,#7b2382 111.5px,#962c80 113.5px,#cd4071 115.5px,#e44f64 116.5px,#f1605d 117.5px,#f56b5c 118.5px,#f66c5c 119.5px,#f3655c 120.5px,#eb5760 121.5px,#db476a 122.5px,#bf3a77 123.5px,#721f81 125.5px,#491078 126.5px,#241253 127.5px,#130d34 128.5px,#0c0926 130.5px,#06051a 139.5px,#0d0a29 152.5px,#140e36 154.5px,#36106b 158.5px,#390f6e 160.5px,#2c115f 162.5px,#1d1147 164.5px,#19103f 167.5px,#221150 174.5px,#390f6e 179.5px,#59157e 187.5px,#671b80 193.5px,#732081 194.5px,#892881 195.5px,#c23b75 197.5px,#db476a 198.5px,#ec5860 199.5px,#f66c5c 200.5px,#f9795d 201.5px,#fa7f5e 202.5px,#f97b5d 203.5px,#f66e5c 204.5px,#ed5a5f 205.5px,#d8456c 206.5px,#b5367a 207.5px,#8b2981 208.5px,#5d177f 209.5px,#311165 210.5px,#160f3b 211.5px,#0c0926 212.5px,#030312 216.5px,#020109 222.5px,#010106 229.5px)"></div><div style="top:81px;height:1px;background:linear-gradient(90deg,#150e38 0.5px,#29115a 28.5px,#341069 35.5px,#54137d 40.5px,#5a167e 43.5px,#4a1079 47.5px,#311165 51.5px,#2d1161 56.5px,#341069 61.5px,#54137d 66.5px,#601880 70.5px,#52137c 74.5px,#420f75 77.5px,#440f76 80.5px,#5c167f 85.5px,#59157e 89.5px,#4c117a 94.5px,#5c167f 104.5px,#7c2382 111.5px,#992d80 113.5px,#d0416f 115.5px,#e75263 116.5px,#f66c5c 118.5px,#f66c5c 119.5px,#f3655c 120.5px,#eb5760 121.5px,#d9466b 122.5px,#982d80 124.5px,#6e1e81 125.5px,#440f76 126.5px,#21114e 127.5px,#130d34 128.5px,#0b0924 130.5px,#06051a 139.5px,#0d0a29 152.5px,#150e38 154.5px,#2f1163 157.5px,#38106c 158.5px,#390f6e 160.5px,#1d1147 164.5px,#19103f 165.5px,#1e1149 171.5px,#271258 175.5px,#3d0f71 180.5px,#5f187f 189.5px,#621980 192.5px,#681c81 193.5px,#762181 194.5px,#a6317d 196.5px,#d8456c 198.5px,#ea5661 199.5px,#f8765c 201.5px,#fa7d5e 202.5px,#fa7d5e 203.5px,#f7725c 204.5px,#f05f5e 205.5px,#df4a68 206.5px,#bf3a77 207.5px,#942c80 208.5px,#681c81 209.5px,#390f6e 210.5px,#1a1042 211.5px,#0d0a29 212.5px,#06051a 214.5px,#02020b 218.5px,#010106 229.5px)"></div><div style="top:82px;height:1px;background:linear-gradient(90deg,#150e38 0.5px,#29115a 27.5px,#331067 34.5px,#51127c 39.5px,#5a167e 43.5px,#491078 47.5px,#311165 51.5px,#2d1161 57.5px,#3b0f70 62.5px,#5a167e 67.5px,#601880 70.5px,#51127c 74.5px,#3f0f72 78.5px,#471078 81.5px,#5d177f 86.5px,#57157e 90.5px,#4c117a 95.5px,#601880 105.5px,#7e2482 111.5px,#9c2e7f 113.5px,#d3436e 115.5px,#e95462 116.5px,#f3655c 117.5px,#f66e5c 118.5px,#f66e5c 119.5px,#ea5661 121.5px,#d8456c 122.5px,#ba3878 123.5px,#942c80 124.5px,#6a1c81 125.5px,#400f74 126.5px,#20114b 127.5px,#120d31 128.5px,#0b0924 130.5px,#06051a 139.5px,#0c0926 151.5px,#110c2f 153.5px,#311165 157.5px,#3b0f70 159.5px,#331067 161.5px,#1c1044 164.5px,#19103f 167.5px,#241253 174.5px,#3d0f71 180.5px,#5c167f 188.5px,#641a80 192.5px,#6a1c81 193.5px,#902a81 195.5px,#d3436e 198.5px,#f2625d 200.5px,#f8745c 201.5px,#fa7d5e 202.5px,#fa7d5e 203.5px,#f8765c 204.5px,#f2645c 205.5px,#e44f64 206.5px,#c73d73 207.5px,#9e2f7f 208.5px,#721f81 209.5px,#440f76 210.5px,#1e1149 211.5px,#0e0b2b 212.5px,#06051a 214.5px,#02020b 218.5px,#010106 229.5px)"></div><div style="top:83px;height:1px;background:linear-gradient(90deg,#150e38 0.5px,#1d1147 9.5px,#2f1163 32.5px,#3f0f72 36.5px,#5a167e 41.5px,#54137d 45.5px,#311165 51.5px,#2d1161 56.5px,#38106c 61.5px,#57157e 66.5px,#601880 70.5px,#3f0f72 78.5px,#4c117a 82.5px,#5d177f 86.5px,#5c167f 89.5px,#4e117b 95.5px,#5d177f 104.5px,#802582 111.5px,#a02f7f 113.5px,#d8456c 115.5px,#eb5760 116.5px,#f4675c 117.5px,#f7705c 118.5px,#f66e5c 119.5px,#f3655c 120.5px,#e95462 121.5px,#d6456c 122.5px,#912b81 124.5px,#671b80 125.5px,#3d0f71 126.5px,#1d1147 127.5px,#110c2f 128.5px,#0a0822 131.5px,#06051a 139.5px,#0b0924 150.5px,#120d31 153.5px,#331067 157.5px,#3b0f70 159.5px,#311165 161.5px,#20114b 163.5px,#19103f 165.5px,#20114b 172.5px,#420f75 181.5px,#5f187f 190.5px,#6d1d81 193.5px,#932b80 195.5px,#d0416f 198.5px,#ef5d5e 200.5px,#f7705c 201.5px,#f97b5d 202.5px,#fa7f5e 203.5px,#f9785d 204.5px,#f4695c 205.5px,#e85362 206.5px,#cf4070 207.5px,#a8327d 208.5px,#7c2382 209.5px,#4e117b 210.5px,#241253 211.5px,#110c2f 212.5px,#090720 213.5px,#02020b 218.5px,#010106 229.5px)"></div><div style="top:84px;height:1px;background:linear-gradient(90deg,#150e38 0.5px,#1e1149 11.5px,#2f1163 32.5px,#491078 37.5px,#5a167e 41.5px,#57157e 44.5px,#38106c 49.5px,#2d1161 52.5px,#311165 59.5px,#440f76 63.5px,#5d177f 67.5px,#5d177f 71.5px,#3d0f71 78.5px,#4a1079 82.5px,#5d177f 86.5px,#5c167f 90.5px,#4f127b 95.5px,#5f187f 104.5px,#812581 111.5px,#a3307e 113.5px,#db476a 115.5px,#ed5a5f 116.5px,#f4695c 117.5px,#f7705c 118.5px,#f66e5c 119.5px,#e95462 121.5px,#d3436e 122.5px,#b5367a 123.5px,#8e2a81 124.5px,#641a80 125.5px,#390f6e 126.5px,#1c1044 127.5px,#110c2f 128.5px,#0b0924 130.5px,#06051a 139.5px,#0c0926 150.5px,#130d34 153.5px,#341069 157.5px,#3b0f70 159.5px,#2f1163 161.5px,#1e1149 163.5px,#19103f 165.5px,#1e1149 171.5px,#3d0f71 180.5px,#5c167f 188.5px,#671b80 192.5px,#701f81 193.5px,#ab337c 196.5px,#de4968 199.5px,#f56b5c 201.5px,#f9795d 202.5px,#fa7f5e 203.5px,#f97b5d 204.5px,#ec5860 206.5px,#d6456c 207.5px,#b2357b 208.5px,#862781 209.5px,#59157e 210.5px,#2c115f 211.5px,#130d34 212.5px,#0a0822 213.5px,#02020d 217.5px,#010106 229.5px)"></div><div style="top:85px;height:1px;background:linear-gradient(90deg,#160f3b 0.5px,#311165 32.5px,#4a1079 37.5px,#5c167f 41.5px,#57157e 44.5px,#331067 50.5px,#2d1161 54.5px,#341069 60.5px,#5a167e 66.5px,#601880 70.5px,#3f0f72 77.5px,#3f0f72 80.5px,#5f187f 87.5px,#57157e 92.5px,#51127c 96.5px,#601880 104.5px,#7b2382 110.5px,#832681 111.5px,#a8327d 113.5px,#de4968 115.5px,#ee5b5e 116.5px,#f66c5c 117.5px,#f7725c 118.5px,#f7705c 119.5px,#e85362 121.5px,#d2426f 122.5px,#b2357b 123.5px,#892881 124.5px,#601880 125.5px,#36106b 126.5px,#1a1042 127.5px,#100b2d 128.5px,#090720 132.5px,#06051a 139.5px,#0c0926 150.5px,#100b2d 152.5px,#1a1042 154.5px,#2d1161 156.5px,#3b0f70 158.5px,#36106b 160.5px,#1a1042 164.5px,#1a1042 167.5px,#251255 174.5px,#420f75 181.5px,#681c81 192.5px,#732081 193.5px,#ad347c 196.5px,#d8456c 199.5px,#f4675c 201.5px,#f8765c 202.5px,#fa7d5e 203.5px,#f97b5d 204.5px,#f7705c 205.5px,#ef5d5e 206.5px,#dc4869 207.5px,#ba3878 208.5px,#902a81 209.5px,#621980 210.5px,#341069 211.5px,#150e38 212.5px,#0a0822 213.5px,#02020b 218.5px,#010106 229.5px)"></div><div style="top:86px;height:1px;background:linear-gradient(90deg,#160f3b 0.5px,#2f1163 31.5px,#451077 36.5px,#5d177f 41.5px,#51127c 45.5px,#311165 50.5px,#2d1161 55.5px,#36106b 60.5px,#5a167e 66.5px,#601880 70.5px,#3f0f72 77.5px,#420f75 81.5px,#5f187f 87.5px,#5c167f 91.5px,#52137c 97.5px,#651a80 105.5px,#7c2382 110.5px,#942c80 112.5px,#c73d73 114.5px,#e24d66 115.5px,#f05f5e 116.5px,#f66e5c 117.5px,#f8745c 118.5px,#f7705c 119.5px,#f2645c 120.5px,#e75263 121.5px,#d0416f 122.5px,#862781 124.5px,#5c167f 125.5px,#331067 126.5px,#19103f 127.5px,#100b2d 128.5px,#090720 132.5px,#06051a 139.5px,#0c0926 150.5px,#110c2f 152.5px,#1c1044 154.5px,#2f1163 156.5px,#3b0f70 158.5px,#341069 160.5px,#1d1147 163.5px,#19103f 166.5px,#251255 174.5px,#420f75 181.5px,#621980 191.5px,#782281 193.5px,#b0357b 196.5px,#d2426f 199.5px,#f1605d 201.5px,#f7725c 202.5px,#f97b5d 203.5px,#fa7d5e 204.5px,#f8745c 205.5px,#f2625d 206.5px,#e04c67 207.5px,#c23b75 208.5px,#992d80 209.5px,#6b1d81 210.5px,#3d0f71 211.5px,#19103f 212.5px,#0b0924 213.5px,#02020d 217.5px,#010106 229.5px)"></div><div style="top:87px;height:1px;background:linear-gradient(90deg,#160f3b 0.5px,#311165 31.5px,#4f127b 37.5px,#5d177f 41.5px,#56147d 44.5px,#341069 49.5px,#2d1161 54.5px,#341069 59.5px,#51127c 64.5px,#621980 68.5px,#5c167f 71.5px,#3d0f71 77.5px,#451077 82.5px,#5f187f 87.5px,#5d177f 91.5px,#54137d 97.5px,#641a80 104.5px,#7e2482 110.5px,#982d80 112.5px,#cc3f71 114.5px,#e44f64 115.5px,#f2625d 116.5px,#f7705c 117.5px,#f8745c 118.5px,#f7705c 119.5px,#e55064 121.5px,#cf4070 122.5px,#ab337c 123.5px,#832681 124.5px,#59157e 125.5px,#2f1163 126.5px,#180f3d 127.5px,#0e0b2b 128.5px,#090720 132.5px,#06051a 139.5px,#0c0926 150.5px,#150e38 153.5px,#311165 156.5px,#3b0f70 158.5px,#341069 160.5px,#1d1147 163.5px,#19103f 166.5px,#271258 174.5px,#420f75 181.5px,#641a80 191.5px,#7b2382 193.5px,#a3307e 195.5px,#bc3978 197.5px,#cd4071 199.5px,#de4968 200.5px,#ee5b5e 201.5px,#f66e5c 202.5px,#f9795d 203.5px,#fa7d5e 204.5px,#f8765c 205.5px,#f3655c 206.5px,#e55064 207.5px,#ca3e72 208.5px,#a3307e 209.5px,#762181 210.5px,#471078 211.5px,#1e1149 212.5px,#0d0a29 213.5px,#07061c 214.5px,#02020b 218.5px,#010106 229.5px)"></div><div style="top:88px;height:1px;background:linear-gradient(90deg,#160f3b 0.5px,#1e1149 9.5px,#2f1163 30.5px,#4a1079 36.5px,#5d177f 40.5px,#54137d 44.5px,#341069 49.5px,#2d1161 54.5px,#38106c 60.5px,#59157e 65.5px,#621980 69.5px,#451077 75.5px,#3b0f70 79.5px,#4f127b 84.5px,#601880 88.5px,#56147d 97.5px,#641a80 104.5px,#802582 110.5px,#892881 111.5px,#b3367a 113.5px,#e75263 115.5px,#f3655c 116.5px,#f7725c 117.5px,#f8765c 118.5px,#f7705c 119.5px,#f2625d 120.5px,#e44f64 121.5px,#cc3f71 122.5px,#a8327d 123.5px,#802582 124.5px,#56147d 125.5px,#2c115f 126.5px,#150e38 127.5px,#0e0b2b 128.5px,#0a0822 130.5px,#06051a 139.5px,#0c0926 150.5px,#160f3b 153.5px,#331067 156.5px,#3b0f70 158.5px,#331067 160.5px,#1c1044 163.5px,#19103f 165.5px,#271258 174.5px,#420f75 181.5px,#651a80 191.5px,#6e1e81 192.5px,#a8327d 195.5px,#bc3978 197.5px,#c73d73 199.5px,#d8456c 200.5px,#ea5661 201.5px,#f9785d 203.5px,#f97b5d 204.5px,#f9785d 205.5px,#f4695c 206.5px,#e95462 207.5px,#d0416f 208.5px,#ab337c 209.5px,#802582 210.5px,#51127c 211.5px,#241253 212.5px,#100b2d 213.5px,#08071e 214.5px,#02020b 218.5px,#010106 229.5px)"></div><div style="top:89px;height:1px;background:linear-gradient(90deg,#160f3b 0.5px,#21114e 12.5px,#331067 31.5px,#59157e 38.5px,#5f187f 41.5px,#4c117a 45.5px,#331067 49.5px,#2d1161 54.5px,#390f6e 60.5px,#5d177f 66.5px,#621980 69.5px,#3d0f71 77.5px,#400f74 81.5px,#601880 88.5px,#5c167f 93.5px,#57157e 98.5px,#6d1d81 106.5px,#812581 110.5px,#8b2981 111.5px,#b73779 113.5px,#d3436e 114.5px,#e95462 115.5px,#f8745c 117.5px,#f8765c 118.5px,#f7705c 119.5px,#f1605d 120.5px,#e34e65 121.5px,#ca3e72 122.5px,#a5317e 123.5px,#7c2382 124.5px,#51127c 125.5px,#2a115c 126.5px,#150e38 127.5px,#0d0a29 128.5px,#06051a 136.5px,#0b0924 149.5px,#120d31 152.5px,#341069 156.5px,#3b0f70 158.5px,#311165 160.5px,#1c1044 163.5px,#19103f 165.5px,#2a115c 175.5px,#451077 182.5px,#651a80 191.5px,#842681 193.5px,#ab337c 195.5px,#bc3978 197.5px,#c03a76 199.5px,#d0416f 200.5px,#e55064 201.5px,#f2645c 202.5px,#f8745c 203.5px,#f97b5d 204.5px,#f9785d 205.5px,#f66c5c 206.5px,#ec5860 207.5px,#d6456c 208.5px,#b3367a 209.5px,#892881 210.5px,#5a167e 211.5px,#2c115f 212.5px,#120d31 213.5px,#08071e 214.5px,#02020b 218.5px,#010106 229.5px)"></div><div style="top:90px;height:1px;background:linear-gradient(90deg,#160f3b 0.5px,#1d1147 6.5px,#331067 30.5px,#491078 35.5px,#5d177f 39.5px,#5c167f 42.5px,#3d0f71 47.5px,#2f1163 50.5px,#311165 57.5px,#400f74 61.5px,#5f187f 66.5px,#5f187f 70.5px,#3d0f71 77.5px,#400f74 81.5px,#601880 88.5px,#601880 92.5px,#57157e 97.5px,#6a1c81 105.5px,#832681 110.5px,#8e2a81 111.5px,#bc3978 113.5px,#eb5760 115.5px,#f56b5c 116.5px,#f8765c 117.5px,#f9785d 118.5px,#f7705c 119.5px,#f1605d 120.5px,#e24d66 121.5px,#c73d73 122.5px,#a3307e 123.5px,#782281 124.5px,#4e117b 125.5px,#271258 126.5px,#140e36 127.5px,#0d0a29 128.5px,#06051a 136.5px,#0b0924 149.5px,#130d34 152.5px,#36106b 156.5px,#3b0f70 158.5px,#2f1163 160.5px,#1c1044 163.5px,#19103f 165.5px,#29115a 174.5px,#491078 183.5px,#601880 190.5px,#762181 192.5px,#b0357b 195.5px,#ba3878 196.5px,#ba3878 199.5px,#e04c67 201.5px,#f05f5e 202.5px,#f7705c 203.5px,#f9795d 204.5px,#f9795d 205.5px,#ef5d5e 207.5px,#dc4869 208.5px,#bc3978 209.5px,#932b80 210.5px,#651a80 211.5px,#36106b 212.5px,#150e38 213.5px,#090720 214.5px,#02020d 217.5px,#010106 229.5px)"></div><div style="top:91px;height:1px;background:linear-gradient(90deg,#160f3b 0.5px,#1d1147 5.5px,#331067 30.5px,#57157e 37.5px,#5f187f 40.5px,#57157e 43.5px,#36106b 48.5px,#2f1163 51.5px,#341069 58.5px,#491078 62.5px,#601880 66.5px,#5d177f 70.5px,#3f0f72 76.5px,#3f0f72 81.5px,#641a80 89.5px,#59157e 97.5px,#681c81 104.5px,#842681 110.5px,#902a81 111.5px,#bf3a77 113.5px,#db476a 114.5px,#ed5a5f 115.5px,#f66c5c 116.5px,#f9785d 117.5px,#f9785d 118.5px,#f7705c 119.5px,#f05f5e 120.5px,#e04c67 121.5px,#c53c74 122.5px,#a02f7f 123.5px,#752181 124.5px,#4a1079 125.5px,#241253 126.5px,#130d34 127.5px,#0c0926 128.5px,#06051a 138.5px,#0b0924 149.5px,#140e36 152.5px,#36106b 156.5px,#3b0f70 158.5px,#2f1163 160.5px,#1e1149 162.5px,#19103f 164.5px,#251255 173.5px,#451077 182.5px,#601880 190.5px,#792282 192.5px,#b3367a 195.5px,#bc3978 196.5px,#b5367a 199.5px,#c23b75 200.5px,#ec5860 202.5px,#f9785d 204.5px,#f9795d 205.5px,#f7725c 206.5px,#f1605d 207.5px,#e24d66 208.5px,#c43c75 209.5px,#9b2e7f 210.5px,#6e1e81 211.5px,#3f0f72 212.5px,#19103f 213.5px,#0a0822 214.5px,#030312 216.5px,#020109 222.5px,#010106 229.5px)"></div><div style="top:92px;height:1px;background:linear-gradient(90deg,#180f3d 0.5px,#341069 30.5px,#54137d 36.5px,#601880 40.5px,#491078 45.5px,#311165 49.5px,#311165 56.5px,#3d0f71 60.5px,#601880 66.5px,#5d177f 70.5px,#3f0f72 76.5px,#3f0f72 81.5px,#621980 89.5px,#5f187f 94.5px,#5c167f 99.5px,#752181 107.5px,#862781 110.5px,#932b80 111.5px,#c43c75 113.5px,#de4968 114.5px,#ef5d5e 115.5px,#f7705c 116.5px,#f9795d 117.5px,#f9795d 118.5px,#f05f5e 120.5px,#df4a68 121.5px,#c23b75 122.5px,#9c2e7f 123.5px,#721f81 124.5px,#471078 125.5px,#221150 126.5px,#120d31 127.5px,#0a0822 129.5px,#06051a 140.5px,#0d0a29 150.5px,#1c1044 153.5px,#2f1163 155.5px,#3b0f70 157.5px,#36106b 159.5px,#1e1149 162.5px,#19103f 164.5px,#2c115f 175.5px,#4e117b 184.5px,#621980 190.5px,#6b1d81 191.5px,#a8327d 194.5px,#b73779 195.5px,#bd3977 196.5px,#ae347b 199.5px,#ba3878 200.5px,#e95462 202.5px,#f8745c 204.5px,#f9785d 205.5px,#f7725c 206.5px,#f2645c 207.5px,#e55064 208.5px,#ca3e72 209.5px,#a5317e 210.5px,#782281 211.5px,#491078 212.5px,#1e1149 213.5px,#0c0926 214.5px,#040414 216.5px,#02020b 219.5px,#010106 229.5px)"></div><div style="top:93px;height:1px;background:linear-gradient(90deg,#180f3d 0.5px,#221150 12.5px,#331067 29.5px,#51127c 35.5px,#601880 39.5px,#54137d 43.5px,#341069 48.5px,#2f1163 52.5px,#36106b 58.5px,#59157e 64.5px,#641a80 67.5px,#57157e 71.5px,#3f0f72 76.5px,#3f0f72 81.5px,#651a80 90.5px,#5d177f 99.5px,#762181 107.5px,#882781 110.5px,#942c80 111.5px,#c73d73 113.5px,#e04c67 114.5px,#f1605d 115.5px,#f7725c 116.5px,#f97b5d 117.5px,#f9795d 118.5px,#ef5d5e 120.5px,#de4968 121.5px,#992d80 123.5px,#6d1d81 124.5px,#420f75 125.5px,#20114b 126.5px,#110c2f 127.5px,#0b0924 128.5px,#06051a 139.5px,#0d0a29 150.5px,#150e38 152.5px,#311165 155.5px,#390f6e 156.5px,#341069 159.5px,#1d1147 162.5px,#19103f 164.5px,#2c115f 175.5px,#451077 182.5px,#641a80 190.5px,#6e1e81 191.5px,#ad347c 194.5px,#ba3878 195.5px,#bf3a77 196.5px,#b2357b 198.5px,#aa337d 199.5px,#b2357b 200.5px,#e44f64 202.5px,#f2625d 203.5px,#f7725c 204.5px,#f9785d 205.5px,#f8745c 206.5px,#e95462 208.5px,#d2426f 209.5px,#ad347c 210.5px,#812581 211.5px,#54137d 212.5px,#251255 213.5px,#0e0b2b 214.5px,#06051a 215.5px,#02020b 218.5px,#010106 229.5px)"></div><div style="top:94px;height:1px;background:linear-gradient(90deg,#180f3d 0.5px,#221150 12.5px,#36106b 30.5px,#59157e 36.5px,#601880 39.5px,#54137d 43.5px,#331067 48.5px,#2f1163 54.5px,#3b0f70 59.5px,#5f187f 65.5px,#621980 68.5px,#3b0f70 77.5px,#451077 83.5px,#651a80 90.5px,#5f187f 99.5px,#6e1e81 105.5px,#812581 109.5px,#982d80 111.5px,#cc3f71 113.5px,#e44f64 114.5px,#f2645c 115.5px,#f8745c 116.5px,#f97b5d 117.5px,#f9795d 118.5px,#f66e5c 119.5px,#ee5b5e 120.5px,#dc4869 121.5px,#bd3977 122.5px,#942c80 123.5px,#6a1c81 124.5px,#3f0f72 125.5px,#1e1149 126.5px,#100b2d 127.5px,#0a0822 129.5px,#060518 138.5px,#0c0926 149.5px,#160f3b 152.5px,#331067 155.5px,#3b0f70 157.5px,#331067 159.5px,#1d1147 162.5px,#19103f 164.5px,#2a115c 174.5px,#491078 183.5px,#5d177f 189.5px,#721f81 191.5px,#b0357b 194.5px,#bd3977 195.5px,#c03a76 196.5px,#bc3978 197.5px,#a5317e 199.5px,#aa337d 200.5px,#df4a68 202.5px,#ef5d5e 203.5px,#f66e5c 204.5px,#f8765c 205.5px,#f8765c 206.5px,#f56b5c 207.5px,#ec5860 208.5px,#d6456c 209.5px,#b5367a 210.5px,#8b2981 211.5px,#5d177f 212.5px,#2d1161 213.5px,#120d31 214.5px,#07061c 215.5px,#02020b 218.5px,#010106 229.5px)"></div><div style="top:95px;height:1px;background:linear-gradient(90deg,#180f3d 0.5px,#1e1149 6.5px,#341069 29.5px,#5a167e 36.5px,#601880 40.5px,#4a1079 44.5px,#331067 48.5px,#311165 54.5px,#3b0f70 59.5px,#5c167f 64.5px,#621980 68.5px,#3d0f71 76.5px,#420f75 82.5px,#671b80 91.5px,#601880 99.5px,#701f81 105.5px,#832681 109.5px,#8b2981 110.5px,#9b2e7f 111.5px,#cf4070 113.5px,#e75263 114.5px,#f4675c 115.5px,#f8765c 116.5px,#fa7d5e 117.5px,#f9795d 118.5px,#f66e5c 119.5px,#ed5a5f 120.5px,#db476a 121.5px,#ba3878 122.5px,#912b81 123.5px,#671b80 124.5px,#3b0f70 125.5px,#1c1044 126.5px,#100b2d 127.5px,#0a0822 129.5px,#060518 138.5px,#0c0926 149.5px,#120d31 151.5px,#341069 155.5px,#3d0f71 157.5px,#331067 159.5px,#1c1044 162.5px,#1c1044 166.5px,#36106b 178.5px,#54137d 186.5px,#5d177f 189.5px,#752181 191.5px,#b3367a 194.5px,#bf3a77 195.5px,#c03a76 196.5px,#ad347c 198.5px,#a02f7f 199.5px,#a3307e 200.5px,#d9466b 202.5px,#ec5860 203.5px,#f56b5c 204.5px,#f8745c 205.5px,#f8765c 206.5px,#f66c5c 207.5px,#ee5b5e 208.5px,#dc4869 209.5px,#bd3977 210.5px,#942c80 211.5px,#671b80 212.5px,#36106b 213.5px,#140e36 214.5px,#08071e 215.5px,#02020d 217.5px,#010106 229.5px)"></div><div style="top:96px;height:1px;background:linear-gradient(90deg,#180f3d 0.5px,#1e1149 5.5px,#36106b 29.5px,#57157e 35.5px,#621980 38.5px,#5d177f 41.5px,#3b0f70 46.5px,#2f1163 50.5px,#341069 57.5px,#57157e 63.5px,#641a80 67.5px,#54137d 71.5px,#3d0f71 76.5px,#420f75 82.5px,#57157e 87.5px,#671b80 91.5px,#621980 100.5px,#7e2482 108.5px,#8c2981 110.5px,#b73779 112.5px,#d3436e 113.5px,#e95462 114.5px,#f9795d 116.5px,#fa7f5e 117.5px,#f9795d 118.5px,#ed5a5f 120.5px,#d8456c 121.5px,#b73779 122.5px,#8e2a81 123.5px,#621980 124.5px,#38106c 125.5px,#1a1042 126.5px,#0e0b2b 127.5px,#0a0822 128.5px,#060518 138.5px,#0c0926 149.5px,#130d34 151.5px,#36106b 155.5px,#3b0f70 157.5px,#311165 159.5px,#1c1044 162.5px,#1c1044 166.5px,#390f6e 179.5px,#5a167e 188.5px,#671b80 190.5px,#902a81 192.5px,#b73779 194.5px,#c03a76 195.5px,#c23b75 196.5px,#ab337c 198.5px,#9c2e7f 199.5px,#9c2e7f 200.5px,#d3436e 202.5px,#e95462 203.5px,#f4675c 204.5px,#f7725c 205.5px,#f8765c 206.5px,#f66e5c 207.5px,#f05f5e 208.5px,#e04c67 209.5px,#c23b75 210.5px,#9b2e7f 211.5px,#6e1e81 212.5px,#3f0f72 213.5px,#19103f 214.5px,#090720 215.5px,#02020d 217.5px,#010106 229.5px)"></div><div style="top:97px;height:1px;background:linear-gradient(90deg,#180f3d 0.5px,#1e1149 5.5px,#341069 28.5px,#52137c 34.5px,#621980 38.5px,#5c167f 41.5px,#400f74 45.5px,#331067 48.5px,#311165 54.5px,#390f6e 58.5px,#5d177f 64.5px,#641a80 67.5px,#3d0f71 76.5px,#420f75 82.5px,#56147d 87.5px,#681c81 92.5px,#641a80 100.5px,#792282 107.5px,#8e2a81 110.5px,#a02f7f 111.5px,#d5446d 113.5px,#eb5760 114.5px,#f66c5c 115.5px,#f9795d 116.5px,#fa7f5e 117.5px,#f9795d 118.5px,#f66c5c 119.5px,#ec5860 120.5px,#d6456c 121.5px,#b5367a 122.5px,#8c2981 123.5px,#601880 124.5px,#36106b 125.5px,#19103f 126.5px,#0e0b2b 127.5px,#0a0822 128.5px,#060518 138.5px,#0c0926 149.5px,#1a1042 152.5px,#2d1161 154.5px,#3b0f70 156.5px,#38106c 158.5px,#1c1044 162.5px,#19103f 163.5px,#2d1161 175.5px,#4e117b 184.5px,#5f187f 189.5px,#681c81 190.5px,#a8327d 193.5px,#ba3878 194.5px,#c23b75 195.5px,#c23b75 196.5px,#ba3878 197.5px,#992d80 199.5px,#982d80 200.5px,#ae347b 201.5px,#e55064 203.5px,#f7705c 205.5px,#f8745c 206.5px,#f7705c 207.5px,#f2625d 208.5px,#e34e65 209.5px,#c83e73 210.5px,#a3307e 211.5px,#762181 212.5px,#471078 213.5px,#1d1147 214.5px,#0b0924 215.5px,#02020d 217.5px,#010106 229.5px)"></div><div style="top:98px;height:1px;background:linear-gradient(90deg,#180f3d 0.5px,#20114b 6.5px,#341069 28.5px,#4e117b 33.5px,#621980 37.5px,#5c167f 41.5px,#390f6e 46.5px,#2f1163 50.5px,#36106b 57.5px,#5a167e 63.5px,#641a80 67.5px,#4c117a 72.5px,#3b0f70 77.5px,#451077 84.5px,#651a80 91.5px,#671b80 95.5px,#641a80 100.5px,#762181 106.5px,#902a81 110.5px,#a02f7f 111.5px,#d6456c 113.5px,#eb5760 114.5px,#f97b5d 116.5px,#fa7f5e 117.5px,#f97b5d 118.5px,#ec5860 120.5px,#d6456c 121.5px,#8b2981 123.5px,#5f187f 124.5px,#341069 125.5px,#19103f 126.5px,#0e0b2b 127.5px,#090720 130.5px,#06051a 139.5px,#0b0924 148.5px,#140e36 151.5px,#2f1163 154.5px,#3b0f70 156.5px,#36106b 158.5px,#1a1042 162.5px,#1c1044 165.5px,#311165 176.5px,#51127c 185.5px,#5f187f 189.5px,#6a1c81 190.5px,#ab337c 193.5px,#bc3978 194.5px,#c43c75 195.5px,#c23b75 196.5px,#b83779 197.5px,#942c80 199.5px,#912b81 200.5px,#a6317d 201.5px,#e24d66 203.5px,#f05f5e 204.5px,#f66e5c 205.5px,#f8745c 206.5px,#f7705c 207.5px,#f2645c 208.5px,#e75263 209.5px,#cf4070 210.5px,#aa337d 211.5px,#7e2482 212.5px,#51127c 213.5px,#221150 214.5px,#0d0a29 215.5px,#060518 216.5px,#02020b 218.5px,#010106 229.5px)"></div><div style="top:99px;height:1px;background:linear-gradient(90deg,#19103f 0.5px,#241253 12.5px,#38106c 29.5px,#5a167e 35.5px,#641a80 38.5px,#54137d 42.5px,#341069 47.5px,#311165 51.5px,#341069 56.5px,#471078 60.5px,#5f187f 64.5px,#621980 67.5px,#4a1079 72.5px,#3b0f70 76.5px,#451077 84.5px,#651a80 91.5px,#651a80 96.5px,#651a80 101.5px,#802582 108.5px,#902a81 110.5px,#a1307e 111.5px,#d8456c 113.5px,#ec5860 114.5px,#f66e5c 115.5px,#f97b5d 116.5px,#fa815f 117.5px,#f97b5d 118.5px,#eb5760 120.5px,#d5446d 121.5px,#b3367a 122.5px,#892881 123.5px,#5d177f 124.5px,#331067 125.5px,#19103f 126.5px,#0e0b2b 127.5px,#090720 130.5px,#06051a 139.5px,#0b0924 148.5px,#150e38 151.5px,#311165 154.5px,#3d0f71 156.5px,#341069 158.5px,#1a1042 162.5px,#1a1042 165.5px,#341069 177.5px,#51127c 185.5px,#601880 189.5px,#6b1d81 190.5px,#ae347b 193.5px,#bd3977 194.5px,#c43c75 195.5px,#c23b75 196.5px,#a5317e 198.5px,#912b81 199.5px,#8b2981 200.5px,#a02f7f 201.5px,#dc4869 203.5px,#ee5b5e 204.5px,#f8745c 206.5px,#f7725c 207.5px,#f4675c 208.5px,#e95462 209.5px,#d3436e 210.5px,#b2357b 211.5px,#882781 212.5px,#59157e 213.5px,#2a115c 214.5px,#100b2d 215.5px,#06051a 216.5px,#02020b 219.5px,#010106 229.5px)"></div><div style="top:100px;height:1px;background:linear-gradient(90deg,#19103f 0.5px,#271258 15.5px,#36106b 28.5px,#4a1079 32.5px,#621980 37.5px,#5f187f 40.5px,#3f0f72 45.5px,#311165 49.5px,#341069 56.5px,#51127c 61.5px,#641a80 65.5px,#5a167e 69.5px,#3f0f72 74.5px,#3f0f72 81.5px,#4c117a 86.5px,#671b80 92.5px,#651a80 101.5px,#862781 109.5px,#902a81 110.5px,#bd3977 112.5px,#d9466b 113.5px,#ed5a5f 114.5px,#f7705c 115.5px,#fa7d5e 116.5px,#fa815f 117.5px,#f97b5d 118.5px,#eb5760 120.5px,#d5446d 121.5px,#b2357b 122.5px,#882781 123.5px,#5c167f 124.5px,#331067 125.5px,#19103f 126.5px,#0e0b2b 127.5px,#0a0822 129.5px,#060518 138.5px,#0b0924 148.5px,#110c2f 150.5px,#331067 154.5px,#3d0f71 156.5px,#341069 158.5px,#1d1147 161.5px,#19103f 163.5px,#2c115f 174.5px,#4a1079 183.5px,#601880 189.5px,#6d1d81 190.5px,#b2357b 193.5px,#c53c74 195.5px,#c23b75 196.5px,#a1307e 198.5px,#8e2a81 199.5px,#862781 200.5px,#982d80 201.5px,#d8456c 203.5px,#eb5760 204.5px,#f7725c 206.5px,#f7725c 207.5px,#f4695c 208.5px,#ec5860 209.5px,#d8456c 210.5px,#b83779 211.5px,#902a81 212.5px,#621980 213.5px,#331067 214.5px,#130d34 215.5px,#07061c 216.5px,#02020d 218.5px,#010106 229.5px)"></div><div style="top:101px;height:1px;background:linear-gradient(90deg,#19103f 0.5px,#221150 9.5px,#36106b 28.5px,#57157e 34.5px,#641a80 38.5px,#4c117a 43.5px,#341069 47.5px,#311165 53.5px,#3d0f71 58.5px,#5d177f 63.5px,#641a80 66.5px,#420f75 73.5px,#390f6e 77.5px,#4a1079 86.5px,#671b80 92.5px,#651a80 101.5px,#862781 109.5px,#a3307e 111.5px,#db476a 113.5px,#ee5b5e 114.5px,#f7705c 115.5px,#fa7d5e 116.5px,#fa815f 117.5px,#f97b5d 118.5px,#eb5760 120.5px,#d3436e 121.5px,#862781 123.5px,#5a167e 124.5px,#311165 125.5px,#19103f 126.5px,#0e0b2b 127.5px,#0a0822 129.5px,#060518 138.5px,#0b0924 148.5px,#110c2f 150.5px,#20114b 152.5px,#331067 154.5px,#3b0f70 156.5px,#331067 158.5px,#1c1044 161.5px,#19103f 163.5px,#29115a 173.5px,#491078 182.5px,#621980 189.5px,#701f81 190.5px,#b3367a 193.5px,#c03a76 194.5px,#c53c74 195.5px,#c03a76 196.5px,#a02f7f 198.5px,#892881 199.5px,#812581 200.5px,#912b81 201.5px,#d2426f 203.5px,#e85362 204.5px,#f3655c 205.5px,#f7705c 206.5px,#f7725c 207.5px,#f56b5c 208.5px,#ee5b5e 209.5px,#dc4869 210.5px,#bf3a77 211.5px,#962c80 212.5px,#6a1c81 213.5px,#3b0f70 214.5px,#160f3b 215.5px,#090720 216.5px,#040414 217.5px,#010108 226.5px,#010106 229.5px)"></div><div style="top:102px;height:1px;background:linear-gradient(90deg,#19103f 0.5px,#20114b 5.5px,#341069 27.5px,#451077 31.5px,#601880 36.5px,#601880 39.5px,#4a1079 43.5px,#311165 48.5px,#341069 55.5px,#451077 59.5px,#621980 64.5px,#601880 67.5px,#3d0f71 74.5px,#3d0f71 80.5px,#491078 86.5px,#681c81 93.5px,#651a80 101.5px,#812581 108.5px,#912b81 110.5px,#a5317e 111.5px,#dc4869 113.5px,#ef5d5e 114.5px,#f7725c 115.5px,#fa7f5e 116.5px,#fa815f 117.5px,#f97b5d 118.5px,#ea5661 120.5px,#d3436e 121.5px,#ae347b 122.5px,#842681 123.5px,#59157e 124.5px,#311165 125.5px,#180f3d 126.5px,#100b2d 127.5px,#090720 131.5px,#060518 138.5px,#0b0924 148.5px,#120d31 150.5px,#341069 154.5px,#3b0f70 156.5px,#311165 158.5px,#1c1044 161.5px,#19103f 164.5px,#2f1163 175.5px,#4c117a 183.5px,#621980 189.5px,#721f81 190.5px,#b73779 193.5px,#c23b75 194.5px,#c53c74 195.5px,#c03a76 196.5px,#9c2e7f 198.5px,#862781 199.5px,#7c2382 200.5px,#8b2981 201.5px,#cc3f71 203.5px,#e44f64 204.5px,#f2625d 205.5px,#f66e5c 206.5px,#f7725c 207.5px,#f66c5c 208.5px,#f05f5e 209.5px,#e04c67 210.5px,#c53c74 211.5px,#9e2f7f 212.5px,#732081 213.5px,#440f76 214.5px,#1c1044 215.5px,#0a0822 216.5px,#050416 217.5px,#020109 224.5px,#010106 229.5px)"></div><div style="top:103px;height:1px;background:linear-gradient(90deg,#19103f 0.5px,#20114b 5.5px,#38106c 28.5px,#5f187f 35.5px,#621980 38.5px,#51127c 42.5px,#38106c 46.5px,#311165 49.5px,#38106c 56.5px,#5f187f 63.5px,#621980 66.5px,#4f127b 70.5px,#3b0f70 74.5px,#3f0f72 82.5px,#51127c 88.5px,#671b80 93.5px,#681c81 102.5px,#882781 109.5px,#a5317e 111.5px,#de4968 113.5px,#f05f5e 114.5px,#f8745c 115.5px,#fa7f5e 116.5px,#fb835f 117.5px,#f97b5d 118.5px,#ea5661 120.5px,#d2426f 121.5px,#ae347b 122.5px,#832681 123.5px,#57157e 124.5px,#2f1163 125.5px,#180f3d 126.5px,#100b2d 127.5px,#090720 131.5px,#060518 138.5px,#0b0924 148.5px,#120d31 150.5px,#36106b 154.5px,#3b0f70 156.5px,#2f1163 158.5px,#1a1042 161.5px,#1a1042 165.5px,#2f1163 175.5px,#4c117a 183.5px,#5c167f 188.5px,#641a80 189.5px,#8c2981 191.5px,#b83779 193.5px,#c43c75 194.5px,#c73d73 195.5px,#b0357b 197.5px,#832681 199.5px,#782281 200.5px,#842681 201.5px,#c53c74 203.5px,#e04c67 204.5px,#ef5d5e 205.5px,#f66c5c 206.5px,#f7725c 207.5px,#f66e5c 208.5px,#f1605d 209.5px,#e44f64 210.5px,#ca3e72 211.5px,#a6317d 212.5px,#7b2382 213.5px,#4c117a 214.5px,#21114e 215.5px,#0c0926 216.5px,#060518 217.5px,#02020d 220.5px,#010106 229.5px)"></div><div style="top:104px;height:1px;background:linear-gradient(90deg,#19103f 0.5px,#21114e 6.5px,#38106c 28.5px,#5a167e 34.5px,#641a80 37.5px,#5c167f 40.5px,#3b0f70 45.5px,#311165 49.5px,#38106c 56.5px,#5c167f 62.5px,#621980 66.5px,#3b0f70 74.5px,#3f0f72 82.5px,#4c117a 87.5px,#681c81 94.5px,#681c81 102.5px,#882781 109.5px,#932b80 110.5px,#a6317d 111.5px,#df4a68 113.5px,#f1605d 114.5px,#fa815f 116.5px,#fb835f 117.5px,#f97b5d 118.5px,#ea5661 120.5px,#d0416f 121.5px,#ad347c 122.5px,#832681 123.5px,#57157e 124.5px,#2d1161 125.5px,#180f3d 126.5px,#100b2d 127.5px,#0a0822 130.5px,#060518 138.5px,#0b0924 148.5px,#130d34 150.5px,#2d1161 153.5px,#3b0f70 155.5px,#36106b 157.5px,#1a1042 161.5px,#1a1042 165.5px,#2f1163 175.5px,#4a1079 182.5px,#5c167f 188.5px,#651a80 189.5px,#762181 190.5px,#bc3978 193.5px,#c53c74 194.5px,#c73d73 195.5px,#bf3a77 196.5px,#982d80 198.5px,#802582 199.5px,#732081 200.5px,#7e2482 201.5px,#bf3a77 203.5px,#dc4869 204.5px,#ed5a5f 205.5px,#f4695c 206.5px,#f7705c 207.5px,#f66e5c 208.5px,#f2645c 209.5px,#e75263 210.5px,#d0416f 211.5px,#ad347c 212.5px,#832681 213.5px,#56147d 214.5px,#271258 215.5px,#100b2d 216.5px,#06051a 217.5px,#020109 223.5px,#010106 229.5px)"></div><div style="top:105px;height:1px;background:linear-gradient(90deg,#19103f 0.5px,#21114e 6.5px,#36106b 27.5px,#4f127b 32.5px,#621980 36.5px,#5c167f 40.5px,#36106b 46.5px,#311165 51.5px,#3d0f71 57.5px,#601880 63.5px,#621980 66.5px,#390f6e 74.5px,#3d0f71 81.5px,#4a1079 87.5px,#681c81 94.5px,#681c81 102.5px,#892881 109.5px,#942c80 110.5px,#a8327d 111.5px,#e04c67 113.5px,#f1605d 114.5px,#f8765c 115.5px,#fa815f 116.5px,#fb835f 117.5px,#f97b5d 118.5px,#f56b5c 119.5px,#e95462 120.5px,#d0416f 121.5px,#ab337c 122.5px,#812581 123.5px,#56147d 124.5px,#2d1161 125.5px,#180f3d 126.5px,#100b2d 127.5px,#0b0924 129.5px,#060518 138.5px,#0c0926 148.5px,#140e36 150.5px,#2f1163 153.5px,#3b0f70 155.5px,#341069 157.5px,#1d1147 160.5px,#19103f 163.5px,#241253 171.5px,#471078 181.5px,#5d177f 188.5px,#671b80 189.5px,#932b80 191.5px,#bd3977 193.5px,#c73d73 194.5px,#c73d73 195.5px,#ad347c 197.5px,#7c2382 199.5px,#701f81 200.5px,#782281 201.5px,#942c80 202.5px,#d6456c 204.5px,#ea5661 205.5px,#f66e5c 207.5px,#f66e5c 208.5px,#ea5661 210.5px,#d5446d 211.5px,#b3367a 212.5px,#8b2981 213.5px,#5d177f 214.5px,#2f1163 215.5px,#120d31 216.5px,#07061c 217.5px,#030312 219.5px,#010106 229.5px)"></div><div style="top:106px;height:1px;background:linear-gradient(90deg,#19103f 0.5px,#221150 7.5px,#36106b 27.5px,#4a1079 31.5px,#621980 36.5px,#5f187f 39.5px,#400f74 44.5px,#331067 48.5px,#36106b 55.5px,#59157e 61.5px,#641a80 64.5px,#57157e 68.5px,#3b0f70 73.5px,#3b0f70 80.5px,#491078 87.5px,#681c81 94.5px,#681c81 102.5px,#892881 109.5px,#942c80 110.5px,#aa337d 111.5px,#e24d66 113.5px,#f2625d 114.5px,#f9785d 115.5px,#fb835f 116.5px,#fb835f 117.5px,#f97b5d 118.5px,#f56b5c 119.5px,#e95462 120.5px,#cf4070 121.5px,#aa337d 122.5px,#802582 123.5px,#54137d 124.5px,#2c115f 125.5px,#180f3d 126.5px,#100b2d 127.5px,#0c0926 129.5px,#060518 138.5px,#0c0926 148.5px,#150e38 150.5px,#311165 153.5px,#3b0f70 155.5px,#331067 157.5px,#19103f 161.5px,#1c1044 166.5px,#2f1163 175.5px,#4a1079 182.5px,#5d177f 188.5px,#681c81 189.5px,#ae347b 192.5px,#bf3a77 193.5px,#c73d73 194.5px,#c73d73 195.5px,#bd3977 196.5px,#792282 199.5px,#6d1d81 200.5px,#732081 201.5px,#8e2a81 202.5px,#d2426f 204.5px,#e75263 205.5px,#f2645c 206.5px,#f66e5c 207.5px,#f7705c 208.5px,#ec5860 210.5px,#d9466b 211.5px,#ba3878 212.5px,#932b80 213.5px,#671b80 214.5px,#38106c 215.5px,#150e38 216.5px,#08071e 217.5px,#03030f 220.5px,#010106 229.5px)"></div><div style="top:107px;height:1px;background:linear-gradient(90deg,#19103f 0.5px,#221150 7.5px,#36106b 27.5px,#52137c 32.5px,#641a80 36.5px,#5a167e 40.5px,#36106b 46.5px,#341069 53.5px,#451077 58.5px,#5f187f 62.5px,#621980 65.5px,#4f127b 69.5px,#390f6e 73.5px,#3b0f70 80.5px,#491078 87.5px,#671b80 94.5px,#6a1c81 102.5px,#832681 108.5px,#962c80 110.5px,#aa337d 111.5px,#e34e65 113.5px,#f2645c 114.5px,#f9785d 115.5px,#fb835f 116.5px,#fb835f 117.5px,#f97b5d 118.5px,#f4695c 119.5px,#e85362 120.5px,#cf4070 121.5px,#aa337d 122.5px,#7e2482 123.5px,#52137c 124.5px,#2c115f 125.5px,#180f3d 126.5px,#100b2d 127.5px,#060518 138.5px,#0c0926 148.5px,#150e38 150.5px,#331067 153.5px,#3b0f70 155.5px,#331067 157.5px,#1c1044 160.5px,#180f3d 162.5px,#241253 171.5px,#440f76 180.5px,#5f187f 188.5px,#6a1c81 189.5px,#b2357b 192.5px,#c23b75 193.5px,#c83e73 194.5px,#c73d73 195.5px,#bc3978 196.5px,#762181 199.5px,#6a1c81 200.5px,#6e1e81 201.5px,#882781 202.5px,#cc3f71 204.5px,#e34e65 205.5px,#f1605d 206.5px,#f66c5c 207.5px,#f66e5c 208.5px,#f4695c 209.5px,#ee5b5e 210.5px,#de4968 211.5px,#c03a76 212.5px,#9b2e7f 213.5px,#6e1e81 214.5px,#400f74 215.5px,#1a1042 216.5px,#0a0822 217.5px,#040414 219.5px,#010106 229.5px)"></div><div style="top:108px;height:1px;background:linear-gradient(90deg,#19103f 0.5px,#221150 7.5px,#38106c 27.5px,#5d177f 34.5px,#641a80 37.5px,#4c117a 42.5px,#331067 47.5px,#38106c 55.5px,#5c167f 61.5px,#621980 65.5px,#3d0f71 72.5px,#36106b 76.5px,#471078 87.5px,#671b80 94.5px,#6a1c81 102.5px,#8b2981 109.5px,#962c80 110.5px,#ab337c 111.5px,#e44f64 113.5px,#f3655c 114.5px,#f9795d 115.5px,#fb835f 116.5px,#fb8560 117.5px,#f97b5d 118.5px,#f4695c 119.5px,#e85362 120.5px,#cd4071 121.5px,#a8327d 122.5px,#7c2382 123.5px,#51127c 124.5px,#2a115c 125.5px,#180f3d 126.5px,#110c2f 127.5px,#0a0822 131.5px,#060518 138.5px,#0c0926 148.5px,#160f3b 150.5px,#341069 153.5px,#3b0f70 155.5px,#311165 157.5px,#20114b 159.5px,#180f3d 162.5px,#241253 171.5px,#491078 181.5px,#601880 188.5px,#6d1d81 189.5px,#b3367a 192.5px,#c43c75 193.5px,#ca3e72 194.5px,#c73d73 195.5px,#ba3878 196.5px,#752181 199.5px,#671b80 200.5px,#6a1c81 201.5px,#812581 202.5px,#c53c74 204.5px,#df4a68 205.5px,#ee5b5e 206.5px,#f4695c 207.5px,#f66e5c 208.5px,#f56b5c 209.5px,#ef5d5e 210.5px,#e24d66 211.5px,#c73d73 212.5px,#a1307e 213.5px,#762181 214.5px,#491078 215.5px,#1e1149 216.5px,#0c0926 217.5px,#040414 219.5px,#010106 229.5px)"></div><div style="top:109px;height:1px;background:linear-gradient(90deg,#19103f 0.5px,#21114e 5.5px,#38106c 27.5px,#5f187f 34.5px,#641a80 37.5px,#51127c 41.5px,#390f6e 45.5px,#331067 48.5px,#390f6e 55.5px,#5c167f 61.5px,#621980 65.5px,#3b0f70 72.5px,#36106b 76.5px,#4a1079 88.5px,#681c81 95.5px,#6d1d81 103.5px,#8b2981 109.5px,#982d80 110.5px,#ad347c 111.5px,#ca3e72 112.5px,#e55064 113.5px,#f4675c 114.5px,#fb8560 116.5px,#fb8560 117.5px,#f97b5d 118.5px,#f4695c 119.5px,#e85362 120.5px,#cd4071 121.5px,#a6317d 122.5px,#7b2382 123.5px,#4f127b 124.5px,#2a115c 125.5px,#180f3d 126.5px,#110c2f 127.5px,#0a0822 131.5px,#060518 138.5px,#0b0924 147.5px,#110c2f 149.5px,#2c115f 152.5px,#390f6e 154.5px,#36106b 156.5px,#1a1042 160.5px,#180f3d 163.5px,#2c115f 174.5px,#451077 180.5px,#601880 188.5px,#6e1e81 189.5px,#b73779 192.5px,#c53c74 193.5px,#ca3e72 194.5px,#c53c74 195.5px,#b83779 196.5px,#721f81 199.5px,#641a80 200.5px,#671b80 201.5px,#7b2382 202.5px,#bf3a77 204.5px,#db476a 205.5px,#ec5860 206.5px,#f4675c 207.5px,#f66e5c 208.5px,#f1605d 210.5px,#e44f64 211.5px,#cc3f71 212.5px,#aa337d 213.5px,#7e2482 214.5px,#51127c 215.5px,#251255 216.5px,#0e0b2b 217.5px,#06051a 218.5px,#020109 225.5px,#010106 229.5px)"></div><div style="top:110px;height:1px;background:linear-gradient(90deg,#1a1042 0.5px,#221150 6.5px,#38106c 27.5px,#5a167e 33.5px,#641a80 37.5px,#51127c 41.5px,#38106c 45.5px,#331067 51.5px,#390f6e 55.5px,#5d177f 61.5px,#641a80 64.5px,#51127c 68.5px,#38106c 73.5px,#390f6e 79.5px,#491078 88.5px,#681c81 95.5px,#6d1d81 103.5px,#8b2981 109.5px,#982d80 110.5px,#cc3f71 112.5px,#e75263 113.5px,#f4695c 114.5px,#f97b5d 115.5px,#fb8560 116.5px,#fb8560 117.5px,#f97b5d 118.5px,#f4695c 119.5px,#e75263 120.5px,#cc3f71 121.5px,#a5317e 122.5px,#792282 123.5px,#4f127b 124.5px,#29115a 125.5px,#180f3d 126.5px,#110c2f 127.5px,#0b0924 130.5px,#060518 138.5px,#0b0924 147.5px,#120d31 149.5px,#2d1161 152.5px,#3b0f70 154.5px,#36106b 156.5px,#1a1042 160.5px,#180f3d 163.5px,#2c115f 174.5px,#451077 180.5px,#621980 188.5px,#721f81 189.5px,#ba3878 192.5px,#c73d73 193.5px,#ca3e72 194.5px,#c53c74 195.5px,#b73779 196.5px,#6e1e81 199.5px,#621980 200.5px,#621980 201.5px,#752181 202.5px,#b83779 204.5px,#d6456c 205.5px,#e95462 206.5px,#f66c5c 208.5px,#f66c5c 209.5px,#e85362 211.5px,#d2426f 212.5px,#b0357b 213.5px,#862781 214.5px,#5a167e 215.5px,#2c115f 216.5px,#110c2f 217.5px,#08071e 218.5px,#02020b 223.5px,#010106 229.5px)"></div><div style="top:111px;height:1px;background:linear-gradient(90deg,#1a1042 0.5px,#221150 6.5px,#36106b 26.5px,#4f127b 31.5px,#641a80 35.5px,#601880 38.5px,#3d0f71 44.5px,#331067 50.5px,#3b0f70 55.5px,#5f187f 61.5px,#621980 64.5px,#4f127b 68.5px,#36106b 73.5px,#3f0f72 83.5px,#4c117a 89.5px,#6a1c81 96.5px,#6d1d81 103.5px,#842681 108.5px,#992d80 110.5px,#ae347b 111.5px,#e75263 113.5px,#f4695c 114.5px,#fa7d5e 115.5px,#fb8761 116.5px,#fb8560 117.5px,#f97b5d 118.5px,#f4695c 119.5px,#e75263 120.5px,#ca3e72 121.5px,#a5317e 122.5px,#782281 123.5px,#4e117b 124.5px,#29115a 125.5px,#180f3d 126.5px,#110c2f 127.5px,#060518 138.5px,#0b0924 147.5px,#130d34 149.5px,#2f1163 152.5px,#3b0f70 154.5px,#341069 156.5px,#19103f 160.5px,#19103f 164.5px,#2c115f 174.5px,#420f75 179.5px,#641a80 188.5px,#752181 189.5px,#a8327d 191.5px,#c83e73 193.5px,#cc3f71 194.5px,#c53c74 195.5px,#b5367a 196.5px,#6b1d81 199.5px,#601880 200.5px,#601880 201.5px,#701f81 202.5px,#b0357b 204.5px,#d0416f 205.5px,#e75263 206.5px,#f2625d 207.5px,#f66c5c 209.5px,#ea5661 211.5px,#d6456c 212.5px,#b73779 213.5px,#8e2a81 214.5px,#621980 215.5px,#341069 216.5px,#140e36 217.5px,#090720 218.5px,#040414 220.5px,#010108 227.5px,#010106 229.5px)"></div><div style="top:112px;height:1px;background:linear-gradient(90deg,#1a1042 0.5px,#241253 7.5px,#390f6e 27.5px,#5d177f 33.5px,#641a80 36.5px,#56147d 40.5px,#38106c 45.5px,#331067 50.5px,#3b0f70 55.5px,#5f187f 61.5px,#621980 64.5px,#400f74 70.5px,#341069 74.5px,#451077 87.5px,#681c81 96.5px,#6e1e81 103.5px,#842681 108.5px,#992d80 110.5px,#b0357b 111.5px,#e85362 113.5px,#f56b5c 114.5px,#fa7d5e 115.5px,#fb8761 116.5px,#fb8560 117.5px,#f97b5d 118.5px,#f4675c 119.5px,#e55064 120.5px,#ca3e72 121.5px,#a3307e 122.5px,#782281 123.5px,#4c117a 124.5px,#29115a 125.5px,#180f3d 126.5px,#110c2f 127.5px,#060518 138.5px,#0b0924 147.5px,#140e36 149.5px,#2f1163 152.5px,#3b0f70 154.5px,#331067 156.5px,#1c1044 159.5px,#180f3d 162.5px,#241253 171.5px,#390f6e 177.5px,#54137d 184.5px,#651a80 188.5px,#912b81 190.5px,#bf3a77 192.5px,#ca3e72 193.5px,#cc3f71 194.5px,#c43c75 195.5px,#b3367a 196.5px,#6a1c81 199.5px,#5d177f 200.5px,#5d177f 201.5px,#6b1d81 202.5px,#862781 203.5px,#ca3e72 205.5px,#e34e65 206.5px,#f05f5e 207.5px,#f66c5c 209.5px,#ec5860 211.5px,#db476a 212.5px,#bd3977 213.5px,#962c80 214.5px,#6a1c81 215.5px,#3d0f71 216.5px,#180f3d 217.5px,#0a0822 218.5px,#030312 221.5px,#010106 229.5px)"></div><div style="top:113px;height:1px;background:linear-gradient(90deg,#1a1042 0.5px,#241253 7.5px,#38106c 26.5px,#4c117a 30.5px,#641a80 35.5px,#5a167e 39.5px,#38106c 45.5px,#341069 50.5px,#3d0f71 55.5px,#601880 61.5px,#621980 64.5px,#4c117a 68.5px,#36106b 72.5px,#390f6e 80.5px,#4a1079 89.5px,#681c81 96.5px,#6e1e81 103.5px,#842681 108.5px,#9b2e7f 110.5px,#b2357b 111.5px,#e95462 113.5px,#f66c5c 114.5px,#fa7f5e 115.5px,#fb8761 116.5px,#fb8560 117.5px,#f97b5d 118.5px,#f4675c 119.5px,#e55064 120.5px,#c83e73 121.5px,#a1307e 122.5px,#762181 123.5px,#4a1079 124.5px,#271258 125.5px,#180f3d 126.5px,#0e0b2b 128.5px,#060518 138.5px,#0b0924 147.5px,#140e36 149.5px,#311165 152.5px,#3b0f70 154.5px,#311165 156.5px,#1c1044 159.5px,#180f3d 162.5px,#241253 171.5px,#390f6e 177.5px,#54137d 184.5px,#671b80 188.5px,#942c80 190.5px,#ae347b 191.5px,#cc3f71 193.5px,#cc3f71 194.5px,#c23b75 195.5px,#982d80 197.5px,#671b80 199.5px,#5c167f 200.5px,#5c167f 201.5px,#671b80 202.5px,#802582 203.5px,#c43c75 205.5px,#df4a68 206.5px,#ed5a5f 207.5px,#f4675c 208.5px,#f66c5c 209.5px,#f4675c 210.5px,#ed5a5f 211.5px,#df4a68 212.5px,#c23b75 213.5px,#9e2f7f 214.5px,#721f81 215.5px,#451077 216.5px,#1d1147 217.5px,#0c0926 218.5px,#06051a 219.5px,#02020b 225.5px,#010106 229.5px)"></div><div style="top:114px;height:1px;background:linear-gradient(90deg,#1a1042 0.5px,#251255 8.5px,#3b0f70 27.5px,#621980 34.5px,#5f187f 38.5px,#3b0f70 44.5px,#341069 50.5px,#3f0f72 55.5px,#601880 61.5px,#621980 64.5px,#3d0f71 70.5px,#341069 75.5px,#471078 88.5px,#681c81 96.5px,#721f81 104.5px,#842681 108.5px,#9b2e7f 110.5px,#d2426f 112.5px,#ea5661 113.5px,#f66e5c 114.5px,#fa7f5e 115.5px,#fc8961 116.5px,#f97b5d 118.5px,#f4675c 119.5px,#e44f64 120.5px,#c73d73 121.5px,#a02f7f 122.5px,#752181 123.5px,#491078 124.5px,#271258 125.5px,#180f3d 126.5px,#0e0b2b 128.5px,#060518 138.5px,#0a0822 146.5px,#100b2d 148.5px,#1e1149 150.5px,#331067 152.5px,#390f6e 153.5px,#38106c 155.5px,#271258 157.5px,#1a1042 159.5px,#180f3d 162.5px,#241253 171.5px,#36106b 176.5px,#4f127b 182.5px,#5f187f 187.5px,#6a1c81 188.5px,#992d80 190.5px,#c43c75 192.5px,#cc3f71 193.5px,#cc3f71 194.5px,#c23b75 195.5px,#942c80 197.5px,#651a80 199.5px,#5a167e 200.5px,#59157e 201.5px,#621980 202.5px,#792282 203.5px,#bd3977 205.5px,#d9466b 206.5px,#eb5760 207.5px,#f3655c 208.5px,#f56b5c 209.5px,#f4695c 210.5px,#ef5d5e 211.5px,#e24d66 212.5px,#c83e73 213.5px,#a5317e 214.5px,#7b2382 215.5px,#4e117b 216.5px,#221150 217.5px,#0e0b2b 218.5px,#07061c 219.5px,#02020b 224.5px,#010106 229.5px)"></div><div style="top:115px;height:1px;background:linear-gradient(90deg,#1a1042 0.5px,#251255 8.5px,#390f6e 26.5px,#4e117b 30.5px,#621980 34.5px,#621980 37.5px,#3b0f70 44.5px,#341069 50.5px,#3b0f70 54.5px,#621980 61.5px,#601880 64.5px,#420f75 69.5px,#341069 73.5px,#390f6e 80.5px,#4c117a 90.5px,#681c81 96.5px,#6e1e81 103.5px,#862781 108.5px,#9c2e7f 110.5px,#d3436e 112.5px,#eb5760 113.5px,#f7705c 114.5px,#fa815f 115.5px,#fc8961 116.5px,#fb8761 117.5px,#f4675c 119.5px,#e44f64 120.5px,#c73d73 121.5px,#9e2f7f 122.5px,#732081 123.5px,#491078 124.5px,#271258 125.5px,#180f3d 126.5px,#120d31 127.5px,#060518 137.5px,#0a0822 146.5px,#100b2d 148.5px,#341069 152.5px,#390f6e 154.5px,#2f1163 156.5px,#1e1149 158.5px,#180f3d 160.5px,#1a1042 165.5px,#2c115f 174.5px,#440f76 179.5px,#601880 187.5px,#6b1d81 188.5px,#b3367a 191.5px,#c53c74 192.5px,#cc3f71 193.5px,#ca3e72 194.5px,#bf3a77 195.5px,#ab337c 196.5px,#752181 198.5px,#621980 199.5px,#59157e 200.5px,#57157e 201.5px,#5f187f 202.5px,#732081 203.5px,#b73779 205.5px,#d5446d 206.5px,#e85362 207.5px,#f56b5c 209.5px,#f1605d 211.5px,#e55064 212.5px,#cf4070 213.5px,#ad347c 214.5px,#832681 215.5px,#57157e 216.5px,#29115a 217.5px,#110c2f 218.5px,#08071e 219.5px,#02020b 224.5px,#010106 229.5px)"></div><div style="top:116px;height:1px;background:linear-gradient(90deg,#1a1042 0.5px,#241253 6.5px,#390f6e 26.5px,#601880 33.5px,#601880 37.5px,#3f0f72 43.5px,#341069 49.5px,#400f74 55.5px,#621980 61.5px,#5c167f 65.5px,#36106b 71.5px,#341069 77.5px,#4c117a 90.5px,#6a1c81 97.5px,#701f81 103.5px,#862781 108.5px,#9e2f7f 110.5px,#d5446d 112.5px,#ec5860 113.5px,#f7705c 114.5px,#fb835f 115.5px,#fc8961 116.5px,#fb8761 117.5px,#f3655c 119.5px,#e34e65 120.5px,#c53c74 121.5px,#9e2f7f 122.5px,#721f81 123.5px,#471078 124.5px,#251255 125.5px,#180f3d 126.5px,#120d31 127.5px,#06051a 137.5px,#0a0822 146.5px,#110c2f 148.5px,#2c115f 151.5px,#390f6e 153.5px,#341069 155.5px,#19103f 159.5px,#19103f 164.5px,#29115a 173.5px,#400f74 178.5px,#601880 187.5px,#6d1d81 188.5px,#b5367a 191.5px,#c53c74 192.5px,#cc3f71 193.5px,#c83e73 194.5px,#bc3978 195.5px,#8b2981 197.5px,#701f81 198.5px,#5f187f 199.5px,#56147d 201.5px,#5c167f 202.5px,#6d1d81 203.5px,#ae347b 205.5px,#cd4071 206.5px,#e44f64 207.5px,#f05f5e 208.5px,#f4695c 209.5px,#f56b5c 210.5px,#e85362 212.5px,#d5446d 213.5px,#b5367a 214.5px,#8c2981 215.5px,#601880 216.5px,#331067 217.5px,#140e36 218.5px,#090720 219.5px,#03030f 222.5px,#010106 229.5px)"></div><div style="top:117px;height:1px;background:linear-gradient(90deg,#1a1042 0.5px,#241253 5.5px,#390f6e 26.5px,#601880 33.5px,#601880 37.5px,#3f0f72 43.5px,#341069 49.5px,#3d0f71 54.5px,#601880 60.5px,#621980 63.5px,#4c117a 67.5px,#331067 72.5px,#38106c 79.5px,#4a1079 90.5px,#6a1c81 97.5px,#732081 104.5px,#862781 108.5px,#9e2f7f 110.5px,#d6456c 112.5px,#ed5a5f 113.5px,#f7725c 114.5px,#fb835f 115.5px,#fc8a62 116.5px,#fb8761 117.5px,#f3655c 119.5px,#e34e65 120.5px,#c43c75 121.5px,#9c2e7f 122.5px,#701f81 123.5px,#451077 124.5px,#251255 125.5px,#180f3d 126.5px,#120d31 127.5px,#060518 138.5px,#0a0822 146.5px,#120d31 148.5px,#2d1161 151.5px,#390f6e 153.5px,#341069 155.5px,#1d1147 158.5px,#180f3d 160.5px,#1a1042 165.5px,#2c115f 174.5px,#400f74 178.5px,#621980 187.5px,#6e1e81 188.5px,#b5367a 191.5px,#c43c75 192.5px,#ca3e72 193.5px,#c53c74 194.5px,#b83779 195.5px,#6d1d81 198.5px,#5c167f 199.5px,#54137d 201.5px,#59157e 202.5px,#681c81 203.5px,#832681 204.5px,#c73d73 206.5px,#e04c67 207.5px,#ee5b5e 208.5px,#f4675c 209.5px,#f56b5c 210.5px,#eb5760 212.5px,#d9466b 213.5px,#bd3977 214.5px,#962c80 215.5px,#6b1d81 216.5px,#3d0f71 217.5px,#19103f 218.5px,#0b0924 219.5px,#050416 221.5px,#02020d 224.5px,#010106 229.5px)"></div><div style="top:118px;height:1px;background:linear-gradient(90deg,#1a1042 0.5px,#241253 5.5px,#38106c 25.5px,#51127c 30.5px,#641a80 34.5px,#601880 37.5px,#390f6e 44.5px,#36106b 50.5px,#3f0f72 54.5px,#601880 60.5px,#621980 63.5px,#440f76 68.5px,#331067 72.5px,#36106b 78.5px,#4a1079 90.5px,#681c81 97.5px,#732081 104.5px,#862781 108.5px,#a02f7f 110.5px,#d8456c 112.5px,#ee5b5e 113.5px,#f8745c 114.5px,#fb8560 115.5px,#fc8a62 116.5px,#fb8761 117.5px,#f3655c 119.5px,#e34e65 120.5px,#c43c75 121.5px,#9b2e7f 122.5px,#6e1e81 123.5px,#451077 124.5px,#251255 125.5px,#180f3d 126.5px,#100b2d 128.5px,#060518 138.5px,#0b0924 146.5px,#130d34 148.5px,#2f1163 151.5px,#390f6e 153.5px,#331067 155.5px,#1c1044 158.5px,#160f3b 161.5px,#241253 171.5px,#331067 175.5px,#4e117b 181.5px,#5d177f 186.5px,#701f81 188.5px,#b73779 191.5px,#c43c75 192.5px,#c83e73 193.5px,#c23b75 194.5px,#b3367a 195.5px,#681c81 198.5px,#5a167e 199.5px,#54137d 201.5px,#57157e 202.5px,#641a80 203.5px,#7b2382 204.5px,#bf3a77 206.5px,#db476a 207.5px,#eb5760 208.5px,#f2645c 209.5px,#f4695c 210.5px,#f3655c 211.5px,#ed5a5f 212.5px,#df4a68 213.5px,#c43c75 214.5px,#a02f7f 215.5px,#752181 216.5px,#471078 217.5px,#1e1149 218.5px,#0d0a29 219.5px,#050416 221.5px,#020109 226.5px,#010106 229.5px)"></div><div style="top:119px;height:1px;background:linear-gradient(90deg,#1a1042 0.5px,#241253 5.5px,#38106c 25.5px,#5d177f 32.5px,#641a80 35.5px,#56147d 39.5px,#390f6e 44.5px,#36106b 50.5px,#400f74 54.5px,#621980 60.5px,#601880 63.5px,#491078 67.5px,#331067 71.5px,#341069 78.5px,#491078 90.5px,#681c81 97.5px,#752181 104.5px,#882781 108.5px,#a1307e 110.5px,#d9466b 112.5px,#ef5d5e 113.5px,#f8765c 114.5px,#fb8560 115.5px,#fc8a62 116.5px,#fb8761 117.5px,#f9795d 118.5px,#f2645c 119.5px,#e24d66 120.5px,#c23b75 121.5px,#992d80 122.5px,#6d1d81 123.5px,#440f76 124.5px,#241253 125.5px,#180f3d 126.5px,#0e0b2b 129.5px,#060518 138.5px,#0b0924 146.5px,#130d34 148.5px,#311165 151.5px,#390f6e 153.5px,#311165 155.5px,#1a1042 158.5px,#160f3b 161.5px,#241253 171.5px,#331067 175.5px,#4a1079 180.5px,#5d177f 186.5px,#732081 188.5px,#b73779 191.5px,#c43c75 192.5px,#c73d73 193.5px,#c03a76 194.5px,#b0357b 195.5px,#651a80 198.5px,#57157e 199.5px,#52137c 201.5px,#5f187f 203.5px,#752181 204.5px,#b73779 206.5px,#d5446d 207.5px,#e85362 208.5px,#f4695c 210.5px,#f4675c 211.5px,#ef5d5e 212.5px,#e34e65 213.5px,#ca3e72 214.5px,#a8327d 215.5px,#7e2482 216.5px,#52137c 217.5px,#251255 218.5px,#100b2d 219.5px,#07061c 220.5px,#02020d 223.5px,#010106 229.5px)"></div><div style="top:120px;height:1px;background:linear-gradient(90deg,#1c1044 0.5px,#271258 8.5px,#390f6e 25.5px,#4c117a 29.5px,#621980 33.5px,#5f187f 37.5px,#3d0f71 43.5px,#36106b 49.5px,#3d0f71 53.5px,#621980 60.5px,#601880 63.5px,#471078 67.5px,#331067 71.5px,#341069 78.5px,#4c117a 91.5px,#6a1c81 98.5px,#782281 105.5px,#882781 108.5px,#a3307e 110.5px,#db476a 112.5px,#f05f5e 113.5px,#fb8761 115.5px,#fc8a62 116.5px,#fb8761 117.5px,#f9795d 118.5px,#f2645c 119.5px,#e24d66 120.5px,#c03a76 121.5px,#982d80 122.5px,#6b1d81 123.5px,#420f75 124.5px,#241253 125.5px,#180f3d 126.5px,#110c2f 128.5px,#060518 138.5px,#0b0924 146.5px,#140e36 148.5px,#29115a 150.5px,#38106c 152.5px,#36106b 154.5px,#1a1042 158.5px,#160f3b 161.5px,#251255 172.5px,#420f75 178.5px,#651a80 187.5px,#752181 188.5px,#b83779 191.5px,#c43c75 192.5px,#c53c74 193.5px,#bd3977 194.5px,#932b80 196.5px,#601880 198.5px,#56147d 199.5px,#54137d 202.5px,#5c167f 203.5px,#6e1e81 204.5px,#ae347b 206.5px,#cd4071 207.5px,#e44f64 208.5px,#f4675c 210.5px,#f1605d 212.5px,#e75263 213.5px,#d0416f 214.5px,#b0357b 215.5px,#882781 216.5px,#5c167f 217.5px,#2f1163 218.5px,#130d34 219.5px,#090720 220.5px,#03030f 223.5px,#010106 229.5px)"></div><div style="top:121px;height:1px;background:linear-gradient(90deg,#1c1044 0.5px,#271258 8.5px,#390f6e 25.5px,#5f187f 32.5px,#621980 36.5px,#390f6e 44.5px,#38106c 51.5px,#56147d 57.5px,#641a80 60.5px,#5a167e 64.5px,#38106c 69.5px,#2f1163 73.5px,#491078 90.5px,#6a1c81 98.5px,#792282 105.5px,#882781 108.5px,#a3307e 110.5px,#dc4869 112.5px,#f1605d 113.5px,#f9785d 114.5px,#fb8761 115.5px,#fc8c63 116.5px,#fb8761 117.5px,#f9795d 118.5px,#f2645c 119.5px,#e04c67 120.5px,#c03a76 121.5px,#962c80 122.5px,#6b1d81 123.5px,#400f74 124.5px,#241253 125.5px,#180f3d 126.5px,#110c2f 128.5px,#060518 138.5px,#0b0924 146.5px,#150e38 148.5px,#2a115c 150.5px,#38106c 152.5px,#36106b 154.5px,#19103f 158.5px,#160f3b 161.5px,#251255 172.5px,#331067 175.5px,#471078 179.5px,#5f187f 186.5px,#671b80 187.5px,#762181 188.5px,#a6317d 190.5px,#b83779 191.5px,#c23b75 192.5px,#c23b75 193.5px,#ba3878 194.5px,#a8327d 195.5px,#5d177f 198.5px,#51127c 200.5px,#5a167e 203.5px,#6a1c81 204.5px,#842681 205.5px,#c73d73 207.5px,#df4a68 208.5px,#ed5a5f 209.5px,#f3655c 210.5px,#f2625d 212.5px,#e95462 213.5px,#d6456c 214.5px,#b83779 215.5px,#912b81 216.5px,#671b80 217.5px,#38106c 218.5px,#160f3b 219.5px,#0a0822 220.5px,#030312 222.5px,#010106 229.5px)"></div><div style="top:122px;height:1px;background:linear-gradient(90deg,#1c1044 0.5px,#251255 6.5px,#390f6e 25.5px,#601880 32.5px,#641a80 35.5px,#4c117a 40.5px,#390f6e 44.5px,#390f6e 51.5px,#4a1079 55.5px,#601880 59.5px,#621980 62.5px,#440f76 67.5px,#331067 70.5px,#311165 76.5px,#4e117b 92.5px,#6a1c81 98.5px,#7c2382 106.5px,#932b80 109.5px,#a5317e 110.5px,#de4968 112.5px,#f2625d 113.5px,#f9795d 114.5px,#fc8961 115.5px,#fc8c63 116.5px,#fb8761 117.5px,#f9795d 118.5px,#f2625d 119.5px,#df4a68 120.5px,#bf3a77 121.5px,#962c80 122.5px,#6a1c81 123.5px,#400f74 124.5px,#241253 125.5px,#180f3d 126.5px,#100b2d 129.5px,#060518 138.5px,#0c0926 146.5px,#100b2d 147.5px,#2c115f 150.5px,#390f6e 152.5px,#341069 154.5px,#19103f 158.5px,#160f3b 161.5px,#251255 172.5px,#331067 175.5px,#471078 179.5px,#601880 186.5px,#681c81 187.5px,#902a81 189.5px,#a8327d 190.5px,#b83779 191.5px,#c03a76 192.5px,#c03a76 193.5px,#b73779 194.5px,#892881 196.5px,#5a167e 198.5px,#51127c 200.5px,#57157e 203.5px,#651a80 204.5px,#7c2382 205.5px,#bf3a77 207.5px,#db476a 208.5px,#ea5661 209.5px,#f2625d 210.5px,#f4675c 211.5px,#f2645c 212.5px,#eb5760 213.5px,#dc4869 214.5px,#c03a76 215.5px,#9b2e7f 216.5px,#701f81 217.5px,#420f75 218.5px,#1c1044 219.5px,#0b0924 220.5px,#040414 222.5px,#010106 229.5px)"></div><div style="top:123px;height:1px;background:linear-gradient(90deg,#1c1044 0.5px,#251255 6.5px,#3b0f70 25.5px,#601880 32.5px,#641a80 35.5px,#51127c 39.5px,#3b0f70 43.5px,#36106b 49.5px,#451077 54.5px,#621980 59.5px,#621980 62.5px,#491078 66.5px,#311165 70.5px,#331067 77.5px,#4e117b 92.5px,#6b1d81 99.5px,#7e2482 106.5px,#892881 108.5px,#a6317d 110.5px,#df4a68 112.5px,#f2645c 113.5px,#fc8961 115.5px,#fc8c63 116.5px,#fb8761 117.5px,#f9795d 118.5px,#f2625d 119.5px,#df4a68 120.5px,#bd3977 121.5px,#942c80 122.5px,#681c81 123.5px,#3f0f72 124.5px,#221150 125.5px,#19103f 126.5px,#100b2d 129.5px,#060518 138.5px,#0c0926 146.5px,#180f3d 148.5px,#2c115f 150.5px,#390f6e 152.5px,#331067 154.5px,#180f3d 158.5px,#180f3d 163.5px,#29115a 173.5px,#440f76 178.5px,#601880 186.5px,#6a1c81 187.5px,#932b80 189.5px,#b83779 191.5px,#c03a76 192.5px,#bf3a77 193.5px,#9e2f7f 195.5px,#6a1c81 197.5px,#57157e 198.5px,#4f127b 200.5px,#57157e 203.5px,#601880 204.5px,#762181 205.5px,#b73779 207.5px,#d5446d 208.5px,#e85362 209.5px,#f4675c 211.5px,#f3655c 212.5px,#e04c67 214.5px,#c73d73 215.5px,#a3307e 216.5px,#792282 217.5px,#4e117b 218.5px,#221150 219.5px,#0e0b2b 220.5px,#06051a 221.5px,#02020b 225.5px,#010106 229.5px)"></div><div style="top:124px;height:1px;background:linear-gradient(90deg,#1c1044 0.5px,#251255 5.5px,#3b0f70 25.5px,#621980 32.5px,#641a80 35.5px,#440f76 41.5px,#36106b 46.5px,#3b0f70 51.5px,#54137d 56.5px,#641a80 60.5px,#57157e 64.5px,#38106c 68.5px,#2f1163 72.5px,#36106b 79.5px,#4a1079 91.5px,#6b1d81 99.5px,#7e2482 106.5px,#892881 108.5px,#942c80 109.5px,#a8327d 110.5px,#e04c67 112.5px,#f2645c 113.5px,#f97b5d 114.5px,#fc8a62 115.5px,#fc8e64 116.5px,#fb8761 117.5px,#f2625d 119.5px,#de4968 120.5px,#bd3977 121.5px,#932b80 122.5px,#671b80 123.5px,#3d0f71 124.5px,#221150 125.5px,#19103f 126.5px,#120d31 128.5px,#060518 138.5px,#0a0822 145.5px,#120d31 147.5px,#2d1161 150.5px,#390f6e 152.5px,#311165 154.5px,#180f3d 158.5px,#180f3d 163.5px,#29115a 173.5px,#440f76 178.5px,#621980 186.5px,#6b1d81 187.5px,#942c80 189.5px,#b83779 191.5px,#bf3a77 192.5px,#bc3978 193.5px,#ae347b 194.5px,#651a80 197.5px,#54137d 198.5px,#4f127b 201.5px,#5d177f 204.5px,#701f81 205.5px,#ae347b 207.5px,#cd4071 208.5px,#e34e65 209.5px,#ef5d5e 210.5px,#f3655c 211.5px,#f3655c 212.5px,#e44f64 214.5px,#cd4071 215.5px,#ad347c 216.5px,#832681 217.5px,#57157e 218.5px,#2a115c 219.5px,#110c2f 220.5px,#07061c 221.5px,#02020d 224.5px,#010106 229.5px)"></div><div style="top:125px;height:1px;background:linear-gradient(90deg,#1c1044 0.5px,#271258 6.5px,#390f6e 24.5px,#52137c 29.5px,#641a80 33.5px,#601880 36.5px,#3b0f70 43.5px,#38106c 49.5px,#491078 54.5px,#641a80 59.5px,#601880 62.5px,#451077 66.5px,#331067 69.5px,#2d1161 73.5px,#491078 91.5px,#701f81 101.5px,#832681 107.5px,#962c80 109.5px,#a8327d 110.5px,#e24d66 112.5px,#f3655c 113.5px,#fa7d5e 114.5px,#fc8a62 115.5px,#fc8e64 116.5px,#fb8761 117.5px,#f9785d 118.5px,#f1605d 119.5px,#de4968 120.5px,#bc3978 121.5px,#912b81 122.5px,#651a80 123.5px,#3d0f71 124.5px,#221150 125.5px,#19103f 126.5px,#120d31 128.5px,#060518 138.5px,#0a0822 145.5px,#130d34 147.5px,#2f1163 150.5px,#390f6e 152.5px,#311165 154.5px,#1a1042 157.5px,#160f3b 160.5px,#20114b 169.5px,#2d1161 174.5px,#440f76 178.5px,#621980 186.5px,#6d1d81 187.5px,#ab337c 190.5px,#b83779 191.5px,#bd3977 192.5px,#b83779 193.5px,#ab337c 194.5px,#601880 197.5px,#52137c 198.5px,#4e117b 200.5px,#54137d 203.5px,#5c167f 204.5px,#6b1d81 205.5px,#a6317d 207.5px,#c73d73 208.5px,#df4a68 209.5px,#ed5a5f 210.5px,#f2645c 211.5px,#f3655c 212.5px,#e75263 214.5px,#d3436e 215.5px,#b3367a 216.5px,#8c2981 217.5px,#621980 218.5px,#341069 219.5px,#140e36 220.5px,#08071e 221.5px,#03030f 223.5px,#010106 229.5px)"></div><div style="top:126px;height:1px;background:linear-gradient(90deg,#1c1044 0.5px,#271258 6.5px,#390f6e 24.5px,#5f187f 31.5px,#651a80 34.5px,#491078 40.5px,#38106c 45.5px,#3d0f71 51.5px,#641a80 59.5px,#5f187f 62.5px,#440f76 66.5px,#2f1163 70.5px,#2f1163 75.5px,#4c117a 92.5px,#701f81 101.5px,#842681 107.5px,#982d80 109.5px,#aa337d 110.5px,#e34e65 112.5px,#f4675c 113.5px,#fa7f5e 114.5px,#fc8c63 115.5px,#fc8e64 116.5px,#fb8761 117.5px,#f9785d 118.5px,#f1605d 119.5px,#dc4869 120.5px,#ba3878 121.5px,#902a81 122.5px,#641a80 123.5px,#3b0f70 124.5px,#221150 125.5px,#19103f 126.5px,#120d31 128.5px,#060518 138.5px,#0b0924 145.5px,#140e36 147.5px,#311165 150.5px,#390f6e 152.5px,#2f1163 154.5px,#19103f 157.5px,#160f3b 160.5px,#21114e 170.5px,#2d1161 174.5px,#400f74 177.5px,#5a167e 184.5px,#641a80 186.5px,#6e1e81 187.5px,#ab337c 190.5px,#b83779 191.5px,#bc3978 192.5px,#b73779 193.5px,#902a81 195.5px,#5d177f 197.5px,#4f127b 198.5px,#4e117b 201.5px,#5a167e 204.5px,#671b80 205.5px,#7e2482 206.5px,#bf3a77 208.5px,#d9466b 209.5px,#ea5661 210.5px,#f2625d 211.5px,#f3655c 212.5px,#f1605d 213.5px,#e95462 214.5px,#d8456c 215.5px,#bc3978 216.5px,#962c80 217.5px,#6b1d81 218.5px,#3f0f72 219.5px,#19103f 220.5px,#0a0822 221.5px,#03030f 223.5px,#010106 229.5px)"></div><div style="top:127px;height:1px;background:linear-gradient(90deg,#1c1044 0.5px,#271258 6.5px,#3b0f70 24.5px,#54137d 29.5px,#651a80 33.5px,#5a167e 37.5px,#3d0f71 42.5px,#38106c 48.5px,#420f75 52.5px,#641a80 59.5px,#5f187f 62.5px,#420f75 66.5px,#2d1161 70.5px,#331067 78.5px,#4a1079 92.5px,#732081 102.5px,#842681 107.5px,#982d80 109.5px,#ab337c 110.5px,#e44f64 112.5px,#f4695c 113.5px,#fa7f5e 114.5px,#fc8c63 115.5px,#fc8e64 116.5px,#fb8761 117.5px,#f9785d 118.5px,#f1605d 119.5px,#dc4869 120.5px,#b83779 121.5px,#8e2a81 122.5px,#621980 123.5px,#3b0f70 124.5px,#221150 125.5px,#19103f 126.5px,#0d0a29 131.5px,#060518 138.5px,#0b0924 145.5px,#0e0b2b 146.5px,#331067 150.5px,#38106c 152.5px,#2d1161 154.5px,#1d1147 156.5px,#160f3b 158.5px,#1a1042 165.5px,#29115a 173.5px,#400f74 177.5px,#57157e 183.5px,#651a80 186.5px,#701f81 187.5px,#ad347c 190.5px,#b83779 191.5px,#ba3878 192.5px,#b3367a 193.5px,#a3307e 194.5px,#5a167e 197.5px,#4e117b 198.5px,#51127c 202.5px,#59157e 204.5px,#641a80 205.5px,#782281 206.5px,#b73779 208.5px,#d5446d 209.5px,#e75263 210.5px,#f3655c 212.5px,#f2625d 213.5px,#eb5760 214.5px,#de4968 215.5px,#c43c75 216.5px,#a02f7f 217.5px,#752181 218.5px,#491078 219.5px,#1e1149 220.5px,#0c0926 221.5px,#050416 222.5px,#010106 229.5px)"></div><div style="top:128px;height:1px;background:linear-gradient(90deg,#1c1044 0.5px,#271258 5.5px,#390f6e 23.5px,#491078 27.5px,#641a80 32.5px,#5d177f 36.5px,#3b0f70 43.5px,#3b0f70 50.5px,#54137d 55.5px,#641a80 59.5px,#5d177f 62.5px,#400f74 66.5px,#2f1163 69.5px,#2d1161 73.5px,#4a1079 92.5px,#762181 103.5px,#842681 107.5px,#992d80 109.5px,#ad347c 110.5px,#ca3e72 111.5px,#e55064 112.5px,#f56b5c 113.5px,#fa815f 114.5px,#fc8c63 115.5px,#fc8e64 116.5px,#fc8961 117.5px,#f9785d 118.5px,#f05f5e 119.5px,#db476a 120.5px,#b83779 121.5px,#8c2981 122.5px,#601880 123.5px,#390f6e 124.5px,#221150 125.5px,#19103f 126.5px,#100b2d 130.5px,#060518 138.5px,#0b0924 145.5px,#160f3b 147.5px,#2a115c 149.5px,#38106c 151.5px,#341069 153.5px,#1c1044 156.5px,#160f3b 158.5px,#1a1042 165.5px,#29115a 173.5px,#400f74 177.5px,#59157e 183.5px,#671b80 186.5px,#721f81 187.5px,#ad347c 190.5px,#b73779 191.5px,#b83779 192.5px,#b0357b 193.5px,#862781 195.5px,#56147d 197.5px,#4c117a 198.5px,#4f127b 202.5px,#57157e 204.5px,#601880 205.5px,#721f81 206.5px,#ae347b 208.5px,#cd4071 209.5px,#e34e65 210.5px,#f2645c 212.5px,#f2645c 213.5px,#e24d66 215.5px,#ca3e72 216.5px,#802582 218.5px,#52137c 219.5px,#251255 220.5px,#0e0b2b 221.5px,#060518 222.5px,#010108 228.5px,#010106 229.5px)"></div><div style="top:129px;height:1px;background:linear-gradient(90deg,#1c1044 0.5px,#271258 5.5px,#390f6e 23.5px,#4a1079 27.5px,#641a80 32.5px,#5d177f 36.5px,#3d0f71 42.5px,#38106c 48.5px,#440f76 52.5px,#641a80 58.5px,#601880 61.5px,#471078 65.5px,#311165 68.5px,#2c115f 72.5px,#4a1079 92.5px,#842681 107.5px,#992d80 109.5px,#ae347b 110.5px,#cc3f71 111.5px,#e75263 112.5px,#f66c5c 113.5px,#fb835f 114.5px,#fc8e64 115.5px,#fc9065 116.5px,#fc8961 117.5px,#f9785d 118.5px,#f05f5e 119.5px,#db476a 120.5px,#b73779 121.5px,#8c2981 122.5px,#601880 123.5px,#38106c 124.5px,#21114e 125.5px,#19103f 126.5px,#0c0926 132.5px,#060518 138.5px,#090720 144.5px,#110c2f 146.5px,#2c115f 149.5px,#38106c 151.5px,#331067 153.5px,#1c1044 156.5px,#150e38 159.5px,#21114e 170.5px,#2d1161 174.5px,#471078 178.5px,#5f187f 185.5px,#752181 187.5px,#ad347c 190.5px,#b73779 191.5px,#b73779 192.5px,#ad347c 193.5px,#9b2e7f 194.5px,#671b80 196.5px,#52137c 197.5px,#491078 199.5px,#57157e 204.5px,#6d1d81 206.5px,#862781 207.5px,#c73d73 209.5px,#df4a68 210.5px,#ec5860 211.5px,#f2625d 212.5px,#f2645c 213.5px,#ef5d5e 214.5px,#e44f64 215.5px,#d0416f 216.5px,#b0357b 217.5px,#882781 218.5px,#5d177f 219.5px,#2f1163 220.5px,#120d31 221.5px,#06051a 222.5px,#03030f 224.5px,#010108 229.5px)"></div><div style="top:130px;height:1px;background:linear-gradient(90deg,#1c1044 0.5px,#271258 5.5px,#38106c 22.5px,#451077 26.5px,#621980 31.5px,#641a80 34.5px,#3d0f71 42.5px,#390f6e 48.5px,#451077 52.5px,#601880 57.5px,#641a80 60.5px,#4e117b 64.5px,#2f1163 68.5px,#2c115f 74.5px,#451077 90.5px,#5f187f 97.5px,#8c2981 108.5px,#b0357b 110.5px,#cd4071 111.5px,#e85362 112.5px,#f66e5c 113.5px,#fb835f 114.5px,#fc8e64 115.5px,#fc9065 116.5px,#fc8961 117.5px,#f05f5e 119.5px,#d9466b 120.5px,#b5367a 121.5px,#8b2981 122.5px,#5f187f 123.5px,#38106c 124.5px,#21114e 125.5px,#19103f 126.5px,#0c0926 132.5px,#060518 138.5px,#0a0822 144.5px,#110c2f 146.5px,#2d1161 149.5px,#36106b 150.5px,#36106b 152.5px,#29115a 154.5px,#1a1042 156.5px,#150e38 158.5px,#20114b 169.5px,#2d1161 174.5px,#471078 178.5px,#601880 185.5px,#762181 187.5px,#ad347c 190.5px,#b5367a 191.5px,#b3367a 192.5px,#aa337d 193.5px,#7c2382 195.5px,#621980 196.5px,#4f127b 197.5px,#491078 199.5px,#57157e 204.5px,#6a1c81 206.5px,#802582 207.5px,#bf3a77 209.5px,#d9466b 210.5px,#ea5661 211.5px,#f1605d 212.5px,#f2645c 213.5px,#e85362 215.5px,#d5446d 216.5px,#b83779 217.5px,#912b81 218.5px,#671b80 219.5px,#390f6e 220.5px,#160f3b 221.5px,#08071e 222.5px,#03030f 224.5px,#010108 229.5px)"></div><div style="top:131px;height:1px;background:linear-gradient(90deg,#1d1147 0.5px,#29115a 6.5px,#3b0f70 23.5px,#59157e 29.5px,#651a80 33.5px,#56147d 37.5px,#3d0f71 42.5px,#3b0f70 49.5px,#621980 57.5px,#641a80 60.5px,#4a1079 64.5px,#2f1163 68.5px,#2c115f 72.5px,#491078 92.5px,#812581 106.5px,#8e2a81 108.5px,#b2357b 110.5px,#cf4070 111.5px,#e95462 112.5px,#f7705c 113.5px,#fb8560 114.5px,#fc9065 115.5px,#fc9065 116.5px,#fc8961 117.5px,#ef5d5e 119.5px,#d8456c 120.5px,#b3367a 121.5px,#892881 122.5px,#5d177f 123.5px,#36106b 124.5px,#21114e 125.5px,#160f3b 127.5px,#07061c 136.5px,#06051a 140.5px,#0a0822 144.5px,#120d31 146.5px,#2f1163 149.5px,#38106c 151.5px,#2f1163 153.5px,#19103f 156.5px,#150e38 159.5px,#20114b 169.5px,#2d1161 174.5px,#420f75 177.5px,#59157e 183.5px,#601880 185.5px,#782281 187.5px,#ad347c 190.5px,#b3367a 191.5px,#b2357b 192.5px,#a6317d 193.5px,#5f187f 196.5px,#4e117b 197.5px,#471078 199.5px,#57157e 204.5px,#671b80 206.5px,#792282 207.5px,#b83779 209.5px,#d3436e 210.5px,#e75263 211.5px,#f2645c 213.5px,#f1605d 214.5px,#ea5661 215.5px,#d9466b 216.5px,#bf3a77 217.5px,#9b2e7f 218.5px,#701f81 219.5px,#440f76 220.5px,#1c1044 221.5px,#090720 222.5px,#040414 223.5px,#010108 229.5px)"></div><div style="top:132px;height:1px;background:linear-gradient(90deg,#1d1147 0.5px,#29115a 6.5px,#3b0f70 23.5px,#54137d 28.5px,#651a80 32.5px,#601880 35.5px,#3d0f71 42.5px,#3b0f70 49.5px,#641a80 57.5px,#621980 60.5px,#491078 64.5px,#2d1161 68.5px,#2a115c 72.5px,#491078 92.5px,#812581 106.5px,#8e2a81 108.5px,#9c2e7f 109.5px,#d0416f 111.5px,#ea5661 112.5px,#f7705c 113.5px,#fb8560 114.5px,#fc9065 115.5px,#fc9065 116.5px,#fc8961 117.5px,#ef5d5e 119.5px,#d8456c 120.5px,#b3367a 121.5px,#882781 122.5px,#5c167f 123.5px,#36106b 124.5px,#21114e 125.5px,#160f3b 127.5px,#060518 138.5px,#0a0822 144.5px,#130d34 146.5px,#311165 149.5px,#38106c 151.5px,#2d1161 153.5px,#1d1147 155.5px,#150e38 158.5px,#1e1149 168.5px,#29115a 173.5px,#420f75 177.5px,#56147d 181.5px,#621980 185.5px,#792282 187.5px,#a02f7f 189.5px,#b3367a 191.5px,#b0357b 192.5px,#a3307e 193.5px,#5a167e 196.5px,#4a1079 197.5px,#451077 199.5px,#5c167f 205.5px,#641a80 206.5px,#732081 207.5px,#8e2a81 208.5px,#cd4071 210.5px,#e34e65 211.5px,#ee5b5e 212.5px,#f2625d 213.5px,#ec5860 215.5px,#df4a68 216.5px,#c53c74 217.5px,#7b2382 219.5px,#4e117b 220.5px,#221150 221.5px,#0b0924 222.5px,#050416 223.5px,#010108 228.5px,#010108 229.5px)"></div><div style="top:133px;height:1px;background:linear-gradient(90deg,#1d1147 0.5px,#29115a 6.5px,#390f6e 22.5px,#491078 26.5px,#651a80 32.5px,#5a167e 36.5px,#3d0f71 42.5px,#3d0f71 49.5px,#51127c 53.5px,#651a80 58.5px,#5d177f 61.5px,#3f0f72 65.5px,#2c115f 68.5px,#2c115f 75.5px,#4c117a 93.5px,#882781 107.5px,#9e2f7f 109.5px,#d2426f 111.5px,#eb5760 112.5px,#f7725c 113.5px,#fb8761 114.5px,#fd9266 115.5px,#fc8961 117.5px,#f8765c 118.5px,#ee5b5e 119.5px,#d6456c 120.5px,#b2357b 121.5px,#862781 122.5px,#5a167e 123.5px,#341069 124.5px,#21114e 125.5px,#160f3b 127.5px,#060518 138.5px,#0a0822 144.5px,#140e36 146.5px,#311165 149.5px,#38106c 150.5px,#341069 152.5px,#180f3d 156.5px,#150e38 159.5px,#20114b 169.5px,#2d1161 174.5px,#440f76 177.5px,#5a167e 183.5px,#621980 185.5px,#7b2382 187.5px,#a02f7f 189.5px,#ad347c 190.5px,#b2357b 191.5px,#ad347c 192.5px,#a02f7f 193.5px,#57157e 196.5px,#491078 197.5px,#451077 199.5px,#5a167e 205.5px,#6e1e81 207.5px,#862781 208.5px,#c73d73 210.5px,#df4a68 211.5px,#f1605d 213.5px,#f2625d 214.5px,#ed5a5f 215.5px,#e24d66 216.5px,#cc3f71 217.5px,#ab337c 218.5px,#832681 219.5px,#57157e 220.5px,#2a115c 221.5px,#0e0b2b 222.5px,#060518 223.5px,#020109 227.5px,#010108 229.5px)"></div><div style="top:134px;height:1px;background:linear-gradient(90deg,#1d1147 0.5px,#29115a 5.5px,#3b0f70 22.5px,#4f127b 27.5px,#641a80 31.5px,#5d177f 35.5px,#3f0f72 41.5px,#390f6e 47.5px,#4c117a 52.5px,#651a80 57.5px,#5c167f 61.5px,#3d0f71 65.5px,#2c115f 68.5px,#2c115f 75.5px,#491078 92.5px,#832681 106.5px,#902a81 108.5px,#b73779 110.5px,#d3436e 111.5px,#ed5a5f 112.5px,#f8745c 113.5px,#fc8961 114.5px,#fd9266 115.5px,#fd9266 116.5px,#fc8961 117.5px,#f8765c 118.5px,#ee5b5e 119.5px,#d6456c 120.5px,#b0357b 121.5px,#842681 122.5px,#59157e 123.5px,#341069 124.5px,#21114e 125.5px,#160f3b 127.5px,#060518 138.5px,#0b0924 144.5px,#0e0b2b 145.5px,#331067 149.5px,#38106c 151.5px,#2a115c 153.5px,#160f3b 156.5px,#160f3b 161.5px,#21114e 170.5px,#2d1161 174.5px,#440f76 177.5px,#5a167e 183.5px,#6d1d81 186.5px,#a1307e 189.5px,#ad347c 190.5px,#b0357b 191.5px,#ab337c 192.5px,#9c2e7f 193.5px,#54137d 196.5px,#471078 197.5px,#471078 200.5px,#621980 206.5px,#6b1d81 207.5px,#802582 208.5px,#c03a76 210.5px,#d9466b 211.5px,#e95462 212.5px,#f05f5e 213.5px,#f2625d 214.5px,#e44f64 216.5px,#d0416f 217.5px,#8c2981 219.5px,#601880 220.5px,#331067 221.5px,#120d31 222.5px,#06051a 223.5px,#03030f 225.5px,#010108 229.5px)"></div><div style="top:135px;height:1px;background:linear-gradient(90deg,#1d1147 0.5px,#29115a 5.5px,#3b0f70 22.5px,#51127c 27.5px,#641a80 31.5px,#5d177f 35.5px,#3f0f72 41.5px,#3b0f70 47.5px,#491078 51.5px,#651a80 57.5px,#5f187f 60.5px,#420f75 64.5px,#2d1161 67.5px,#29115a 71.5px,#4a1079 93.5px,#882781 107.5px,#a02f7f 109.5px,#d5446d 111.5px,#ee5b5e 112.5px,#f8765c 113.5px,#fc8a62 114.5px,#fd9266 115.5px,#fd9266 116.5px,#fc8961 117.5px,#f8745c 118.5px,#ee5b5e 119.5px,#d5446d 120.5px,#ae347b 121.5px,#832681 122.5px,#59157e 123.5px,#341069 124.5px,#21114e 125.5px,#1a1042 126.5px,#0a0822 134.5px,#060518 138.5px,#0b0924 144.5px,#160f3b 146.5px,#2a115c 148.5px,#341069 149.5px,#38106c 151.5px,#160f3b 156.5px,#160f3b 161.5px,#21114e 170.5px,#2d1161 174.5px,#440f76 177.5px,#57157e 181.5px,#641a80 185.5px,#7e2482 187.5px,#a1307e 189.5px,#ad347c 190.5px,#b0357b 191.5px,#aa337d 192.5px,#832681 194.5px,#51127c 196.5px,#451077 197.5px,#451077 200.5px,#601880 206.5px,#681c81 207.5px,#792282 208.5px,#ba3878 210.5px,#d5446d 211.5px,#e75263 212.5px,#ef5d5e 213.5px,#ef5d5e 215.5px,#e75263 216.5px,#d5446d 217.5px,#b83779 218.5px,#942c80 219.5px,#6a1c81 220.5px,#3b0f70 221.5px,#160f3b 222.5px,#07061c 223.5px,#030312 224.5px,#010108 229.5px)"></div><div style="top:136px;height:1px;background:linear-gradient(90deg,#1d1147 0.5px,#2a115c 6.5px,#3b0f70 22.5px,#51127c 27.5px,#641a80 31.5px,#601880 34.5px,#3f0f72 41.5px,#3b0f70 47.5px,#4a1079 51.5px,#641a80 56.5px,#621980 59.5px,#491078 63.5px,#2c115f 67.5px,#29115a 71.5px,#4a1079 93.5px,#892881 107.5px,#912b81 108.5px,#a1307e 109.5px,#d8456c 111.5px,#ef5d5e 112.5px,#f9785d 113.5px,#fc8a62 114.5px,#fd9467 115.5px,#fd9266 116.5px,#fc8961 117.5px,#f8745c 118.5px,#ed5a5f 119.5px,#d5446d 120.5px,#ae347b 121.5px,#812581 122.5px,#57157e 123.5px,#331067 124.5px,#21114e 125.5px,#1a1042 126.5px,#06051a 137.5px,#090720 143.5px,#110c2f 145.5px,#2c115f 148.5px,#38106c 150.5px,#311165 152.5px,#19103f 155.5px,#150e38 158.5px,#1d1147 168.5px,#2d1161 174.5px,#451077 177.5px,#5c167f 183.5px,#651a80 185.5px,#7e2482 187.5px,#a1307e 189.5px,#ad347c 190.5px,#ae347b 191.5px,#982d80 193.5px,#4f127b 196.5px,#440f76 197.5px,#420f75 199.5px,#671b80 207.5px,#752181 208.5px,#902a81 209.5px,#cf4070 211.5px,#e34e65 212.5px,#f1605d 214.5px,#f05f5e 215.5px,#e95462 216.5px,#d9466b 217.5px,#bf3a77 218.5px,#9c2e7f 219.5px,#721f81 220.5px,#451077 221.5px,#1c1044 222.5px,#090720 223.5px,#040414 224.5px,#010108 229.5px)"></div><div style="top:137px;height:1px;background:linear-gradient(90deg,#1d1147 0.5px,#2a115c 6.5px,#3b0f70 22.5px,#601880 30.5px,#621980 33.5px,#3f0f72 41.5px,#3f0f72 48.5px,#52137c 52.5px,#651a80 56.5px,#621980 59.5px,#471078 63.5px,#2a115c 67.5px,#2a115c 74.5px,#440f76 90.5px,#5d177f 98.5px,#912b81 108.5px,#bc3978 110.5px,#d9466b 111.5px,#f05f5e 112.5px,#f9795d 113.5px,#fc8c63 114.5px,#fd9467 115.5px,#fd9266 116.5px,#fc8961 117.5px,#f8745c 118.5px,#ed5a5f 119.5px,#d3436e 120.5px,#ad347c 121.5px,#812581 122.5px,#56147d 123.5px,#331067 124.5px,#21114e 125.5px,#150e38 128.5px,#060518 138.5px,#090720 143.5px,#120d31 145.5px,#2d1161 148.5px,#36106b 149.5px,#36106b 151.5px,#1e1149 154.5px,#180f3d 155.5px,#140e36 157.5px,#1d1147 168.5px,#2d1161 174.5px,#451077 177.5px,#5c167f 183.5px,#651a80 185.5px,#802582 187.5px,#a1307e 189.5px,#ab337c 190.5px,#ad347c 191.5px,#a5317e 192.5px,#942c80 193.5px,#621980 195.5px,#4c117a 196.5px,#420f75 197.5px,#471078 201.5px,#651a80 207.5px,#6e1e81 208.5px,#aa337d 210.5px,#c83e73 211.5px,#df4a68 212.5px,#eb5760 213.5px,#f05f5e 214.5px,#f05f5e 215.5px,#de4968 217.5px,#c53c74 218.5px,#7b2382 220.5px,#4f127b 221.5px,#21114e 222.5px,#0b0924 223.5px,#040414 224.5px,#010108 229.5px)"></div><div style="top:138px;height:1px;background:linear-gradient(90deg,#1d1147 0.5px,#29115a 5.5px,#3d0f71 22.5px,#52137c 27.5px,#641a80 31.5px,#5a167e 35.5px,#400f74 40.5px,#3b0f70 46.5px,#471078 50.5px,#641a80 55.5px,#601880 59.5px,#440f76 63.5px,#2a115c 67.5px,#271258 70.5px,#311165 79.5px,#4e117b 94.5px,#892881 107.5px,#932b80 108.5px,#bd3977 110.5px,#db476a 111.5px,#f1605d 112.5px,#f97b5d 113.5px,#fc8e64 114.5px,#fd9668 115.5px,#fd9467 116.5px,#fc8961 117.5px,#f8745c 118.5px,#ec5860 119.5px,#d2426f 120.5px,#ab337c 121.5px,#802582 122.5px,#54137d 123.5px,#311165 124.5px,#21114e 125.5px,#150e38 128.5px,#060518 138.5px,#0a0822 143.5px,#130d34 145.5px,#2f1163 148.5px,#38106c 150.5px,#2d1161 152.5px,#180f3d 155.5px,#140e36 157.5px,#1d1147 168.5px,#2d1161 174.5px,#451077 177.5px,#59157e 181.5px,#671b80 185.5px,#812581 187.5px,#a1307e 189.5px,#ab337c 190.5px,#ab337c 191.5px,#a3307e 192.5px,#792282 194.5px,#4a1079 196.5px,#400f74 197.5px,#471078 201.5px,#6b1d81 208.5px,#812581 209.5px,#c23b75 211.5px,#db476a 212.5px,#e95462 213.5px,#ef5d5e 214.5px,#f05f5e 215.5px,#ec5860 216.5px,#e04c67 217.5px,#ca3e72 218.5px,#ab337c 219.5px,#832681 220.5px,#57157e 221.5px,#29115a 222.5px,#0d0a29 223.5px,#050416 224.5px,#010108 229.5px)"></div><div style="top:139px;height:1px;background:linear-gradient(90deg,#1d1147 0.5px,#2a115c 5.5px,#3b0f70 21.5px,#4e117b 26.5px,#601880 30.5px,#621980 33.5px,#3d0f71 41.5px,#3d0f71 47.5px,#56147d 52.5px,#651a80 56.5px,#5f187f 59.5px,#420f75 63.5px,#29115a 67.5px,#29115a 74.5px,#451077 91.5px,#601880 99.5px,#932b80 108.5px,#bf3a77 110.5px,#dc4869 111.5px,#f2625d 112.5px,#fa7d5e 113.5px,#fc8e64 114.5px,#fd9668 115.5px,#fd9467 116.5px,#fc8961 117.5px,#f8745c 118.5px,#ec5860 119.5px,#d2426f 120.5px,#aa337d 121.5px,#7e2482 122.5px,#52137c 123.5px,#311165 124.5px,#21114e 125.5px,#160f3b 128.5px,#06051a 137.5px,#08071e 142.5px,#0d0a29 144.5px,#311165 148.5px,#38106c 150.5px,#2c115f 152.5px,#160f3b 155.5px,#140e36 157.5px,#1d1147 168.5px,#2d1161 174.5px,#451077 177.5px,#59157e 181.5px,#671b80 185.5px,#a1307e 189.5px,#aa337d 190.5px,#aa337d 191.5px,#a02f7f 192.5px,#762181 194.5px,#5a167e 195.5px,#471078 196.5px,#3d0f71 198.5px,#51127c 203.5px,#681c81 208.5px,#7b2382 209.5px,#bc3978 211.5px,#d6456c 212.5px,#e75263 213.5px,#f05f5e 215.5px,#ed5a5f 216.5px,#e34e65 217.5px,#d0416f 218.5px,#8c2981 220.5px,#601880 221.5px,#331067 222.5px,#120d31 223.5px,#060518 224.5px,#020109 228.5px,#010108 229.5px)"></div></div><div class="hm" style="left:287px;top:228px;width:12px;height:96px;background:linear-gradient(180deg,#fcfdbf 0.0%,#fde7a9 5.0%,#fecf92 10.0%,#feb77e 15.0%,#fe9f6d 20.0%,#fc8961 25.0%,#f7705c 30.0%,#ed5a5f 35.0%,#de4968 40.0%,#ca3e72 45.0%,#b73779 50.0%,#a1307e 55.0%,#8c2981 60.0%,#782281 65.0%,#641a80 70.0%,#51127c 75.0%,#3b0f70 80.0%,#251255 85.0%,#140e36 90.0%,#06051a 95.0%,#000004 100.0%)"></div><div class="hm" style="left:642px;top:29px;width:11px;height:89px;background:linear-gradient(180deg,#ff0000 0.0%,#ff1b1b 5.0%,#ff3636 10.0%,#ff5151 15.0%,#ff6d6d 20.0%,#ff8888 25.0%,#ffa3a3 30.0%,#ffbebe 35.0%,#ffd9d9 40.0%,#fff4f4 45.0%,#f1f1ff 50.0%,#d9d9ff 55.0%,#c0c0ff 60.0%,#a8a8ff 65.0%,#9090ff 70.0%,#7878ff 75.0%,#6060ff 80.0%,#4848ff 85.0%,#3030ff 90.0%,#1818ff 95.0%,#0000ff 100.0%)"></div><div class="hm" style="left:642px;top:230px;width:11px;height:91px;background:linear-gradient(180deg,#fcfdbf 0.0%,#fde7a9 5.0%,#fecf92 10.0%,#feb77e 15.0%,#fe9f6d 20.0%,#fc8961 25.0%,#f7705c 30.0%,#ed5a5f 35.0%,#de4968 40.0%,#ca3e72 45.0%,#b73779 50.0%,#a1307e 55.0%,#8c2981 60.0%,#782281 65.0%,#641a80 70.0%,#51127c 75.0%,#3b0f70 80.0%,#251255 85.0%,#140e36 90.0%,#06051a 95.0%,#000004 100.0%)"></div>
<svg width="685" height="383" viewBox="0 0 685 383">
<path d="M41.3,133.67 L41.8,133.67 L42.3,133.33 L42.8,133.07 L43.3,133.24 L43.8,133.18 L44.3,132.95 L44.8,132.97 L45.3,132.96 L45.8,132.80 L46.3,132.70 L46.8,132.56 L47.3,132.31 L47.8,132.18 L48.3,132.21 L48.8,132.27 L49.3,132.15 L49.8,131.88 L50.3,131.72 L50.8,131.73 L51.3,131.74 L51.8,131.80 L52.3,132.01 L52.8,131.62 L53.3,130.77 L53.8,130.65 L54.3,131.02 L54.8,131.15 L55.3,131.19 L55.8,131.40 L56.3,131.40 L56.8,130.90 L57.3,130.91 L57.8,131.32 L58.3,131.22 L58.8,130.88 L59.3,130.44 L59.8,130.21 L60.3,130.44 L60.8,130.44 L61.3,130.16 L61.8,130.17 L62.3,130.24 L62.8,130.19 L63.3,130.27 L63.8,130.38 L64.3,130.31 L64.8,130.28 L65.3,130.48 L65.8,130.58 L66.3,130.33 L66.8,130.16 L67.3,130.22 L67.8,130.24 L68.3,130.16 L68.8,130.06 L69.3,130.15 L69.8,129.98 L70.3,129.65 L70.8,129.70 L71.3,129.84 L71.8,129.71 L72.3,129.35 L72.8,129.23 L73.3,129.33 L73.8,129.30 L74.3,129.34 L74.8,129.15 L75.3,128.78 L75.8,128.93 L76.3,129.08 L76.8,128.66 L77.3,128.43 L77.8,128.53 L78.3,128.53 L78.8,128.34 L79.3,127.86 L79.8,127.48 L80.3,127.47 L80.8,127.53 L81.3,127.55 L81.8,127.19 L82.3,126.59 L82.8,126.55 L83.3,126.86 L83.8,126.70 L84.3,126.25 L84.8,126.07 L85.3,126.00 L85.8,125.79 L86.3,125.47 L86.8,124.98 L87.3,124.47 L87.8,124.25 L88.3,123.92 L88.8,123.36 L89.3,123.29 L89.8,123.23 L90.3,122.95 L90.8,122.92 L91.3,122.91 L91.8,122.87 L92.3,122.74 L92.8,122.67 L93.3,122.61 L93.8,122.24 L94.3,121.80 L94.8,122.04 L95.3,122.75 L95.8,122.95 L96.3,123.04 L96.8,123.43 L97.3,123.81 L97.8,124.12 L98.3,124.23 L98.8,124.26 L99.3,124.49 L99.8,124.84 L100.3,125.48 L100.8,126.92 L101.3,127.50 L101.8,127.19 L102.3,127.31 L102.8,128.37 L103.3,128.93 L103.8,128.41 L104.3,128.16 L104.8,128.34 L105.3,128.19 L105.8,128.02 L106.3,128.07 L106.8,128.05 L107.3,127.88 L107.8,127.75 L108.3,127.53 L108.8,127.26 L109.3,127.11 L109.8,127.01 L110.3,126.89 L110.8,126.59 L111.3,126.58 L111.8,126.79 L112.3,126.49 L112.8,126.02 L113.3,125.61 L113.8,125.01 L114.3,124.54 L114.8,124.26 L115.3,123.75 L115.8,123.24 L116.3,122.97 L116.8,122.45 L117.3,121.89 L117.8,121.70 L118.3,121.92 L118.8,121.99 L119.3,121.62 L119.8,121.26 L120.3,121.07 L120.8,121.36 L121.3,121.68 L121.8,121.48 L122.3,121.36 L122.8,121.56 L123.3,121.76 L123.8,121.95 L124.3,122.13 L124.8,122.24 L125.3,122.57 L125.8,123.27 L126.3,123.90 L126.8,124.48 L127.3,125.03 L127.8,125.36 L128.3,125.72 L128.8,126.41 L129.3,126.80 L129.8,127.16 L130.3,127.95 L130.8,128.46 L131.3,128.44 L131.8,128.26 L132.3,128.49 L132.8,129.07 L133.3,128.87 L133.8,128.25 L134.3,128.19 L134.8,128.17 L135.3,127.96 L135.8,127.93 L136.3,127.99 L136.8,128.10 L137.3,127.65 L137.8,126.93 L138.3,126.77 L138.8,126.81 L139.3,126.93 L139.8,126.86 L140.3,126.44 L140.8,126.22 L141.3,126.48 L141.8,126.27 L142.3,125.52 L142.8,125.13 L143.3,124.87 L143.8,124.49 L144.3,124.35 L144.8,124.30 L145.3,123.76 L145.8,123.30 L146.3,123.00 L146.8,122.45 L147.3,121.95 L147.8,121.58 L148.3,121.17 L148.8,120.77 L149.3,120.56 L149.8,120.38 L150.3,120.07 L150.8,119.67 L151.3,119.23 L151.8,118.71 L152.3,117.96 L152.8,117.14 L153.3,116.35 L153.8,115.48 L154.3,114.68 L154.8,113.85 L155.3,112.66 L155.8,111.52 L156.3,110.55 L156.8,109.21 L157.3,107.35 L157.8,105.55 L158.3,104.12 L158.8,102.20 L159.3,99.87 L159.8,97.58 L160.3,94.78 L160.8,91.70 L161.3,88.36 L161.8,84.03 L162.3,78.99 L162.8,74.17 L163.3,70.10 L163.8,65.72 L164.3,61.28 L164.8,56.96 L165.3,51.81 L165.8,46.15 L166.3,40.52 L166.8,35.17 L167.3,28.89 L167.8,23.16 L168.3,20.22 L168.8,20.67 L169.3,22.96 L169.8,26.50 L170.3,30.08 L170.8,33.31 L171.3,37.62 L171.8,44.99 L172.3,55.73 L172.8,64.04 L173.3,71.62 L173.8,78.35 L174.3,84.70 L174.8,90.69 L175.3,96.05 L175.8,100.74 L176.3,105.26 L176.8,109.37 L177.3,113.49 L177.8,117.74 L178.3,120.74 L178.8,122.99 L179.3,125.13 L179.8,126.48 L180.3,127.80 L180.8,129.70 L181.3,131.25 L181.8,132.06 L182.3,132.84 L182.8,133.55 L183.3,134.05 L183.8,134.65 L184.3,135.05 L184.8,135.10 L185.3,135.27 L185.8,135.62 L186.3,135.99 L186.8,136.40 L187.3,136.63 L187.8,136.73 L188.3,136.78 L188.8,136.72 L189.3,136.74 L189.8,137.14 L190.3,137.37 L190.8,137.05 L191.3,136.84 L191.8,136.92 L192.3,136.92 L192.8,136.97 L193.3,137.13 L193.8,137.36 L194.3,137.57 L194.8,137.51 L195.3,137.53 L195.8,137.59 L196.3,137.60 L196.8,137.65 L197.3,137.38 L197.8,137.17 L198.3,137.29 L198.8,137.26 L199.3,137.16 L199.8,137.15 L200.3,137.28 L200.8,137.62 L201.3,137.57 L201.8,137.24 L202.3,137.18 L202.8,137.29 L203.3,137.29 L203.8,137.14 L204.3,137.15 L204.8,137.30 L205.3,137.47 L205.8,137.78 L206.3,137.86 L206.8,137.68 L207.3,137.46 L207.8,137.32 L208.3,137.49 L208.8,137.62 L209.3,137.79 L209.8,137.66 L210.3,137.20 L210.8,137.18 L211.3,137.35 L211.8,137.36 L212.3,137.22 L212.8,137.26 L213.3,137.56 L213.8,137.67 L214.3,137.50 L214.8,137.27 L215.3,137.39 L215.8,137.63 L216.3,137.40 L216.8,137.19 L217.3,137.51 L217.8,137.73 L218.3,137.62 L218.8,137.51 L219.3,137.39 L219.8,137.25 L220.3,137.25 L220.8,137.29 L221.3,137.44 L221.8,137.41 L222.3,137.09 L222.8,137.01 L223.3,137.19 L223.8,137.36 L224.3,137.12 L224.8,136.78 L225.3,136.92 L225.8,137.27 L226.3,137.11 L226.8,136.45 L227.3,136.40 L227.8,136.55 L228.3,136.07 L228.8,135.88 L229.3,136.23 L229.8,136.23 L230.3,135.92 L230.8,135.84 L231.3,135.92 L231.8,135.90 L232.3,135.72 L232.8,135.44 L233.3,135.10 L233.8,134.95 L234.3,135.08 L234.8,135.19 L235.3,134.93 L235.8,134.61 L236.3,134.66 L236.8,134.60 L237.3,134.25 L237.8,133.97 L238.3,133.64 L238.8,133.34 L239.3,133.40 L239.8,133.28 L240.3,133.00 L240.8,132.75 L241.3,132.29 L241.8,131.98 L242.3,132.08 L242.8,131.93 L243.3,131.30 L243.8,131.05 L244.3,130.92 L244.8,130.50 L245.3,129.91 L245.8,128.85 L246.3,128.09 L246.8,127.81 L247.3,127.18 L247.8,126.42 L248.3,125.91 L248.8,125.54 L249.3,124.78 L249.8,123.80 L250.3,123.16 L250.8,122.52 L251.3,121.89 L251.8,121.37 L252.3,121.00 L252.8,120.88 L253.3,120.87 L253.8,121.21 L254.3,121.82 L254.8,122.36 L255.3,123.04 L255.8,124.08 L256.3,125.00 L256.8,125.89 L257.3,126.97 L257.8,127.76 L258.3,128.32 L258.8,129.19 L259.3,130.24 L259.8,130.98 L260.3,131.48 L260.8,132.17 L261.3,133.00 L261.8,133.97 L262.3,135.10 L262.8,135.97 L263.3,136.38 L263.8,136.52 L264.3,136.58 L264.8,136.90 L265.3,137.47 L265.8,137.87 L266.3,137.73 L266.8,137.48 L267.3,137.44 L267.8,137.39 L268.3,137.37 L268.8,137.55 L269.3,137.92 L269.8,138.16 L270.3,138.12 L270.8,138.28 L271.3,138.35 L271.8,138.21 L272.3,138.28 L272.8,138.14 L273.3,137.87 L273.8,137.89 L274.3,137.89 L274.8,137.82 L275.3,137.85 L275.8,137.98 L276.3,137.94 L276.8,137.79 L277.3,137.68 L277.8,137.64 L278.3,137.93 L278.8,138.16 L279.3,138.12 L279.8,138.14 L280.3,138.08 L280.8,137.89 L281.3,137.87" fill="none" stroke="#0072bd" stroke-width="1.15" stroke-linejoin="round"/>
<path d="M41.3,136.29 L41.8,136.26 L42.3,136.07 L42.8,136.16 L43.3,136.78 L43.8,136.95 L44.3,136.72 L44.8,136.75 L45.3,136.67 L45.8,136.57 L46.3,136.60 L46.8,136.40 L47.3,136.12 L47.8,136.05 L48.3,136.08 L48.8,136.06 L49.3,135.93 L49.8,135.77 L50.3,135.65 L50.8,135.65 L51.3,135.79 L51.8,135.81 L52.3,135.75 L52.8,135.61 L53.3,135.48 L53.8,135.80 L54.3,135.84 L54.8,135.19 L55.3,134.80 L55.8,135.05 L56.3,135.44 L56.8,135.61 L57.3,135.66 L57.8,135.61 L58.3,135.45 L58.8,135.34 L59.3,135.33 L59.8,135.26 L60.3,135.00 L60.8,134.97 L61.3,135.29 L61.8,135.37 L62.3,134.93 L62.8,134.62 L63.3,134.80 L63.8,134.99 L64.3,135.01 L64.8,134.84 L65.3,134.61 L65.8,134.83 L66.3,134.82 L66.8,134.43 L67.3,134.56 L67.8,134.77 L68.3,134.69 L68.8,134.85 L69.3,134.96 L69.8,134.58 L70.3,134.17 L70.8,134.12 L71.3,134.23 L71.8,134.17 L72.3,134.06 L72.8,134.11 L73.3,134.07 L73.8,133.72 L74.3,133.33 L74.8,133.43 L75.3,133.92 L75.8,134.16 L76.3,134.15 L76.8,133.88 L77.3,133.66 L77.8,133.73 L78.3,133.58 L78.8,133.28 L79.3,133.45 L79.8,133.82 L80.3,133.75 L80.8,133.49 L81.3,133.24 L81.8,133.17 L82.3,133.26 L82.8,133.07 L83.3,132.80 L83.8,132.69 L84.3,132.61 L84.8,132.74 L85.3,132.73 L85.8,132.56 L86.3,132.50 L86.8,132.28 L87.3,132.03 L87.8,131.87 L88.3,131.81 L88.8,131.76 L89.3,131.53 L89.8,131.30 L90.3,131.13 L90.8,130.91 L91.3,130.78 L91.8,130.95 L92.3,131.21 L92.8,131.31 L93.3,131.44 L93.8,131.53 L94.3,131.18 L94.8,131.03 L95.3,131.14 L95.8,131.07 L96.3,131.13 L96.8,131.26 L97.3,131.30 L97.8,131.45 L98.3,131.90 L98.8,132.16 L99.3,132.47 L99.8,133.14 L100.3,133.43 L100.8,133.34 L101.3,133.34 L101.8,133.53 L102.3,133.80 L102.8,134.08 L103.3,134.12 L103.8,133.89 L104.3,133.77 L104.8,133.67 L105.3,133.54 L105.8,133.60 L106.3,133.77 L106.8,133.95 L107.3,133.84 L107.8,133.51 L108.3,133.36 L108.8,133.43 L109.3,133.52 L109.8,133.29 L110.3,132.94 L110.8,132.61 L111.3,132.47 L111.8,132.50 L112.3,132.42 L112.8,132.18 L113.3,131.96 L113.8,131.92 L114.3,131.95 L114.8,131.98 L115.3,131.84 L115.8,131.50 L116.3,131.15 L116.8,130.95 L117.3,130.72 L117.8,130.54 L118.3,130.50 L118.8,130.41 L119.3,130.45 L119.8,130.55 L120.3,130.50 L120.8,130.25 L121.3,130.02 L121.8,130.14 L122.3,130.21 L122.8,130.27 L123.3,130.66 L123.8,130.86 L124.3,131.00 L124.8,131.37 L125.3,131.58 L125.8,131.56 L126.3,131.63 L126.8,132.00 L127.3,132.24 L127.8,132.39 L128.3,132.78 L128.8,132.81 L129.3,132.67 L129.8,132.90 L130.3,133.25 L130.8,133.71 L131.3,133.80 L131.8,133.47 L132.3,133.41 L132.8,133.55 L133.3,133.67 L133.8,133.80 L134.3,133.58 L134.8,133.23 L135.3,132.88 L135.8,132.52 L136.3,132.63 L136.8,132.74 L137.3,132.41 L137.8,132.20 L138.3,132.42 L138.8,132.53 L139.3,132.06 L139.8,131.75 L140.3,131.68 L140.8,131.39 L141.3,131.31 L141.8,131.37 L142.3,131.28 L142.8,131.19 L143.3,131.25 L143.8,130.97 L144.3,130.35 L144.8,130.18 L145.3,130.55 L145.8,130.82 L146.3,130.63 L146.8,130.35 L147.3,130.25 L147.8,130.22 L148.3,130.07 L148.8,129.70 L149.3,129.45 L149.8,129.57 L150.3,129.35 L150.8,128.98 L151.3,129.05 L151.8,128.75 L152.3,127.96 L152.8,127.55 L153.3,127.62 L153.8,127.43 L154.3,126.73 L154.8,126.30 L155.3,126.19 L155.8,125.70 L156.3,125.38 L156.8,125.41 L157.3,124.73 L157.8,123.37 L158.3,122.08 L158.8,120.86 L159.3,119.64 L159.8,118.73 L160.3,117.67 L160.8,116.26 L161.3,115.02 L161.8,113.86 L162.3,112.35 L162.8,110.63 L163.3,108.77 L163.8,106.56 L164.3,104.28 L164.8,102.07 L165.3,100.08 L165.8,97.98 L166.3,95.70 L166.8,93.50 L167.3,91.09 L167.8,88.70 L168.3,86.76 L168.8,85.99 L169.3,86.61 L169.8,87.15 L170.3,87.54 L170.8,88.79 L171.3,90.73 L171.8,93.42 L172.3,97.37 L172.8,101.77 L173.3,106.10 L173.8,110.06 L174.3,114.08 L174.8,117.82 L175.3,121.07 L175.8,123.69 L176.3,125.85 L176.8,127.73 L177.3,129.61 L177.8,131.44 L178.3,132.68 L178.8,133.46 L179.3,134.14 L179.8,134.78 L180.3,135.49 L180.8,135.76 L181.3,135.88 L181.8,136.48 L182.3,136.69 L182.8,136.47 L183.3,136.76 L183.8,137.02 L184.3,136.93 L184.8,137.05 L185.3,137.38 L185.8,137.72 L186.3,138.12 L186.8,138.31 L187.3,138.14 L187.8,138.08 L188.3,138.08 L188.8,137.89 L189.3,137.58 L189.8,137.42 L190.3,137.74 L190.8,138.26 L191.3,138.50 L191.8,138.39 L192.3,138.15 L192.8,138.12 L193.3,138.46 L193.8,138.49 L194.3,138.15 L194.8,137.98 L195.3,138.09 L195.8,138.39 L196.3,138.39 L196.8,138.24 L197.3,138.30 L197.8,138.28 L198.3,138.03 L198.8,137.78 L199.3,137.64 L199.8,137.77 L200.3,138.34 L200.8,138.52 L201.3,138.09 L201.8,138.09 L202.3,138.19 L202.8,138.06 L203.3,138.02 L203.8,138.10 L204.3,138.25 L204.8,138.19 L205.3,138.20 L205.8,138.27 L206.3,137.96 L206.8,137.70 L207.3,137.93 L207.8,138.23 L208.3,138.21 L208.8,138.05 L209.3,137.93 L209.8,138.10 L210.3,138.26 L210.8,138.36 L211.3,138.44 L211.8,138.11 L212.3,137.67 L212.8,137.73 L213.3,138.10 L213.8,138.23 L214.3,138.26 L214.8,138.36 L215.3,138.49 L215.8,138.36 L216.3,138.05 L216.8,138.08 L217.3,138.06 L217.8,137.93 L218.3,138.19 L218.8,138.37 L219.3,138.16 L219.8,137.93 L220.3,137.74 L220.8,137.60 L221.3,137.61 L221.8,137.64 L222.3,137.62 L222.8,137.62 L223.3,137.78 L223.8,137.76 L224.3,137.55 L224.8,137.42 L225.3,137.01 L225.8,136.86 L226.3,137.23 L226.8,137.47 L227.3,137.32 L227.8,137.07 L228.3,137.16 L228.8,137.43 L229.3,137.51 L229.8,137.37 L230.3,137.17 L230.8,136.97 L231.3,136.91 L231.8,137.01 L232.3,136.99 L232.8,136.73 L233.3,136.68 L233.8,137.04 L234.3,137.22 L234.8,136.99 L235.3,136.71 L235.8,136.64 L236.3,136.74 L236.8,136.82 L237.3,136.79 L237.8,136.42 L238.3,135.98 L238.8,135.79 L239.3,135.61 L239.8,135.64 L240.3,135.91 L240.8,135.65 L241.3,135.23 L241.8,135.16 L242.3,134.68 L242.8,134.04 L243.3,133.70 L243.8,133.12 L244.3,132.16 L244.8,131.34 L245.3,130.86 L245.8,129.92 L246.3,128.69 L246.8,128.00 L247.3,127.18 L247.8,126.05 L248.3,125.11 L248.8,124.12 L249.3,123.12 L249.8,122.47 L250.3,121.78 L250.8,120.83 L251.3,120.21 L251.8,119.60 L252.3,119.13 L252.8,119.08 L253.3,119.17 L253.8,119.56 L254.3,120.24 L254.8,121.06 L255.3,122.28 L255.8,123.66 L256.3,124.40 L256.8,125.19 L257.3,126.25 L257.8,127.46 L258.3,128.70 L258.8,129.76 L259.3,130.96 L259.8,132.01 L260.3,132.90 L260.8,134.00 L261.3,135.14 L261.8,136.04 L262.3,136.16 L262.8,136.04 L263.3,136.22 L263.8,136.64 L264.3,137.08 L264.8,137.28 L265.3,137.42 L265.8,137.68 L266.3,138.08 L266.8,138.21 L267.3,137.93 L267.8,137.86 L268.3,137.89 L268.8,137.81 L269.3,137.88 L269.8,138.17 L270.3,138.47 L270.8,138.44 L271.3,138.42 L271.8,138.59 L272.3,138.60 L272.8,138.54 L273.3,138.50 L273.8,138.47 L274.3,138.63 L274.8,138.66 L275.3,138.40 L275.8,138.43 L276.3,138.76 L276.8,139.00 L277.3,139.00 L277.8,138.84 L278.3,138.65 L278.8,138.62 L279.3,138.69 L279.8,138.71 L280.3,138.51 L280.8,138.52 L281.3,138.62" fill="none" stroke="#d95319" stroke-width="1.15" stroke-linejoin="round"/>
<rect x="41.4" y="13.2" width="240.6" height="125.9" fill="none" stroke="#231f20" stroke-width="1.1"/>
<line x1="71.125" y1="139.5" x2="71.125" y2="136.5" stroke="#231f20" stroke-width="1"/>
<line x1="71.125" y1="12.5" x2="71.125" y2="15.5" stroke="#231f20" stroke-width="1"/>
<text x="71.125" y="154.3" font-size="12.4" text-anchor="middle" fill="#231f20" font-weight="normal" font-style="normal">30</text>
<line x1="131.375" y1="139.5" x2="131.375" y2="136.5" stroke="#231f20" stroke-width="1"/>
<line x1="131.375" y1="12.5" x2="131.375" y2="15.5" stroke="#231f20" stroke-width="1"/>
<text x="131.375" y="154.3" font-size="12.4" text-anchor="middle" fill="#231f20" font-weight="normal" font-style="normal">20</text>
<line x1="191.625" y1="139.5" x2="191.625" y2="136.5" stroke="#231f20" stroke-width="1"/>
<line x1="191.625" y1="12.5" x2="191.625" y2="15.5" stroke="#231f20" stroke-width="1"/>
<text x="191.625" y="154.3" font-size="12.4" text-anchor="middle" fill="#231f20" font-weight="normal" font-style="normal">10</text>
<line x1="251.875" y1="139.5" x2="251.875" y2="136.5" stroke="#231f20" stroke-width="1"/>
<line x1="251.875" y1="12.5" x2="251.875" y2="15.5" stroke="#231f20" stroke-width="1"/>
<text x="251.875" y="154.3" font-size="12.4" text-anchor="middle" fill="#231f20" font-weight="normal" font-style="normal">0</text>
<line x1="41" y1="76.3" x2="44" y2="76.3" stroke="#231f20" stroke-width="1"/>
<line x1="282" y1="76.3" x2="279" y2="76.3" stroke="#231f20" stroke-width="1"/>
<text x="161.5" y="173.5" font-size="12.8" text-anchor="middle" fill="#231f20" font-weight="normal" font-style="normal">Energy below <tspan font-style="italic">D</tspan><tspan font-size="9.5" dy="-4.8">−</tspan><tspan dy="4.8"> (meV)</tspan></text>
<text x="30.6" y="75.6" font-size="12.9" text-anchor="middle" fill="#231f20" font-weight="normal" font-style="normal" transform="rotate(-90 30.6 75.6)">Intensity (a.u.)</text>
<text x="1.0" y="10.0" font-size="19.5" text-anchor="start" fill="#000" font-weight="bold" font-style="normal">a</text>
<rect x="39.85" y="206.3" width="241.65" height="139.2" fill="none" stroke="#000" stroke-width="1.1"/>
<line x1="69.8125" y1="345.3" x2="69.8125" y2="342.3" stroke="#000" stroke-width="1"/>
<line x1="69.8125" y1="206" x2="69.8125" y2="209" stroke="#000" stroke-width="1"/>
<text x="69.8125" y="360.0" font-size="12.4" text-anchor="middle" fill="#231f20" font-weight="normal" font-style="normal">30</text>
<line x1="130.4375" y1="345.3" x2="130.4375" y2="342.3" stroke="#000" stroke-width="1"/>
<line x1="130.4375" y1="206" x2="130.4375" y2="209" stroke="#000" stroke-width="1"/>
<text x="130.4375" y="360.0" font-size="12.4" text-anchor="middle" fill="#231f20" font-weight="normal" font-style="normal">20</text>
<line x1="191.0625" y1="345.3" x2="191.0625" y2="342.3" stroke="#000" stroke-width="1"/>
<line x1="191.0625" y1="206" x2="191.0625" y2="209" stroke="#000" stroke-width="1"/>
<text x="191.0625" y="360.0" font-size="12.4" text-anchor="middle" fill="#231f20" font-weight="normal" font-style="normal">10</text>
<line x1="251.6875" y1="345.3" x2="251.6875" y2="342.3" stroke="#000" stroke-width="1"/>
<line x1="251.6875" y1="206" x2="251.6875" y2="209" stroke="#000" stroke-width="1"/>
<text x="251.6875" y="360.0" font-size="12.4" text-anchor="middle" fill="#231f20" font-weight="normal" font-style="normal">0</text>
<line x1="39.5" y1="206.0" x2="42.5" y2="206.0" stroke="#000" stroke-width="1"/>
<line x1="282" y1="206.0" x2="279" y2="206.0" stroke="#000" stroke-width="1"/>
<text x="34.4" y="210.3" font-size="12.4" text-anchor="end" fill="#231f20" font-weight="normal" font-style="normal">5</text>
<line x1="39.5" y1="275.65" x2="42.5" y2="275.65" stroke="#000" stroke-width="1"/>
<line x1="282" y1="275.65" x2="279" y2="275.65" stroke="#000" stroke-width="1"/>
<text x="34.4" y="279.95" font-size="12.4" text-anchor="end" fill="#231f20" font-weight="normal" font-style="normal">0</text>
<line x1="39.5" y1="345.3" x2="42.5" y2="345.3" stroke="#000" stroke-width="1"/>
<line x1="282" y1="345.3" x2="279" y2="345.3" stroke="#000" stroke-width="1"/>
<text x="34.4" y="349.6" font-size="12.4" text-anchor="end" fill="#231f20" font-weight="normal" font-style="normal">−5</text>
<text x="161" y="379.5" font-size="12.8" text-anchor="middle" fill="#231f20" font-weight="normal" font-style="normal">Energy below <tspan font-style="italic">D</tspan><tspan font-size="9.5" dy="-4.8">−</tspan><tspan dy="4.8"> (meV)</tspan></text>
<text x="9.9" y="275.3" font-size="12.9" text-anchor="middle" fill="#231f20" font-weight="normal" font-style="normal" transform="rotate(-90 9.9 275.3)">Magnetic field (T)</text>
<text x="1.0" y="206.4" font-size="19.5" text-anchor="start" fill="#000" font-weight="bold" font-style="normal">b</text>
<rect x="405.5" y="8.5" width="231" height="131" fill="none" stroke="#000" stroke-width="1.1"/>
<line x1="463.25000000000006" y1="139" x2="463.25000000000006" y2="136" stroke="#000" stroke-width="1"/>
<line x1="463.25000000000006" y1="8.5" x2="463.25000000000006" y2="11.5" stroke="#000" stroke-width="1"/>
<text x="463.25000000000006" y="154.3" font-size="12.4" text-anchor="middle" fill="#231f20" font-weight="normal" font-style="normal">1.65</text>
<line x1="521.0000000000001" y1="139" x2="521.0000000000001" y2="136" stroke="#000" stroke-width="1"/>
<line x1="521.0000000000001" y1="8.5" x2="521.0000000000001" y2="11.5" stroke="#000" stroke-width="1"/>
<text x="521.0000000000001" y="154.3" font-size="12.4" text-anchor="middle" fill="#231f20" font-weight="normal" font-style="normal">1.66</text>
<line x1="578.7500000000001" y1="139" x2="578.7500000000001" y2="136" stroke="#000" stroke-width="1"/>
<line x1="578.7500000000001" y1="8.5" x2="578.7500000000001" y2="11.5" stroke="#000" stroke-width="1"/>
<text x="578.7500000000001" y="154.3" font-size="12.4" text-anchor="middle" fill="#231f20" font-weight="normal" font-style="normal">1.67</text>
<line x1="405.5" y1="8.5" x2="408.5" y2="8.5" stroke="#000" stroke-width="1"/>
<line x1="636.5" y1="8.5" x2="633.5" y2="8.5" stroke="#000" stroke-width="1"/>
<text x="400.0" y="12.9" font-size="12.4" text-anchor="end" fill="#231f20" font-weight="normal" font-style="normal">0.5</text>
<line x1="405.5" y1="52.0" x2="408.5" y2="52.0" stroke="#000" stroke-width="1"/>
<line x1="636.5" y1="52.0" x2="633.5" y2="52.0" stroke="#000" stroke-width="1"/>
<text x="400.0" y="56.4" font-size="12.4" text-anchor="end" fill="#231f20" font-weight="normal" font-style="normal">0.0</text>
<line x1="405.5" y1="95.5" x2="408.5" y2="95.5" stroke="#000" stroke-width="1"/>
<line x1="636.5" y1="95.5" x2="633.5" y2="95.5" stroke="#000" stroke-width="1"/>
<text x="400.0" y="99.9" font-size="12.4" text-anchor="end" fill="#231f20" font-weight="normal" font-style="normal">−0.5</text>
<line x1="405.5" y1="139.0" x2="408.5" y2="139.0" stroke="#000" stroke-width="1"/>
<line x1="636.5" y1="139.0" x2="633.5" y2="139.0" stroke="#000" stroke-width="1"/>
<text x="400.0" y="143.4" font-size="12.4" text-anchor="end" fill="#231f20" font-weight="normal" font-style="normal">−1.0</text>
<text x="521" y="173.3" font-size="12.7" text-anchor="middle" fill="#231f20" font-weight="normal" font-style="normal">Energy (eV)</text>
<text x="361.4" y="73.8" font-size="12.9" text-anchor="middle" fill="#231f20" font-weight="normal" font-style="normal" transform="rotate(-90 361.4 73.8)">Gate voltage (V)</text>
<text x="352.8" y="10.1" font-size="19.5" text-anchor="start" fill="#000" font-weight="bold" font-style="normal">c</text>
<line x1="383.8" y1="35.9" x2="396.5" y2="35.9" stroke="#eb7a2c" stroke-width="2.3"/><path d="M395.2,32.1 L404.0,35.9 L395.2,39.9 Z" fill="#eb7a2c"/>
<rect x="406.5" y="204.5" width="231" height="141" fill="none" stroke="#000" stroke-width="1.1"/>
<line x1="463.87500000000006" y1="345.5" x2="463.87500000000006" y2="342.5" stroke="#000" stroke-width="1"/>
<line x1="463.87500000000006" y1="204" x2="463.87500000000006" y2="207" stroke="#000" stroke-width="1"/>
<text x="463.87500000000006" y="360.3" font-size="12.4" text-anchor="middle" fill="#231f20" font-weight="normal" font-style="normal">1.65</text>
<line x1="521.7500000000001" y1="345.5" x2="521.7500000000001" y2="342.5" stroke="#000" stroke-width="1"/>
<line x1="521.7500000000001" y1="204" x2="521.7500000000001" y2="207" stroke="#000" stroke-width="1"/>
<text x="521.7500000000001" y="360.3" font-size="12.4" text-anchor="middle" fill="#231f20" font-weight="normal" font-style="normal">1.66</text>
<line x1="579.6250000000001" y1="345.5" x2="579.6250000000001" y2="342.5" stroke="#000" stroke-width="1"/>
<line x1="579.6250000000001" y1="204" x2="579.6250000000001" y2="207" stroke="#000" stroke-width="1"/>
<text x="579.6250000000001" y="360.3" font-size="12.4" text-anchor="middle" fill="#231f20" font-weight="normal" font-style="normal">1.67</text>
<line x1="406" y1="204.3" x2="409" y2="204.3" stroke="#000" stroke-width="1"/>
<line x1="637.5" y1="204.3" x2="634.5" y2="204.3" stroke="#000" stroke-width="1"/>
<text x="401.6" y="208.70000000000002" font-size="12.4" text-anchor="end" fill="#231f20" font-weight="normal" font-style="normal">9</text>
<line x1="406" y1="274.4" x2="409" y2="274.4" stroke="#000" stroke-width="1"/>
<line x1="637.5" y1="274.4" x2="634.5" y2="274.4" stroke="#000" stroke-width="1"/>
<text x="401.6" y="278.79999999999995" font-size="12.4" text-anchor="end" fill="#231f20" font-weight="normal" font-style="normal">0</text>
<line x1="406" y1="344.5" x2="409" y2="344.5" stroke="#000" stroke-width="1"/>
<line x1="637.5" y1="344.5" x2="634.5" y2="344.5" stroke="#000" stroke-width="1"/>
<text x="401.6" y="348.9" font-size="12.4" text-anchor="end" fill="#231f20" font-weight="normal" font-style="normal">−9</text>
<text x="521.5" y="379.6" font-size="12.7" text-anchor="middle" fill="#231f20" font-weight="normal" font-style="normal">Energy (eV)</text>
<text x="375.8" y="273.8" font-size="12.9" text-anchor="middle" fill="#231f20" font-weight="normal" font-style="normal" transform="rotate(-90 375.8 273.8)">Magnetic field (T)</text>
<text x="352.8" y="206.4" font-size="19.5" text-anchor="start" fill="#000" font-weight="bold" font-style="normal">d</text>
<rect x="287.1" y="227.7" width="11.799999999999955" height="96.0" fill="none" stroke="#000" stroke-width="1.1"/>
<line x1="298.9" y1="237.4" x2="296.4" y2="237.4" stroke="#000" stroke-width="1"/>
<text x="303.5" y="241.70000000000002" font-size="12" text-anchor="start" fill="#231f20" font-weight="normal" font-style="normal">10</text>
<line x1="298.9" y1="275.9" x2="296.4" y2="275.9" stroke="#000" stroke-width="1"/>
<text x="303.5" y="280.2" font-size="12" text-anchor="start" fill="#231f20" font-weight="normal" font-style="normal">8</text>
<line x1="298.9" y1="314.4" x2="296.4" y2="314.4" stroke="#000" stroke-width="1"/>
<text x="303.5" y="318.7" font-size="12" text-anchor="start" fill="#231f20" font-weight="normal" font-style="normal">6</text>
<text x="333.4" y="275.5" font-size="11.2" text-anchor="middle" fill="#231f20" font-weight="normal" font-style="normal" transform="rotate(-90 333.4 275.5)">Log (PL) (a.u.)</text>
<rect x="641.6" y="28.6" width="11.299999999999955" height="89.5" fill="none" stroke="#000" stroke-width="1.1"/>
<line x1="652.9" y1="44.1" x2="650.4" y2="44.1" stroke="#000" stroke-width="1"/>
<text x="658.5" y="48.4" font-size="12" text-anchor="start" fill="#231f20" font-weight="normal" font-style="normal">8</text>
<line x1="652.9" y1="65.2" x2="650.4" y2="65.2" stroke="#000" stroke-width="1"/>
<text x="658.5" y="69.5" font-size="12" text-anchor="start" fill="#231f20" font-weight="normal" font-style="normal">7</text>
<line x1="652.9" y1="86.4" x2="650.4" y2="86.4" stroke="#000" stroke-width="1"/>
<text x="658.5" y="90.7" font-size="12" text-anchor="start" fill="#231f20" font-weight="normal" font-style="normal">6</text>
<line x1="652.9" y1="107.5" x2="650.4" y2="107.5" stroke="#000" stroke-width="1"/>
<text x="658.5" y="111.8" font-size="12" text-anchor="start" fill="#231f20" font-weight="normal" font-style="normal">5</text>
<text x="681.8" y="75.0" font-size="11.2" text-anchor="middle" fill="#231f20" font-weight="normal" font-style="normal" transform="rotate(-90 681.8 75.0)">Log (PL) (a.u.)</text>
<rect x="641.6" y="229.6" width="11.0" height="91.29999999999998" fill="none" stroke="#000" stroke-width="1.1"/>
<line x1="652.6" y1="241.2" x2="650.1" y2="241.2" stroke="#000" stroke-width="1"/>
<text x="658.5" y="245.5" font-size="12" text-anchor="start" fill="#231f20" font-weight="normal" font-style="normal">8</text>
<line x1="652.6" y1="263.9" x2="650.1" y2="263.9" stroke="#000" stroke-width="1"/>
<text x="658.5" y="268.2" font-size="12" text-anchor="start" fill="#231f20" font-weight="normal" font-style="normal">7</text>
<line x1="652.6" y1="286.7" x2="650.1" y2="286.7" stroke="#000" stroke-width="1"/>
<text x="658.5" y="291.0" font-size="12" text-anchor="start" fill="#231f20" font-weight="normal" font-style="normal">6</text>
<line x1="652.6" y1="309.4" x2="650.1" y2="309.4" stroke="#000" stroke-width="1"/>
<text x="658.5" y="313.7" font-size="12" text-anchor="start" fill="#231f20" font-weight="normal" font-style="normal">5</text>
<text x="681.8" y="274.1" font-size="11.2" text-anchor="middle" fill="#231f20" font-weight="normal" font-style="normal" transform="rotate(-90 681.8 274.1)">Log (PL) (a.u.)</text>
<path d="M52,28.4 Q64.5,37.6 77.1,28.4" fill="none" stroke="#3a7bbf" stroke-width="1.35" stroke-linecap="butt"/>
<path d="M51.4,38.3 Q64.3,46.900000000000006 77.1,38.3" fill="none" stroke="#ff1a1a" stroke-width="1.35" stroke-linecap="butt"/>
<path d="M94,27.8 Q106.3,37.0 119.2,27.8" fill="none" stroke="#ff1a1a" stroke-width="1.35" stroke-linecap="butt"/>
<path d="M94,37.5 Q106.3,46.7 119.2,37.5" fill="none" stroke="#3a7bbf" stroke-width="1.35" stroke-linecap="butt"/>
<path d="M51.8,77.1 Q64.6,66.5 77.4,77.1" fill="none" stroke="#3a7bbf" stroke-width="1.35" stroke-linecap="butt"/>
<path d="M93.9,76.6 Q106.4,67.0 118.8,76.6" fill="none" stroke="#ff1a1a" stroke-width="1.35" stroke-linecap="butt"/>
<path d="M51.8,94.2 Q64.6,83.8 77.4,94.2" fill="none" stroke="#ff1a1a" stroke-width="1.35" stroke-linecap="butt"/>
<path d="M93.9,93.6 Q106.4,83.80000000000001 118.8,93.6" fill="none" stroke="#3a7bbf" stroke-width="1.35" stroke-linecap="butt"/>
<circle cx="64.4" cy="32.9" r="2.1" fill="#3a7bbf" stroke="#1d4f8f" stroke-width="0.9" stroke-dasharray="1.2 0.8"/>
<circle cx="64.2" cy="42.5" r="2.2" fill="#ff0000" stroke="#d00000" stroke-width="0.6"/>
<circle cx="107" cy="41.5" r="2.2" fill="#3a7bbf" stroke="#0d2b66" stroke-width="1.0"/>
<circle cx="64.6" cy="72.5" r="2.1" fill="#fff" stroke="#14286a" stroke-width="1.1"/>
<line x1="101.5" y1="44" x2="72" y2="35.3" stroke="#7030a0" stroke-width="1.25"/>
<path d="M69,33.9 L73.6,32.6 L72.3,37.2 Z" fill="#7030a0"/>
<path d="M85.9,41.7 L88.4,43.6 L86.0,45.2 L89.6,46.9 L87.4,48.4 L91.0,50.0 L90.4,51.6" fill="none" stroke="#7030a0" stroke-width="1.2" stroke-linejoin="miter"/>
<path d="M89.0,51.2 L94.6,50.9 L92.9,56.0 Z" fill="#7030a0"/>
<path d="M58.8,34.2 L53.6,37.4 L58.0,40.4 Z" fill="#111"/>
<line x1="53.6" y1="43.0" x2="53.1" y2="47.6" stroke="#111" stroke-width="1.5"/>
<path d="M57.5,53.2 C55.5,51.2 50,51.5 49.0,54.3 C48.2,56.8 51.5,57.6 53.4,55.4 C54.6,58.0 51.0,60.0 50.2,60.6" fill="none" stroke="#111" stroke-width="1.7" stroke-linecap="round"/>
<line x1="54.3" y1="61.6" x2="57.4" y2="65.4" stroke="#111" stroke-width="1.6"/>
<path d="M59.8,68.4 L54.9,66.4 L58.8,63.0 Z" fill="#111"/>
<text x="60.4" y="23.7" font-size="10.6" fill="#231f20" font-style="italic" text-anchor="start">K</text>
<text x="101.8" y="23.7" font-size="10.6" fill="#231f20" font-style="italic" text-anchor="start">−K</text>
<text x="61.6" y="59.1" font-size="10.6" fill="#333" font-style="italic" text-anchor="start">σ<tspan font-size="7" font-style="normal" dy="-4.6">+</tspan></text>
<text x="73.9" y="59.1" font-size="10.6" fill="#333" font-style="italic" text-anchor="start">D</text>
<text x="82.0" y="52.8" font-size="7" fill="#333" font-style="normal" text-anchor="start">−</text>
<text x="81.9" y="63.9" font-size="8.4" fill="#333" font-style="italic" text-anchor="start">K</text>
<text x="87.6" y="64.6" font-size="7.4" fill="#333" font-style="normal" text-anchor="start">3</text>
<text x="99.0" y="55.4" font-size="10.9" fill="#7030a0" font-style="normal" text-anchor="start">Emit <tspan font-style="italic">K</tspan><tspan font-size="7.6" dy="3.4">3</tspan></text>
<text x="99.0" y="67.4" font-size="10.9" fill="#7030a0" font-style="normal" text-anchor="start">phonon</text>
<text x="180.0" y="37.4" font-size="11.5" fill="#231f20" font-style="italic" text-anchor="start">T</text>
<text x="186.4" y="40.3" font-size="7.2" fill="#231f20" font-style="normal" text-anchor="start">1</text>
<line x1="215.7" y1="30.5" x2="230.6" y2="30.5" stroke="#3a8ad0" stroke-width="1.3"/>
<line x1="215.7" y1="42.8" x2="230.6" y2="42.8" stroke="#e8825a" stroke-width="1.3"/>
<text x="234.6" y="33.9" font-size="10.2" fill="#333" font-style="italic" text-anchor="start">σ<tspan font-size="7" font-style="normal" dy="-4.5">+</tspan><tspan dy="4.5">/σ</tspan><tspan font-size="7" font-style="normal" dy="-4.5">+</tspan></text>
<text x="234.6" y="46.2" font-size="10.2" fill="#333" font-style="italic" text-anchor="start">σ<tspan font-size="7" font-style="normal" dy="-4.5">+</tspan><tspan dy="4.5">/σ</tspan><tspan font-size="7" font-style="normal" dy="-4.5">−</tspan></text>
<g>
<text x="84.9" y="115.4" font-size="11" fill="#231f20" font-style="italic" text-anchor="start">D</text>
<text x="93.2" y="110.0" font-size="7.0" fill="#231f20" font-style="normal" text-anchor="start">−</text>
<text x="93.4" y="119.2" font-size="6.9" fill="#231f20" font-style="italic" text-anchor="start">K</text>
<text x="98.0" y="120.4" font-size="6.6" fill="#231f20" font-style="normal" text-anchor="start">3</text>
</g>
<g>
<text x="116.8" y="115.4" font-size="11" fill="#231f20" font-style="italic" text-anchor="start">D</text>
<text x="125.1" y="110.0" font-size="7.0" fill="#231f20" font-style="normal" text-anchor="start">−</text>
<text x="125.5" y="119.2" font-size="6.9" fill="#231f20" font-style="normal" text-anchor="start">Γ</text>
<text x="129.7" y="120.4" font-size="6.6" fill="#231f20" font-style="normal" text-anchor="start">5</text>
</g>
<g>
<text x="254.6" y="117.7" font-size="11" fill="#231f20" font-style="italic" text-anchor="start">D</text>
<text x="262.9" y="112.3" font-size="7.5" fill="#231f20" font-style="normal" text-anchor="start">−</text>
</g>
<text x="52.3" y="226.4" font-size="12.2" fill="#f4e6f2" font-style="italic" text-anchor="start" opacity="0.92">σ<tspan font-size="8" font-style="normal" dy="-5.8">−</tspan><tspan dy="5.8">/σ</tspan><tspan font-size="8" font-style="normal" dy="-5.8">−</tspan></text>
<line x1="193.7" y1="237.6" x2="186.6" y2="222.5" stroke="#fff" stroke-width="1.5"/>
<path d="M185,218.9 L184.6,225.2 L190.0,222.8 Z" fill="#fff"/>
<g>
<text x="197.2" y="253.7" font-size="11.8" fill="#f2f2f2" font-style="italic" text-anchor="start">D</text>
<text x="205.89999999999998" y="248.39999999999998" font-size="9.0" fill="#f2f2f2" font-style="normal" text-anchor="start">−</text>
<text x="207.0" y="259.9" font-size="9.0" fill="#f2f2f2" font-style="italic" text-anchor="start">K</text>
<text x="213.0" y="260.5" font-size="6.8" fill="#f2f2f2" font-style="normal" text-anchor="start">2</text>
</g>
<text x="417.0" y="26.1" font-size="12.2" fill="#e4e8ff" font-style="italic" text-anchor="start" opacity="0.9">σ<tspan font-size="8" font-style="normal" dy="-5.8">+</tspan><tspan dy="5.8">/σ</tspan><tspan font-size="8" font-style="normal" dy="-5.8">−</tspan></text>
<line x1="493.7" y1="64.8" x2="493.7" y2="55" stroke="#fff" stroke-width="1.6"/>
<path d="M493.7,51.6 L490.9,56.6 L496.5,56.6 Z" fill="#fff"/>
<g>
<text x="491.0" y="80.5" font-size="11.2" fill="#fff" font-style="italic" text-anchor="start">D</text>
<text x="499.4" y="75.9" font-size="8.6" fill="#fff" font-style="normal" text-anchor="start">−</text>
<text x="500.4" y="84.4" font-size="8.4" fill="#fff" font-style="italic" text-anchor="start">K</text>
<text x="506.4" y="85.7" font-size="6.4" fill="#fff" font-style="normal" text-anchor="start">1</text>
</g>
<text x="419.6" y="225.2" font-size="12.2" fill="#e0e0e8" font-style="italic" text-anchor="start" opacity="0.9">σ<tspan font-size="8" font-style="normal" dy="-5.8">+</tspan><tspan dy="5.8">/σ</tspan><tspan font-size="8" font-style="normal" dy="-5.8">−</tspan></text>
<line x1="484.4" y1="289.4" x2="494.0" y2="278.8" stroke="#fff" stroke-width="1.5"/>
<path d="M496.8,275.7 L490.6,278.1 L494.6,281.8 Z" fill="#fff"/>
<g>
<text x="477.6" y="301.8" font-size="11.8" fill="#f4f4f4" font-style="italic" text-anchor="start">D</text>
<text x="486.6" y="296.8" font-size="8.8" fill="#f4f4f4" font-style="normal" text-anchor="start">−</text>
<text x="486.8" y="305.8" font-size="9.0" fill="#f4f4f4" font-style="italic" text-anchor="start">K</text>
<text x="493.1" y="306.40000000000003" font-size="6.6" fill="#f4f4f4" font-style="normal" text-anchor="start">1</text>
</g>
</svg></body></html>
